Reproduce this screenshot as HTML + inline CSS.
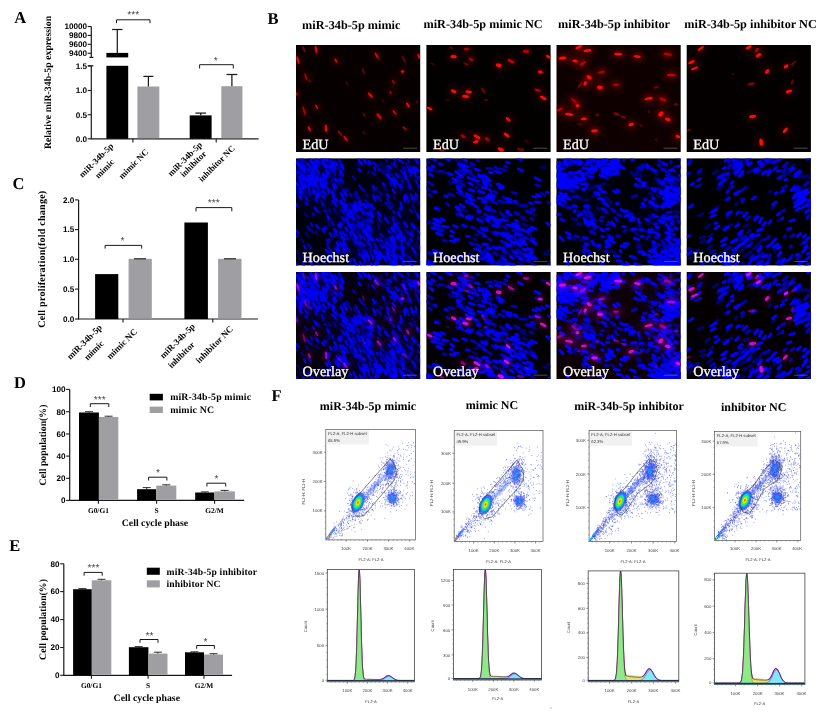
<!DOCTYPE html><html><head><meta charset="utf-8"><title>Figure</title><style>html,body{margin:0;padding:0;background:#fff}svg{display:block}</style></head><body>
<svg width="834" height="725" viewBox="0 0 834 725" text-rendering="geometricPrecision">
<rect width="834" height="725" fill="#fff"/>
<defs><filter id="b1" x="-20%" y="-20%" width="140%" height="140%"><feGaussianBlur stdDeviation="0.45"/></filter><filter id="b2" x="-20%" y="-20%" width="140%" height="140%"><feGaussianBlur stdDeviation="0.7"/></filter><filter id="b4" x="-5%" y="-5%" width="110%" height="110%"><feGaussianBlur stdDeviation="0.7"/></filter><filter id="b5" x="-20%" y="-20%" width="140%" height="140%"><feGaussianBlur stdDeviation="7"/></filter><filter id="mg" x="0" y="0" width="100%" height="100%" color-interpolation-filters="sRGB"><feColorMatrix type="matrix" values="1 0 0 0 0  0 1 0 0 0  0.88 0 1 0 0  0 0 0 1 0"/></filter><filter id="b3" x="-20%" y="-20%" width="140%" height="140%"><feGaussianBlur stdDeviation="3.2"/></filter></defs>
<text x="14.3" y="22.8" font-family="'Liberation Serif','Times New Roman',serif" font-size="16.5" font-weight="bold" text-anchor="start" fill="#000">A</text>
<text x="267.6" y="23.9" font-family="'Liberation Serif','Times New Roman',serif" font-size="16.5" font-weight="bold" text-anchor="start" fill="#000">B</text>
<text x="12.5" y="189" font-family="'Liberation Serif','Times New Roman',serif" font-size="16.5" font-weight="bold" text-anchor="start" fill="#000">C</text>
<text x="14.1" y="387.5" font-family="'Liberation Serif','Times New Roman',serif" font-size="16.5" font-weight="bold" text-anchor="start" fill="#000">D</text>
<text x="9.2" y="551" font-family="'Liberation Serif','Times New Roman',serif" font-size="16.5" font-weight="bold" text-anchor="start" fill="#000">E</text>
<text x="271.5" y="401" font-family="'Liberation Serif','Times New Roman',serif" font-size="16.5" font-weight="bold" text-anchor="start" fill="#000">F</text>
<path d="M91.3 26.4L91.3 57.4" stroke="#1a1a1a" stroke-width="1.2" fill="none"/>
<path d="M91.3 65.8L91.3 138.8" stroke="#1a1a1a" stroke-width="1.2" fill="none"/>
<path d="M89.4 57.4L93.4 57.4" stroke="#1a1a1a" stroke-width="1.2" fill="none"/>
<path d="M87.9 65.8L93.4 65.8" stroke="#1a1a1a" stroke-width="1.2" fill="none"/>
<path d="M87.7 26.5L91.3 26.5" stroke="#1a1a1a" stroke-width="1.1" fill="none"/>
<text x="87.1" y="29.3" font-family="'Liberation Sans',Arial,sans-serif" font-size="8.15" font-weight="bold" text-anchor="end" fill="#000">10000</text>
<path d="M87.7 35.4L91.3 35.4" stroke="#1a1a1a" stroke-width="1.1" fill="none"/>
<text x="87.1" y="38.2" font-family="'Liberation Sans',Arial,sans-serif" font-size="8.15" font-weight="bold" text-anchor="end" fill="#000">9800</text>
<path d="M87.7 44.3L91.3 44.3" stroke="#1a1a1a" stroke-width="1.1" fill="none"/>
<text x="87.1" y="47.1" font-family="'Liberation Sans',Arial,sans-serif" font-size="8.15" font-weight="bold" text-anchor="end" fill="#000">9600</text>
<path d="M87.7 53.3L91.3 53.3" stroke="#1a1a1a" stroke-width="1.1" fill="none"/>
<text x="87.1" y="56.1" font-family="'Liberation Sans',Arial,sans-serif" font-size="8.15" font-weight="bold" text-anchor="end" fill="#000">9400</text>
<path d="M87.7 66L91.3 66" stroke="#1a1a1a" stroke-width="1.1" fill="none"/>
<text x="87.1" y="68.8" font-family="'Liberation Sans',Arial,sans-serif" font-size="8.15" font-weight="bold" text-anchor="end" fill="#000">1.5</text>
<path d="M87.7 90.5L91.3 90.5" stroke="#1a1a1a" stroke-width="1.1" fill="none"/>
<text x="87.1" y="93.3" font-family="'Liberation Sans',Arial,sans-serif" font-size="8.15" font-weight="bold" text-anchor="end" fill="#000">1.0</text>
<path d="M87.7 114.7L91.3 114.7" stroke="#1a1a1a" stroke-width="1.1" fill="none"/>
<text x="87.1" y="117.5" font-family="'Liberation Sans',Arial,sans-serif" font-size="8.15" font-weight="bold" text-anchor="end" fill="#000">0.5</text>
<path d="M87.7 138.8L91.3 138.8" stroke="#1a1a1a" stroke-width="1.1" fill="none"/>
<text x="87.1" y="141.6" font-family="'Liberation Sans',Arial,sans-serif" font-size="8.15" font-weight="bold" text-anchor="end" fill="#000">0.0</text>
<path d="M90.7 138.8L258.6 138.8" stroke="#1a1a1a" stroke-width="1.2" fill="none"/>
<path d="M132.9 138.8L132.9 142.4" stroke="#1a1a1a" stroke-width="1.1" fill="none"/>
<path d="M216.2 138.8L216.2 142.4" stroke="#1a1a1a" stroke-width="1.1" fill="none"/>
<rect x="106.4" y="65.8" width="21.8" height="73" fill="#000"/>
<rect x="106.4" y="52.9" width="21.8" height="4.5" fill="#000"/>
<path d="M117.3 29.5L117.3 53" stroke="#1a1a1a" stroke-width="1.25" fill="none"/>
<path d="M112.1 29.5L122.5 29.5" stroke="#1a1a1a" stroke-width="1.25" fill="none"/>
<rect x="137.4" y="86.5" width="21.9" height="51.7" fill="#9f9ea2"/>
<path d="M148.4 76.4L148.4 86.5" stroke="#1a1a1a" stroke-width="1.25" fill="none"/>
<path d="M143.4 76.4L153.4 76.4" stroke="#1a1a1a" stroke-width="1.25" fill="none"/>
<rect x="189.7" y="115.4" width="21.9" height="23.4" fill="#000"/>
<path d="M200.7 113.1L200.7 115.5" stroke="#1a1a1a" stroke-width="1.25" fill="none"/>
<path d="M195.4 113.1L206 113.1" stroke="#1a1a1a" stroke-width="1.25" fill="none"/>
<rect x="221.3" y="86.2" width="21.1" height="52" fill="#9f9ea2"/>
<path d="M231.9 74.5L231.9 86.2" stroke="#1a1a1a" stroke-width="1.25" fill="none"/>
<path d="M226.5 74.5L237.3 74.5" stroke="#1a1a1a" stroke-width="1.25" fill="none"/>
<path d="M116.5 23.2V19.8H150V23.2" stroke="#1a1a1a" stroke-width="1" fill="none"/>
<text x="133.2" y="18.4" font-family="'Liberation Sans',Arial,sans-serif" font-size="10.3" font-weight="normal" text-anchor="middle" fill="#3a3a3a">***</text>
<path d="M199.6 68.5V64.7H233.3V68.5" stroke="#1a1a1a" stroke-width="1" fill="none"/>
<text x="215.8" y="63.7" font-family="'Liberation Sans',Arial,sans-serif" font-size="10.3" font-weight="normal" text-anchor="middle" fill="#3a3a3a">*</text>
<text x="50.8" y="82.5" font-family="'Liberation Serif','Times New Roman',serif" font-size="9.8" font-weight="bold" text-anchor="middle" fill="#000" transform="rotate(-90 50.8 82.5)">Relative miR-34b-5p expression</text>
<text x="98.3" y="162.3" font-family="'Liberation Serif','Times New Roman',serif" font-size="8.7" font-weight="bold" text-anchor="middle" fill="#000" transform="rotate(-45 98.3 162.3)">miR-34b-5p</text>
<text x="106.6" y="170.8" font-family="'Liberation Serif','Times New Roman',serif" font-size="8.7" font-weight="bold" text-anchor="middle" fill="#000" transform="rotate(-45 106.6 170.8)">mimic</text>
<text x="135.6" y="166" font-family="'Liberation Serif','Times New Roman',serif" font-size="8.7" font-weight="bold" text-anchor="middle" fill="#000" transform="rotate(-45 135.6 166)">mimic NC</text>
<text x="187" y="161" font-family="'Liberation Serif','Times New Roman',serif" font-size="8.7" font-weight="bold" text-anchor="middle" fill="#000" transform="rotate(-45 187 161)">miR-34b-5p</text>
<text x="195.3" y="166" font-family="'Liberation Serif','Times New Roman',serif" font-size="8.7" font-weight="bold" text-anchor="middle" fill="#000" transform="rotate(-45 195.3 166)">inhibitor</text>
<text x="218.7" y="165.6" font-family="'Liberation Serif','Times New Roman',serif" font-size="8.7" font-weight="bold" text-anchor="middle" fill="#000" transform="rotate(-45 218.7 165.6)">inhibitor NC</text>
<path d="M78.6 199.9L78.6 319.2" stroke="#1a1a1a" stroke-width="1.2" fill="none"/>
<path d="M75 199.9L78.6 199.9" stroke="#1a1a1a" stroke-width="1.1" fill="none"/>
<text x="74.4" y="202.7" font-family="'Liberation Sans',Arial,sans-serif" font-size="8.15" font-weight="bold" text-anchor="end" fill="#000">2.0</text>
<path d="M75 229.6L78.6 229.6" stroke="#1a1a1a" stroke-width="1.1" fill="none"/>
<text x="74.4" y="232.4" font-family="'Liberation Sans',Arial,sans-serif" font-size="8.15" font-weight="bold" text-anchor="end" fill="#000">1.5</text>
<path d="M75 259.3L78.6 259.3" stroke="#1a1a1a" stroke-width="1.1" fill="none"/>
<text x="74.4" y="262.1" font-family="'Liberation Sans',Arial,sans-serif" font-size="8.15" font-weight="bold" text-anchor="end" fill="#000">1.0</text>
<path d="M75 289.1L78.6 289.1" stroke="#1a1a1a" stroke-width="1.1" fill="none"/>
<text x="74.4" y="291.9" font-family="'Liberation Sans',Arial,sans-serif" font-size="8.15" font-weight="bold" text-anchor="end" fill="#000">0.5</text>
<path d="M75 319L78.6 319" stroke="#1a1a1a" stroke-width="1.1" fill="none"/>
<text x="74.4" y="321.8" font-family="'Liberation Sans',Arial,sans-serif" font-size="8.15" font-weight="bold" text-anchor="end" fill="#000">0.0</text>
<path d="M78 319L258 319" stroke="#1a1a1a" stroke-width="1.2" fill="none"/>
<path d="M123 319L123 322.6" stroke="#1a1a1a" stroke-width="1.1" fill="none"/>
<path d="M212.8 319L212.8 322.6" stroke="#1a1a1a" stroke-width="1.1" fill="none"/>
<rect x="95.1" y="274.1" width="23.2" height="44.9" fill="#000"/>
<rect x="128.6" y="258.8" width="23.2" height="59.6" fill="#9f9ea2"/>
<rect x="184.4" y="222.5" width="23.5" height="96.5" fill="#000"/>
<rect x="218.1" y="258.8" width="23.4" height="59.6" fill="#9f9ea2"/>
<path d="M134 258.8L146 258.8" stroke="#1a1a1a" stroke-width="1.1" fill="none"/>
<path d="M224 258.8L236 258.8" stroke="#1a1a1a" stroke-width="1.1" fill="none"/>
<path d="M105.1 248.6V245.4H141.7V248.6" stroke="#1a1a1a" stroke-width="1" fill="none"/>
<text x="122.6" y="243.5" font-family="'Liberation Sans',Arial,sans-serif" font-size="10.3" font-weight="normal" text-anchor="middle" fill="#3a3a3a">*</text>
<path d="M196 211.4V207.6H231.8V211.4" stroke="#1a1a1a" stroke-width="1" fill="none"/>
<text x="213.7" y="206" font-family="'Liberation Sans',Arial,sans-serif" font-size="10.3" font-weight="normal" text-anchor="middle" fill="#3a3a3a">***</text>
<text x="45.4" y="259.2" font-family="'Liberation Serif','Times New Roman',serif" font-size="10.1" font-weight="bold" text-anchor="middle" fill="#000" transform="rotate(-90 45.4 259.2)" letter-spacing="0.2">Cell proliferation(fold change)</text>
<text x="86.5" y="344" font-family="'Liberation Serif','Times New Roman',serif" font-size="8.9" font-weight="bold" text-anchor="middle" fill="#000" transform="rotate(-45 86.5 344)">miR-34b-5p</text>
<text x="96" y="352.5" font-family="'Liberation Serif','Times New Roman',serif" font-size="8.9" font-weight="bold" text-anchor="middle" fill="#000" transform="rotate(-45 96 352.5)">mimic</text>
<text x="124" y="346" font-family="'Liberation Serif','Times New Roman',serif" font-size="8.9" font-weight="bold" text-anchor="middle" fill="#000" transform="rotate(-45 124 346)">mimic NC</text>
<text x="179.5" y="343" font-family="'Liberation Serif','Times New Roman',serif" font-size="8.9" font-weight="bold" text-anchor="middle" fill="#000" transform="rotate(-45 179.5 343)">miR-34b-5p</text>
<text x="183.5" y="357" font-family="'Liberation Serif','Times New Roman',serif" font-size="8.9" font-weight="bold" text-anchor="middle" fill="#000" transform="rotate(-45 183.5 357)">inhibitor</text>
<text x="216.5" y="346.5" font-family="'Liberation Serif','Times New Roman',serif" font-size="8.9" font-weight="bold" text-anchor="middle" fill="#000" transform="rotate(-45 216.5 346.5)">inhibitor NC</text>
<path d="M69.7 389.4L69.7 500.4" stroke="#1a1a1a" stroke-width="1.2" fill="none"/>
<path d="M66.1 389.4L69.7 389.4" stroke="#1a1a1a" stroke-width="1.1" fill="none"/>
<text x="65.5" y="392.2" font-family="'Liberation Sans',Arial,sans-serif" font-size="8.15" font-weight="bold" text-anchor="end" fill="#000">100</text>
<path d="M66.1 411.7L69.7 411.7" stroke="#1a1a1a" stroke-width="1.1" fill="none"/>
<text x="65.5" y="414.5" font-family="'Liberation Sans',Arial,sans-serif" font-size="8.15" font-weight="bold" text-anchor="end" fill="#000">80</text>
<path d="M66.1 434L69.7 434" stroke="#1a1a1a" stroke-width="1.1" fill="none"/>
<text x="65.5" y="436.8" font-family="'Liberation Sans',Arial,sans-serif" font-size="8.15" font-weight="bold" text-anchor="end" fill="#000">60</text>
<path d="M66.1 456.1L69.7 456.1" stroke="#1a1a1a" stroke-width="1.1" fill="none"/>
<text x="65.5" y="458.9" font-family="'Liberation Sans',Arial,sans-serif" font-size="8.15" font-weight="bold" text-anchor="end" fill="#000">40</text>
<path d="M66.1 478.3L69.7 478.3" stroke="#1a1a1a" stroke-width="1.1" fill="none"/>
<text x="65.5" y="481.1" font-family="'Liberation Sans',Arial,sans-serif" font-size="8.15" font-weight="bold" text-anchor="end" fill="#000">20</text>
<path d="M66.1 500.4L69.7 500.4" stroke="#1a1a1a" stroke-width="1.1" fill="none"/>
<text x="65.5" y="503.2" font-family="'Liberation Sans',Arial,sans-serif" font-size="8.15" font-weight="bold" text-anchor="end" fill="#000">0</text>
<path d="M69.1 500.4L244.2 500.4" stroke="#1a1a1a" stroke-width="1.2" fill="none"/>
<rect x="79" y="412.5" width="19.9" height="87.9" fill="#000"/>
<path d="M85 411.7L93 411.7" stroke="#1a1a1a" stroke-width="0.9" fill="none"/>
<path d="M89 411.7L89 412.5" stroke="#1a1a1a" stroke-width="0.9" fill="none"/>
<rect x="98.9" y="417" width="19.4" height="82.8" fill="#9f9ea2"/>
<path d="M104.6 416.2L112.6 416.2" stroke="#1a1a1a" stroke-width="0.9" fill="none"/>
<path d="M108.6 416.2L108.6 417" stroke="#1a1a1a" stroke-width="0.9" fill="none"/>
<rect x="137.1" y="489.2" width="19.2" height="11.2" fill="#000"/>
<path d="M142.7 487.6L150.7 487.6" stroke="#1a1a1a" stroke-width="0.9" fill="none"/>
<path d="M146.7 487.6L146.7 489.2" stroke="#1a1a1a" stroke-width="0.9" fill="none"/>
<rect x="156.3" y="485.6" width="20" height="14.2" fill="#9f9ea2"/>
<path d="M162.3 484.8L170.3 484.8" stroke="#1a1a1a" stroke-width="0.9" fill="none"/>
<path d="M166.3 484.8L166.3 485.6" stroke="#1a1a1a" stroke-width="0.9" fill="none"/>
<rect x="195.2" y="492.5" width="19.2" height="7.9" fill="#000"/>
<path d="M200.8 491.9L208.8 491.9" stroke="#1a1a1a" stroke-width="0.9" fill="none"/>
<path d="M204.8 491.9L204.8 492.5" stroke="#1a1a1a" stroke-width="0.9" fill="none"/>
<rect x="214.4" y="491.4" width="20.5" height="8.4" fill="#9f9ea2"/>
<path d="M220.7 490.4L228.7 490.4" stroke="#1a1a1a" stroke-width="0.9" fill="none"/>
<path d="M224.7 490.4L224.7 491.4" stroke="#1a1a1a" stroke-width="0.9" fill="none"/>
<path d="M90.3 407V403.7H108.8V407" stroke="#1a1a1a" stroke-width="1" fill="none"/>
<text x="99.8" y="402.8" font-family="'Liberation Sans',Arial,sans-serif" font-size="10.3" font-weight="normal" text-anchor="middle" fill="#3a3a3a">***</text>
<path d="M148.6 480.5V477.2H166.9V480.5" stroke="#1a1a1a" stroke-width="1" fill="none"/>
<text x="158" y="476.4" font-family="'Liberation Sans',Arial,sans-serif" font-size="10.3" font-weight="normal" text-anchor="middle" fill="#3a3a3a">*</text>
<path d="M206.9 486.5V483.2H225.7V486.5" stroke="#1a1a1a" stroke-width="1" fill="none"/>
<text x="216.6" y="482.4" font-family="'Liberation Sans',Arial,sans-serif" font-size="10.3" font-weight="normal" text-anchor="middle" fill="#3a3a3a">*</text>
<path d="M98.4 500.4L98.4 503.8" stroke="#1a1a1a" stroke-width="1.1" fill="none"/>
<text x="98.4" y="513" font-family="'Liberation Serif','Times New Roman',serif" font-size="7.4" font-weight="bold" text-anchor="middle" fill="#000">G0/G1</text>
<path d="M156.6 500.4L156.6 503.8" stroke="#1a1a1a" stroke-width="1.1" fill="none"/>
<text x="156.6" y="513" font-family="'Liberation Serif','Times New Roman',serif" font-size="7.4" font-weight="bold" text-anchor="middle" fill="#000">S</text>
<path d="M214.6 500.4L214.6 503.8" stroke="#1a1a1a" stroke-width="1.1" fill="none"/>
<text x="214.6" y="513" font-family="'Liberation Serif','Times New Roman',serif" font-size="7.4" font-weight="bold" text-anchor="middle" fill="#000">G2/M</text>
<text x="155" y="525.6" font-family="'Liberation Serif','Times New Roman',serif" font-size="9.8" font-weight="bold" text-anchor="middle" fill="#000">Cell cycle phase</text>
<text x="46.2" y="445" font-family="'Liberation Serif','Times New Roman',serif" font-size="9.8" font-weight="bold" text-anchor="middle" fill="#000" transform="rotate(-90 46.2 445)">Cell population(%)</text>
<rect x="149.7" y="393.8" width="13.2" height="6.6" fill="#000"/>
<rect x="149.7" y="406.6" width="13.2" height="6.4" fill="#9f9ea2"/>
<text x="170.2" y="400.4" font-family="'Liberation Serif','Times New Roman',serif" font-size="9.8" font-weight="bold" text-anchor="start" fill="#000" letter-spacing="0.15">miR-34b-5p mimic</text>
<text x="170.2" y="413.1" font-family="'Liberation Serif','Times New Roman',serif" font-size="9.8" font-weight="bold" text-anchor="start" fill="#000" letter-spacing="0.15">mimic NC</text>
<path d="M63.8 563.8L63.8 675.3" stroke="#1a1a1a" stroke-width="1.2" fill="none"/>
<path d="M60.2 563.8L63.8 563.8" stroke="#1a1a1a" stroke-width="1.1" fill="none"/>
<text x="59.6" y="566.6" font-family="'Liberation Sans',Arial,sans-serif" font-size="8.15" font-weight="bold" text-anchor="end" fill="#000">80</text>
<path d="M60.2 591.6L63.8 591.6" stroke="#1a1a1a" stroke-width="1.1" fill="none"/>
<text x="59.6" y="594.4" font-family="'Liberation Sans',Arial,sans-serif" font-size="8.15" font-weight="bold" text-anchor="end" fill="#000">60</text>
<path d="M60.2 619.6L63.8 619.6" stroke="#1a1a1a" stroke-width="1.1" fill="none"/>
<text x="59.6" y="622.4" font-family="'Liberation Sans',Arial,sans-serif" font-size="8.15" font-weight="bold" text-anchor="end" fill="#000">40</text>
<path d="M60.2 647.5L63.8 647.5" stroke="#1a1a1a" stroke-width="1.1" fill="none"/>
<text x="59.6" y="650.3" font-family="'Liberation Sans',Arial,sans-serif" font-size="8.15" font-weight="bold" text-anchor="end" fill="#000">20</text>
<path d="M60.2 675.3L63.8 675.3" stroke="#1a1a1a" stroke-width="1.1" fill="none"/>
<text x="59.6" y="678.1" font-family="'Liberation Sans',Arial,sans-serif" font-size="8.15" font-weight="bold" text-anchor="end" fill="#000">0</text>
<path d="M63.2 675.3L232.1 675.3" stroke="#1a1a1a" stroke-width="1.2" fill="none"/>
<rect x="73.1" y="589.2" width="18.7" height="86.1" fill="#000"/>
<path d="M78.4 588.6L86.4 588.6" stroke="#1a1a1a" stroke-width="0.9" fill="none"/>
<path d="M82.4 588.6L82.4 589.2" stroke="#1a1a1a" stroke-width="0.9" fill="none"/>
<rect x="91.8" y="580.3" width="19.5" height="94.4" fill="#9f9ea2"/>
<path d="M97.5 579.3L105.5 579.3" stroke="#1a1a1a" stroke-width="0.9" fill="none"/>
<path d="M101.5 579.3L101.5 580.3" stroke="#1a1a1a" stroke-width="0.9" fill="none"/>
<rect x="128.9" y="647.2" width="19.5" height="28.1" fill="#000"/>
<path d="M134.7 646.6L142.7 646.6" stroke="#1a1a1a" stroke-width="0.9" fill="none"/>
<path d="M138.7 646.6L138.7 647.2" stroke="#1a1a1a" stroke-width="0.9" fill="none"/>
<rect x="148.4" y="653.6" width="19.1" height="21.1" fill="#9f9ea2"/>
<path d="M153.9 652.2L161.9 652.2" stroke="#1a1a1a" stroke-width="0.9" fill="none"/>
<path d="M157.9 652.2L157.9 653.6" stroke="#1a1a1a" stroke-width="0.9" fill="none"/>
<rect x="185" y="652.3" width="19" height="23" fill="#000"/>
<path d="M190.5 651.8L198.5 651.8" stroke="#1a1a1a" stroke-width="0.9" fill="none"/>
<path d="M194.5 651.8L194.5 652.3" stroke="#1a1a1a" stroke-width="0.9" fill="none"/>
<rect x="204" y="654.5" width="19" height="20.2" fill="#9f9ea2"/>
<path d="M209.5 653.7L217.5 653.7" stroke="#1a1a1a" stroke-width="0.9" fill="none"/>
<path d="M213.5 653.7L213.5 654.5" stroke="#1a1a1a" stroke-width="0.9" fill="none"/>
<path d="M84.1 575.7V572.4H102.2V575.7" stroke="#1a1a1a" stroke-width="1" fill="none"/>
<text x="93.4" y="571.3" font-family="'Liberation Sans',Arial,sans-serif" font-size="10.3" font-weight="normal" text-anchor="middle" fill="#3a3a3a">***</text>
<path d="M140 642.8V639.5H158V642.8" stroke="#1a1a1a" stroke-width="1" fill="none"/>
<text x="149.5" y="638.9" font-family="'Liberation Sans',Arial,sans-serif" font-size="10.3" font-weight="normal" text-anchor="middle" fill="#3a3a3a">**</text>
<path d="M196.7 648.8V645.5H214.4V648.8" stroke="#1a1a1a" stroke-width="1" fill="none"/>
<text x="205.6" y="645.3" font-family="'Liberation Sans',Arial,sans-serif" font-size="10.3" font-weight="normal" text-anchor="middle" fill="#3a3a3a">*</text>
<path d="M91.4 675.3L91.4 678.7" stroke="#1a1a1a" stroke-width="1.1" fill="none"/>
<text x="91.4" y="687.9" font-family="'Liberation Serif','Times New Roman',serif" font-size="7.4" font-weight="bold" text-anchor="middle" fill="#000">G0/G1</text>
<path d="M148.1 675.3L148.1 678.7" stroke="#1a1a1a" stroke-width="1.1" fill="none"/>
<text x="148.1" y="687.9" font-family="'Liberation Serif','Times New Roman',serif" font-size="7.4" font-weight="bold" text-anchor="middle" fill="#000">S</text>
<path d="M204 675.3L204 678.7" stroke="#1a1a1a" stroke-width="1.1" fill="none"/>
<text x="204" y="687.9" font-family="'Liberation Serif','Times New Roman',serif" font-size="7.4" font-weight="bold" text-anchor="middle" fill="#000">G2/M</text>
<text x="146.8" y="700.5" font-family="'Liberation Serif','Times New Roman',serif" font-size="9.8" font-weight="bold" text-anchor="middle" fill="#000">Cell cycle phase</text>
<text x="46.2" y="619.5" font-family="'Liberation Serif','Times New Roman',serif" font-size="9.8" font-weight="bold" text-anchor="middle" fill="#000" transform="rotate(-90 46.2 619.5)">Cell population(%)</text>
<rect x="146.8" y="567.7" width="13" height="7.1" fill="#000"/>
<rect x="146.8" y="580.3" width="13" height="7.1" fill="#9f9ea2"/>
<text x="166.5" y="574.5" font-family="'Liberation Serif','Times New Roman',serif" font-size="9.6" font-weight="bold" text-anchor="start" fill="#000" letter-spacing="0.15">miR-34b-5p inhibitor</text>
<text x="166.5" y="587.1" font-family="'Liberation Serif','Times New Roman',serif" font-size="9.6" font-weight="bold" text-anchor="start" fill="#000" letter-spacing="0.15">inhibitor NC</text>
<text x="302.1" y="28.6" font-family="'Liberation Serif','Times New Roman',serif" font-size="12.25" font-weight="bold" text-anchor="start" fill="#000">miR-34b-5p mimic</text>
<text x="423.5" y="27.6" font-family="'Liberation Serif','Times New Roman',serif" font-size="12.25" font-weight="bold" text-anchor="start" fill="#000">miR-34b-5p mimic NC</text>
<text x="558.1" y="27.6" font-family="'Liberation Serif','Times New Roman',serif" font-size="12.25" font-weight="bold" text-anchor="start" fill="#000">miR-34b-5p inhibitor</text>
<text x="684.3" y="28.2" font-family="'Liberation Serif','Times New Roman',serif" font-size="12.25" font-weight="bold" text-anchor="start" fill="#000">miR-34b-5p inhibitor NC</text>
<defs>
<g id="r0"><g filter="url(#b3)"><ellipse cx="316.1" cy="49.5" rx="6.3" ry="3.7" transform="rotate(80 316.1 49.5)" fill="#c00000" opacity="0.25"/><ellipse cx="297.9" cy="60.1" rx="6.6" ry="3.7" transform="rotate(75 297.9 60.1)" fill="#c00000" opacity="0.25"/><ellipse cx="335.8" cy="60.5" rx="5" ry="3.5" transform="rotate(65 335.8 60.5)" fill="#c00000" opacity="0.25"/><ellipse cx="376.6" cy="55.5" rx="6.3" ry="3.5" transform="rotate(60 376.6 55.5)" fill="#c00000" opacity="0.25"/><ellipse cx="418.7" cy="56.2" rx="5.2" ry="3.7" transform="rotate(70 418.7 56.2)" fill="#c00000" opacity="0.25"/><ellipse cx="402.6" cy="71.5" rx="4.3" ry="4" transform="rotate(0 402.6 71.5)" fill="#c00000" opacity="0.25"/><ellipse cx="305.7" cy="76.5" rx="5.9" ry="3.5" transform="rotate(75 305.7 76.5)" fill="#c00000" opacity="0.25"/><ellipse cx="393.4" cy="82" rx="4.9" ry="3.4" transform="rotate(60 393.4 82)" fill="#c00000" opacity="0.25"/><ellipse cx="390.6" cy="92.4" rx="4.2" ry="3.4" transform="rotate(50 390.6 92.4)" fill="#c00000" opacity="0.25"/><ellipse cx="370.4" cy="95.2" rx="5.9" ry="3.8" transform="rotate(50 370.4 95.2)" fill="#c00000" opacity="0.25"/><ellipse cx="296.8" cy="94.1" rx="4.5" ry="3.3" transform="rotate(75 296.8 94.1)" fill="#c00000" opacity="0.25"/><ellipse cx="304.1" cy="110.8" rx="7.2" ry="3.5" transform="rotate(75 304.1 110.8)" fill="#c00000" opacity="0.25"/><ellipse cx="316.6" cy="106.9" rx="5.2" ry="3.5" transform="rotate(62 316.6 106.9)" fill="#c00000" opacity="0.25"/><ellipse cx="407.8" cy="105" rx="5.5" ry="3.7" transform="rotate(58 407.8 105)" fill="#c00000" opacity="0.25"/><ellipse cx="394.5" cy="112.4" rx="5.6" ry="3.5" transform="rotate(50 394.5 112.4)" fill="#c00000" opacity="0.25"/><ellipse cx="379" cy="116.3" rx="6" ry="3.8" transform="rotate(52 379 116.3)" fill="#c00000" opacity="0.25"/><ellipse cx="309.3" cy="128.7" rx="5.2" ry="3.7" transform="rotate(65 309.3 128.7)" fill="#c00000" opacity="0.25"/><ellipse cx="326" cy="128.4" rx="6.3" ry="3.8" transform="rotate(85 326 128.4)" fill="#c00000" opacity="0.25"/><ellipse cx="345.4" cy="138.4" rx="5.8" ry="3.5" transform="rotate(55 345.4 138.4)" fill="#c00000" opacity="0.25"/></g><g filter="url(#b2)"><ellipse cx="303.8" cy="49.2" rx="3.3" ry="1" transform="rotate(70 303.8 49.2)" fill="#820402"/><ellipse cx="316.1" cy="49.5" rx="3.8" ry="1.2" transform="rotate(80 316.1 49.5)" fill="#d80806"/><ellipse cx="297.9" cy="60.1" rx="4.1" ry="1.2" transform="rotate(75 297.9 60.1)" fill="#d80806"/><ellipse cx="335.8" cy="60.5" rx="2.5" ry="1" transform="rotate(65 335.8 60.5)" fill="#d80806"/><ellipse cx="376.6" cy="55.5" rx="3.8" ry="1" transform="rotate(60 376.6 55.5)" fill="#d80806"/><ellipse cx="403.9" cy="59.4" rx="4.1" ry="0.9" transform="rotate(65 403.9 59.4)" fill="#780301"/><ellipse cx="418.7" cy="56.2" rx="2.7" ry="1.2" transform="rotate(70 418.7 56.2)" fill="#d80806"/><ellipse cx="402.6" cy="71.5" rx="1.8" ry="1.5" transform="rotate(0 402.6 71.5)" fill="#d80806"/><ellipse cx="363.4" cy="71.1" rx="3.3" ry="1" transform="rotate(70 363.4 71.1)" fill="#6e0301"/><ellipse cx="305.7" cy="76.5" rx="3.4" ry="1" transform="rotate(75 305.7 76.5)" fill="#aa0502"/><ellipse cx="309.6" cy="80.7" rx="2.4" ry="0.9" transform="rotate(30 309.6 80.7)" fill="#6e0301"/><ellipse cx="393.4" cy="82" rx="2.4" ry="0.9" transform="rotate(60 393.4 82)" fill="#aa0502"/><ellipse cx="390.6" cy="92.4" rx="1.7" ry="0.9" transform="rotate(50 390.6 92.4)" fill="#aa0502"/><ellipse cx="370.4" cy="95.2" rx="3.4" ry="1.3" transform="rotate(50 370.4 95.2)" fill="#d80806"/><ellipse cx="347" cy="83.5" rx="2.6" ry="0.9" transform="rotate(60 347 83.5)" fill="#460100"/><ellipse cx="296.8" cy="94.1" rx="2" ry="0.9" transform="rotate(75 296.8 94.1)" fill="#aa0502"/><ellipse cx="304.1" cy="110.8" rx="4.7" ry="1" transform="rotate(75 304.1 110.8)" fill="#aa0502"/><ellipse cx="316.6" cy="106.9" rx="2.7" ry="1" transform="rotate(62 316.6 106.9)" fill="#d80806"/><ellipse cx="407.8" cy="105" rx="3" ry="1.2" transform="rotate(58 407.8 105)" fill="#d80806"/><ellipse cx="394.5" cy="112.4" rx="3.1" ry="1" transform="rotate(50 394.5 112.4)" fill="#d80806"/><ellipse cx="379" cy="116.3" rx="3.5" ry="1.3" transform="rotate(52 379 116.3)" fill="#d80806"/><ellipse cx="364.1" cy="114.7" rx="2.7" ry="0.9" transform="rotate(60 364.1 114.7)" fill="#6e0301"/><ellipse cx="309.3" cy="128.7" rx="2.7" ry="1.2" transform="rotate(65 309.3 128.7)" fill="#d80806"/><ellipse cx="326" cy="128.4" rx="3.8" ry="1.3" transform="rotate(85 326 128.4)" fill="#d80806"/><ellipse cx="404.7" cy="128.4" rx="3" ry="1.2" transform="rotate(38 404.7 128.4)" fill="#960402"/><ellipse cx="340" cy="133.1" rx="3.3" ry="1" transform="rotate(55 340 133.1)" fill="#960402"/><ellipse cx="345.4" cy="138.4" rx="3.3" ry="1" transform="rotate(55 345.4 138.4)" fill="#d80806"/><ellipse cx="364.1" cy="132.6" rx="2.7" ry="0.9" transform="rotate(50 364.1 132.6)" fill="#500201"/><ellipse cx="417.1" cy="102.2" rx="2" ry="0.9" transform="rotate(70 417.1 102.2)" fill="#5a0201"/><ellipse cx="382.8" cy="100.7" rx="2" ry="0.9" transform="rotate(50 382.8 100.7)" fill="#460100"/></g></g>
<g id="h0"><g filter="url(#b5)"><rect x="294" y="156.4" width="19.5" height="19.3" fill="#0303ff" opacity="0.18"/><rect x="309.5" y="156.4" width="19.5" height="19.3" fill="#0303ff" opacity="0.15"/><rect x="325.1" y="156.4" width="19.5" height="19.3" fill="#0303ff" opacity="0.15"/><rect x="340.6" y="156.4" width="19.5" height="19.3" fill="#0303ff" opacity="0.03"/><rect x="356.1" y="156.4" width="19.5" height="19.3" fill="#0303ff" opacity="0.07"/><rect x="371.6" y="156.4" width="19.5" height="19.3" fill="#0303ff" opacity="0.07"/><rect x="387.1" y="156.4" width="19.5" height="19.3" fill="#0303ff" opacity="0.09"/><rect x="402.7" y="156.4" width="19.5" height="19.3" fill="#0303ff" opacity="0.12"/><rect x="294" y="171.7" width="19.5" height="19.3" fill="#0303ff" opacity="0.18"/><rect x="309.5" y="171.7" width="19.5" height="19.3" fill="#0303ff" opacity="0.18"/><rect x="325.1" y="171.7" width="19.5" height="19.3" fill="#0303ff" opacity="0.09"/><rect x="356.1" y="171.7" width="19.5" height="19.3" fill="#0303ff" opacity="0.03"/><rect x="371.6" y="171.7" width="19.5" height="19.3" fill="#0303ff" opacity="0.05"/><rect x="387.1" y="171.7" width="19.5" height="19.3" fill="#0303ff" opacity="0.12"/><rect x="402.7" y="171.7" width="19.5" height="19.3" fill="#0303ff" opacity="0.09"/><rect x="294" y="187" width="19.5" height="19.3" fill="#0303ff" opacity="0.12"/><rect x="309.5" y="187" width="19.5" height="19.3" fill="#0303ff" opacity="0.12"/><rect x="325.1" y="187" width="19.5" height="19.3" fill="#0303ff" opacity="0.09"/><rect x="340.6" y="187" width="19.5" height="19.3" fill="#0303ff" opacity="0.07"/><rect x="356.1" y="187" width="19.5" height="19.3" fill="#0303ff" opacity="0.07"/><rect x="371.6" y="187" width="19.5" height="19.3" fill="#0303ff" opacity="0.07"/><rect x="387.1" y="187" width="19.5" height="19.3" fill="#0303ff" opacity="0.05"/><rect x="402.7" y="187" width="19.5" height="19.3" fill="#0303ff" opacity="0.09"/><rect x="294" y="202.3" width="19.5" height="19.3" fill="#0303ff" opacity="0.03"/><rect x="309.5" y="202.3" width="19.5" height="19.3" fill="#0303ff" opacity="0.07"/><rect x="325.1" y="202.3" width="19.5" height="19.3" fill="#0303ff" opacity="0.09"/><rect x="340.6" y="202.3" width="19.5" height="19.3" fill="#0303ff" opacity="0.15"/><rect x="356.1" y="202.3" width="19.5" height="19.3" fill="#0303ff" opacity="0.15"/><rect x="371.6" y="202.3" width="19.5" height="19.3" fill="#0303ff" opacity="0.05"/><rect x="387.1" y="202.3" width="19.5" height="19.3" fill="#0303ff" opacity="0.09"/><rect x="402.7" y="202.3" width="19.5" height="19.3" fill="#0303ff" opacity="0.07"/><rect x="294" y="217.5" width="19.5" height="19.3" fill="#0303ff" opacity="0.03"/><rect x="309.5" y="217.5" width="19.5" height="19.3" fill="#0303ff" opacity="0.03"/><rect x="325.1" y="217.5" width="19.5" height="19.3" fill="#0303ff" opacity="0.07"/><rect x="340.6" y="217.5" width="19.5" height="19.3" fill="#0303ff" opacity="0.15"/><rect x="356.1" y="217.5" width="19.5" height="19.3" fill="#0303ff" opacity="0.15"/><rect x="371.6" y="217.5" width="19.5" height="19.3" fill="#0303ff" opacity="0.05"/><rect x="387.1" y="217.5" width="19.5" height="19.3" fill="#0303ff" opacity="0.15"/><rect x="402.7" y="217.5" width="19.5" height="19.3" fill="#0303ff" opacity="0.09"/><rect x="294" y="232.8" width="19.5" height="19.3" fill="#0303ff" opacity="0.05"/><rect x="325.1" y="232.8" width="19.5" height="19.3" fill="#0303ff" opacity="0.07"/><rect x="340.6" y="232.8" width="19.5" height="19.3" fill="#0303ff" opacity="0.12"/><rect x="356.1" y="232.8" width="19.5" height="19.3" fill="#0303ff" opacity="0.15"/><rect x="371.6" y="232.8" width="19.5" height="19.3" fill="#0303ff" opacity="0.12"/><rect x="387.1" y="232.8" width="19.5" height="19.3" fill="#0303ff" opacity="0.15"/><rect x="402.7" y="232.8" width="19.5" height="19.3" fill="#0303ff" opacity="0.12"/><rect x="294" y="248.1" width="19.5" height="19.3" fill="#0303ff" opacity="0.03"/><rect x="309.5" y="248.1" width="19.5" height="19.3" fill="#0303ff" opacity="0.05"/><rect x="325.1" y="248.1" width="19.5" height="19.3" fill="#0303ff" opacity="0.05"/><rect x="340.6" y="248.1" width="19.5" height="19.3" fill="#0303ff" opacity="0.07"/><rect x="356.1" y="248.1" width="19.5" height="19.3" fill="#0303ff" opacity="0.15"/><rect x="371.6" y="248.1" width="19.5" height="19.3" fill="#0303ff" opacity="0.15"/><rect x="387.1" y="248.1" width="19.5" height="19.3" fill="#0303ff" opacity="0.15"/><rect x="402.7" y="248.1" width="19.5" height="19.3" fill="#0303ff" opacity="0.09"/></g><g filter="url(#b4)" stroke="#0303ff" stroke-width="2.3" stroke-linecap="round" fill="none"><path d="M301.9 168.1l1.7 2.8M300.6 169.8l2.2 2.8M310.3 168.1l1.1 1.5M304 160.1l2.4 3.7M307.9 168.7l1.7 2.7M297.5 168.4l2.2 3.9M303.6 168.5l1.4 4.2M305.3 169.3l2 2.8M305.1 171l0.7 1.5M298 164.9l1.7 3M320.2 161l1.5 3.5M311.2 171.7l2 3.7M315.6 160.5l1.4 3.3M320.1 160.3l2.3 3.6M323.4 165.7l1.9 3.2M324.3 157.9l2.2 2.7M311.3 168.3l1.5 3.3M312.7 171.7l1.9 2.8M325.5 163l1 1.7M313.6 160l0.6 1.7M313.3 163.7l2.6 4M327.3 169.4l3 3.6M334.8 160.8l1.4 3.8M328.4 167.5l2.2 4.3M328.8 166.6l2.1 3.1M332.8 167.8l1.7 3M341 172.6l1.7 1.9M328.1 160.2l0.9 2.8M341.7 168.3l1.2 4.2M334.4 163.2l1 1.6M338.2 167.3l2.5 3.1M337.3 164.7l2 3.2M368.2 171.4l0.5 2.3M364.1 159.3l1.5 2M357.5 164l2.1 2M381 170.3l1.2 1.8M380.7 162l1.6 3.6M380.7 168.8l2.9 3.7M384.3 170.5l1.4 2.6M377.2 163.6l0.9 1.6M385.2 166l2.6 3.7M394.4 163.8l2.6 3.3M402.7 166.9l1.5 4.4M391.2 163.4l0.3 1.8M419.6 165.7l0.9 1.9M418 160.4l2.4 3.3M405.4 162.8l3.2 3.8M413.6 157.9l1.8 3.1M415.3 170.5l1.1 2.5M414.2 159.6l2.5 1.8M404.7 167.2l1.3 1.3M301.8 185.7l1.6 3.3M302.6 181.6l2.2 3.5M296.1 173.3l1.3 1.7M309.9 176.8l2.4 2.2M296.1 186.8l3.2 2.8M297.2 176l2.2 3.2M301 182.2l1.7 3M301.5 186.7l2 3.3M308.8 184l1.1 1.5M306.2 179.5l2.5 3.3M296.6 183.3l0.5 1.6M303.4 177.5l1.6 4.1M297.7 185.8l1.8 2.8M299.3 181.9l0.9 2M298.1 184.6l1.2 1.7M304.4 183.5l2.7 3.8M302.3 177.7l1.2 3.3M297 186.7l2.5 4M301 181.7l1.4 1.3M302.6 175.3l2.6 3.6M311 175.6l1.2 1.9M317.2 174.2l1.1 2.6M320.1 177.8l1.3 2.2M315.6 184.2l0.9 2.2M312.7 174l3.2 2.9M311.9 182.4l3.2 3M321 176.7l1.4 2.1M315.8 172.3l1.2 3.9M312.6 176.3l0.9 1.4M311.1 182.5l2.7 3.7M314 181.4l1 3.2M324.3 181.9l2.6 2.6M311.7 177.6l1.4 1.9M321.9 179.8l2.1 4M311.4 185l1.8 3.2M314.9 177.9l1.2 3.9M321.3 180.9l1.6 3.2M323.5 180.4l2.5 2.8M322.9 173.2l1 1.8M315 182l1.2 2.1M332.1 177.1l1 2.2M339.9 180.4l1 2.8M337 178.5l2 2.3M331 180.1l1.2 1.3M336.8 182l2.7 2.4M328.2 173l1.8 3.2M339 179.1l2.1 2.7M338.6 182l2.1 3.7M376.6 187.5l1 2.5M385.5 173.8l2.4 4.1M384 186.6l2.4 3.7M400.8 176.3l1.2 1.3M395.4 174.3l1.8 2.8M390.5 173.5l1.9 2.5M407.6 186.6l1.3 1.7M410.4 186.2l1.2 2.3M417.9 187.2l2 2.9M304.3 202.2l1.7 2M299.8 188.3l2.3 2.6M295.7 188.7l1.3 3.5M300.5 191.6l3.6 3.4M306 192.2l2 2.8M306.8 198.9l1.6 1.7M297.4 193.3l2.6 4M321.6 190.9l1.6 3.2M315.1 198.9l1.8 2.9M339.1 201.2l1.6 3M340.5 192.6l1.1 2.1M342.4 192.6l2.2 2.6M353.8 194.4l2.4 4M346.9 187.8l2.1 2.9M356.2 194.2l1.9 2M372.6 190.5l1.2 1.7M365.4 193.6l1.5 2.3M381.1 192.8l1 1.5M379.2 192.2l2 2.9M386.5 197.8l1.2 1.6M393.8 196.9l1.3 2.3M411.6 199.4l2.3 2.8M406.7 196.3l2.1 2.5M418.3 201.6l1.7 4.3M304.9 213.4l2.1 3.2M322 204.4l1.6 3M333.9 208.9l1.9 3.7M336.3 204.3l1 2.1M329.2 210.7l1.4 1.3M328.2 208.7l1.9 3M350.3 215.2l2.3 2.9M348.6 203.2l2.4 4.3M350.4 207.9l2.1 3.6M344.9 214.9l2.7 3.6M352.3 211.7l1.6 2.9M353.1 207.2l1.9 2.7M346.3 205.4l1.7 3.1M349.1 210.3l2.4 3.7M346.7 214.6l1.9 1.8M354.8 212.7l1.8 4.6M346.7 209.8l1.9 3.6M366.8 204.8l2.9 3.6M359.2 206.2l2.3 2.4M369.8 206.2l2.7 3.6M361.7 207.6l3.1 3.7M364.6 212.3l1.7 2.1M367.9 217l2 2.9M360.9 210.6l1.7 2.1M364.1 206.4l2.7 3.1M371.6 205.3l0.8 2.1M371.6 209l2.9 3.7M384.6 215.9l1.3 2.1M390.8 203.6l2.1 3.2M401.2 208.3l0.7 1.6M398.3 209.9l1.2 3M415.1 210.9l1.5 3.1M412.6 205.3l2.3 3.3M305.8 232.5l2.1 3.6M326.3 226.2l0.9 1.7M311.9 230.2l2 2.6M316 231.6l1.7 3M339.3 223.2l2 1.6M328 220.8l1.7 4.6M331.6 221l1.3 2.3M356.8 230.8l1.7 2.7M344.2 218.9l1.8 2.8M357 226.1l1 1.7M350.8 228.4l2 2.5M349.9 224.7l1.7 3.7M357.1 231.1l1.5 4.2M342 220.2l1.3 2.5M351.6 221.4l2.9 4M350.5 233.6l1.4 2.3M344.6 228.1l3.3 3.4M362.6 230.1l1.4 1.6M366.3 223.8l0.7 2M369.9 224.9l0.7 2M363.2 223l2.8 3.6M369.7 227.2l2.9 3.9M365 222.4l0.7 1.7M368.5 227.7l1.8 2.5M362.6 217.6l2.5 3.9M360.1 224.9l2.2 4.1M365.6 220.6l2 4.4M362.2 220.9l2.7 3.6M370.2 229.2l2.1 3.2M358.2 231.2l2.2 3.1M377.8 224.1l1.4 4.2M397.3 228.5l2.6 3.7M396.3 220.3l3.2 3.3M410.3 233.5l1.8 2.4M412.2 223.2l2.8 3.7M405.9 230.2l1.5 1.7M411.3 229.6l1.6 2.2M403.8 221.8l2.9 3.1M416.7 227.4l1.4 3.3M300.7 238.8l2.8 3.1M339.5 243.9l1.7 2.4M328.1 247.9l2.3 2.7M338 241.2l2.2 3.2M337.5 234.9l2.5 2.9M334.1 246.3l1.4 2.6M340 244.9l1.6 1.9M351.7 238l1.9 1.5M349.3 234.1l1.4 3.1M357.4 243.3l1.5 1.3M362.2 246.7l2.1 4.2M367.7 236.3l2.2 4.1M367.8 239.9l1 2.7M367.1 240.7l2.6 3.7M358.5 244.5l1.7 3.4M368.5 235.5l2.3 3M366.5 239.7l1.3 3.9M384.4 239.2l1.9 3.9M384.4 238l3.9 2.9M375 245.9l1 1.3M385.9 241.6l3 3.8M386.2 245.4l0.7 1.8M387.1 238.9l2.9 3.1M380 243.4l2.1 4.3M375.7 249.1l0.9 1.4M401.4 246.2l2.1 2.3M394.5 245.3l1.8 3.3M392.9 239.3l1 1.6M398.4 235.2l1.6 2M397.8 247l2.2 3.4M396.3 246.3l2.6 2.6M399.7 235.4l3.4 3.5M393.2 240.8l2.8 3M399.4 241.5l2 3.9M409.2 240l1.1 2.3M405.1 241l2.1 3.5M416.7 242.3l0.9 1.4M419 247.8l2.3 4.1M415 244.9l1.7 1.6M302.6 255.2l2.4 3.6M297.2 251.6l1.5 2.2M299.1 257.8l1.4 1.7M325.7 249.5l1.2 1.8M317.3 262l2.3 3.8M321.1 255.9l2.4 3M335.9 255.7l3.2 3M349.2 261.6l2.2 2.7M343.2 251.5l1.1 2.6M360.2 252.5l1.4 1.8M358.1 249.6l1.3 3.2M366.9 262.5l0.9 1.5M374.7 254.9l2.7 3.6M385.7 256.8l1.3 1.9M377.8 256.3l2 3.3M377.2 254.1l1.9 3.2M385.9 251.7l2 3.7M396.5 261.3l1 2.1M403.2 263.1l1.3 2M396.7 256.7l0.5 1.8M394 250.9l1.9 3.4M393.4 253.6l1.1 2.4M392.3 252.4l1.5 3M389.2 263.2l2.2 3.3M394.1 262.3l1.4 2.7M395.9 258.2l0.9 1.6M390.7 253.2l0.8 1.5M402.4 260.5l1 2.1M392.5 261.7l1.1 3.2M401.1 250.1l1.3 1.7M414.2 253.8l1.4 2.2M405.2 253.7l2.1 3.8M416.5 252.6l1.1 2.3" opacity="0.45"/><path d="M301.4 158.4l1.1 2.1M299 165l1.2 3.7M298.4 164.7l1.5 2.5M302.3 162l1.5 3.5M301.5 163.4l2.1 3.1M301.6 157l1.7 2.9M300 163.6l1.6 3.8M297.4 162.8l1.4 1.6M301.6 168.6l2.8 3.3M296.1 170.6l1.1 2.3M307.9 168.6l0.9 1.6M297.2 161l1.5 1.8M295.5 161l2.1 3.4M299.5 159.1l1.7 2.3M312.5 163.1l1.4 1.9M314.8 164.5l2.1 3.2M326 171.6l1.2 2.8M312.4 166.7l1.4 3.2M316 162l2.6 3.8M311.4 162.4l1.8 4M310.9 169.1l2.8 3.9M338.8 160.2l2.3 3.7M330 159.1l1.4 3.1M333.5 171.2l1.6 4.1M332.6 170.3l2.4 3.6M339.1 159.6l1.4 1.9M330.9 159.8l2.9 3.4M333.2 167.7l0.5 2.8M328.1 156.8l2.9 3.9M332 164.5l1.6 2M326.4 170.3l1.8 2.7M372.2 171.9l2.2 2.6M365.7 161.2l1.1 1.3M367.8 163.5l1.1 1.8M378.1 168.4l0.8 2.2M385.1 156.9l2 4.4M372.9 161.9l2.4 2.9M387.4 169.7l1.4 2.1M373.2 163l3.2 3.3M389.6 166.1l1.1 2M401 170.6l1.7 2.5M393.4 157.4l2 3.9M411.9 167.1l2.1 2.8M410.2 166.5l1.1 1.4M416.7 169.3l1.4 2.5M408 167.6l2.4 3.9M406.5 157.6l2.4 4.1M415.9 167.7l1.2 2.6M299.6 172.6l0.9 2.2M307.5 179.8l1.9 1.8M306.8 175.1l1.5 2.7M310.5 176.8l0.8 1.9M303.1 187.6l1.8 1.9M303.9 175.4l1.2 2.3M302 175l2.1 4.3M301.3 174.9l2 2.5M307 176.4l1 2M308.8 176.1l2.9 2.9M301 186.7l0.8 1.4M299.8 173l2.6 2.5M306.3 175l2.9 2M304.2 183.5l1 1.6M325.9 180.5l1.4 2.7M311 173l1.5 2.9M324.3 174.5l0.7 2.3M311.2 183.4l2.9 3.7M326 187l1.2 1.2M314.4 180.6l0.6 1.9M325.1 184.1l1.9 4M325.1 177.3l0.9 1.5M321.7 182.5l1.4 3.7M322.7 173.9l1.6 4.2M315.5 181.7l1.3 3.4M310.7 174.2l3.1 3.9M316.3 184.9l2 4.2M317.3 186.3l0.9 1.5M315.3 174.8l1.8 2.7M341.1 178.7l1.6 3M339.4 179.4l1 1.6M339.5 173.5l1.8 2.7M340.2 172.8l2.7 2.8M353.1 176.8l1.6 2.3M359.3 185.5l2.2 3.6M390.2 182.6l1.4 2.9M391.6 178.2l1.8 1.9M395 180.4l1.3 4.7M396.8 181.6l1.6 3M397 174.3l2 2.7M399.3 186.2l2.3 3.8M401.7 180.5l0.9 2.1M395.7 173.6l2.6 3.4M393.8 185.4l1.1 1.9M409.6 172.1l1.3 3.7M409.3 185.8l1.4 2.3M403.9 174.1l2.1 4.3M415.2 174.9l0.8 2.5M416.7 177.1l1.9 1.8M408.2 181.9l1.5 3.6M417.5 184l1.5 2.6M418.8 176.7l1.8 2.1M406.6 178.7l2.1 3M415.7 180l1.3 3.2M306.6 202.8l0.7 1.5M308.5 191.4l2.6 3.7M305.2 196.6l1.5 3.9M306.2 197.7l0.8 1.5M313 189l1.8 3.4M317.5 189.7l1 1.5M312.4 191.3l1.8 2M319 189.9l1.6 3.3M319.4 193.2l2.2 2.7M315.5 197.5l1.1 3.1M321.4 201.1l2.2 3.6M332.3 191.8l1 3.1M341.3 201.6l0.9 1.5M336.3 198.2l1.4 3.4M354.4 201.8l2.3 2.2M345.2 189.4l0.8 1.6M349.5 193.6l1.8 2.2M342.8 189.8l1.5 2.3M355.5 192l1 2.3M365.7 200.4l2.5 3.5M362.2 188.5l1.9 2.5M358.2 197.4l2.5 4.3M358.4 202l1.7 3.1M385.6 202.5l1.8 2.6M377.7 196.2l2.7 4.1M373.8 198.3l1.6 2.9M387.9 199.5l1.9 3.7M376.7 196.4l1.5 1.4M406.5 198.6l2.3 2.9M415.3 196.9l1.3 1.9M414.9 198l0.8 2M404.4 196l2.3 3.1M324.3 210.5l1.8 1.3M312.6 213.5l1.3 1.9M316.9 209.9l1.8 2.5M326.9 214.9l2.6 3.6M340.7 209.9l3.3 2.9M334.5 203.4l1.5 2.4M342.5 202.9l2.5 4.1M353.2 206.5l3.2 3.7M345.1 206.3l1.1 1.8M352.9 210.3l1.3 2.1M345.2 208l3.1 3.8M343 207.3l2.5 3.7M341.7 217.2l2.9 3.1M351.9 204.6l1.8 2.5M352 209.8l0.7 1.4M352.4 218.2l1 1.5M354.2 203.9l0.7 2.4M346.4 205.1l0.8 2.4M357.4 206.2l1.6 3.3M357.5 215.3l1.3 2.3M363.9 203.4l2 2.6M357.9 203.4l2 2.6M368.8 213.5l2.1 3.8M357.9 217.3l1 1.4M370.4 203.9l2.8 3.7M360.6 207.2l1.5 2.5M369 213.6l1.4 3M371.9 205.1l2.3 4M362.6 212.6l1 2M365.6 204.7l1.9 2.8M367.5 202.7l2.1 4M377.7 211.8l2 2.3M378.2 217.1l2.1 4.5M389 206.2l1.9 2.8M393.2 211l0.9 2.3M393.3 216.9l1.1 1.9M409.6 209.6l2.5 2.2M307.3 226.6l3.2 3.7M311.1 223.4l1 2.6M334.9 232l2 2.8M339.5 223.5l1.4 2.3M332 222.9l1.4 2.1M351.2 228.2l1.5 3.5M351.4 226.9l2 3.6M352 231.6l2.6 3M347.6 222.5l1.5 2M353 224.7l2.1 3.9M367 219.9l2.7 3.5M363.6 230.7l2.1 3.4M357.3 223.9l3 3.5M364.9 229.3l3.1 3.6M367.1 228.3l3.5 3M368.8 226.2l2.3 3.2M367.4 230.2l3.1 3.7M357.5 221.2l2.1 3M364.5 230.7l1 1.8M363.1 231.6l1.9 2.1M394.4 222l3.4 3.4M393.2 226.6l2 4.2M395.6 224.1l2.3 2.7M399 230l2.4 2.6M395.1 232.2l3.2 3.7M393.7 225.2l1 2.1M397.5 227.9l2.2 2.9M392.4 218.5l1.2 2.3M408 232.2l0.8 1.6M295.1 234.5l1.8 2.1M308.2 244.5l2.6 3.4M326.6 239.7l1.7 3.1M333.6 234l1.4 2.2M327.9 246.7l2.3 3.5M327 243.9l1.9 3.6M328.9 239.1l1 1.5M356.3 241.7l1 2M341.9 238.2l2.3 3M346.3 234.7l1.7 4.4M346.4 247.5l2.7 3.1M345 245.3l2.2 3.5M353.9 240.4l1.4 3M356.1 240.4l1.2 1.9M344.4 243.3l1.7 2M368.6 235.9l1.7 3.2M362.9 243.8l2.1 2.1M363.1 236.3l1.7 2.8M359.5 241.3l3.4 3.4M368.1 241.6l1.5 2.4M369.6 245l1.8 2.2M367.2 235l1.9 4.2M370 236.9l1.8 2.4M358.1 242.2l1 1.4M367.7 237.3l1.3 2.4M381.7 245.8l0.9 1.6M374.3 243.9l1 1.3M380.2 238.7l2.4 3.5M384.3 244l1.5 4.5M386.3 248.5l1.9 2.5M376.2 247.2l1.9 3.9M380.4 233.9l1.8 2.4M400.5 247l2.4 3.7M391 244.5l1.4 2.8M389.5 246.2l3.4 3.5M402.2 244.1l0.6 1.9M403.5 237.4l1.7 2.6M400.7 235.6l1.3 3.2M403.2 246.8l0.8 3.9M392.5 235.8l2 2.9M400 234.9l2.4 3.2M391.9 241.4l2 4.4M394.3 242.9l1 1.7M390.7 238l1.6 3.2M399.2 233.3l2.3 4.3M403.5 235.7l1.9 2.8M397.6 237.5l1.3 1.6M394 243l1.8 3.5M410.4 238.5l1.8 2M419.6 245.7l0.7 2.3M408.1 242.3l1.1 3.5M417.8 237.2l1.8 2.8M307.3 259.1l1.9 1.8M323.9 258.3l1.8 4.5M330.7 255.1l1.4 3M330.7 251.5l0.8 2.1M328.5 258.8l1.2 2.3M328.6 255l2.5 3.8M364.1 260.2l1 1.8M363.1 263.5l3.2 3.6M364.1 253.8l1.3 2.2M369.5 249l1.4 3.2M359.4 254l2 2.5M362.7 250.8l2.6 4.2M364.2 252.7l1.8 3.1M386.8 250.8l0.8 1.7M375.2 249.9l2.3 3.5M384 256.5l2.5 3.3M385.2 256.2l1.1 1.8M388.2 254.4l1.2 2.8M387.6 249.7l1.4 2.5M401.3 260.9l1.1 1.3M391.7 250.2l1.3 2M390.1 260.6l2.3 4M402 262.7l0.8 2.3M402.9 259.3l1.3 2.9M400.9 260.6l3 2.7M394.6 253.6l1.7 4M392.3 249.8l1.4 1.9M394.2 262.8l3.1 3.7M392.9 251.6l1.8 3.2M389.9 261.2l1.9 2.4M399 255.3l1.5 4.4M403.5 259.2l1.1 1.4M393.1 255.9l1 2.2M407.7 260.4l1.7 2.9M419.3 260.5l1.2 3.3M413.2 260.1l2.1 2.8M409.3 256.8l1.9 4.2" opacity="0.72"/><path d="M299.2 164.3l1.9 3.4M309.4 157.3l2 3M302.7 168.4l1 2M302.1 168.4l2.1 3.8M307.5 163.5l2.3 2.8M303.2 165.8l2.4 3.7M297 162l2.1 2.9M310.3 160.3l2.3 3.5M312.9 162.1l3.1 3.5M322.3 157.5l1.8 3.7M324.2 164l2.5 3M323 163.3l3.4 3.2M326.4 159.4l0.9 1.5M316.1 158.2l1.1 2.2M317.3 159.9l1 1.9M325.5 158.9l1.5 1.8M325.7 164.9l0.9 1.4M316.5 169.2l2.4 3.9M321.8 158.5l1.8 2.8M314.2 167.6l2.1 2M324.9 165.7l1 1.5M331.5 164.4l2.3 2.2M341.4 166.7l2.1 2.5M331.4 162.7l2.1 2.8M333.5 165.4l2.3 3M340.1 170.8l2.3 4.1M326.8 171.2l2 2.4M335.5 162.7l1.9 2.2M328.9 165.4l3.2 3.5M341 164.6l2.1 2.4M368.8 161l1.8 3.3M358.2 159l2 4.2M358.5 169l1.7 2.4M360.7 161.8l1.3 2.2M363.2 159.1l2.3 3.3M374.3 167.5l0.8 2.3M388.2 166.3l1.6 1.6M393.8 163.1l1.4 2.6M401.1 161l1.6 1.9M396.4 157l2.9 3.1M416.2 159.8l1.3 3.4M415.3 167.9l3.5 2.5M409 170.3l1.6 1.5M413.4 167l1.8 3.3M411.2 170.1l1.2 2.7M414 171.7l0.9 1.3M404.4 171.5l1.6 4.1M308.2 175.6l1.9 2.2M310.1 177.6l2.4 4.1M308.5 179.2l1.6 2.8M301.6 175.7l2.8 3.2M300 177.5l1.9 3.1M296.2 182.6l1.4 2.7M303.6 184.8l1.9 2.3M299.5 180l2.5 2.9M302.2 176.7l1.1 1.4M302 186.3l0.8 2.1M308.4 183.1l1.6 2.1M301.9 185l1.3 1.9M299.5 176.8l1.7 4.6M301.6 174.4l1.1 2.2M306.9 185.2l2.5 4.1M304.7 177.7l2.2 3.3M320.8 185.8l1.3 1.9M319.7 178.1l1.5 2.4M313 178.5l1.2 1.7M320.6 183.2l2.1 4.1M316.7 177.4l1.5 2.8M314.2 181.4l1.6 3.5M322.8 178.4l1.3 2.1M315 178.7l1.8 3.5M323.5 183.4l1.5 4.3M320.9 180.6l2.2 3.2M322.9 174.5l1.3 2.4M315.1 184.3l1 1.4M311.7 174.7l1.7 3M326.7 175.5l0.6 1.7M334.8 178.9l1.3 1.7M333.1 185l1.5 4.4M334.3 183.7l2.1 3.7M373 185.8l1.5 3.6M387.5 174l1 2.4M383 183.4l1.2 1.8M393.8 178.2l2.2 2.8M388.9 177.4l3.3 3.2M392 179.8l2 4.1M391.3 178.6l1.9 3.4M400.3 184.7l1.5 2.2M405.2 175.8l1 3.3M299.8 196.8l1.7 2.5M299.6 188.9l2.8 3.6M299.5 191.8l1.7 4.1M314 190.2l1.2 1.8M316.1 194.2l1.7 3.6M323.7 192l1.4 1.4M323 191.3l2.7 3M323.3 196.7l1.2 1.4M317.9 193.1l0.7 2.6M331.9 192.5l2 3M340.8 200.5l1.5 3.1M328.1 190.4l0.7 2.5M332.9 196.5l2.8 3.8M328.4 189.2l1.4 1.7M332.4 201.1l2.4 2.3M341 193.6l1.6 2.8M332.5 191.6l1.3 2M342.9 198.2l1.7 1.8M345.3 193l1.5 2.5M359.6 201.8l1.9 3.1M373.1 195.4l1.7 3M386.9 193.9l1.7 2.7M403.9 197.3l1.5 4.5M392.6 189.5l2.1 3.3M415.6 193.8l1.6 2M405.3 194.7l1.8 2.6M411 194.4l1.7 4.4M296 203.8l1.3 2.4M314.5 207.7l2.2 3M327.9 216.9l0.7 1.9M352.4 215.9l2.3 3.4M343.6 207.2l1.2 1.9M347.4 213.6l3.2 3.7M344.8 203.6l2 3.1M354.9 204.1l1 2M355.3 209.6l1.8 1.9M353.3 206.3l1.6 2.5M349.3 210.5l2.8 3.6M355.1 206.6l2.8 2.5M370.9 213.5l2.3 3.5M359.8 207.2l1 2.3M362.7 204.2l2.8 3.1M370.2 211.5l2 2.6M367.4 212.7l0.9 1.4M378.1 213.3l2.4 2.5M400 208l1.6 1.7M400.7 202.6l1.1 4.7M397.9 212.9l2.3 3.6M417.3 214.1l1.4 3.9M296.6 230.4l1.3 2.9M316.2 225.2l2.1 2.7M322.3 228.9l1.7 2.9M324.6 227.2l1.1 1.6M338.1 224.9l2.1 2.8M339.8 231.7l1.4 3.1M340.8 223.2l0.7 1.8M329.7 233.3l1.9 2.9M334.2 228.7l2.2 2.8M348.1 224.7l3.1 3.1M349.6 224.7l0.9 1.6M350.4 232l0.6 1.8M342.9 232l1.8 2.8M345.7 227.4l1.6 3.1M346.6 218.3l1.6 3.3M361.1 222.9l2 2.9M370.4 219.6l1.9 2.5M367.4 225.4l1 2.4M364.6 229.9l1.1 2.4M367.2 226.1l1.5 2.4M366.2 233.2l2.7 2.8M385.2 218.6l3 3.7M400.1 232.9l1.6 3M388.9 230.7l1.1 2.1M394.2 224.1l0.9 1.6M391.3 227.6l2.2 4.2M411.9 224.4l2.8 4.1M418.7 231.4l1.3 2.3M404.6 222.7l2.4 4M304.2 245.8l1.2 2.6M336.7 242.6l1.7 3.7M337.3 248.8l2.4 2.5M337.4 247.3l1.2 4.1M340.3 242.6l1.6 2.7M342 236.4l1.7 2.2M343.2 237.1l2 2.5M354.1 235l0.8 3M343.3 241.6l1.9 3.6M342.1 244.3l1.3 3.1M344.2 247.7l1.8 2.3M355.9 236.4l0.8 1.7M369 236.5l3.4 3.6M370.8 236.7l2.7 4M359.8 235.6l1.1 2.3M359.7 241.8l1.7 2.3M387.2 242.7l1 2M377 239l1.1 1.9M387.3 248l1.9 2.8M392.3 236.1l1.8 2.8M390 237.6l1.4 2.9M391.3 238.3l2.9 3M392.2 240.9l2 2.5M393 248.1l1.1 1.8M401.3 239.8l0.8 1.5M396.8 236.9l1.5 2.1M412.1 247.8l1 1.4M410.7 233.7l1.7 2.3M295.7 263.3l1.5 2.4M302.8 263.9l1.4 2M326.1 249.9l1.5 2.3M311.1 262.6l1.6 2M310.7 262.2l2.2 3.8M335.7 249.1l2.7 3.8M343.2 249.4l1.3 3.5M349.9 260l1 1.3M355.3 264l1.4 2.2M353.4 258.9l1.4 2.7M355.4 262.9l2.6 3.2M365.9 251.3l1.5 2.8M359.9 261.8l1.6 3.9M361.9 255l0.9 1.7M363.9 255.2l1.4 2M367.8 255.7l1.3 1.8M363 257.5l2.1 2.9M365 255.3l1.2 1.5M371.8 255.2l1.5 3.7M370.7 263.5l1.7 2.3M368.4 258.9l0.5 1.5M375 263.1l2.4 3.6M379.8 251.7l2.8 3.9M381 253.4l1.4 2.3M376.3 251.9l2.1 4.3M373.9 250.5l1.3 2.9M387.2 253l1.3 3.7M384.1 258.3l1.9 2.9M377 256.4l1.5 2.8M378.9 255.5l1.4 2.8M377.6 261.6l0.7 1.8M388.4 249.6l1 1.8M378.5 253.7l2.1 2.6M382.1 256.1l2.2 2.5M376.1 259.8l0.7 2M401.9 251.8l1.9 2.7M391.6 255.4l2.4 1.7M393 260.7l1.6 3.4M388.3 257l2.8 3.2M394.2 256.8l2.1 3.5M393.5 260.6l2.6 2.8M392 263.1l2.2 3.2M402.6 253.9l1.1 1.9M400.5 257.2l2 3.2M413.1 248.8l1.9 3.4M411.1 264l1.3 1.4" opacity="1"/></g></g>
<clipPath id="cp00"><rect x="296" y="45" width="124.2" height="107.0"/></clipPath>
<clipPath id="cp01"><rect x="296" y="158.4" width="124.2" height="107.0"/></clipPath>
<clipPath id="cp02"><rect x="296" y="272" width="124.2" height="107.0"/></clipPath>
<g id="r1"><g filter="url(#b3)"><ellipse cx="453.6" cy="56.7" rx="5.8" ry="4.1" transform="rotate(5 453.6 56.7)" fill="#c00000" opacity="0.25"/><ellipse cx="466.4" cy="48.9" rx="5.1" ry="4" transform="rotate(0 466.4 48.9)" fill="#c00000" opacity="0.25"/><ellipse cx="470.8" cy="59.4" rx="5.1" ry="3.9" transform="rotate(30 470.8 59.4)" fill="#c00000" opacity="0.25"/><ellipse cx="498.8" cy="65.3" rx="5.5" ry="4.4" transform="rotate(10 498.8 65.3)" fill="#c00000" opacity="0.25"/><ellipse cx="511" cy="61.2" rx="6.3" ry="3.9" transform="rotate(30 511 61.2)" fill="#c00000" opacity="0.25"/><ellipse cx="526.1" cy="51.3" rx="5.8" ry="4.1" transform="rotate(5 526.1 51.3)" fill="#c00000" opacity="0.25"/><ellipse cx="548.2" cy="56.7" rx="5.1" ry="3.9" transform="rotate(35 548.2 56.7)" fill="#c00000" opacity="0.25"/><ellipse cx="540.4" cy="72.1" rx="5.1" ry="4" transform="rotate(10 540.4 72.1)" fill="#c00000" opacity="0.25"/><ellipse cx="537.5" cy="90.1" rx="5.8" ry="3.7" transform="rotate(15 537.5 90.1)" fill="#c00000" opacity="0.25"/><ellipse cx="543.2" cy="97.9" rx="6.3" ry="4" transform="rotate(30 543.2 97.9)" fill="#c00000" opacity="0.25"/><ellipse cx="453.6" cy="91.3" rx="5.5" ry="4.1" transform="rotate(25 453.6 91.3)" fill="#c00000" opacity="0.25"/><ellipse cx="468.7" cy="91.9" rx="5.8" ry="4" transform="rotate(5 468.7 91.9)" fill="#c00000" opacity="0.25"/><ellipse cx="465.6" cy="96.5" rx="6" ry="4.1" transform="rotate(10 465.6 96.5)" fill="#c00000" opacity="0.25"/><ellipse cx="429.5" cy="108.5" rx="5.8" ry="3.7" transform="rotate(20 429.5 108.5)" fill="#c00000" opacity="0.25"/><ellipse cx="508.2" cy="119.4" rx="5.5" ry="3.9" transform="rotate(45 508.2 119.4)" fill="#c00000" opacity="0.25"/><ellipse cx="506.6" cy="135" rx="5.8" ry="4" transform="rotate(35 506.6 135)" fill="#c00000" opacity="0.25"/><ellipse cx="463" cy="136.2" rx="5.4" ry="3.9" transform="rotate(30 463 136.2)" fill="#c00000" opacity="0.25"/><ellipse cx="477" cy="136.8" rx="6.3" ry="4" transform="rotate(30 477 136.8)" fill="#c00000" opacity="0.25"/><ellipse cx="475.8" cy="141.7" rx="5.4" ry="4.1" transform="rotate(-15 475.8 141.7)" fill="#c00000" opacity="0.25"/><ellipse cx="487.1" cy="139.2" rx="5.1" ry="4" transform="rotate(40 487.1 139.2)" fill="#c00000" opacity="0.25"/><ellipse cx="500.8" cy="149.5" rx="5.8" ry="4.3" transform="rotate(25 500.8 149.5)" fill="#c00000" opacity="0.25"/><ellipse cx="441.9" cy="150.2" rx="4.8" ry="3.6" transform="rotate(20 441.9 150.2)" fill="#c00000" opacity="0.25"/></g><g filter="url(#b2)"><ellipse cx="453.6" cy="56.7" rx="3.3" ry="1.6" transform="rotate(5 453.6 56.7)" fill="#fa0806"/><ellipse cx="466.4" cy="48.9" rx="2.6" ry="1.5" transform="rotate(0 466.4 48.9)" fill="#aa0502"/><ellipse cx="470.8" cy="59.4" rx="2.6" ry="1.4" transform="rotate(30 470.8 59.4)" fill="#aa0502"/><ellipse cx="466.1" cy="64" rx="3" ry="1" transform="rotate(20 466.1 64)" fill="#780301"/><ellipse cx="451.3" cy="47.7" rx="2.2" ry="1.1" transform="rotate(20 451.3 47.7)" fill="#640201"/><ellipse cx="432.6" cy="64" rx="2.6" ry="0.9" transform="rotate(20 432.6 64)" fill="#460100"/><ellipse cx="498.8" cy="65.3" rx="3" ry="1.9" transform="rotate(10 498.8 65.3)" fill="#fa0806"/><ellipse cx="511" cy="61.2" rx="3.8" ry="1.4" transform="rotate(30 511 61.2)" fill="#c80603"/><ellipse cx="526.1" cy="51.3" rx="3.3" ry="1.6" transform="rotate(5 526.1 51.3)" fill="#b40603"/><ellipse cx="548.2" cy="56.7" rx="2.6" ry="1.4" transform="rotate(35 548.2 56.7)" fill="#fa0806"/><ellipse cx="540.4" cy="72.1" rx="2.6" ry="1.5" transform="rotate(10 540.4 72.1)" fill="#fa0806"/><ellipse cx="537.5" cy="90.1" rx="3.3" ry="1.2" transform="rotate(15 537.5 90.1)" fill="#b40603"/><ellipse cx="543.2" cy="97.9" rx="3.8" ry="1.5" transform="rotate(30 543.2 97.9)" fill="#fa0806"/><ellipse cx="453.6" cy="91.3" rx="3" ry="1.6" transform="rotate(25 453.6 91.3)" fill="#fa0806"/><ellipse cx="468.7" cy="91.9" rx="3.3" ry="1.5" transform="rotate(5 468.7 91.9)" fill="#fa0806"/><ellipse cx="465.6" cy="96.5" rx="3.5" ry="1.6" transform="rotate(10 465.6 96.5)" fill="#fa0806"/><ellipse cx="483.2" cy="90.5" rx="3.3" ry="1.4" transform="rotate(55 483.2 90.5)" fill="#6e0301"/><ellipse cx="486" cy="99.9" rx="1.9" ry="1.2" transform="rotate(0 486 99.9)" fill="#5a0201"/><ellipse cx="429.5" cy="108.5" rx="3.3" ry="1.2" transform="rotate(20 429.5 108.5)" fill="#fa0806"/><ellipse cx="508.2" cy="119.4" rx="3" ry="1.4" transform="rotate(45 508.2 119.4)" fill="#fa0806"/><ellipse cx="506.6" cy="135" rx="3.3" ry="1.5" transform="rotate(35 506.6 135)" fill="#fa0806"/><ellipse cx="463" cy="136.2" rx="2.9" ry="1.4" transform="rotate(30 463 136.2)" fill="#aa0502"/><ellipse cx="477" cy="136.8" rx="3.8" ry="1.5" transform="rotate(30 477 136.8)" fill="#fa0806"/><ellipse cx="475.8" cy="141.7" rx="2.9" ry="1.6" transform="rotate(-15 475.8 141.7)" fill="#fa0806"/><ellipse cx="487.1" cy="139.2" rx="2.6" ry="1.5" transform="rotate(40 487.1 139.2)" fill="#aa0502"/><ellipse cx="500.8" cy="149.5" rx="3.3" ry="1.8" transform="rotate(25 500.8 149.5)" fill="#fa0806"/><ellipse cx="520.6" cy="149.5" rx="3.8" ry="1.5" transform="rotate(10 520.6 149.5)" fill="#6e0301"/><ellipse cx="441.9" cy="150.2" rx="2.3" ry="1.1" transform="rotate(20 441.9 150.2)" fill="#aa0502"/><ellipse cx="526.9" cy="141.5" rx="2.9" ry="0.9" transform="rotate(30 526.9 141.5)" fill="#460100"/><ellipse cx="447.4" cy="99.9" rx="2.2" ry="0.9" transform="rotate(10 447.4 99.9)" fill="#3c0100"/></g></g>
<g id="h1"><g filter="url(#b5)"><rect x="424.4" y="156.4" width="19.5" height="19.3" fill="#0303ff" opacity="0.04"/><rect x="439.9" y="156.4" width="19.5" height="19.3" fill="#0303ff" opacity="0.03"/><rect x="455.4" y="156.4" width="19.5" height="19.3" fill="#0303ff" opacity="0.05"/><rect x="486.5" y="156.4" width="19.5" height="19.3" fill="#0303ff" opacity="0.03"/><rect x="502" y="156.4" width="19.5" height="19.3" fill="#0303ff" opacity="0.02"/><rect x="439.9" y="171.7" width="19.5" height="19.3" fill="#0303ff" opacity="0.02"/><rect x="455.4" y="171.7" width="19.5" height="19.3" fill="#0303ff" opacity="0.04"/><rect x="471" y="171.7" width="19.5" height="19.3" fill="#0303ff" opacity="0.05"/><rect x="486.5" y="171.7" width="19.5" height="19.3" fill="#0303ff" opacity="0.02"/><rect x="424.4" y="187" width="19.5" height="19.3" fill="#0303ff" opacity="0.02"/><rect x="439.9" y="187" width="19.5" height="19.3" fill="#0303ff" opacity="0.02"/><rect x="455.4" y="187" width="19.5" height="19.3" fill="#0303ff" opacity="0.04"/><rect x="471" y="187" width="19.5" height="19.3" fill="#0303ff" opacity="0.03"/><rect x="486.5" y="187" width="19.5" height="19.3" fill="#0303ff" opacity="0.04"/><rect x="502" y="187" width="19.5" height="19.3" fill="#0303ff" opacity="0.03"/><rect x="439.9" y="202.3" width="19.5" height="19.3" fill="#0303ff" opacity="0.02"/><rect x="455.4" y="202.3" width="19.5" height="19.3" fill="#0303ff" opacity="0.03"/><rect x="471" y="202.3" width="19.5" height="19.3" fill="#0303ff" opacity="0.03"/><rect x="486.5" y="202.3" width="19.5" height="19.3" fill="#0303ff" opacity="0.04"/><rect x="502" y="202.3" width="19.5" height="19.3" fill="#0303ff" opacity="0.03"/><rect x="517.5" y="202.3" width="19.5" height="19.3" fill="#0303ff" opacity="0.03"/><rect x="424.4" y="217.5" width="19.5" height="19.3" fill="#0303ff" opacity="0.04"/><rect x="439.9" y="217.5" width="19.5" height="19.3" fill="#0303ff" opacity="0.03"/><rect x="471" y="217.5" width="19.5" height="19.3" fill="#0303ff" opacity="0.04"/><rect x="486.5" y="217.5" width="19.5" height="19.3" fill="#0303ff" opacity="0.03"/><rect x="502" y="217.5" width="19.5" height="19.3" fill="#0303ff" opacity="0.05"/><rect x="517.5" y="217.5" width="19.5" height="19.3" fill="#0303ff" opacity="0.04"/><rect x="471" y="232.8" width="19.5" height="19.3" fill="#0303ff" opacity="0.02"/><rect x="486.5" y="232.8" width="19.5" height="19.3" fill="#0303ff" opacity="0.04"/><rect x="502" y="232.8" width="19.5" height="19.3" fill="#0303ff" opacity="0.05"/><rect x="517.5" y="232.8" width="19.5" height="19.3" fill="#0303ff" opacity="0.04"/><rect x="424.4" y="248.1" width="19.5" height="19.3" fill="#0303ff" opacity="0.03"/><rect x="455.4" y="248.1" width="19.5" height="19.3" fill="#0303ff" opacity="0.02"/><rect x="486.5" y="248.1" width="19.5" height="19.3" fill="#0303ff" opacity="0.04"/><rect x="502" y="248.1" width="19.5" height="19.3" fill="#0303ff" opacity="0.05"/><rect x="517.5" y="248.1" width="19.5" height="19.3" fill="#0303ff" opacity="0.03"/><rect x="533.1" y="248.1" width="19.5" height="19.3" fill="#0303ff" opacity="0.03"/></g><g filter="url(#b4)" stroke="#0303ff" stroke-width="2.7" stroke-linecap="round" fill="none"><path d="M436.1 171.1l2.3 1.2M442.5 156.9l5.1 3.3M442.9 171.4l4.8 2M468.6 166.3l3.1 1M457.4 161.3l3 1.5M455.8 160l5.6 1.8M492.1 169l2 1.4M541.4 166.7l3.2 0.9M449.3 181.1l1.6 2.2M458.4 182.6l3 2.2M457.8 183.8l4.3 2.4M481.9 187.8l3.1 1.2M475.7 182.3l4.8 2.7M482.2 181.1l5.5 1.7M483.4 176l3.9 2M475.7 187.1l2.5 0.6M427.9 188.7l4.3 2.9M484.4 198l4.9 1M489.4 199.4l5.1 0.7M533.8 202.1l2.8 0.2M435.4 207.1l4.1 1.2M469.6 215.3l3.5 0.2M462.2 208.6l2.3 0.3M463.7 210l2.6 1.4M479.7 216.6l3.3 0.2M489.2 215.2l2.2 0.3M488 209.8l5.1 1.3M492 216l4 1.9M503.6 216.3l3.8 1.2M520.1 216.6l4.5 0.5M530.3 212.9l5.4 2.2M526.9 210.7l2.6 1.8M439.7 227.1l4.1 2.2M438 230l5.9 1.3M437.4 232l2.7 1.3M424.8 221.6l5.5 1.9M428.7 221.2l5 1.7M439.4 219.3l2.2 0.4M475.3 234.1l2.1 0.7M476.3 229.5l3.7 2M496.9 224l4.8 2M498.9 222l3.1 1M515.6 224.1l3.9 2M513.7 228.2l4.6 1.5M516.8 230.7l3.3 0.8M523.5 224.2l3 1.6M521.9 219.1l3.7 1.3M527.4 231.8l3.2 3.6M469 242.6l4.4 1.6M485.8 249l2.3 0.6M473.5 238.9l3.3 1M475.9 246.3l4.7 1.2M517.5 244.9l3.7 1.6M512.6 243.9l1.8 1.8M506.1 237l5.5 1.4M505.9 236.3l1.9 1.4M523.7 237.1l2.3 0.5M434.5 252.5l4.5 1.6M481 256.3l3.8 0.8M500 255.7l5.3 0.7M497.8 263.8l5 1.2M516.9 255.9l3.8 3.1M504.9 262.6l3.3 1.7M507.3 252.7l4.1 3M511.2 249.5l2.7 2.1M518.1 262.5l4.3 1.8M522.4 260.7l2.1 1.2M544.3 253.4l2.9 1M547.5 250.7l5.3 3" opacity="0.45"/><path d="M424.9 160l3.9 2.3M439.6 170.8l2.1 0.6M428.4 169.8l4.1 0.6M446.3 158.7l5.3 -0M468.5 172.5l2.3 1.1M468.4 170.5l2.4 1M470.7 163.4l3 1M462.6 172.3l1.8 1.5M458.4 169.9l2.3 1.1M461.4 170.3l5.8 1.9M476.8 160.7l2.1 0.3M494.8 167.1l3.4 1.9M486.3 168.7l4.6 -0.4M499.9 168.8l5.6 1.6M504.4 166.1l2.7 0.7M428.3 182.2l4.7 2.9M425.4 187.7l2 0.9M453 182.2l4 0.8M461.3 183.4l2.9 2M458.5 179.9l2.7 1M457 177.4l1.9 0.9M486.4 179.7l2.1 1.5M473 175.7l2.5 0.8M483.2 174.8l2.2 0.6M487.4 183.8l3.9 2.1M535.8 184.8l3.8 0.8M428.9 194.6l2.3 1.5M448.7 193.8l4.8 1.7M467.2 196.5l5.2 0.2M463.2 195.5l4.6 2.3M457.5 192.7l4.4 1.3M481.8 198.2l4.4 1.9M491.6 201.4l5.4 2.1M493.8 191.1l3.2 2.1M498.4 200.7l5.6 1.9M488.7 194.9l5.8 0.8M514.9 202.4l2.8 1.3M502.8 197.3l5.3 1.6M512.2 192.5l3.9 0.8M548 202l2.5 1.9M541.1 193.2l3.5 2M456.1 206.8l2.5 0M446.5 203.5l2.4 1.5M456.5 214l2 1M484.2 214.2l3.1 1.5M485.9 206l4.8 1.5M478.1 209l2.1 1.7M500.5 212.9l3.1 2.6M489.9 209l5.3 2.6M487.4 216.5l4.8 2.4M515 212.4l2.2 1.4M514.8 212.2l4.3 2.2M526 211.2l5.1 1.1M530.4 218.3l2.4 1.1M531.8 208.5l2.3 0.5M520.3 205.3l5.9 0.3M530.9 209.3l3.6 1.2M438.3 229.2l3.2 1.2M434.1 225.6l5 0.2M437.7 232.9l3.3 1.6M471.3 226.6l3.3 1.8M486 219.4l3.7 3.3M478.2 231.7l5.7 2.3M484.6 228.2l1.5 1.8M481.2 227.9l5.8 0.2M480 220.5l2.5 1M492 232.1l4.5 2.9M501.6 233l5.3 0.8M504.1 226.6l2.4 2.1M512.6 230.4l2.9 0.7M505.6 232.9l3.7 0.6M516 232.5l2.8 1.2M443.5 240l2.5 1M470.5 243.3l2.3 0.5M476.5 244.3l4.6 2.4M502 241.9l2.2 0.3M492.8 247l4.6 1.9M488.9 238.9l2.1 1.4M501.1 240.8l4.1 1.9M502.1 235.4l3.8 1.5M508.9 235.3l5.8 1.8M514.7 238.9l2.6 1.1M504.6 244.6l4 2.6M530.8 240.8l3.5 1.8M520 237.4l4 2.3M520.6 243.1l4 1.1M524.7 237.3l3.5 2.1M531.3 238.1l2.5 0.9M428 252.8l2.8 1M429.1 252.6l4.5 1.1M431.4 262.9l2.1 1.1M439.4 252.3l2.6 1.7M427.9 260.6l3.9 1.4M454.2 259.1l5.5 2.5M469.4 253.9l5.3 2.6M469.4 260l2.5 0.5M463.7 258.5l1.8 1.5M479.1 250.8l4.7 2.3M480.7 253.4l5.1 0.9M484.1 250.8l2.9 1.5M502 249.7l4 1.7M500.9 264.1l4.1 1.1M493.7 261.8l3.3 1.7M498.2 262.2l2.9 0.4M487.2 261.1l5.4 2.6M493.5 252.2l3.7 2.4M499.6 260.6l4.3 2.2M487 257.4l3.9 2.2M514.3 254.8l3.8 2.1M516.5 249.9l4.3 1.8M512.8 251.9l6 0.7M503.8 252.6l2.1 0.4M510.3 264.2l4.7 1.7M531.9 263.6l4 2.5M527.5 254.7l3.2 0.9M520 253.5l3.7 0.6M548.9 263.9l2.7 1.1" opacity="0.72"/><path d="M427.4 167.5l3.5 2.2M431.9 165.8l2.6 1M431.1 158.4l4.3 2M431.7 167l2.5 0.5M439.2 163.6l2.5 0.8M446.3 157.8l3 3M462.6 167.8l4.8 2.9M455.6 171.6l4.4 3.3M463.4 159.1l3 1.9M459.6 165.6l4.4 1.3M458.5 164.3l3.9 0.9M462.9 164.8l4.6 2.2M475.2 169.1l4.2 1M489.4 172.1l2.6 0.9M495.7 171.5l4.9 1.4M517 158.3l4.3 1.6M506.7 162l2.4 1.1M518.4 168.9l4.4 2.1M429.4 174l3.2 1.9M448.3 173.2l3.4 1.5M452.6 178.6l4.2 1.9M469 182.9l3.5 2M459.2 174.5l3.1 1.2M456.9 186.8l3.8 0.4M467.9 177.4l4.9 2.2M459.7 176.9l2.8 0.1M479.4 175.5l3.3 1.2M485.8 176.5l2.6 1.8M482.6 187.3l4.1 1.3M478.4 174.5l3.6 2.4M483.2 180.8l3.5 1.8M472.6 179.1l5.4 2M479.1 176.8l3.5 1M485.6 178.3l4.9 2.5M483.6 183.5l2.4 2.1M499.1 187.6l2.7 1.2M497.2 184.1l2.9 1.4M498.8 183.9l4.6 3.3M535 177.7l4.8 2.4M434 191.5l2.3 0.6M444.9 195.7l2.5 0.9M470.3 189.7l3.8 1.3M465.9 201.1l2.3 1.7M466.3 193.6l4.1 1.8M470.6 203.4l2.8 0.9M469.2 199.5l5 0.6M457.5 189l4.8 3.4M469.3 189.6l2.1 0.5M469.4 198.4l2.1 1.1M482.1 201.5l4.1 0.6M486.1 196.6l2.8 1.6M478.4 191.3l5.6 1.6M478.1 197.8l3.7 0.9M488.7 194.9l5.5 1.7M488.2 195.6l4.7 3.1M489.4 189.3l1.8 2.5M487.6 197.7l3.4 1.3M513.6 201.3l2.6 0.2M507 198.7l3.9 1.1M507.2 201.6l3.7 0.7M532.7 196.2l3.3 1M529.7 202.8l2 0.8M536.3 194.3l4 2.1M546.2 192l2.9 0.7M535.7 201.9l4.2 0.8M435.1 208.5l3.1 0.9M455.7 207.2l3.3 0.5M460.3 204.5l3.5 2.5M467.3 216l5 1.4M465.7 217.4l4.4 1.8M457.1 209.1l3.2 1.1M459.7 213.2l2.8 2.8M485.2 208l3.5 1.8M475.1 206l2.1 0.9M477.5 211.4l1.9 0.7M487.9 217l3.2 0.6M490.8 217l3.1 0.7M506.5 210.8l2.4 1.4M506.7 213l4.5 1.9M433.9 223.2l4.8 2.1M431.7 227.8l5.3 1M436.6 233.2l5.6 2M433.7 218.9l4.8 3.1M436.6 219.7l4.1 2.3M442.4 226.2l5.3 1M450.6 230.6l2.9 1.8M441.4 218.7l3.1 1.8M453.5 225.4l3.9 1.8M462.4 225.1l4.1 1.2M485.6 218.9l2.7 1.3M481.9 229.3l5.3 1.1M477.4 219l3.6 2.3M495.2 232l4.7 1.7M492.6 225.1l5.3 1.8M493.9 220.4l4.7 3.4M495.9 219.8l5.2 0.5M506.8 224.6l4.8 1.5M512.6 224.5l5.8 1.8M512.1 223.6l5.3 0.7M515.9 220.3l1.9 1.3M502.4 233.5l3.7 1.8M515.4 234l3.9 1.3M514 226.5l5.4 2.8M501.7 219.3l5.4 1.4M521.4 229.4l3.3 1.1M528.5 229.2l3.1 1M518.6 234.1l3.3 0.9M531 227l5.1 2.1M525.3 231.1l3.8 1.2M546.4 222.9l3.4 2M450.2 240.8l4.5 1M454.2 239.1l4.5 0.6M450.4 235.8l2.2 0.5M466.3 236l3.1 0.7M483 244.1l4.6 0.2M483.3 235.6l2.5 1M474.4 248.8l5.8 1.6M487 247.4l4 1.4M496.4 247.9l2.9 0.4M494.1 247.2l2.4 1.5M499.7 247.2l4 1.3M509 236l3.1 0.8M507.2 237.7l3.9 3M506.5 243.8l4.7 2M511.3 241.9l3.4 1.2M514.8 242.1l5 1.8M515.6 241.8l4.7 3.5M519.6 239.9l5.1 1.8M533.3 241.3l2.8 2.5M527.4 248.2l5 3.4M521.9 240.8l4.2 3.7M523 248.9l2.6 1M532 241.2l3.7 2.6M528.7 248.7l2.9 0.9M426.5 263.6l3.6 0.9M426.1 261.1l3 1.1M433.2 250.3l4.7 1.7M447.5 257.3l2.8 1.9M457.9 255.8l4.4 0.9M479 258.6l5.2 0.5M485.7 256.7l2.6 1.1M488.2 260.4l5.1 0.7M486.8 253.3l3.8 1.9M489.9 259.7l2.4 0.6M501.8 257.9l3.9 2.3M487.2 255.5l5.4 2.6M515.8 252.7l2 0.5M510.4 256.8l2.9 1.9M506.4 263.3l4.4 1.3M509.9 263.5l4.8 1M526.3 260.3l3.2 1.2M520 257.5l1.9 1.2M518.8 258.7l3.3 1.1M532.4 258.4l3.4 0.7M525.4 254l3.8 1.8M524.3 255.9l4.9 2.7M531.8 257.3l2.8 1.5M531.1 258.1l2.7 0.6M529.6 253.2l2.1 0.8M531.2 256.2l5 1.9" opacity="1"/></g></g>
<clipPath id="cp10"><rect x="426.4" y="45" width="124.2" height="107.0"/></clipPath>
<clipPath id="cp11"><rect x="426.4" y="158.4" width="124.2" height="107.0"/></clipPath>
<clipPath id="cp12"><rect x="426.4" y="272" width="124.2" height="107.0"/></clipPath>
<g id="r2"><g filter="url(#b3)"><ellipse cx="578.9" cy="46.9" rx="6.3" ry="3.9" transform="rotate(-25 578.9 46.9)" fill="#c00000" opacity="0.5"/><ellipse cx="587.5" cy="50.5" rx="6.6" ry="3.9" transform="rotate(-10 587.5 50.5)" fill="#c00000" opacity="0.5"/><ellipse cx="562.6" cy="58.1" rx="6.3" ry="4.1" transform="rotate(-5 562.6 58.1)" fill="#c00000" opacity="0.5"/><ellipse cx="575" cy="60.9" rx="5.3" ry="3.9" transform="rotate(10 575 60.9)" fill="#c00000" opacity="0.5"/><ellipse cx="582.8" cy="63.3" rx="6.1" ry="3.9" transform="rotate(-30 582.8 63.3)" fill="#c00000" opacity="0.5"/><ellipse cx="618.2" cy="54.2" rx="6.6" ry="3.9" transform="rotate(5 618.2 54.2)" fill="#c00000" opacity="0.5"/><ellipse cx="637.4" cy="56.6" rx="6.1" ry="3.9" transform="rotate(8 637.4 56.6)" fill="#c00000" opacity="0.5"/><ellipse cx="667.5" cy="54.2" rx="6.6" ry="3.9" transform="rotate(10 667.5 54.2)" fill="#c00000" opacity="0.5"/><ellipse cx="601.5" cy="72.1" rx="5.8" ry="3.7" transform="rotate(-10 601.5 72.1)" fill="#c00000" opacity="0.5"/><ellipse cx="589.1" cy="77.3" rx="5.4" ry="4.4" transform="rotate(30 589.1 77.3)" fill="#c00000" opacity="0.5"/><ellipse cx="585.2" cy="83.5" rx="4.7" ry="4.1" transform="rotate(-60 585.2 83.5)" fill="#c00000" opacity="0.5"/><ellipse cx="600" cy="87.4" rx="5.5" ry="4.3" transform="rotate(10 600 87.4)" fill="#c00000" opacity="0.5"/><ellipse cx="616" cy="84.8" rx="5.5" ry="3.7" transform="rotate(0 616 84.8)" fill="#c00000" opacity="0.5"/><ellipse cx="671.2" cy="75" rx="6.8" ry="3.7" transform="rotate(0 671.2 75)" fill="#c00000" opacity="0.5"/><ellipse cx="648.6" cy="98.5" rx="6.7" ry="3.9" transform="rotate(-12 648.6 98.5)" fill="#c00000" opacity="0.5"/><ellipse cx="662.8" cy="99.4" rx="6.1" ry="4.1" transform="rotate(25 662.8 99.4)" fill="#c00000" opacity="0.5"/><ellipse cx="660.8" cy="113.9" rx="5.4" ry="4.6" transform="rotate(-45 660.8 113.9)" fill="#c00000" opacity="0.5"/><ellipse cx="667.8" cy="119.4" rx="5.4" ry="4.1" transform="rotate(15 667.8 119.4)" fill="#c00000" opacity="0.5"/><ellipse cx="574" cy="100.7" rx="6.1" ry="3.6" transform="rotate(40 574 100.7)" fill="#c00000" opacity="0.5"/><ellipse cx="577.4" cy="105.7" rx="4.4" ry="4.1" transform="rotate(0 577.4 105.7)" fill="#c00000" opacity="0.5"/><ellipse cx="559.5" cy="109.7" rx="5.8" ry="3.7" transform="rotate(-25 559.5 109.7)" fill="#c00000" opacity="0.5"/><ellipse cx="569.1" cy="114.4" rx="6.6" ry="3.9" transform="rotate(8 569.1 114.4)" fill="#c00000" opacity="0.5"/><ellipse cx="583.9" cy="118.9" rx="5.5" ry="3.9" transform="rotate(-5 583.9 118.9)" fill="#c00000" opacity="0.5"/><ellipse cx="631.2" cy="124.5" rx="5.5" ry="4" transform="rotate(-20 631.2 124.5)" fill="#c00000" opacity="0.5"/><ellipse cx="594.5" cy="130.8" rx="6" ry="4.1" transform="rotate(-5 594.5 130.8)" fill="#c00000" opacity="0.5"/><ellipse cx="677.9" cy="136.5" rx="5.1" ry="4.1" transform="rotate(15 677.9 136.5)" fill="#c00000" opacity="0.5"/></g><g filter="url(#b2)"><ellipse cx="578.9" cy="46.9" rx="3.8" ry="1.4" transform="rotate(-25 578.9 46.9)" fill="#fa0806"/><ellipse cx="587.5" cy="50.5" rx="4.1" ry="1.4" transform="rotate(-10 587.5 50.5)" fill="#fa0806"/><ellipse cx="562.6" cy="58.1" rx="3.8" ry="1.6" transform="rotate(-5 562.6 58.1)" fill="#fa0806"/><ellipse cx="575" cy="60.9" rx="2.8" ry="1.4" transform="rotate(10 575 60.9)" fill="#fa0806"/><ellipse cx="582.8" cy="63.3" rx="3.6" ry="1.4" transform="rotate(-30 582.8 63.3)" fill="#b40603"/><ellipse cx="618.2" cy="54.2" rx="4.1" ry="1.4" transform="rotate(5 618.2 54.2)" fill="#fa0806"/><ellipse cx="637.4" cy="56.6" rx="3.6" ry="1.4" transform="rotate(8 637.4 56.6)" fill="#fa0806"/><ellipse cx="667.5" cy="54.2" rx="4.1" ry="1.4" transform="rotate(10 667.5 54.2)" fill="#b40603"/><ellipse cx="601.5" cy="72.1" rx="3.3" ry="1.2" transform="rotate(-10 601.5 72.1)" fill="#b40603"/><ellipse cx="589.1" cy="77.3" rx="2.9" ry="1.9" transform="rotate(30 589.1 77.3)" fill="#fa0806"/><ellipse cx="585.2" cy="83.5" rx="2.2" ry="1.6" transform="rotate(-60 585.2 83.5)" fill="#fa0806"/><ellipse cx="580.2" cy="84.8" rx="3.6" ry="1.2" transform="rotate(-60 580.2 84.8)" fill="#780301"/><ellipse cx="600" cy="87.4" rx="3" ry="1.8" transform="rotate(10 600 87.4)" fill="#fa0806"/><ellipse cx="616" cy="84.8" rx="3" ry="1.2" transform="rotate(0 616 84.8)" fill="#b40603"/><ellipse cx="671.2" cy="75" rx="4.3" ry="1.2" transform="rotate(0 671.2 75)" fill="#c80603"/><ellipse cx="656.1" cy="87.4" rx="2.9" ry="1.1" transform="rotate(-10 656.1 87.4)" fill="#780301"/><ellipse cx="648.6" cy="98.5" rx="4.2" ry="1.4" transform="rotate(-12 648.6 98.5)" fill="#fa0806"/><ellipse cx="662.8" cy="99.4" rx="3.6" ry="1.6" transform="rotate(25 662.8 99.4)" fill="#b40603"/><ellipse cx="676.1" cy="104.6" rx="2.2" ry="1.5" transform="rotate(0 676.1 104.6)" fill="#6e0301"/><ellipse cx="660.8" cy="113.9" rx="2.9" ry="2.1" transform="rotate(-45 660.8 113.9)" fill="#fa0806"/><ellipse cx="667.8" cy="119.4" rx="2.9" ry="1.6" transform="rotate(15 667.8 119.4)" fill="#fa0806"/><ellipse cx="574" cy="100.7" rx="3.6" ry="1.1" transform="rotate(40 574 100.7)" fill="#b40603"/><ellipse cx="577.4" cy="105.7" rx="1.9" ry="1.6" transform="rotate(0 577.4 105.7)" fill="#fa0806"/><ellipse cx="559.5" cy="109.7" rx="3.3" ry="1.2" transform="rotate(-25 559.5 109.7)" fill="#b40603"/><ellipse cx="569.1" cy="114.4" rx="4.1" ry="1.4" transform="rotate(8 569.1 114.4)" fill="#fa0806"/><ellipse cx="583.9" cy="118.9" rx="3" ry="1.4" transform="rotate(-5 583.9 118.9)" fill="#fa0806"/><ellipse cx="597.3" cy="115" rx="1.9" ry="1.4" transform="rotate(0 597.3 115)" fill="#6e0301"/><ellipse cx="616.4" cy="113.9" rx="3.2" ry="1.2" transform="rotate(22 616.4 113.9)" fill="#8c0402"/><ellipse cx="623.4" cy="117" rx="3.2" ry="1.1" transform="rotate(18 623.4 117)" fill="#820402"/><ellipse cx="631.2" cy="124.5" rx="3" ry="1.5" transform="rotate(-20 631.2 124.5)" fill="#fa0806"/><ellipse cx="594.5" cy="130.8" rx="3.5" ry="1.6" transform="rotate(-5 594.5 130.8)" fill="#fa0806"/><ellipse cx="677.9" cy="136.5" rx="2.6" ry="1.6" transform="rotate(15 677.9 136.5)" fill="#fa0806"/><ellipse cx="579.7" cy="124.1" rx="2.6" ry="1" transform="rotate(-10 579.7 124.1)" fill="#500201"/><ellipse cx="649.1" cy="111.6" rx="1.7" ry="1.2" transform="rotate(70 649.1 111.6)" fill="#500201"/><ellipse cx="656.1" cy="139.6" rx="1.7" ry="1.1" transform="rotate(0 656.1 139.6)" fill="#500201"/><ellipse cx="641.3" cy="125.6" rx="1.2" ry="1.5" transform="rotate(0 641.3 125.6)" fill="#5a0201"/></g></g>
<g id="h2"><g filter="url(#b5)"><rect x="554.5" y="156.4" width="19.5" height="19.3" fill="#0303ff" opacity="0.08"/><rect x="570" y="156.4" width="19.5" height="19.3" fill="#0303ff" opacity="0.06"/><rect x="585.5" y="156.4" width="19.5" height="19.3" fill="#0303ff" opacity="0.10"/><rect x="601.1" y="156.4" width="19.5" height="19.3" fill="#0303ff" opacity="0.12"/><rect x="632.1" y="156.4" width="19.5" height="19.3" fill="#0303ff" opacity="0.03"/><rect x="647.6" y="156.4" width="19.5" height="19.3" fill="#0303ff" opacity="0.03"/><rect x="663.2" y="156.4" width="19.5" height="19.3" fill="#0303ff" opacity="0.05"/><rect x="554.5" y="171.7" width="19.5" height="19.3" fill="#0303ff" opacity="0.12"/><rect x="570" y="171.7" width="19.5" height="19.3" fill="#0303ff" opacity="0.10"/><rect x="585.5" y="171.7" width="19.5" height="19.3" fill="#0303ff" opacity="0.03"/><rect x="601.1" y="171.7" width="19.5" height="19.3" fill="#0303ff" opacity="0.03"/><rect x="632.1" y="171.7" width="19.5" height="19.3" fill="#0303ff" opacity="0.05"/><rect x="647.6" y="171.7" width="19.5" height="19.3" fill="#0303ff" opacity="0.05"/><rect x="663.2" y="171.7" width="19.5" height="19.3" fill="#0303ff" opacity="0.08"/><rect x="554.5" y="187" width="19.5" height="19.3" fill="#0303ff" opacity="0.08"/><rect x="570" y="187" width="19.5" height="19.3" fill="#0303ff" opacity="0.05"/><rect x="585.5" y="187" width="19.5" height="19.3" fill="#0303ff" opacity="0.03"/><rect x="601.1" y="187" width="19.5" height="19.3" fill="#0303ff" opacity="0.05"/><rect x="632.1" y="187" width="19.5" height="19.3" fill="#0303ff" opacity="0.03"/><rect x="647.6" y="187" width="19.5" height="19.3" fill="#0303ff" opacity="0.06"/><rect x="663.2" y="187" width="19.5" height="19.3" fill="#0303ff" opacity="0.12"/><rect x="570" y="202.3" width="19.5" height="19.3" fill="#0303ff" opacity="0.06"/><rect x="585.5" y="202.3" width="19.5" height="19.3" fill="#0303ff" opacity="0.05"/><rect x="601.1" y="202.3" width="19.5" height="19.3" fill="#0303ff" opacity="0.03"/><rect x="616.6" y="202.3" width="19.5" height="19.3" fill="#0303ff" opacity="0.03"/><rect x="632.1" y="202.3" width="19.5" height="19.3" fill="#0303ff" opacity="0.03"/><rect x="647.6" y="202.3" width="19.5" height="19.3" fill="#0303ff" opacity="0.05"/><rect x="663.2" y="202.3" width="19.5" height="19.3" fill="#0303ff" opacity="0.06"/><rect x="554.5" y="217.5" width="19.5" height="19.3" fill="#0303ff" opacity="0.03"/><rect x="570" y="217.5" width="19.5" height="19.3" fill="#0303ff" opacity="0.05"/><rect x="585.5" y="217.5" width="19.5" height="19.3" fill="#0303ff" opacity="0.06"/><rect x="601.1" y="217.5" width="19.5" height="19.3" fill="#0303ff" opacity="0.05"/><rect x="616.6" y="217.5" width="19.5" height="19.3" fill="#0303ff" opacity="0.03"/><rect x="632.1" y="217.5" width="19.5" height="19.3" fill="#0303ff" opacity="0.05"/><rect x="647.6" y="217.5" width="19.5" height="19.3" fill="#0303ff" opacity="0.06"/><rect x="663.2" y="217.5" width="19.5" height="19.3" fill="#0303ff" opacity="0.06"/><rect x="554.5" y="232.8" width="19.5" height="19.3" fill="#0303ff" opacity="0.03"/><rect x="570" y="232.8" width="19.5" height="19.3" fill="#0303ff" opacity="0.03"/><rect x="601.1" y="232.8" width="19.5" height="19.3" fill="#0303ff" opacity="0.05"/><rect x="632.1" y="232.8" width="19.5" height="19.3" fill="#0303ff" opacity="0.05"/><rect x="647.6" y="232.8" width="19.5" height="19.3" fill="#0303ff" opacity="0.06"/><rect x="663.2" y="232.8" width="19.5" height="19.3" fill="#0303ff" opacity="0.10"/><rect x="616.6" y="248.1" width="19.5" height="19.3" fill="#0303ff" opacity="0.03"/><rect x="632.1" y="248.1" width="19.5" height="19.3" fill="#0303ff" opacity="0.03"/><rect x="647.6" y="248.1" width="19.5" height="19.3" fill="#0303ff" opacity="0.10"/><rect x="663.2" y="248.1" width="19.5" height="19.3" fill="#0303ff" opacity="0.12"/></g><g filter="url(#b4)" stroke="#0303ff" stroke-width="2.9" stroke-linecap="round" fill="none"><path d="M562.1 164.7l3.8 0M556 173.1l1.9 0.1M560 162.6l4 -0.4M561.6 165.1l2.2 2.8M555.4 163.2l4.2 0.3M580.5 161.5l1.6 1M571.3 162.9l2.2 1.6M576.2 159.4l4.1 2.3M572.4 161.5l3 0.4M600.7 169.9l2.2 -1.3M587.7 163l2.7 2.1M589.7 169.7l3.9 0.7M609.7 165l2.6 1.3M603.3 158l2.8 3.9M606.4 171.1l4.1 0.9M606 169l4.2 0.2M603.5 164.9l2.3 0.7M630.4 158.7l2.4 1.6M646.6 167.9l4.4 0.8M636.4 167.8l3.5 1.4M638.7 166.8l2.4 0.6M636.9 170.1l1.3 3.6M643.1 164.4l4.1 0.4M654.4 172.3l2.4 1.9M569.2 177.6l3.9 -0.1M563.2 180l4.2 0.8M561.1 188.1l3 -0M565.1 180.8l3.6 2M563.5 183.1l1.7 1.5M555.8 186.2l2.4 -0.9M585.4 181.4l2.6 2.7M571.6 185.6l3.5 -0.4M572.8 187.7l1.7 -0.5M573.4 176.9l2.1 2M584.8 173.4l3.3 0.7M577.6 178.3l2 -0.5M591.2 188.5l1.8 -0.5M600.4 184.8l4.7 -1M631.5 172.5l2.7 3M637.1 173.4l4.1 2.3M635 173.5l3 1.2M647.1 187.3l1.6 1.2M642.2 182.4l2.8 3.8M655.9 178.2l4.3 2.4M660.6 182.5l4.5 -0.7M674.2 182.7l1.8 1.2M675.2 182.8l2.9 3.1M673.4 177.2l3.5 1.6M569.8 190.1l2 0.2M577.2 197.4l4.1 0.6M585 200.1l2.4 -0.3M592.5 195.9l4.3 -0.9M594.7 192.3l4.9 -0.6M608.9 199.9l2.1 2M604.2 197.5l2.1 0.5M604.1 200.3l1.3 -0M651.3 203.4l4.6 0.5M649.5 193.1l2.6 0.9M657.2 195.7l2 1.1M673.8 202.5l1.7 0.6M673.5 197l1.2 0.6M679.1 199.5l2.8 -0.4M666.4 198.2l1.4 0.2M671.5 198l2.5 1.2M667.2 199.1l3.8 2.6M668.1 203.2l4.5 -0.9M664.7 194.8l2.6 1.6M678.6 202.5l3.7 -0.8M673.4 196.4l4.4 -1.5M665.9 189.6l1.9 -0.1M676.9 193.2l2.7 0.3M677.6 203.2l4.7 0.2M674.6 190.3l1.4 4.2M586.2 211.6l0.2 4.3M577.6 211.7l4.7 0.9M584.9 216.9l2.9 3M572.4 219l4.2 0.5M583.7 218l2 -0.1M597.2 207.6l1.3 1.2M613.4 212l1.4 -0M648.8 205.9l1.6 0.6M649.3 215.7l1.9 1.2M653.5 206.3l2.6 3.6M651.4 217.9l3.7 -1.1M674.7 210.9l3.8 1.2M670 217.1l2.1 0.7M577.1 224.2l3.9 -0.3M591.1 230.4l3.8 -0.6M630.1 230.3l2.5 0.4M642 229.2l3.5 1.8M635.2 231.3l2.5 3.3M638.9 226l1.3 -1M649.7 222.3l1.8 -0.3M657 222.3l2.1 0.9M663 220.1l2.8 2.6M675.5 227.6l2.4 0.5M669.1 230.4l2 0.9M572.7 238.2l1.9 1.1M580.9 240.3l2.6 -0.6M597.1 247.3l3.3 0.7M587.9 242.4l2.1 0M607.7 234.7l1.4 0.5M637.1 244.5l3 1.4M637.6 247.5l2.3 0.3M653 248.9l2.1 1.7M662.6 248.9l1.3 0.8M656 247.4l2.3 -0.7M666.7 237.2l4.6 -0.3M670.9 237.9l2.8 -0.2M671 238.6l1.8 0.5M586.4 265l3.5 0.1M611.1 251.1l2.9 1.6M663.9 251l1.9 1.5M651.3 251l1.3 -0.2M663.1 263.7l2.9 0.5M652.8 263.8l1.8 0.8M648.4 256l3.2 0.9M674.8 263.6l1 1.3M678.8 260.1l2.7 2.6M676.6 252.1l4.3 -1.6M666.8 257.9l3.5 -0.9M675.1 252.1l0.6 3.1M672.1 261.6l1.5 1M667.7 250.6l2.7 0.2M671.6 251.3l1.4 -0.9M670.3 262l3.9 2.3M671.2 257.1l4.6 -1.3M676.6 255.2l1.5 0.9M665.7 249.2l3.3 3.4M668.5 254.4l3 1.2M668.4 264l1.6 -0.1" opacity="0.45"/><path d="M556 167.1l3.6 0.9M566.4 164.6l3.3 0.5M565.1 164l4 -1.9M559 171.4l1.8 -0.2M565.6 162.7l3.8 1.8M586.8 162.7l1.3 -1.2M577.3 160.6l1.7 0.1M570.4 173.1l4.7 -0.3M586.9 168.4l2.6 3M599.5 162.9l4.7 1.3M598.8 166.7l1.5 0.9M587.9 160.7l3.8 2.9M590.1 173.2l2.2 -0.2M594.5 170.6l1.4 -0.5M595.4 165.4l3.7 1.4M602.9 173.6l3 -0.1M613.6 173.8l2 -0.6M613.5 162.6l3.2 1.5M607.6 164.6l1.3 4.3M614.2 158.7l1.4 0.5M602.1 162.8l3.9 0.3M610.7 169.6l3.6 -1.1M601.8 171.8l3.2 -1.1M603.5 157.7l0.5 4M601.3 164.9l4.4 -0.4M615.8 159.6l2.7 1.7M605.5 169.4l2 1.5M622.8 159.7l1.5 0.5M631.2 159.4l2.8 0.9M642 165.6l3.9 1.9M639.8 167.7l2.8 1.7M661.6 169.5l3.1 -0.1M658.8 160.6l4.2 2.2M658.1 165.2l2.8 0.9M676.6 158.1l4.1 1.4M670.8 161.3l0.3 1.8M665.9 171.4l1.6 0.9M675.1 166.4l1.8 0.3M561.2 173.7l3.9 1.9M560.8 179.9l3.1 2.1M563.4 181.6l1.4 1.3M569.5 172.7l3.4 2.2M563.2 176.1l3.9 1.1M556.4 185.6l0.7 1.8M562 182.1l4.3 1.5M567.5 174.4l1.3 -0.5M564.2 175.2l3.2 1.2M560.4 185.7l4 -1.3M561 186.6l0.8 1.2M567.4 179.1l3.6 1.5M561.5 188.5l3.1 -0.4M557.9 184.5l1.5 -0.4M560.1 184.4l4 1.8M564.1 182.5l1.8 0.7M563 184.7l3.6 1.2M573.3 179l3.4 -2.8M581.3 174.9l3.9 0.4M574.6 181.6l1.3 0.8M583.1 188.6l4.5 -1.1M579.3 182.6l2 1.1M574.2 186l3.6 1.6M571.6 174.5l2.8 0.4M570.4 184.2l4.9 0.2M584.6 175.1l3.3 -2.3M572.5 180.7l1.4 -1.2M576.8 179.3l4.2 1.4M595.7 186.1l4.8 0.3M606.2 177.6l1.4 0.6M603.6 176.5l3.3 2M638.6 185.4l2 1.5M657.8 180.9l1.9 -0.2M659.1 182.6l4.7 -1.1M654.9 188.4l4.6 0.6M668 181.7l3.7 2.5M665.1 178.6l4 1.1M672.9 187.3l2.4 -0.2M669 181.8l4.4 -0.6M666.5 174.9l2.7 -1.1M675.1 188.4l1.4 0.9M677.6 179.6l3.5 1.6M672.3 179.6l2.3 -1.1M667.6 187.2l1.7 0.5M668.1 176.2l4.2 0.3M565.2 194.9l1.3 -0.4M563.1 200.6l2.7 2.1M561.1 194.6l2.2 1.9M555.3 196.3l2.9 0M571.3 189.7l2 1.8M573.1 197.1l4.6 -0.8M602.2 202.6l2.7 1.1M632.1 197.1l4 -1.5M643.8 199.8l2.4 -0.4M677.4 197.5l2.5 0.9M672.2 189.6l1.6 -0M667.5 190.5l2.1 3.9M672.3 201.7l1.8 -2M678 198.8l4.1 0.6M666 188.9l1 3M674.6 202l1.4 0.1M666.3 192.8l4.2 1.8M670.5 196.3l3.8 1.6M665.5 201.2l2.1 -0.8M678.4 200.3l3.1 -2M669.7 195.6l2.7 1.4M667.6 196.6l2.5 2.8M560.8 204.9l3.7 1.1M567.5 207.2l4 0.6M584 210.2l1.9 4.1M584.9 206.6l3.6 1.7M584.4 205.6l4.9 0.3M589.1 215.7l3.7 2.4M588 211l3.7 3M591.9 216.5l2.7 3.2M601.6 217l1.7 0M611.2 208.8l3.5 2.2M605.7 212.7l1.4 -0.2M628.1 213l4.1 0.8M617.6 214.2l3.5 1.7M641.4 206.9l3.9 -0.1M662 207l1.8 -0.2M663.2 215.5l4.5 1M667.2 212.9l4 -1.1M676.9 215.8l0.6 1.2M671 216.4l3.9 0.8M668.3 219.3l2.2 0.3M590.4 231.8l4.4 2M596.7 226.4l1.6 0.7M594.1 220.6l1.4 0.2M591.7 224.7l3.2 3.3M600.1 220.3l1.8 1M589.4 223.4l2.1 -0.3M608.4 222.4l3.7 1.8M607.3 224.8l2.1 -1M615.3 217.9l2.2 3.4M623.7 231.4l2.3 -1.3M629.5 220.7l3.8 -0.4M654.1 223.7l2.3 1M661.5 221.5l3.5 -0.3M673 220.8l0.1 1.7M669.9 233.6l4.7 0.9M677.8 220.6l3.5 3.3M670.3 233.3l2.4 1.3M668.2 230.1l2 -1.5M583.6 246.4l1.9 1.1M575 235.8l3.8 1.4M606.1 243.3l3.3 0.4M617.4 235.5l1.9 0.8M616.7 236.4l1.4 0.1M646.4 238.6l2.9 -2.8M663.6 246.1l2.6 -0.2M653.4 245.5l2 1.6M652.6 244.5l2.9 1.1M655.4 237.1l2.6 0.7M657.5 244.2l2.2 0.1M662 241.2l1.9 1.9M652.9 248.8l2.3 1.1M669.4 243.5l2.4 1.7M671.5 246l1 1.4M673.5 244.8l3.3 0.9M678.8 242.4l3.4 -1.6M678.8 238.8l2 1.6M678.7 241.5l1.2 0.6M665.5 238.9l3.5 -0.4M668.5 247.2l2.6 0.1M582.6 250.6l2.2 3.1M599.9 263.4l3.7 0.3M605.5 251.3l1.9 1.1M632.5 257.2l3 1.2M638.6 251.9l2.9 -0.1M638.1 264.3l2.5 0.6M651.5 252l3.5 1.6M658.5 260.1l1.8 2.2M666.8 254.8l4 2.1M676.1 251.7l1.6 -0.4M675 256.2l3.4 1.4M667.3 260.5l1.5 1.1M668.2 255.6l3.3 0.7M664.4 265l1.6 0.1M673.5 253.3l1.8 0.3M674.4 251.3l3.6 2.8M666.2 249.8l2.6 0.9M673.8 255.3l1.3 0.3M673.3 251.2l1.7 0.6M673 249.7l1.8 2.3M673.9 255.7l3.3 2.2M664.3 251.7l2.9 2.3M675.5 260.8l1.9 1M677.2 250.8l2.7 0.8M676.6 251.4l2 0.8M678.3 262.9l1.9 -0.8" opacity="0.72"/><path d="M570.1 172.5l1.5 0.3M564.4 161.1l2.8 1.2M564.1 163.9l3 1.5M558.3 169l1.5 2.3M564.1 160l1.3 0M555.5 167.2l4.6 -1.7M565.6 159.9l1.8 -1M570.1 159l0.8 1.2M564.6 161.7l3.6 0.8M560.3 168.3l3.2 0.8M557.6 162.3l2.3 0.7M579.8 171.2l1 1.3M578 172.7l4.8 0.6M585.6 164.5l1.4 0.5M574.4 161.8l3.2 1.8M573.4 161.5l4.1 2M577.2 162.4l2 0.7M577.7 163.7l3.1 0.5M580.3 161.5l1.8 0.6M576 172.6l1.5 -0.6M582.8 168l4.1 0.9M587 161.4l2 0.7M593.9 160.9l4.2 1.4M597.9 161l1.7 0.3M596 161.8l1.4 0.9M590.1 158.7l2.9 0.7M590.6 160.8l2.6 -1.4M586.3 168.7l3.3 0.5M591.8 166.2l3 3.1M588.6 169.5l2.2 -1.2M591 172l1.9 0.3M590.7 169.3l2.1 3.3M594 167.9l1.8 1.2M596.4 166.1l3.2 -0.9M614.1 160.2l4.3 0M602.4 171.6l1.9 0.8M604.8 158.7l1.6 0.8M605 159.8l2.2 0.9M602.8 161.8l3.2 -1.5M604.2 158.8l2.2 1.7M616.8 170.6l2.1 1.6M606.3 171.9l4.2 1.9M613.4 173.3l4.1 0.4M611.5 161.8l1.6 0.8M615.9 166l4.3 -0.7M612.6 164.8l1.4 1M610.9 169.1l4 0.2M612.1 163.4l2.6 0.7M614.5 173.1l2.2 -0.3M614.2 161.7l4.4 0.6M613 173.5l4 -0.2M602.2 167.8l4.6 0.5M603 169.6l0.9 3.4M604.9 170.1l4.2 1.7M610.4 161.4l1.8 -0.1M613.7 159.1l1.5 1M602.6 160.1l1.5 0.6M608.4 168.4l2.7 -0.3M613.1 167.3l3.1 1.5M617 166.9l2.2 0.8M602.6 170l2.9 0.3M610.8 167l2 -0.2M608.5 164.5l4.6 0.2M619.9 166.2l4.4 2M646.9 165.2l2.1 1.7M653.2 170l2.3 0.9M651.5 169.1l2 1M669.5 170.1l1.2 0.7M672.3 169.2l2 1.8M663.9 164l2.7 0.9M678.4 166.1l3.2 1.5M561.1 177.2l4.8 0.2M569.6 181.5l4.3 1.3M557.8 174.1l1.7 0.5M566 178.2l3.3 2.1M569.2 181.2l2.7 -0.6M570.6 184.1l1.8 1.4M560.1 181.3l2.2 1.2M562.6 174.8l2.6 1.7M559 185.4l2.2 3.5M563.1 175.1l2.9 1.8M558.5 179.4l4 1.1M560.4 180.8l1.4 0.4M560.8 184l4.1 -0.6M556.8 176.9l3.9 1.4M560.6 183l2.5 2.3M556 176.1l3.3 2.5M562.1 174l3.8 -0M560.7 173.1l2.4 3.2M564.2 180.7l3.1 0.1M566.9 187.9l2.4 -0.3M561.2 183.2l1.1 1.3M562.7 186.8l3 0.2M569 183.5l0.8 3.1M557.5 183.3l2.5 2.1M576.5 179.7l1.8 -0.7M581.7 184.4l3.9 -0.3M578.9 178.6l1.8 1.4M584.3 184.4l2.8 0.3M574 187l3.8 -0.4M580 179.4l4.4 -0.1M582 176.1l3 2.2M574.3 181.1l2.5 1.3M575.5 176.8l1.4 1.6M600 175.2l3.9 1.6M588.8 176.7l3.5 0.6M606.3 174.2l4.2 0.9M642.3 185.4l2 0.3M636.2 178.4l3.7 2.6M641.9 182.8l3.6 0.4M635.3 184.3l0.7 1.3M637.8 179.6l1.6 -0.2M661.2 183.4l2.7 0.4M666.1 178.8l4.4 0.8M665.7 187.6l1.6 -1M679.3 188.1l2.1 -0.1M679.4 175.5l2 0.3M669.1 187.6l1.7 -0.3M566.4 198.3l3.5 0.8M556 202.5l4.4 1.4M562.6 200.1l2.2 1.2M562.8 197.2l4.6 -0.3M558.6 202.8l2.9 1.2M558.2 197l3.4 -3.1M558.8 199.6l2.9 0.3M560 192.5l2.8 2.6M564.4 194.3l1.5 -0.3M555.5 198l2.1 1.8M559.4 198.7l3.2 0.3M582.7 189.3l2 0.2M594.9 192.8l4.2 2.2M600.5 198.4l2.7 1.2M599 188.4l2.1 1.4M598.3 198.5l2 0.5M596 193.7l2.6 -0.2M613.8 191.1l2.1 1.8M602.1 191.6l3.4 0.8M616.6 203.7l1.6 -0.3M617.3 189.7l2 2M642.1 203.5l1.6 0.8M652.5 197.7l1.6 1M649.7 202.7l2.9 0.7M660.8 191l2.1 1.7M651.8 188.4l3.1 1.5M653.1 189.6l2 1.4M649.8 201.5l3.1 1M659.5 192.6l3.5 1.2M676.7 197.7l4.6 1.1M673.2 195.6l3.4 1.3M663.3 198.2l4.2 0.8M669.5 192.7l3.5 3.1M670 202.8l4.6 -0.1M664.8 191.9l2.6 -1.2M666.8 199.8l2.5 1.2M678 189.3l3.1 1.7M668.1 197.4l3.7 -0.7M673.5 196.7l2.5 -0M664.6 191.8l3 -1.9M677.5 189l1.4 0.2M663.4 203.6l4.7 -0.1M672.6 195.2l3.6 1.4M671.6 202.2l4.3 -0M674.1 194.5l4.2 -1.2M668.1 192.2l2.2 0.8M678.2 191.8l1.4 1M665.9 189.5l2.6 0.1M675.4 197.5l3.8 1.2M673.6 189.5l2.5 0.8M679.1 193.2l1.2 0.6M670.4 203.3l2.4 1.3M667.6 203l3.6 0.3M665.3 190.7l0.6 1.3M665 195.2l3 0.5M671.9 193.6l3.3 3.1M557.5 214.7l2.4 -0.6M585.9 206.3l1.8 0M578.7 214.8l2.7 -0.9M573.3 205.6l3.2 0.8M578.1 215.5l1.8 -0.5M574.2 211.7l1 -1.3M602 208.7l3.2 1.6M605.2 203.4l2.9 2.6M632.5 216.9l2.3 1.5M620.9 209.6l3.3 2M625.1 211l2.2 -0M629.8 217.4l1.9 2.8M624.8 216.1l3.5 -0.8M653 214.8l4.3 2.2M653.9 205.2l4.1 1.3M661.2 206l1.8 1.1M661.7 217.6l4 1.1M666 218.6l4.7 -1M666 205.8l3.9 1M566.2 232.5l3.6 1.8M560.6 219l2.9 1.9M584.8 222.2l3.1 3.3M584 219.1l3.4 2.2M585.9 221.6l4.8 -0.1M585.7 223.5l4.2 1.2M591.3 220.4l2.1 2.9M600.9 228.8l2.5 2.1M591.2 222.3l3.6 2.7M606.4 228.9l2.5 -0M612.2 222.3l2.2 3.5M622.9 226.5l2.3 0.1M632.1 229.2l3.7 -0.3M639.7 229.8l2.5 0M638.1 219l1.2 3.4M645.8 219.1l2.6 1.1M656.2 227l1.8 0.5M656.7 233.3l2.1 1.1M648.7 231.5l4.2 0.5M655.6 232.8l3.4 2.4M649.1 229.9l2.9 -0.3M659.4 220.2l3.6 2.6M666 224.6l3.2 2.3M674.8 227.7l1.9 1.5M671 223.5l1.5 0.6M668.4 228.5l4 1.9M665.8 232.6l3 1M568.2 237.3l2.1 0.8M560 236.8l2.9 3.1M583.5 237.7l3.8 0.6M585.2 243.7l2.5 1.3M592.2 240.9l1.9 4.1M597 245.6l2.9 -0.3M601.9 236.3l1.2 0.6M608.9 236.7l3.9 1.6M606 247.3l1.9 -1.3M605.9 241.2l4.3 -1.7M610.8 240.9l3.6 1.6M609.5 239.1l1.4 -0.5M607.2 243.6l3.1 1.4M621.1 245.8l4.4 1.3M624.1 243.6l4.3 0.4M641 236.6l2.3 -0.3M634.3 238.3l4.3 1.2M652.9 241.5l1.7 1.2M673.3 248.1l4.1 1.2M667.6 237.8l2.6 -0.7M671.8 244.7l2.8 -0.1M676.5 248.1l1.7 -0.2M674.1 239.5l2.5 0.4M671.2 248.5l2.6 0.8M676.8 249l1.7 -0.4M678.8 240.8l1.7 0.9M676.8 241.8l4.2 1.6M677.1 248.2l1.8 0.6M667.1 239.7l3 2.6M675.2 249.1l0.7 1.1M677.3 243.1l2.7 0.8M565.7 260.6l2.9 3.8M584.6 249.7l3.3 1M589 253.5l1.8 -0.1M614.4 255.6l4.8 0.9M626.5 262.5l2.3 1.9M617 260.7l4.1 0.6M630.3 256.3l4.1 0.9M622.8 263.8l4 2.7M620.3 250.6l0.9 1M639.5 251.9l4.3 0.3M634.4 263.3l2.3 1.1M642.6 254.5l3.2 0M651.8 260.4l3.5 0.4M652.2 261.9l1.8 -0.3M659.1 255.5l1.9 0M654.8 265.1l3 -0.3M658.2 261.9l1.1 1.2M648.5 261.5l4.5 0.9M656.5 259.9l2.1 0.7M656.1 262.4l3.5 -1M653.9 256.3l1.8 0.5M648.8 255.2l2.3 2.3M659.5 259.4l2 2.1M661.5 252l1.8 -0.2M653.8 251l1.9 1.2M662.3 258.3l2.4 -2.2M661.3 264.8l1.6 -1.5M657.2 254.7l4.2 2M649.6 250.9l1.8 0.2M659.5 261l1.2 1.7M676.5 259.4l3.4 2.4M665.4 260.2l2.8 3.9M665.2 259.4l1.8 -0.4M677.2 257.1l1.2 1.8M670.7 255.5l2.7 0.3M677.6 261.6l3.6 -1.8M671.7 264.4l3.9 1M669.8 255.4l4.3 1.4M674.5 260.8l2.5 -1M664.9 250.6l1.8 1.1M665.7 252.9l3.8 1.9M667 263.3l2 0.5M665.4 260.4l4.4 2M670.5 262.7l1.7 0.7M665 261.8l2.5 3M666.4 263l3 2.1M678.1 250l3 0.6M678.6 262.6l4 2.6M665.5 252.9l2.5 2.7M678.1 259.1l3.7 1.7M674.5 252.4l4 1.8M678.6 264.8l3.8 0.4M674.3 260.8l4.5 -0.7M678.6 250.2l3.2 1.4M670.6 260.6l3.3 0.9M665.5 260l4.7 1.4M669.1 250.2l2 0.1M666.5 258.9l1.6 0.8" opacity="1"/></g></g>
<clipPath id="cp20"><rect x="556.5" y="45" width="124.2" height="107.0"/></clipPath>
<clipPath id="cp21"><rect x="556.5" y="158.4" width="124.2" height="107.0"/></clipPath>
<clipPath id="cp22"><rect x="556.5" y="272" width="124.2" height="107.0"/></clipPath>
<g id="r3"><g filter="url(#b3)"><ellipse cx="700.8" cy="48.5" rx="6.1" ry="3.7" transform="rotate(-35 700.8 48.5)" fill="#c00000" opacity="0.25"/><ellipse cx="691.5" cy="62.2" rx="6" ry="4" transform="rotate(-25 691.5 62.2)" fill="#c00000" opacity="0.25"/><ellipse cx="694.6" cy="68.4" rx="6.3" ry="3.7" transform="rotate(-20 694.6 68.4)" fill="#c00000" opacity="0.25"/><ellipse cx="748.7" cy="47.2" rx="5.8" ry="4" transform="rotate(-30 748.7 47.2)" fill="#c00000" opacity="0.25"/><ellipse cx="756.9" cy="50" rx="5.1" ry="4" transform="rotate(-50 756.9 50)" fill="#c00000" opacity="0.25"/><ellipse cx="758.5" cy="55.2" rx="5.5" ry="4.1" transform="rotate(-30 758.5 55.2)" fill="#c00000" opacity="0.25"/><ellipse cx="767.1" cy="71.5" rx="5.3" ry="4.1" transform="rotate(-45 767.1 71.5)" fill="#c00000" opacity="0.25"/><ellipse cx="786.1" cy="66.4" rx="5.1" ry="4.1" transform="rotate(-35 786.1 66.4)" fill="#c00000" opacity="0.25"/><ellipse cx="788.9" cy="91.3" rx="5.8" ry="3.9" transform="rotate(-15 788.9 91.3)" fill="#c00000" opacity="0.25"/><ellipse cx="752.6" cy="116.6" rx="6.1" ry="4.1" transform="rotate(-10 752.6 116.6)" fill="#c00000" opacity="0.25"/><ellipse cx="785.3" cy="130.3" rx="5.8" ry="4" transform="rotate(-50 785.3 130.3)" fill="#c00000" opacity="0.25"/><ellipse cx="761.2" cy="142.3" rx="6.1" ry="4.4" transform="rotate(80 761.2 142.3)" fill="#c00000" opacity="0.25"/></g><g filter="url(#b2)"><ellipse cx="700.8" cy="48.5" rx="3.6" ry="1.2" transform="rotate(-35 700.8 48.5)" fill="#fa0806"/><ellipse cx="691.5" cy="62.2" rx="3.5" ry="1.5" transform="rotate(-25 691.5 62.2)" fill="#fa0806"/><ellipse cx="694.6" cy="68.4" rx="3.8" ry="1.2" transform="rotate(-20 694.6 68.4)" fill="#fa0806"/><ellipse cx="748.7" cy="47.2" rx="3.3" ry="1.5" transform="rotate(-30 748.7 47.2)" fill="#fa0806"/><ellipse cx="756.9" cy="50" rx="2.6" ry="1.5" transform="rotate(-50 756.9 50)" fill="#aa0502"/><ellipse cx="758.5" cy="55.2" rx="3" ry="1.6" transform="rotate(-30 758.5 55.2)" fill="#fa0806"/><ellipse cx="767.1" cy="71.5" rx="2.8" ry="1.6" transform="rotate(-45 767.1 71.5)" fill="#fa0806"/><ellipse cx="786.1" cy="66.4" rx="2.6" ry="1.6" transform="rotate(-35 786.1 66.4)" fill="#fa0806"/><ellipse cx="793.4" cy="63.3" rx="3.6" ry="0.9" transform="rotate(-35 793.4 63.3)" fill="#780301"/><ellipse cx="751.3" cy="83.8" rx="3.6" ry="1.4" transform="rotate(-10 751.3 83.8)" fill="#820402"/><ellipse cx="792.3" cy="82" rx="2.9" ry="1.4" transform="rotate(-70 792.3 82)" fill="#640201"/><ellipse cx="788.9" cy="91.3" rx="3.3" ry="1.4" transform="rotate(-15 788.9 91.3)" fill="#fa0806"/><ellipse cx="752.6" cy="116.6" rx="3.6" ry="1.6" transform="rotate(-10 752.6 116.6)" fill="#fa0806"/><ellipse cx="785.3" cy="130.3" rx="3.3" ry="1.5" transform="rotate(-50 785.3 130.3)" fill="#fa0806"/><ellipse cx="761.2" cy="142.3" rx="3.6" ry="1.9" transform="rotate(80 761.2 142.3)" fill="#fa0806"/><ellipse cx="688.7" cy="130.3" rx="2.2" ry="1.2" transform="rotate(-20 688.7 130.3)" fill="#6e0301"/><ellipse cx="733.1" cy="74.2" rx="0.9" ry="0.9" transform="rotate(0 733.1 74.2)" fill="#6e0301"/></g></g>
<g id="h3"><g filter="url(#b5)"><rect x="715.8" y="156.4" width="19.5" height="19.3" fill="#0303ff" opacity="0.04"/><rect x="731.3" y="156.4" width="19.5" height="19.3" fill="#0303ff" opacity="0.05"/><rect x="746.8" y="156.4" width="19.5" height="19.3" fill="#0303ff" opacity="0.04"/><rect x="715.8" y="171.7" width="19.5" height="19.3" fill="#0303ff" opacity="0.03"/><rect x="793.4" y="171.7" width="19.5" height="19.3" fill="#0303ff" opacity="0.04"/><rect x="793.4" y="187" width="19.5" height="19.3" fill="#0303ff" opacity="0.06"/><rect x="793.4" y="202.3" width="19.5" height="19.3" fill="#0303ff" opacity="0.04"/><rect x="731.3" y="232.8" width="19.5" height="19.3" fill="#0303ff" opacity="0.05"/><rect x="746.8" y="232.8" width="19.5" height="19.3" fill="#0303ff" opacity="0.03"/><rect x="762.3" y="232.8" width="19.5" height="19.3" fill="#0303ff" opacity="0.04"/><rect x="715.8" y="248.1" width="19.5" height="19.3" fill="#0303ff" opacity="0.04"/><rect x="746.8" y="248.1" width="19.5" height="19.3" fill="#0303ff" opacity="0.03"/><rect x="762.3" y="248.1" width="19.5" height="19.3" fill="#0303ff" opacity="0.03"/><rect x="777.9" y="248.1" width="19.5" height="19.3" fill="#0303ff" opacity="0.03"/></g><g filter="url(#b4)" stroke="#0303ff" stroke-width="2.8" stroke-linecap="round" fill="none"><path d="M698.4 173.8l2.7 -1.5M713.2 173.5l4.2 -2.8M723.3 173.7l1.9 -0.8M737.5 172.3l2.9 -2.5M733.6 168l1.9 -1.2M740.5 165.2l1.9 -1M734.8 163.2l3.8 -3.3M747.8 172.6l3.8 -2.3M774.1 169.1l1.3 -2M792 165.3l2.4 -0.6M783.7 173.4l2.2 -1.3M688.2 174.5l1.8 -1M717.2 179.1l3.6 -1.8M717.4 188.9l4.4 -2.4M728.8 189.5l2.7 -3.5M719 187.7l3.6 -3M718 189.5l3.4 -3M724 179.3l4.1 -1.7M793.4 186.8l2.2 -2.1M786.3 174.8l2 -1.8M792.8 176.4l1.6 -1.5M798.5 177.6l4 -1.8M808.9 177.6l2.9 -3.4M803.2 177.4l3.5 -1.8M724.9 200l2.9 -2.2M735.3 204.6l1.8 -1.2M769.2 192.5l1.3 -1.4M806.1 201.2l2.9 -1.5M809.5 203.4l1.7 -0.7M803.9 194.8l4.5 -2.7M798.9 190.3l1.7 -1.2M799.7 193.9l3 -3.1M801.8 197.8l2.4 -2.6M795.8 203.8l2.8 -1.1M805.4 190.3l3.4 -1.9M801.8 191.9l3.6 -0.4M802.2 192.8l2.6 -2M796.3 204.5l3 -1.5M698.1 216l4.7 -2.2M709.5 212.9l4.3 -2.7M715 209.1l3.3 -2.9M726.7 217.8l2.8 -1.8M754 218l3.3 -2.4M772.5 208l2.3 -2M808.4 206.5l2.2 -1.3M797.2 210.6l2.7 -2.1M705.6 228.2l3.9 -3.1M729.2 225.8l2.7 -1.7M722.6 228.4l3.3 -1.9M736.8 224.6l2 -2M743.8 226.8l4 -1.9M747.6 232.2l2.5 -2.7M777.8 221.1l1.3 -1.5M709.1 236.6l3.2 -2.7M701.1 242.3l3.9 -2M707.6 248.9l4.2 -3.5M700.1 238l5 -1.6M724.8 250.1l2.4 -1.5M740.5 250.8l4.1 -2.8M741.1 240l1.7 -1.5M736.8 240.7l4.1 -2.3M733.8 242l1.9 -1.2M756.6 245.2l3.8 -2.5M754.9 248.1l4.3 -2.8M760.8 241.2l1.4 -1.3M753.4 248.8l4 -3.1M774.1 250.4l4.6 -3.4M806.8 249.1l4.1 -3.1M804.5 249.1l3.4 -2M800.9 244.5l3.5 -4M689.7 258.9l1.7 -1.1M714.9 261.3l3.3 -4M728.7 262.7l3.8 -3M725.3 257.2l4.3 -2.1M727.4 262.6l1.6 -1.1M723 262.5l1.5 -1.3M717.7 257l3.7 -3.5M727.2 261.3l3.2 -2.9M728.3 263l4.1 -3M739.7 265.8l4.4 -2.8M743.9 256.2l2.8 -1.4M748.9 253.2l1.8 -1.7M757.4 262.9l1.4 -1.9M755.1 260.4l4.2 -3.1M778 259.6l3.7 -0.8M777.8 262.2l4 -3.7M766.6 264l2.2 -1.1M784.9 261.7l2.5 -1.6M798 261.5l2.9 -1.4" opacity="0.45"/><path d="M689.4 161l1.8 -0.7M686.8 173.7l2.2 -0.8M698.1 172.3l3.1 -2.8M728.6 166.3l3.6 -2.3M728.4 168.2l2.9 -2.5M728.8 161.8l1.5 -1.4M733.2 164.8l4.3 -1.5M733.2 163.4l4 -3.8M737.7 163.7l3.9 -2.9M735.6 169.9l2 -1.5M732.9 168.3l3.6 -2.3M733.9 172.1l3.3 -0.8M734.4 162.8l2.7 -1.9M757 172.7l3 -2M762.2 174.3l2 -1.6M755.5 172.4l1.9 -1.1M767.8 162.7l5 -2.2M773.3 170.5l3.7 -3.6M767.3 161.1l3.8 -2.4M766.8 171.7l3.1 -1.9M782.9 171.6l3.7 -3.5M789 170.8l3.6 -3.5M790.4 171l4.6 -2.7M783.4 166.4l3.9 -3.8M695.6 187l5.3 -2.3M731.2 187.6l2.1 -1.6M722.2 179.2l2.4 -1.2M741.7 190.5l4.2 -3.1M780.1 177.1l3.8 -1.6M782.5 188.1l3.9 -2.3M795.8 189.4l2.7 -3.2M794.6 189.9l4.8 -2.9M804.4 185.6l3.7 -3.8M741.1 199.7l2.6 -0.9M742.1 202.9l1 -1.9M802 195.9l4.4 -3.2M796.3 189.9l2.4 -0.7M801.1 194.3l2.2 -0.7M794.5 195.4l2.2 -1.9M794.2 203l3.6 -2.4M800.5 203.8l2.2 -0.8M805.1 192.3l2.2 -1.7M806.3 204.3l4.4 -1.9M801.2 192.9l2.3 -1.1M801.8 194.6l2.9 -0.6M801.7 199.5l2.6 -1.5M798.1 201.9l3.9 -1.9M711.5 212.4l2.8 -1.6M727.1 215.2l2.3 -2.6M740.7 213.1l1.9 -1M745.9 219.5l4.1 -2.8M781.2 211.9l3.3 -2.1M795.7 206.9l1.7 -1.1M807.2 216.8l2.6 -1.3M808.9 217.1l2.7 -4.4M806.9 218.6l2.3 -2.1M809.9 206.5l1.5 -2.1M757.2 231.6l1.7 -1.8M687.4 249.4l2 -1.3M728 248.2l2.3 -1.2M737.5 246.2l3 -2M743.7 243.8l3.4 -3.8M744.5 240.3l1.8 -2.7M739.6 235.7l2.9 -1M742.4 238.6l3.9 -2.4M742.1 245l1.5 -1.2M748.8 244.9l2.6 -2.8M757.7 250l2 -1.2M751.9 238.8l3.1 -2.1M764.1 239.5l3.7 -1.5M765.9 238.8l3.4 -2.3M774.4 246.6l3.8 -2.3M791 236.7l3 -2.2M790.2 247.2l1.4 -1.4M784.2 237.2l1.5 -1.6M806.4 240l1.6 -1.8M695.3 252.2l2.8 -2.2M690.2 253l2.1 -1M710.7 252.1l3.5 -2M710.2 262.7l1.6 -1.4M701.4 264.2l2.9 -1.6M728.3 266.1l2.8 -2.4M731 256.7l2.9 -1M724.7 262.1l2.7 -4.3M732.6 255.4l3.3 -4.6M750 258l3.4 -2.9M757.9 256.1l5 -2.5M760.1 263.3l2.7 -1.9M776.5 263l2.7 -1.7M767.9 260.7l1.7 -2.4M767.2 257.1l3.3 -2.2M790.4 257.6l2 -2.7M778.6 266.4l4.5 -3M796.7 258.6l4.4 -2.9" opacity="0.72"/><path d="M688.2 164.3l1.4 -1.3M724.9 161.1l3.1 -1.8M723.1 168.7l2.4 -1.1M747.2 163.5l1.4 -1.1M736.1 165.6l3.9 -2.4M741.4 173.1l1.5 -1.7M738.1 166.8l3.3 -3.4M746 160.1l4.2 -1.9M733.2 160.8l2.4 -3.9M735.1 174l2.7 -2.5M739.2 169.4l2.6 -3.5M754.5 171.1l3.8 -2.6M759.6 164.1l1.9 -1.3M760.8 166.7l3.1 -2.8M748.3 165.2l3 -2.1M753.7 170.5l2.1 -1.5M758.3 162.3l2.3 -1.4M773.3 163.2l3.3 -2.5M778.2 160.8l2.4 -1.7M777.3 171.3l2.2 -0.8M764.3 159.6l3.2 -1.2M762.7 173.5l3.5 -2M767.8 175.4l2.7 -4.5M766.5 161.5l2.5 -2.2M789.8 169.4l2.2 -1.2M795.1 174l4.8 -3M807.5 159.2l3.7 -1.6M691.1 184.9l2.2 -1.8M697.6 180.7l2.7 -2.3M722.7 181.4l2.9 -1.5M720 177.2l3.5 -2M726.3 174.6l2.1 -1.3M731.4 183.4l1.6 -1.6M718.5 177.1l3.6 -1.7M719 184.4l3.1 -2.6M738.8 175.9l3.5 -1.6M778.1 178.6l2.5 -1.9M784.8 180.1l1.7 -0.8M796.8 174.3l2.9 -1M795.2 188.8l1.9 -0.8M795.3 176.6l2.1 -1.5M726.9 192.2l1.4 -1.2M727.4 199.7l1.9 -1.9M736.6 194.2l3 -3M734.4 194l3.8 -2.1M752.3 198.9l3 -2M772.4 204.7l3.6 -2.6M775.2 193.6l2 -1M793 197.7l3.6 -3.1M781.1 191.9l2.5 -1.5M791.1 190.4l3.2 -2.9M802.7 201.8l2.1 -1.4M803.3 200.7l2.2 -1.8M806.7 193.4l2.3 -1.2M795.7 197.3l2.5 -2.2M797.2 205l4.3 -2.9M803.1 191.9l2.7 -2.1M800.7 198.7l3 -2.1M801.7 192.9l5.1 -2.7M803.5 196.3l4.4 -3.3M795.1 196.4l3.1 -4M797.3 200.3l3.4 -4.2M809 200.6l2.4 -1.3M797.3 193.3l2 -1.6M798.2 200.4l1.7 -1.4M796.9 202.6l3.5 -2.2M796 204.2l2.8 -2.7M800.3 201.7l5.1 -2.5M799.9 193l2.2 -1.3M809.4 200.8l2.5 -2.3M689.5 207.4l3.2 -2.7M712.6 211.5l3.8 -2M710.9 217l4.4 -2.3M727.3 213.5l4.1 -1.7M736.7 213.6l2 -1.8M743.5 216.2l3.3 -3.6M754.6 220.3l3.4 -3.6M777.4 215.1l1.4 -1.5M781.7 219.2l1.2 -1.4M803 207l4.4 -1.9M801.8 207.9l1.8 -1M794.1 207l3.8 -3.1M805.7 212.2l4.1 -2.7M796.2 210.4l3.6 -2.5M715 228.9l3.9 -2.9M714.8 223.5l2.3 -0.6M724.2 230.2l4.1 -3M726.4 228.1l1.6 -1.4M735.8 226.7l2.6 -2M738.6 233.6l3.7 -2.8M758.2 230.4l3.7 -1.3M759.5 222.4l2.3 -4.5M762.9 225.5l2.6 -3.2M768.9 223.4l1.8 -3M787.5 229.5l3.4 -1.4M789.8 221.1l4.5 -1.4M687.7 236.8l1.9 -1.4M707.7 242l3.8 -3.8M723 240.5l3.4 -2.6M721.5 241.5l3.6 -1.4M721.8 245.9l3.4 -1.7M732.8 250l4.2 -2.3M739.6 244.8l4.1 -1.7M732 242.5l4.9 -2.9M747.4 246.2l2 -0.6M746.9 240.4l1.9 -2.2M731.4 242l4.9 -2.6M737.2 247.8l3.1 -3M744.5 241.9l3.6 -2.8M756.8 235.5l2.3 -0.9M751 236.4l2.5 -1.9M758.3 251.3l3 -4.8M750.6 235.6l1.6 -1.1M778 248.4l1.2 -1.5M767 246.8l4.5 -3M772.3 242.5l3.4 -3.6M773.2 247.2l4.7 -2.9M777.3 248.3l3.2 -1.4M807 239.8l2.4 -2.4M803.3 237.3l2.2 -2.1M797.3 236.2l2.9 -2.8M803.4 243.1l1.8 -0.6M804.7 247.6l2.3 -1.9M687.2 254.5l4 -3M711.3 258.3l3.3 -2.2M713.1 256.2l2 -2.2M723.4 266.1l4.4 -3.2M719.3 259.8l3.9 -1.7M722.9 261.2l4.1 -1.6M722 255.3l4.1 -2.4M727 261.2l2.5 -1.8M735.1 264l3.7 -2.2M762.1 257l4.3 -2.4M757.4 264.2l4.3 -2.7M752.5 259l4.9 -2.3M749.1 263.7l2.1 -3.4M778 255.6l2.9 -3.6M764 264.8l3.6 -2.3M787.2 260.9l3.8 -2.9M781.4 262l3.2 -3.3M796.2 255.1l2.1 -0.9M805.8 265.9l2.9 -2.2M806.5 259.1l2.6 -1.8M799.1 264l4.8 -3.1M807.5 253.7l4.2 -1.6M802.4 252.1l3.6 -3.5" opacity="1"/></g></g>
<clipPath id="cp30"><rect x="686.7" y="45" width="124.2" height="107.0"/></clipPath>
<clipPath id="cp31"><rect x="686.7" y="158.4" width="124.2" height="107.0"/></clipPath>
<clipPath id="cp32"><rect x="686.7" y="272" width="124.2" height="107.0"/></clipPath>
</defs>
<rect x="296" y="45" width="124.2" height="107.0" fill="#060000"/>
<g clip-path="url(#cp00)"><use href="#r0"/></g>
<rect x="296" y="158.4" width="124.2" height="107.0" fill="#000001"/>
<g clip-path="url(#cp01)"><use href="#h0"/></g>
<rect x="296" y="272" width="124.2" height="107.0" fill="#060000"/>
<g clip-path="url(#cp02)" style="isolation:isolate"><use href="#h0" y="113.6"/><g filter="url(#mg)" style="mix-blend-mode:screen" opacity="0.7"><use href="#r0" y="227"/></g></g>
<text x="302.6" y="149" font-family="'Liberation Serif','Times New Roman',serif" font-size="14.2" font-weight="normal" text-anchor="start" fill="#fff" stroke="#fff" stroke-width=".3">EdU</text>
<path d="M403 148.2h14" stroke="#ddd" stroke-width="0.6" opacity=".55"/>
<text x="302.6" y="262.4" font-family="'Liberation Serif','Times New Roman',serif" font-size="14.2" font-weight="normal" text-anchor="start" fill="#fff" stroke="#fff" stroke-width=".3">Hoechst</text>
<path d="M403 261.6h14" stroke="#ddd" stroke-width="0.6" opacity=".55"/>
<text x="302.6" y="376" font-family="'Liberation Serif','Times New Roman',serif" font-size="14.2" font-weight="normal" text-anchor="start" fill="#fff" stroke="#fff" stroke-width=".3">Overlay</text>
<path d="M403 375.2h14" stroke="#ddd" stroke-width="0.6" opacity=".55"/>
<rect x="426.4" y="45" width="124.2" height="107.0" fill="#030000"/>
<g clip-path="url(#cp10)"><use href="#r1"/></g>
<rect x="426.4" y="158.4" width="124.2" height="107.0" fill="#000001"/>
<g clip-path="url(#cp11)"><use href="#h1"/></g>
<rect x="426.4" y="272" width="124.2" height="107.0" fill="#030000"/>
<g clip-path="url(#cp12)" style="isolation:isolate"><use href="#h1" y="113.6"/><g filter="url(#mg)" style="mix-blend-mode:screen" opacity="0.85"><use href="#r1" y="227"/></g></g>
<text x="433" y="149" font-family="'Liberation Serif','Times New Roman',serif" font-size="14.2" font-weight="normal" text-anchor="start" fill="#fff" stroke="#fff" stroke-width=".3">EdU</text>
<path d="M533.4 148.2h14" stroke="#ddd" stroke-width="0.6" opacity=".55"/>
<text x="433" y="262.4" font-family="'Liberation Serif','Times New Roman',serif" font-size="14.2" font-weight="normal" text-anchor="start" fill="#fff" stroke="#fff" stroke-width=".3">Hoechst</text>
<path d="M533.4 261.6h14" stroke="#ddd" stroke-width="0.6" opacity=".55"/>
<text x="433" y="376" font-family="'Liberation Serif','Times New Roman',serif" font-size="14.2" font-weight="normal" text-anchor="start" fill="#fff" stroke="#fff" stroke-width=".3">Overlay</text>
<path d="M533.4 375.2h14" stroke="#ddd" stroke-width="0.6" opacity=".55"/>
<rect x="556.5" y="45" width="124.2" height="107.0" fill="#0e0000"/>
<g clip-path="url(#cp20)"><use href="#r2"/></g>
<rect x="556.5" y="158.4" width="124.2" height="107.0" fill="#000001"/>
<g clip-path="url(#cp21)"><use href="#h2"/></g>
<rect x="556.5" y="272" width="124.2" height="107.0" fill="#0e0000"/>
<g clip-path="url(#cp22)" style="isolation:isolate"><use href="#h2" y="113.6"/><g filter="url(#mg)" style="mix-blend-mode:screen" opacity="0.85"><use href="#r2" y="227"/></g></g>
<text x="563.1" y="149" font-family="'Liberation Serif','Times New Roman',serif" font-size="14.2" font-weight="normal" text-anchor="start" fill="#fff" stroke="#fff" stroke-width=".3">EdU</text>
<path d="M663.5 148.2h14" stroke="#ddd" stroke-width="0.6" opacity=".55"/>
<text x="563.1" y="262.4" font-family="'Liberation Serif','Times New Roman',serif" font-size="14.2" font-weight="normal" text-anchor="start" fill="#fff" stroke="#fff" stroke-width=".3">Hoechst</text>
<path d="M663.5 261.6h14" stroke="#ddd" stroke-width="0.6" opacity=".55"/>
<text x="563.1" y="376" font-family="'Liberation Serif','Times New Roman',serif" font-size="14.2" font-weight="normal" text-anchor="start" fill="#fff" stroke="#fff" stroke-width=".3">Overlay</text>
<path d="M663.5 375.2h14" stroke="#ddd" stroke-width="0.6" opacity=".55"/>
<rect x="686.7" y="45" width="124.2" height="107.0" fill="#050000"/>
<g clip-path="url(#cp30)"><use href="#r3"/></g>
<rect x="686.7" y="158.4" width="124.2" height="107.0" fill="#000001"/>
<g clip-path="url(#cp31)"><use href="#h3"/></g>
<rect x="686.7" y="272" width="124.2" height="107.0" fill="#050000"/>
<g clip-path="url(#cp32)" style="isolation:isolate"><use href="#h3" y="113.6"/><g filter="url(#mg)" style="mix-blend-mode:screen" opacity="0.85"><use href="#r3" y="227"/></g></g>
<text x="693.3" y="149" font-family="'Liberation Serif','Times New Roman',serif" font-size="14.2" font-weight="normal" text-anchor="start" fill="#fff" stroke="#fff" stroke-width=".3">EdU</text>
<path d="M793.7 148.2h14" stroke="#ddd" stroke-width="0.6" opacity=".55"/>
<text x="693.3" y="262.4" font-family="'Liberation Serif','Times New Roman',serif" font-size="14.2" font-weight="normal" text-anchor="start" fill="#fff" stroke="#fff" stroke-width=".3">Hoechst</text>
<path d="M793.7 261.6h14" stroke="#ddd" stroke-width="0.6" opacity=".55"/>
<text x="693.3" y="376" font-family="'Liberation Serif','Times New Roman',serif" font-size="14.2" font-weight="normal" text-anchor="start" fill="#fff" stroke="#fff" stroke-width=".3">Overlay</text>
<path d="M793.7 375.2h14" stroke="#ddd" stroke-width="0.6" opacity=".55"/>
<text x="368" y="409.6" font-family="'Liberation Serif','Times New Roman',serif" font-size="12" font-weight="bold" text-anchor="middle" fill="#000">miR-34b-5p mimic</text>
<text x="492" y="409.2" font-family="'Liberation Serif','Times New Roman',serif" font-size="12" font-weight="bold" text-anchor="middle" fill="#000">mimic NC</text>
<text x="629" y="409.6" font-family="'Liberation Serif','Times New Roman',serif" font-size="12" font-weight="bold" text-anchor="middle" fill="#000">miR-34b-5p inhibitor</text>
<text x="753.7" y="411" font-family="'Liberation Serif','Times New Roman',serif" font-size="12" font-weight="bold" text-anchor="middle" fill="#000">inhibitor NC</text>
<defs><radialGradient id="jet" cy=".44"><stop offset="0" stop-color="#ff3a00"/><stop offset=".09" stop-color="#ff8a00"/><stop offset=".2" stop-color="#f0f000"/><stop offset=".36" stop-color="#50ee30"/><stop offset=".52" stop-color="#10d8c8"/><stop offset=".68" stop-color="#1a7cff"/><stop offset=".86" stop-color="#2a4cf0" stop-opacity=".7"/><stop offset="1" stop-color="#3a50f0" stop-opacity="0"/></radialGradient><radialGradient id="jet2"><stop offset="0" stop-color="#30e0a0"/><stop offset=".3" stop-color="#10c0e8"/><stop offset=".65" stop-color="#1a6cff" stop-opacity=".9"/><stop offset="1" stop-color="#3a50f0" stop-opacity="0"/></radialGradient><radialGradient id="blu"><stop offset="0" stop-color="#20a0f0" stop-opacity=".9"/><stop offset=".45" stop-color="#2a5cf0" stop-opacity=".75"/><stop offset="1" stop-color="#3a50f0" stop-opacity="0"/></radialGradient><radialGradient id="blu2"><stop offset="0" stop-color="#2a5cf0" stop-opacity=".55"/><stop offset="1" stop-color="#3a50f0" stop-opacity="0"/></radialGradient></defs>
<rect x="325.8" y="429.5" width="89.8" height="110.4" fill="#fff" stroke="#555" stroke-width="0.7"/>
<clipPath id="sc325"><rect x="325.8" y="429.5" width="89.8" height="110.4"/></clipPath>
<g clip-path="url(#sc325)">
<rect x="326.8" y="430.5" width="42" height="14" fill="#f1f1f1"/>
<path d="M348.7 509.9h.7M358.4 500.3h.7M336.2 530.6h.7M370.3 490.2h.7M372.5 493h.7M386.3 462.1h.7M362.2 503.7h.7M381.4 485.2h.7M383.8 472.4h.7M390.6 473.1h.7M338.9 531.1h.7M377.6 490.8h.7M368.5 495.1h.7M381.5 479.4h.7M364.5 502.3h.7M358.6 509.6h.7M339.7 524.6h.7M352.1 516.6h.7M380.8 474.9h.7M380.4 473.8h.7M335.7 530h.7M332.7 531.2h.7M377.7 485.1h.7M348.2 516.9h.7M396.6 462.3h.7M347.9 512.4h.7M396 477.5h.7M372.5 494.1h.7M340 521.7h.7M354.9 504.7h.7M368.8 489.6h.7M340.8 524.2h.7M387 473h.7M334.5 530.6h.7M380.3 486.7h.7M346.1 518h.7M379.1 467.4h.7M386.6 471.1h.7M328.2 538.7h.7M334.3 531.9h.7M342 521.2h.7M351.1 510.8h.7M360.5 501.4h.7M390.1 471.6h.7M341.7 520.5h.7M388 478.1h.7M387.6 467.3h.7M355.7 508.2h.7M349.9 513.7h.7M351 507.5h.7M392 468.2h.7M395.6 468.7h.7M366.7 497h.7M357.9 500.4h.7M356.3 513.9h.7M348.2 520.8h.7M353 512.7h.7M356.8 502.7h.7M379.8 485.1h.7M379.3 477.4h.7M357 508.4h.7M348.7 516.7h.7M372.8 482.9h.7M349.8 520.7h.7M350.9 509h.7M368.8 496.8h.7M367.6 497.1h.7M367.9 490.9h.7M388.3 483.5h.7M352.4 505.7h.7M378.5 480.8h.7M368.5 494.2h.7M391.4 477.3h.7M390.6 486.2h.7M329 538.1h.7M347.8 515.8h.7M369.9 494.7h.7M383.2 469.6h.7M380.2 474h.7M389.2 465.9h.7M329.6 535.3h.7M368.8 497.4h.7M349.5 514.9h.7M341.4 528.2h.7M354.6 508.8h.7M341.2 527.9h.7M360.2 504.8h.7M366.9 494.5h.7M389 466h.7M346.5 512.5h.7M362.6 494.7h.7M379.3 476.1h.7M388.7 479.1h.7M358.6 503.3h.7M346.2 517.4h.7M365.3 494.6h.7M347.5 515.9h.7M330.1 537.2h.7M354.6 503.8h.7M347.9 508.5h.7M401.7 471.2h.7M368.5 491.4h.7M349.9 510.4h.7M372.6 495.4h.7M369.3 490.9h.7M375.5 491.2h.7M391.5 464.1h.7M352.7 511.4h.7M355.2 509.5h.7M364.4 499.9h.7M363.4 498.3h.7M365.3 501.1h.7M332.8 530.1h.7M393 462.2h.7M373.9 487.8h.7M374.5 481.6h.7M366.7 498.6h.7M373.5 488.6h.7M341.1 521.3h.7M341.6 522.8h.7M379.6 476.1h.7M334.6 532.6h.7M354.1 510.8h.7M365 486.3h.7M367.7 489.9h.7M359.3 507.6h.7M365.8 500h.7M392.9 464.1h.7M375.2 492.3h.7M397.2 465.7h.7M347.6 514.3h.7M341.5 528.3h.7M360.5 503.5h.7M375.6 479h.7M364.4 501.7h.7M363 498.9h.7M380.7 478.3h.7M366.1 497h.7M387.7 455.9h.7M382.6 477.6h.7M386.8 467.9h.7M328.1 536.8h.7M378 485h.7M355.5 510.9h.7M358.7 499.7h.7M338.8 523.5h.7M385.8 475h.7M370.2 489.2h.7M401.9 474.8h.7M377.2 483h.7M384.6 480.3h.7M342.8 521.3h.7M340.2 526h.7M333.6 526.3h.7M329.1 536.4h.7M391.3 472.5h.7M370.9 485.2h.7M354.3 510.5h.7M338.1 525.4h.7M333.1 533.8h.7M387.8 469.2h.7M341.7 519.2h.7M358.4 506.6h.7M347.3 521.8h.7M332.3 531.5h.7M356.3 509.2h.7M390 469.9h.7M360.5 505.5h.7M357.2 501.2h.7M384.1 472.9h.7M390.7 464.5h.7M394.8 471.4h.7M338.4 525.9h.7M370.3 488.8h.7M370.4 493.7h.7M378.9 474.4h.7M339.6 526h.7M378.6 477.9h.7M371.2 486.2h.7M380.2 482.6h.7M373.8 492.2h.7M386.2 472.6h.7M357.2 509.1h.7M367.4 499.4h.7M330.9 534.4h.7M360.3 507.6h.7M352.7 506.6h.7M354.2 509.4h.7M350.1 511.4h.7M378.8 475h.7M353.8 504.1h.7M358.1 506.8h.7M343 517.1h.7M385.7 472.9h.7M330.5 535.9h.7M379.6 482.8h.7M354.6 507.3h.7M349.5 513.3h.7M354.5 511.3h.7M359.5 507.7h.7M343.2 522.5h.7M363.5 493.9h.7M362.3 498h.7M381.9 480.5h.7M374.1 488.9h.7M342 519.4h.7M354.7 508.8h.7M345.6 518.6h.7M349.2 515.6h.7M373.9 487.3h.7M377.3 480h.7M373.3 494.2h.7M377.3 488.2h.7M385 478.9h.7M378 483.3h.7M374.2 484.6h.7M374.1 487.2h.7M372.9 483.5h.7M375.1 485.3h.7M384 480.5h.7M354.5 504h.7M374.5 484.3h.7M361.3 507.7h.7M378.5 477.6h.7M340 523.1h.7M387.8 467.2h.7M368.7 486.9h.7M333.7 529.1h.7M394.5 465.9h.7M389.4 468.3h.7M365.9 496.9h.7M359.7 504.3h.7M390.6 471.8h.7M391.9 466.6h.7M357.1 509.9h.7M387.3 474.5h.7M340.8 522.7h.7M339 527.9h.7M370.3 492.4h.7M381.2 465h.7M351.4 511.9h.7M393.5 465.2h.7M380.3 486.7h.7M352.7 515.5h.7M371.4 492.6h.7M385.8 484.2h.7M375.4 481.9h.7M371.2 493.8h.7M385 473.1h.7M389.8 469h.7M377 484.3h.7M341.3 523.6h.7M386.6 469h.7M358.5 502.2h.7M385.7 462.1h.7M327.6 537.9h.7M384.1 476.8h.7M392.7 476h.7M343 525.5h.7M355.6 504.9h.7M381.4 470.6h.7M361 500.5h.7M380.6 481.4h.7M353.7 512.9h.7M377.4 485.5h.7M391.5 472.2h.7M373.2 490.5h.7M375.9 482.4h.7M339.6 528.2h.7M334.3 528.8h.7M353.7 509.1h.7M387.6 479.1h.7M359.7 504.3h.7M371 489h.7M334.6 527.8h.7M358.8 505.2h.7M335.9 528.4h.7M384.4 468h.7M371.3 484.8h.7M365.6 496.5h.7M354.1 505.6h.7M375 485.6h.7M389.3 472.5h.7M339.6 524.1h.7M389 478.7h.7M361.8 498.6h.7M352.1 512.5h.7M374.3 482h.7M362.9 501.3h.7M337.8 529.8h.7M378.2 479.7h.7M393.7 466.9h.7M349.2 518.2h.7M367 499.8h.7M331.3 535h.7M352.5 509.8h.7M373.8 486.3h.7M362.1 502.3h.7M386.9 471.1h.7M358.6 501.7h.7M335.3 527.3h.7M361.5 496.9h.7M374.8 486.1h.7M354.9 501.8h.7M374 489.9h.7M373.9 483h.7M359.6 505.7h.7M365.7 496.7h.7M394.9 468h.7M360.8 493.4h.7M373.8 475.9h.7M357.8 510.3h.7M387.4 471.3h.7M384.1 479.4h.7M372.9 491.6h.7M359.7 505.3h.7M384.8 479.4h.7M368.2 496.7h.7M378.2 485.3h.7M328.4 538h.7M372.4 485.7h.7M375.8 484.3h.7M381.7 472.2h.7M342.7 518.8h.7M395.1 469h.7M346.6 519.1h.7M387.9 484.6h.7M389.7 470.6h.7M393.7 464.4h.7M362.1 506.2h.7M379.2 494.2h.7M373.2 491.3h.7M372.9 510.9h.7M390.2 489.7h.7M336.4 536.1h.7M394 479.9h.7M340.9 524.3h.7M372 509.6h.7M364.2 492.7h.7M351.4 511.4h.7M342.2 535.2h.7M395.9 490.5h.7M378.2 484.9h.7M343.5 523.4h.7M369 502.2h.7M385.1 484.8h.7M353.4 514.3h.7M341 527.6h.7M366.9 496.8h.7M370.7 515.2h.7M384.5 518.4h.7M399.6 466.9h.7M385.1 477.4h.7M370.3 499.2h.7M343.6 519.4h.7M378.3 466.1h.7M344 510.9h.7M393.9 476.3h.7M388 495.6h.7M340.7 531.6h.7M368.5 511.2h.7M361.5 498.8h.7M370 503.4h.7M337.8 531.7h.7M370.3 488h.7M363.9 495.9h.7M336.5 530.4h.7M329.1 535.6h.7M340.7 539.2h.7M404.4 469.8h.7M341.4 535.7h.7M367.9 519.2h.7M345.9 529h.7M353.7 516.5h.7M377.2 492.8h.7M385.3 486h.7M385.8 480.9h.7M373.7 495.4h.7M407.8 475.2h.7M397.3 469.5h.7M341.5 533.1h.7M328.7 539.2h.7M397.1 471.8h.7M355 518.6h.7M398 454.5h.7M372.2 503.6h.7M405.6 486.1h.7M397.1 485.3h.7M396.8 458.1h.7M340.8 525.6h.7M340.7 535.9h.7M333.5 538.2h.7M385 484.9h.7M381.9 484.3h.7M393.7 462.7h.7M354.6 520.6h.7M387.6 490.5h.7M385 473.6h.7M392.8 478.7h.7M351.3 515.8h.7M381.9 492.7h.7M361.8 506.8h.7M344.1 529.6h.7M331.9 532.8h.7M335.9 534.3h.7M353.7 516.6h.7M376.1 496.4h.7M343.8 527.2h.7M353.4 508.7h.7M375 475.4h.7M360.8 518.9h.7M394.6 499.2h.7M355 509h.7M368.5 503.7h.7M349.6 515.1h.7M383.5 463.1h.7M377.2 497.1h.7M377.5 482.1h.7M338.9 533.1h.7M348.3 523.8h.7M329.3 538h.7M394.6 460.9h.7M398.9 458.3h.7M339.5 530h.7M368.2 499.7h.7M355.9 500.6h.7M347.2 522.7h.7M401.4 498h.7M334.8 536.4h.7M367.7 506.6h.7M367.2 498.5h.7M347.7 511.7h.7M388.2 480.5h.7M351.6 525.4h.7M392.5 465.6h.7M388.1 478.8h.7M378.4 477.1h.7M362 515.6h.7M369.3 477.1h.7M335.2 533.7h.7M386.5 483.4h.7M412 481.9h.7M342.8 530.4h.7M402.9 457.3h.7M329.5 534.4h.7M351.5 529.9h.7M414 472.2h.7M406.7 450.3h.7M373.2 502.7h.7M367.6 498.4h.7M414.5 461.8h.7M347.8 509.6h.7M406.5 456.3h.7M342.1 529.6h.7M336.4 528.8h.7M354.4 527.2h.7M387.9 485.4h.7M398.2 480.4h.7M365.1 498.9h.7M341.3 530.2h.7M382 505.9h.7M339.9 533.6h.7M341 530.4h.7M352.5 517.3h.7M371.8 509.3h.7M348.2 523.5h.7M366.4 500.2h.7M392.3 493.6h.7M374.6 504.8h.7M368 494.8h.7M371.5 499.1h.7M351.7 500.7h.7M351.8 521.2h.7M340.8 525h.7M355.4 520h.7M359.2 522.8h.7M345.8 524.8h.7M378.6 474.8h.7M357.2 500.1h.7M377.3 476.1h.7M339.3 511.5h.7M413.4 465.2h.7M402.9 467.5h.7M373.1 494.8h.7M365.2 498h.7M348.9 516.3h.7M390.7 494.4h.7M331.8 539.1h.7M339.3 535.4h.7M366.4 489.4h.7M346.8 526.8h.7M390.9 478.2h.7M367.2 501.6h.7M352 507.3h.7M407.4 481.5h.7M344.2 520.3h.7M349.9 520.8h.7M400.2 455.2h.7M358.9 502.6h.7M337.7 524.6h.7M363.3 492.5h.7M388.7 491.7h.7M393.4 476.5h.7M341.9 534.1h.7M355 510.4h.7M385.2 478.5h.7M393.3 461.3h.7M388.4 494.2h.7M395.3 475.5h.7M352.2 518.7h.7M372.3 495.6h.7M379.3 501.7h.7M347.8 528.3h.7M365.9 502.2h.7M380.1 488.4h.7M354.6 531.8h.7M389.1 467.5h.7M379 489.5h.7M386.7 487.8h.7M386.6 476.5h.7M328.6 537.1h.7M388.6 458.7h.7M375.2 508.2h.7M402.9 459.4h.7M362.7 506.1h.7M377.8 485.1h.7M380.3 506.3h.7M341 525.3h.7M382.3 489.4h.7M391.2 487.1h.7M398.3 499.9h.7M354.6 506.7h.7M402 479.9h.7M329.2 534.4h.7M415.1 475.6h.7M399.5 461.2h.7M365.8 503.1h.7M333.7 523h.7M343.4 522.9h.7M372.4 490.1h.7M386 463.2h.7M388.5 477h.7M393.3 504.6h.7M344.3 519.4h.7M375 503.2h.7M400.6 456.3h.7M396.3 480.7h.7M382.6 488.3h.7M346.6 515.7h.7M353.5 519.6h.7M394.4 468.4h.7M399.2 477.3h.7M363.7 509h.7M343.2 528.3h.7M353.1 527.7h.7M352.1 505.5h.7M363.9 499.9h.7M408.4 468.3h.7M366 507h.7M366.9 520.1h.7M406.8 484.9h.7M336.4 530.5h.7M409.4 460.2h.7M399.6 475.8h.7M355.5 516.6h.7M337.6 532.8h.7M387.6 483.9h.7M358.9 512.7h.7M355.6 510.8h.7M405.6 474.3h.7M371.8 510.2h.7M398.2 478.3h.7M347.8 518.4h.7M349.2 516.7h.7M397.6 474.4h.7M395 490.5h.7M332.9 537.5h.7M347.1 528.7h.7M390.5 455.2h.7M357.9 507.4h.7M405.8 494h.7M349.3 526.5h.7M387.5 481.1h.7M401.4 476.6h.7M360.7 510.2h.7M386.7 474.2h.7M395.1 473.6h.7M348.8 526.5h.7M383.2 487.5h.7M384.2 492.9h.7M386.4 475h.7M354.1 523.9h.7M337.9 532h.7M381.5 503.5h.7M351.5 516.9h.7M381.1 492.6h.7M336 521.8h.7M358.1 519.6h.7M376.1 490.8h.7M364.1 498.3h.7M371.7 504.7h.7M398 468.4h.7M365.9 498h.7M364.1 496.6h.7M393.5 493.8h.7M371.2 507.3h.7M334.6 534.1h.7M381.4 491.9h.7M334.1 530.5h.7M377.1 484.6h.7M399.9 478.5h.7M391.2 470.3h.7M331.2 537h.7M388.1 497.6h.7M349.3 511h.7M362 510h.7M402.4 502.1h.7M335.8 533.4h.7M359.6 499.8h.7M395.5 483.9h.7M408.4 442.5h.7M415.2 453.9h.7M411.4 453.5h.7M412.3 495.6h.7M390.5 472.9h.7M396.2 510.4h.7M396.7 459.7h.7M395.1 482.7h.7M406.7 485.6h.7M413.5 484h.7M410.1 477.8h.7M389.4 464.8h.7M403.5 483.3h.7M385.7 444.4h.7M401.3 505.5h.7M407.6 472.1h.7M405.2 449.7h.7M400 485.3h.7M410.1 495.9h.7M410.3 474.4h.7M406.6 505.1h.7M406.5 464.4h.7M396.2 481.9h.7M412.7 476.9h.7M413.2 451.5h.7M389.4 450.1h.7M409.2 498.5h.7M397.2 477.3h.7M411.6 445.4h.7M386.7 472.3h.7M407.2 492.4h.7M405.9 493.7h.7M399.1 477.2h.7M388.1 495.1h.7M397.3 450.7h.7M406.7 445.5h.7M398.2 464.6h.7M408.4 447.7h.7M411.8 492.2h.7M388.7 495h.7M387.7 445.7h.7M405.2 470.8h.7M398.1 446.4h.7M407 488h.7M413.4 442.8h.7M397.6 474.2h.7M400.3 481.3h.7M392.8 447.1h.7M397.8 500.8h.7M393.1 487.6h.7M414.1 483.5h.7M394.7 495.3h.7M390.1 511.9h.7M408.1 460.7h.7M402.1 443.2h.7M385.8 467.4h.7M396.2 490.2h.7M390.6 482.1h.7M410.9 447.3h.7M396.3 476.5h.7M409 455.4h.7M413.5 477.3h.7M386.8 457.5h.7M410.9 458.7h.7M397.5 452.8h.7M407.2 482.6h.7M414 446.5h.7M403.7 454.1h.7M403.7 497h.7M400.8 498.3h.7M384.3 503.9h.7M386.5 473.3h.7M403.2 449.2h.7M415.4 479.6h.7M414.7 503.7h.7M394.5 485.6h.7M391.2 492.5h.7M395.4 484.6h.7M400.4 480.8h.7M410.5 471.9h.7M398.8 448.7h.7M408.5 461.4h.7M407.7 445.6h.7M401.7 499.2h.7M410.7 477h.7M390.6 485.5h.7M410.6 445h.7M389.9 465.8h.7M407.6 470.7h.7M394 487.4h.7M354.5 509.4h.7M357.4 515.3h.7M371.1 501.3h.7M367 514.8h.7M357.6 508.9h.7M365.9 505.7h.7M352 505.2h.7M362.6 512.2h.7M351.6 499.5h.7M352.6 494.9h.7M354.2 501.2h.7M369 498.4h.7M356.2 510.7h.7M357.8 510.2h.7M363.6 515h.7M359.5 505.9h.7M358 485.1h.7M355.6 507.4h.7M345.5 498.6h.7M348.1 489.8h.7M360.6 513.1h.7M363.7 498.9h.7M349.2 500.5h.7M361.3 501.6h.7M360.7 509.6h.7M353.1 492.6h.7M360.4 501.1h.7M362.2 505.1h.7M355.6 515.6h.7M358.3 496.7h.7M360.5 510.9h.7M354.8 504h.7M360.4 495.8h.7M367.3 487.6h.7M352.8 507.9h.7M361.4 497.6h.7M351.9 497.9h.7M357.3 509.5h.7M368.5 504.8h.7M359.6 506.5h.7M358.3 508.2h.7M361.8 493.2h.7M362 515.2h.7M363.9 508.6h.7M367 519.9h.7M357.4 495.8h.7M350.3 504.3h.7M360.3 510.2h.7M362 509.5h.7M360.2 500.8h.7M355.2 505.8h.7M360.2 506.8h.7M352.7 496.3h.7M356.4 491.1h.7M356.7 512.9h.7M349.6 499.1h.7M355.6 507.7h.7M359.4 504.4h.7M366.5 508.4h.7M371.6 509.7h.7M357.4 510.1h.7M368.1 505.5h.7M361.9 501.2h.7M367 495h.7M369.2 502.4h.7M353.1 500.7h.7M358.7 497.3h.7M361 506.6h.7M358.3 515.7h.7M355.1 499.4h.7M347.3 493.2h.7M363.3 509.9h.7M364.5 496.7h.7M354.3 511.7h.7M363.2 491.3h.7M362.2 511.7h.7M357.1 506.9h.7M359.2 517.4h.7M358.9 502.4h.7M352.7 481h.7M353.1 507.5h.7M357.2 506.2h.7M358.4 493.4h.7M359 490.4h.7M356 489.7h.7M357 507h.7M356.9 492.3h.7M374.3 519h.7M353.2 516.5h.7M356.9 500.5h.7M352.2 496.5h.7M364.6 510.3h.7M363 498.5h.7M359.2 515.5h.7M361.9 514.9h.7M350.6 494.1h.7M352.4 503.6h.7M355.6 499.3h.7M355.9 493.1h.7M366 492.3h.7M359.5 501.3h.7M360.8 509.3h.7M357 509.4h.7M350.5 487.2h.7M348.9 488.1h.7M354.6 509.2h.7M358.3 496.4h.7M364 505h.7M357.8 507.7h.7M360.4 507.8h.7M350.3 504.6h.7M356.2 495.5h.7M364.4 508.9h.7M348 495.3h.7M361.9 509.2h.7M372.2 503.9h.7M351.6 496h.7M357.5 488.1h.7M347.1 503.6h.7M360.4 521h.7M352.1 505.5h.7M366.2 492.8h.7M375 505.7h.7M356.4 497.7h.7M360.1 493.3h.7M351.9 496.6h.7M359.4 499.4h.7M353.1 516.4h.7M362.6 495.5h.7M359.3 521.5h.7M351.9 506.5h.7M361.6 498.6h.7M355.4 505.7h.7M361.9 504h.7M365 497.8h.7M353.4 510h.7M363.6 498.1h.7M349.8 505.2h.7M349.7 505.5h.7M354.8 511.6h.7M359.3 496.9h.7M350.7 502.3h.7M351.9 499.9h.7M360.6 494.2h.7M359.9 505.9h.7M360.5 499.3h.7M359.2 514.2h.7M359.1 501.4h.7M365.4 509.6h.7M361.9 520.4h.7M361.4 529.4h.7M346.6 512.5h.7M362.2 495.9h.7M361.7 509.9h.7M351.9 510.4h.7M362.3 495.7h.7M352 514.1h.7M351.8 500.5h.7M360.5 523h.7M354.5 503.2h.7M353.7 501.8h.7M355.1 492.9h.7M358.2 501.5h.7M368.3 511.9h.7M350 495.1h.7M352 501.5h.7M355.8 509.7h.7M359.6 492.6h.7M359.4 513h.7M363.1 515.3h.7M360.2 501.3h.7M361.1 502h.7M351.1 504.1h.7M360.1 497.9h.7M358.4 500.6h.7M349.2 508.8h.7M358.4 516.5h.7M356.7 507.3h.7M358.2 493.7h.7M358.9 507.1h.7M359.2 504.2h.7M361.2 514h.7M365.9 512.7h.7M365.8 507.7h.7M367.6 507.6h.7M362.8 498.9h.7M354.1 506.8h.7M360.7 523.7h.7M357.2 515.7h.7M358.2 514.2h.7M363 507.5h.7M360 500.5h.7M363 509h.7M357.3 499.2h.7M363.8 494.5h.7M357.5 492.8h.7M356 495.8h.7M354 508.1h.7M363.9 513.7h.7M356 488.5h.7M355.2 520.2h.7M364.9 512.5h.7M360.4 496.8h.7M357.3 497.3h.7M366.9 508.8h.7M360.3 497h.7M358.4 499.3h.7M348.6 489h.7M359.8 507.5h.7M355.3 500.4h.7M355.8 513.1h.7M357.5 499.8h.7M358.7 507.7h.7M358.7 490.7h.7M358.2 503.8h.7M356.3 515.4h.7M353.8 489.9h.7M357.5 499h.7M357.3 517.1h.7M362.8 502.6h.7M364 499.8h.7M361.7 496.2h.7M357.7 509.6h.7M350.7 494.8h.7M355.1 502h.7M352 519.3h.7M361.1 504.2h.7M361.2 498.9h.7M361.1 513.9h.7M352.1 519.2h.7M365.6 508.5h.7M368.7 512.4h.7M349.5 495.9h.7M356.5 504.4h.7M355.6 496.5h.7M350.1 501h.7M366.6 511.3h.7M358.5 512.8h.7M355.6 493h.7M367 498h.7M356.8 492.6h.7M363.2 512.3h.7M367.1 493.1h.7M365 500.9h.7M363.5 493.1h.7M348.4 503.6h.7M363.8 510h.7M366 512.1h.7M351 515.6h.7M364.5 492.1h.7M350.8 498.4h.7M357.4 498.7h.7M352.5 507.5h.7M357.5 497.7h.7M352.4 498.1h.7M352.1 488.4h.7M359.4 504.3h.7M354 499.1h.7M357.8 511h.7M362.8 504h.7M391.4 499.5h.7M387.6 496.9h.7M391.6 505.5h.7M393.6 505.8h.7M398.4 498.8h.7M392.5 494.3h.7M391.7 499.5h.7M389.9 496.1h.7M393.6 495.4h.7M389.7 502.5h.7M392.3 493.7h.7M389.5 504.4h.7M390 496.7h.7M402.5 495.8h.7M390.1 502h.7M390.6 503h.7M385.1 507.7h.7M398.9 499.7h.7M389.8 498.4h.7M393.8 502.5h.7M389.5 490.9h.7M393.9 506.5h.7M390.7 501.6h.7M395.1 492.4h.7M388.3 492.8h.7M396.6 493.8h.7M385.3 502.9h.7M393.5 499.4h.7M389.1 500.2h.7M389.1 501.6h.7M394.2 502.2h.7M398.4 499.5h.7M393.7 500.1h.7M390.6 497.2h.7M393.3 500.9h.7M393.1 489.6h.7M395.1 502.1h.7M394.4 495h.7M394.5 490.6h.7M395.6 505.5h.7M391.1 491h.7M391.7 500h.7M391.1 493.7h.7M397.1 498.1h.7M394.7 501.9h.7M393.8 503.8h.7M395.7 494h.7M391.8 493.7h.7M394 491.4h.7M392.7 502.2h.7M391.2 497.2h.7M386.6 504.7h.7M396.8 500.3h.7M384.6 497.6h.7M387.9 497.6h.7M391.3 491.1h.7M398.7 502.3h.7M396.3 503.6h.7M389.4 498.3h.7M389.6 500.2h.7M397.2 494.5h.7M393.2 504.2h.7M393.6 496.2h.7M388.4 495h.7M393.1 492.4h.7M385.4 501.2h.7M400.6 498.7h.7M393.8 492.5h.7M394.1 489.1h.7M388.3 498.5h.7M392.7 490.8h.7M399.5 493.5h.7M400.1 491.5h.7M395.8 504.2h.7M393.3 492.9h.7M400 498.3h.7M395.1 502.4h.7M384.3 491.7h.7M386.8 496.1h.7M392.3 498.2h.7M395.7 498.8h.7M385.9 499.3h.7M389.7 498.4h.7M385.7 495.2h.7M396.8 504.1h.7M389.4 502.5h.7M390 497.2h.7M390.9 501.6h.7M382.3 488.1h.7M396.2 494.2h.7M395.7 502.3h.7M395.3 497.8h.7M386.5 500h.7M388.5 501.3h.7M386.1 496.5h.7M394.1 491.9h.7M394.1 498.4h.7M385.1 504.9h.7M390.2 500.3h.7M393.5 489.2h.7M387.8 497.5h.7M388.1 492.5h.7M389.3 506h.7M394.6 498.8h.7M390.6 508.3h.7M392.1 498.3h.7M391 499.2h.7M395.3 499.7h.7M399.2 506.5h.7M392.3 495.8h.7M388.8 499.7h.7M393.4 504.4h.7M383.6 497.5h.7M395 500.2h.7M397.6 495.3h.7M398.5 502.8h.7M389 502.1h.7M391.5 503.7h.7M384.6 499.5h.7M397.9 493.6h.7M382.8 497.5h.7M393.6 496.1h.7M398.2 495h.7M389.6 494.5h.7M392.9 501.1h.7M401.1 495.4h.7M387.2 498.5h.7M402.5 495.7h.7M393.2 495.7h.7M395.4 498.4h.7M393.5 498.4h.7M388.3 494.5h.7M386 484.6h.7M392.8 506.1h.7M387.9 504.2h.7M389.7 491.9h.7M384.7 499.8h.7M387.1 495.1h.7M397.1 492.6h.7M394.4 506h.7M393.5 504h.7M393.9 495.6h.7M391.9 503.1h.7M392.9 502.6h.7M389.6 495.4h.7M390.1 497.9h.7M403.3 490.9h.7M390 495.6h.7M395.2 495.5h.7M393.9 500.3h.7M388.6 494.2h.7M393.6 502.6h.7M398.6 504.4h.7M389.8 498.8h.7M386.8 501.5h.7M393.8 494.4h.7M395.4 495.4h.7M387.9 494.8h.7M395.4 492.7h.7M391.5 493.9h.7M393.2 503.7h.7M391.9 501h.7M392.1 500.7h.7M396.4 495.4h.7M396.1 502.9h.7M393.4 501.8h.7M394.4 499.5h.7M397.1 501.1h.7M388.7 498.9h.7M388.9 496.1h.7M393.6 487.9h.7M391 502.7h.7M393.3 497.9h.7M391.3 497.8h.7M392.6 494.4h.7M391.8 492.5h.7M390.9 499h.7M392.3 499.9h.7M386.1 492.8h.7M395.4 497.4h.7M399 493h.7M400 493.1h.7M392.6 497.4h.7M395.7 491.4h.7M391.8 494.3h.7M396.6 505h.7M398.3 492.2h.7M393.8 493.4h.7M389.7 495h.7M389.1 496h.7M397.9 498.2h.7M394.6 495.3h.7M391.4 494.4h.7M396.8 504.9h.7M393.5 494.4h.7M391.4 494.8h.7M396.2 495.1h.7M388.4 490.7h.7M392 497.7h.7M388.5 494.6h.7M392.2 500.7h.7M385.4 496h.7M404.6 509h.7M387.9 499.5h.7M389.3 501.8h.7M390.9 492.4h.7M391.5 503.8h.7M392.1 489.5h.7M393.5 499.9h.7M396.7 492.8h.7M399.5 490.6h.7M394.8 495.7h.7M387.5 504.8h.7M391.7 493.7h.7M390.5 498.9h.7M390.2 493.6h.7M392 497.3h.7M396 496.8h.7M391.2 505.6h.7M390.7 489.9h.7M391 490.4h.7M396.9 500.5h.7M399.9 492.2h.7M388.2 497h.7M393.1 491.4h.7M392.6 496h.7M394.5 500.1h.7M405.1 498.4h.7M394.7 499.1h.7M392.7 493.7h.7M389.4 492.5h.7M390.4 502.5h.7M395.6 496.9h.7M402.5 494.2h.7M390 497.9h.7M390.7 494.5h.7M395.7 486.8h.7M391.3 500.1h.7M391 506.2h.7M392.7 499.8h.7M387.3 466h.7M387.6 462.7h.7M379.7 458.1h.7M389.2 468.5h.7M393.6 474h.7M393.7 472.2h.7M389.9 476.9h.7M382.7 469.1h.7M389.4 472.7h.7M391 467.1h.7M391.3 467.5h.7M389.5 481.7h.7M384.4 466.5h.7M385.7 464.9h.7M385 493.5h.7M388 469.7h.7M386.5 475.4h.7M394 472.3h.7M389.5 458.1h.7M392.6 459.8h.7M386.8 470.6h.7M398.3 465.9h.7M387.6 464.3h.7M393.4 478.8h.7M391.6 470h.7M390.9 469.1h.7M391.9 449.1h.7M389.3 473.7h.7M390.3 467.9h.7M393.4 467.2h.7M391.4 473.8h.7M392 473.8h.7M388.6 478h.7M391.5 474.3h.7M388.4 471.1h.7M387.5 469.8h.7M387.5 469.7h.7M386.2 465.7h.7M389 459.9h.7M385.3 468.5h.7M386.7 483.3h.7M386.8 462.2h.7M394.2 460.4h.7M391.1 465.9h.7M391.7 462.2h.7M392.5 473.4h.7M394.6 471.4h.7M392.7 467.2h.7M389.7 477.6h.7M386 474.5h.7M386.6 469.8h.7M383.2 469.7h.7M386.8 467h.7M395.6 471.8h.7M395.2 468.2h.7M387.4 471.9h.7M384.5 468.9h.7M392.3 468.6h.7M389.7 476h.7M400.4 467.4h.7M387.3 482.2h.7M386.9 473.2h.7M392 475.9h.7M392.4 459h.7M388.4 465.7h.7M393.4 481.2h.7M381.7 462.5h.7M388.6 474.6h.7M397.3 469.7h.7M391.2 475.1h.7M388.4 465.5h.7M392.7 477.7h.7M389 472.2h.7M390.5 469.9h.7M386.9 479.5h.7M390.4 477.3h.7M388.1 461h.7M393.4 469.3h.7M391.3 460.5h.7M385.1 456.8h.7M391.6 481.9h.7M388.4 469.8h.7M391.3 472.5h.7M395.8 465.6h.7M393.8 466.8h.7M392.5 460.6h.7M389.3 469.2h.7M396.3 475.5h.7M392.2 469h.7M396.4 474.3h.7M389.9 478.5h.7M392.2 483.4h.7M389.7 464h.7M395.2 462.1h.7M397.6 472h.7M393.6 473.4h.7M389.3 471.1h.7M388.5 461.8h.7M393.8 471.1h.7M394.3 463h.7M392 459.6h.7M387.8 483.4h.7M390.1 466.7h.7M391.1 483.8h.7M388.4 483.8h.7M384.4 475.6h.7M396.1 463.4h.7M391.9 476.4h.7M387.7 470.7h.7M389.8 470.3h.7M398.4 460.9h.7M385.2 467.6h.7M390.1 468.7h.7M391.1 470.7h.7M387.2 474.1h.7M391.3 467.4h.7M388 472.1h.7M393.9 456.5h.7M382.5 457.9h.7M393.1 464.2h.7M383.1 475.8h.7M390.1 468.3h.7M392.2 467.5h.7M390.3 459.5h.7M393.7 488.5h.7M386.3 459.5h.7M389.2 470.8h.7M387.8 476.2h.7M399.4 468.5h.7M394.8 467.7h.7M393.1 476.6h.7M391 467.4h.7M388.1 471.4h.7M390.4 458.6h.7M400.4 474.5h.7M392.6 474.7h.7M386.3 471.2h.7M396.6 471.6h.7M389.3 477.3h.7M386.7 471.2h.7M381.7 474.8h.7M395.6 474.5h.7M386.2 465.4h.7M393.4 464.2h.7M390.6 450.9h.7M393.7 455.5h.7M390.7 471.3h.7M384.9 476h.7M387.8 468.4h.7M390.8 474.8h.7M389.3 473.5h.7M395.6 477.6h.7M393 455.7h.7M385.5 465.6h.7M390.7 478.5h.7M394 489.4h.7M387.5 463.6h.7M390.7 470.4h.7M386.4 472.7h.7M392.2 467.9h.7M385.3 480h.7M385.9 478.7h.7M390.5 474.3h.7M389.1 471.3h.7M387.5 474.9h.7M390.4 458.7h.7M386.9 471.3h.7M392.5 474.8h.7M383.6 469.6h.7M392.5 461.6h.7M389.2 468.5h.7M390.1 473h.7M387.1 480.9h.7M391.9 479.1h.7M386.8 463.8h.7M390.5 459.7h.7M388.9 481.5h.7M396.1 468.7h.7M383.4 484.9h.7M387.3 459.6h.7M391 473.8h.7M391.7 468.3h.7M389.7 473.6h.7M384 472.5h.7M391.8 473.6h.7M396.7 474.4h.7M392.1 472.8h.7M391.4 477.6h.7M382.9 476.2h.7M388.6 473.5h.7M393.1 472.5h.7M393.7 467.4h.7M398.4 449.6h.7M393 460.5h.7M384.5 464.9h.7M392.6 465.2h.7M392.6 465.6h.7M389.9 481.1h.7M393.7 457.6h.7M389 462.9h.7M388.5 469h.7M396.4 483h.7M392.3 471.3h.7M388.6 464.2h.7M394.5 454h.7M393.7 473.1h.7M397.1 476.2h.7M389.6 476.7h.7M394.9 473.7h.7M387.6 473.1h.7M400.1 482h.7M393.6 468.8h.7M392.2 460.5h.7M390.6 472.2h.7M385.8 461.1h.7M393 466.5h.7M388.1 477.5h.7M388.7 461.9h.7M394.6 476.8h.7M390 460.7h.7M390.6 484.6h.7M386.3 477.7h.7M390.2 477.6h.7M395.6 472h.7M387.9 467.4h.7M385.6 464.1h.7M381.2 461.1h.7M394.7 466h.7M393.3 477.9h.7M394.7 474.3h.7M389.4 466.5h.7M394.6 486.2h.7M397.9 470.5h.7M387 464.6h.7M392.3 486.4h.7M391.6 472.4h.7M397.4 469.9h.7M383 484.9h.7M385.8 471.4h.7M393.8 466.3h.7M384.5 465.5h.7M387.3 471.1h.7M383.1 468.3h.7M396.3 473.6h.7M392.4 462.8h.7M391 479h.7M387.5 462.6h.7M386.1 473.9h.7M386.2 479.1h.7M387.5 464h.7M393.9 469.9h.7M383.6 463.4h.7M393.5 467.9h.7M393 463.8h.7M385.5 473.6h.7M394.2 466.3h.7M394.3 476.8h.7M387.4 452.9h.7M392.9 456.4h.7M391.6 482.3h.7" stroke="#2a3ce4" stroke-width=".7" fill="none" opacity=".9"/>
<ellipse cx="374.5" cy="486.4" rx="25.8" ry="3.4" transform="rotate(-46.1 374.5 486.4)" fill="url(#blu2)"/>
<ellipse cx="331.8" cy="531.9" rx="9" ry="1.6" transform="rotate(-54.1 331.8 531.9)" fill="url(#blu)"/>
<ellipse cx="328.3" cy="536.9" rx="3.5" ry="1.4" transform="rotate(-54.1 328.3 536.9)" fill="url(#jet)"/>
<ellipse cx="392.6" cy="498.2" rx="6.6" ry="6.6" fill="url(#blu)"/>
<ellipse cx="390.3" cy="470" rx="5.6" ry="10.5" transform="rotate(12 390.3 470)" fill="url(#blu)"/>
<ellipse cx="358.6" cy="502.9" rx="11.5" ry="6.4" transform="rotate(-68 358.6 502.9)" fill="url(#jet)"/>
<polygon points="390.3,458.8 395,465.4 396.6,473.6 393.8,480.6 363.8,515.8 356.3,516.5 352.8,511.1 351.1,503.3" fill="none" stroke="#333" stroke-width="0.6" stroke-linejoin="round"/>
</g>
<text x="328" y="435.1" font-family="'Liberation Sans',Arial,sans-serif" font-size="4.2" font-weight="normal" text-anchor="start" fill="#333">FL2-A, FL2-H subset</text>
<text x="328" y="442.1" font-family="'Liberation Sans',Arial,sans-serif" font-size="4.2" font-weight="normal" text-anchor="start" fill="#333">65.9%</text>
<path d="M346.2 539.9L346.2 541.9" stroke="#555" stroke-width="0.5" fill="none"/>
<text x="346.2" y="549.9" font-family="'Liberation Sans',Arial,sans-serif" font-size="4.3" font-weight="normal" text-anchor="middle" fill="#444">100K</text>
<path d="M367.5 539.9L367.5 541.9" stroke="#555" stroke-width="0.5" fill="none"/>
<text x="367.5" y="549.9" font-family="'Liberation Sans',Arial,sans-serif" font-size="4.3" font-weight="normal" text-anchor="middle" fill="#444">200K</text>
<path d="M388.4 539.9L388.4 541.9" stroke="#555" stroke-width="0.5" fill="none"/>
<text x="388.4" y="549.9" font-family="'Liberation Sans',Arial,sans-serif" font-size="4.3" font-weight="normal" text-anchor="middle" fill="#444">300K</text>
<path d="M409.3 539.9L409.3 541.9" stroke="#555" stroke-width="0.5" fill="none"/>
<text x="409.3" y="549.9" font-family="'Liberation Sans',Arial,sans-serif" font-size="4.3" font-weight="normal" text-anchor="middle" fill="#444">400K</text>
<path d="M329.2 539.9L329.2 541" stroke="#555" stroke-width="0.4" fill="none"/>
<path d="M333.4 539.9L333.4 541" stroke="#555" stroke-width="0.4" fill="none"/>
<path d="M337.7 539.9L337.7 541" stroke="#555" stroke-width="0.4" fill="none"/>
<path d="M341.9 539.9L341.9 541" stroke="#555" stroke-width="0.4" fill="none"/>
<path d="M346.2 539.9L346.2 541" stroke="#555" stroke-width="0.4" fill="none"/>
<path d="M350.5 539.9L350.5 541" stroke="#555" stroke-width="0.4" fill="none"/>
<path d="M354.7 539.9L354.7 541" stroke="#555" stroke-width="0.4" fill="none"/>
<path d="M359 539.9L359 541" stroke="#555" stroke-width="0.4" fill="none"/>
<path d="M363.2 539.9L363.2 541" stroke="#555" stroke-width="0.4" fill="none"/>
<path d="M367.5 539.9L367.5 541" stroke="#555" stroke-width="0.4" fill="none"/>
<path d="M371.8 539.9L371.8 541" stroke="#555" stroke-width="0.4" fill="none"/>
<path d="M376 539.9L376 541" stroke="#555" stroke-width="0.4" fill="none"/>
<path d="M380.3 539.9L380.3 541" stroke="#555" stroke-width="0.4" fill="none"/>
<path d="M384.5 539.9L384.5 541" stroke="#555" stroke-width="0.4" fill="none"/>
<path d="M388.8 539.9L388.8 541" stroke="#555" stroke-width="0.4" fill="none"/>
<path d="M393.1 539.9L393.1 541" stroke="#555" stroke-width="0.4" fill="none"/>
<path d="M397.3 539.9L397.3 541" stroke="#555" stroke-width="0.4" fill="none"/>
<path d="M401.6 539.9L401.6 541" stroke="#555" stroke-width="0.4" fill="none"/>
<path d="M405.8 539.9L405.8 541" stroke="#555" stroke-width="0.4" fill="none"/>
<path d="M410.1 539.9L410.1 541" stroke="#555" stroke-width="0.4" fill="none"/>
<path d="M414.4 539.9L414.4 541" stroke="#555" stroke-width="0.4" fill="none"/>
<path d="M323.8 452.2L325.8 452.2" stroke="#555" stroke-width="0.5" fill="none"/>
<text x="322.6" y="453.7" font-family="'Liberation Sans',Arial,sans-serif" font-size="4.3" font-weight="normal" text-anchor="end" fill="#444">300K</text>
<path d="M323.8 481.5L325.8 481.5" stroke="#555" stroke-width="0.5" fill="none"/>
<text x="322.6" y="483" font-family="'Liberation Sans',Arial,sans-serif" font-size="4.3" font-weight="normal" text-anchor="end" fill="#444">200K</text>
<path d="M323.8 510.9L325.8 510.9" stroke="#555" stroke-width="0.5" fill="none"/>
<text x="322.6" y="512.4" font-family="'Liberation Sans',Arial,sans-serif" font-size="4.3" font-weight="normal" text-anchor="end" fill="#444">100K</text>
<path d="M324.7 446.3L325.8 446.3" stroke="#555" stroke-width="0.4" fill="none"/>
<path d="M324.7 452.2L325.8 452.2" stroke="#555" stroke-width="0.4" fill="none"/>
<path d="M324.7 458.1L325.8 458.1" stroke="#555" stroke-width="0.4" fill="none"/>
<path d="M324.7 463.9L325.8 463.9" stroke="#555" stroke-width="0.4" fill="none"/>
<path d="M324.7 469.8L325.8 469.8" stroke="#555" stroke-width="0.4" fill="none"/>
<path d="M324.7 475.6L325.8 475.6" stroke="#555" stroke-width="0.4" fill="none"/>
<path d="M324.7 481.5L325.8 481.5" stroke="#555" stroke-width="0.4" fill="none"/>
<path d="M324.7 487.4L325.8 487.4" stroke="#555" stroke-width="0.4" fill="none"/>
<path d="M324.7 493.2L325.8 493.2" stroke="#555" stroke-width="0.4" fill="none"/>
<path d="M324.7 499.1L325.8 499.1" stroke="#555" stroke-width="0.4" fill="none"/>
<path d="M324.7 504.9L325.8 504.9" stroke="#555" stroke-width="0.4" fill="none"/>
<path d="M324.7 510.8L325.8 510.8" stroke="#555" stroke-width="0.4" fill="none"/>
<path d="M324.7 516.7L325.8 516.7" stroke="#555" stroke-width="0.4" fill="none"/>
<path d="M324.7 522.5L325.8 522.5" stroke="#555" stroke-width="0.4" fill="none"/>
<path d="M324.7 528.4L325.8 528.4" stroke="#555" stroke-width="0.4" fill="none"/>
<path d="M324.7 534.2L325.8 534.2" stroke="#555" stroke-width="0.4" fill="none"/>
<text x="305.5" y="491.7" font-family="'Liberation Sans',Arial,sans-serif" font-size="4.2" font-weight="normal" text-anchor="middle" fill="#444" transform="rotate(-90 305.5 491.7)">FL2-H: FL2-H</text>
<text x="371" y="561.4" font-family="'Liberation Sans',Arial,sans-serif" font-size="4.2" font-weight="normal" text-anchor="middle" fill="#444">FL2-A: FL2-A</text>
<rect x="454.2" y="430.6" width="88.8" height="111" fill="#fff" stroke="#555" stroke-width="0.7"/>
<clipPath id="sc454"><rect x="454.2" y="430.6" width="88.8" height="111"/></clipPath>
<g clip-path="url(#sc454)">
<rect x="455.2" y="431.6" width="42" height="14" fill="#f1f1f1"/>
<path d="M480 510.7h.7M468.7 519h.7M476.4 517h.7M504.1 485.4h.7M482.3 506.8h.7M492.6 492.3h.7M475.9 510.9h.7M493.8 496h.7M458.2 534.5h.7M505.8 477.4h.7M499.4 486.8h.7M478.4 507.7h.7M507.2 478.3h.7M494.3 481.8h.7M479.3 514.4h.7M502.5 476.6h.7M510.4 475.9h.7M458.8 532.9h.7M455.1 537.9h.7M475 511.8h.7M495.4 484.9h.7M454.5 541.3h.7M463 531h.7M495.2 486h.7M462.5 527h.7M481.5 505.4h.7M457 537.8h.7M479.9 517.7h.7M479.8 509.7h.7M503.3 479.2h.7M518.1 466.3h.7M476.8 513.1h.7M518.7 458.8h.7M469.8 523.6h.7M472.1 518.9h.7M456.1 536.2h.7M516.3 464.2h.7M491 491.4h.7M505.5 471.9h.7M479.2 511h.7M475.9 517.4h.7M471 515.7h.7M500.9 479.5h.7M484 508.9h.7M464.9 523.4h.7M506 478.5h.7M513 477.9h.7M498.7 481.6h.7M461.6 535h.7M524.1 472.3h.7M506.5 482.1h.7M481.1 510.6h.7M508.9 468.4h.7M475.9 517.7h.7M496.3 484h.7M509.3 469.7h.7M484 504.3h.7M474.1 516.1h.7M504.8 483.7h.7M478.3 502.8h.7M504.6 481.1h.7M516.2 463.2h.7M475.7 511.9h.7M466.8 517.9h.7M504.3 482.1h.7M496.4 478.5h.7M498.5 490.6h.7M468.6 527.6h.7M505.1 475.4h.7M506.3 459.5h.7M487.2 495.3h.7M483.1 501.2h.7M484 499.3h.7M467.5 526.1h.7M485.2 502.7h.7M499.4 494.1h.7M491.1 498.5h.7M493.2 491.7h.7M508 470.4h.7M511 467.6h.7M456.7 536.1h.7M460.5 526.7h.7M458.3 533.5h.7M490.7 497.8h.7M462.2 532.4h.7M478.9 512.9h.7M469.9 520.2h.7M484.8 508h.7M463.8 529.3h.7M480.4 504.7h.7M473.7 508.1h.7M500 482.2h.7M504 480.9h.7M516.9 467.8h.7M513.5 460.9h.7M482.8 499.8h.7M495.4 482.4h.7M496.5 489.9h.7M517.6 469.4h.7M478 513.9h.7M468.1 524.5h.7M459.5 531.4h.7M493.2 481.7h.7M503.8 470.6h.7M476.5 516.7h.7M490.1 502.6h.7M498.8 482.3h.7M505.1 467.5h.7M483.3 506.8h.7M499.9 483.2h.7M513.2 471.8h.7M497 487.9h.7M522.8 453.1h.7M518.1 461.2h.7M493 491.7h.7M463.5 531h.7M471.1 522.6h.7M488.9 496.3h.7M481.9 510.8h.7M514.2 466.9h.7M479.8 510.1h.7M487 500.3h.7M506.5 474.2h.7M502.1 480.6h.7M469.4 519.1h.7M506.5 483.4h.7M484.6 506.6h.7M458.1 531.9h.7M502.5 478.8h.7M488.9 493.6h.7M479.6 507.5h.7M506.8 470.4h.7M496 485.2h.7M482.7 505h.7M490.2 502.4h.7M492.4 495.4h.7M485.5 497.1h.7M468.4 522.5h.7M463.2 528.8h.7M513.3 471h.7M505.6 477h.7M514.4 462.3h.7M494.1 493.8h.7M504.8 482.7h.7M483.5 494.3h.7M479.4 511.5h.7M504.9 479.7h.7M490 501.2h.7M455.9 535.4h.7M513.8 469.3h.7M505.1 476.8h.7M483.3 505.2h.7M456.5 535.3h.7M502.4 485.6h.7M490.8 493.9h.7M468.4 521h.7M467.3 525.7h.7M504.4 480.2h.7M466.7 526.8h.7M502.8 477.4h.7M505.8 484.8h.7M466.5 528.4h.7M492.8 492.6h.7M489.8 498.4h.7M489.6 499.9h.7M458.3 534.5h.7M466.1 527h.7M492 500h.7M513 463.7h.7M489.1 491.8h.7M511.9 464h.7M481.8 506.5h.7M492 500.9h.7M499 478.4h.7M508.9 474.8h.7M517.4 460.6h.7M490.7 496.9h.7M495.4 482.7h.7M508 471.3h.7M470 521.2h.7M473.2 516.8h.7M481.1 513.2h.7M519.5 474.4h.7M492.6 491.6h.7M512.9 472h.7M465.9 524.6h.7M512.6 473.8h.7M482.7 504.3h.7M488.5 499.8h.7M491.5 493.1h.7M508.5 471.8h.7M468.5 519.1h.7M479.2 507.1h.7M509 477.2h.7M492.4 492.6h.7M498.3 483.8h.7M478.1 513.4h.7M474.3 513.6h.7M495.8 486.7h.7M499.3 485.3h.7M471.4 520.8h.7M490 496.1h.7M484.2 505.1h.7M479.3 509.1h.7M480.5 506.5h.7M512.1 465.1h.7M478.1 514.3h.7M464.3 529.5h.7M463 536.2h.7M478.7 510h.7M473.9 518.6h.7M504.7 469.6h.7M460.9 531.1h.7M486 502.1h.7M494 485.9h.7M500 485.7h.7M510.3 473.1h.7M507.9 470.8h.7M488.9 499.3h.7M474.9 519h.7M468.8 523.4h.7M466.1 527.7h.7M508.5 471.1h.7M460.6 535.9h.7M479.7 507.8h.7M479.8 509h.7M521.3 463h.7M483.1 509.2h.7M483.2 502.1h.7M476.7 512.2h.7M501.3 486.3h.7M459.2 535.8h.7M516.2 470h.7M459 533.6h.7M499.9 482.8h.7M489.8 498.4h.7M496.8 486.2h.7M482.3 510.1h.7M465.5 526.3h.7M473 515.7h.7M473.7 520.9h.7M514.3 458.6h.7M511.4 469.6h.7M475.3 522.5h.7M505.3 481.4h.7M506.4 472.3h.7M497.4 484.5h.7M485.1 502.6h.7M492.6 494.3h.7M513.6 475.1h.7M514 469.2h.7M502.9 486.8h.7M474.8 515.9h.7M468.8 523.8h.7M467.1 523.3h.7M515.8 469.9h.7M460 535.8h.7M503.3 481.7h.7M520.9 469.5h.7M489.8 495.5h.7M495.3 489.6h.7M500.4 486.1h.7M507.1 485.4h.7M503 472.6h.7M469.6 522h.7M513.5 469.4h.7M507.2 483.3h.7M483.1 504.7h.7M511.9 472.8h.7M473.3 517.6h.7M494.2 491h.7M513.4 475.3h.7M504.7 481.9h.7M509.4 476.5h.7M495.2 486.7h.7M480.6 506.9h.7M480.1 508.6h.7M490.7 497.3h.7M467.2 530h.7M510.2 478h.7M487.9 496.7h.7M458.9 534h.7M498.9 490.7h.7M481.6 507.1h.7M485.4 507.4h.7M466.5 528h.7M468.5 524.8h.7M497.1 485.2h.7M485.7 498.5h.7M479.9 504.1h.7M486.6 503.8h.7M478.5 509.6h.7M478.5 508.2h.7M511.7 465.9h.7M501.1 481.1h.7M460.4 531.9h.7M505.5 478.7h.7M512.1 474.6h.7M512 478.4h.7M507.1 480.6h.7M461.6 529.7h.7M491.7 491.5h.7M522 464.4h.7M479.4 511.6h.7M476.5 515.1h.7M485.3 508.9h.7M500.9 489.4h.7M517.6 469.7h.7M508.8 474.7h.7M501.6 483.3h.7M461.2 527.2h.7M483.6 502.7h.7M482.3 511.4h.7M508.9 477.2h.7M511 478.3h.7M456.1 537h.7M507.1 475.6h.7M464.7 531.9h.7M497.4 477.2h.7M500.6 478.3h.7M461.9 533.2h.7M483.5 507.2h.7M482.5 506.4h.7M457.8 536.2h.7M513 464.3h.7M479.2 513.6h.7M490.4 492.8h.7M460.4 532h.7M470.7 524.4h.7M496.8 489.6h.7M505.1 484.6h.7M489.3 504.2h.7M498.1 490.9h.7M472 521h.7M505 499.1h.7M493.2 510.3h.7M476.8 511h.7M511.1 475.5h.7M468 523.9h.7M533.5 470.4h.7M506.8 480.8h.7M517.1 500.3h.7M528.3 486.5h.7M475.9 520.6h.7M487.9 518.8h.7M470.7 528.1h.7M468.1 530.6h.7M478.1 530.3h.7M477.3 520.7h.7M481.3 517.7h.7M475.4 523.4h.7M510.1 485.2h.7M458.7 534.9h.7M466.4 523.1h.7M479.4 523h.7M523 480.9h.7M523.2 462.7h.7M520.7 475.3h.7M464.8 529.5h.7M467.2 537h.7M472.2 527h.7M498.1 484.1h.7M461.5 525.5h.7M474.3 520.6h.7M536.9 465.9h.7M501.7 493.9h.7M461.5 535.5h.7M495.2 498.1h.7M516.7 489.7h.7M510 483h.7M516.3 477.2h.7M486.1 515.7h.7M517.4 462.6h.7M481.4 519.2h.7M484.9 509.4h.7M466.9 537.4h.7M471.1 527.1h.7M511 485.9h.7M487.5 509.8h.7M465.4 536.2h.7M465 526.4h.7M533.3 470.2h.7M483.1 510h.7M474.1 525.7h.7M459.3 539.8h.7M473.4 523.4h.7M497.6 503.2h.7M528.3 485.4h.7M489.3 506.3h.7M523.9 482.2h.7M488.1 503h.7M495.6 503.4h.7M466 524h.7M533.1 477.4h.7M508.4 503.7h.7M503 483h.7M522.7 480.7h.7M522.5 499.7h.7M483.5 522.9h.7M505.6 473.4h.7M497.9 505.4h.7M494.7 516.4h.7M493.1 499.1h.7M476.9 503.1h.7M485.6 507h.7M499.6 490.7h.7M492.2 499.5h.7M499.2 477.3h.7M538.1 475.5h.7M540.6 456h.7M500.9 490.7h.7M498.8 486.2h.7M514 463.1h.7M533.6 494.4h.7M497.7 513.2h.7M506.3 459.9h.7M471.2 527.6h.7M472.7 525.5h.7M466.8 531.8h.7M498.8 487.9h.7M475.4 517h.7M484.9 505h.7M526.6 487h.7M497.1 493.9h.7M480.3 524.5h.7M467.5 532.2h.7M459.2 538h.7M510.9 491.2h.7M514.1 484h.7M522.4 457.8h.7M456.5 541.6h.7M525.7 471.5h.7M470 530.6h.7M470.5 526.2h.7M468 521.5h.7M501.1 491.2h.7M467.6 530.8h.7M473.6 508.8h.7M514.8 472.2h.7M491.1 501.4h.7M527.4 469.4h.7M494.1 493.4h.7M456.6 537.8h.7M487.3 511.6h.7M511.8 462.5h.7M507.7 483.6h.7M468.7 531.2h.7M509.1 477.5h.7M515.7 486.7h.7M464.9 535.5h.7M478.7 516h.7M534.6 497.8h.7M533.2 483.1h.7M502.7 498.7h.7M475.1 531.6h.7M512.2 473.3h.7M464.6 526.7h.7M458.3 536.9h.7M538.2 464.8h.7M515.8 482.9h.7M499.6 495h.7M491 484.3h.7M533.7 477.2h.7M465.4 535h.7M496.3 496.1h.7M502.7 483.4h.7M477 520.4h.7M465.3 527.6h.7M480.6 517.1h.7M524.2 485.9h.7M501.7 501.7h.7M511.7 496.2h.7M530.5 464.4h.7M489.1 517.2h.7M493.2 503.2h.7M503.6 482.4h.7M508.8 491.8h.7M468.9 533h.7M494.4 497h.7M530.5 474.9h.7M499 488.7h.7M466.2 524.5h.7M460 532.4h.7M479.2 518h.7M525.7 477.3h.7M476.9 523.9h.7M465.4 524.1h.7M491.5 504.8h.7M491.4 523.9h.7M468.7 532.1h.7M466.5 531.4h.7M504 489.7h.7M508 490.8h.7M477.3 506.9h.7M475.3 520h.7M494.4 515.6h.7M519.1 493.4h.7M480 523.5h.7M524.2 460h.7M475.2 526h.7M496.9 498.5h.7M516.4 469.4h.7M494.5 495.7h.7M486.3 505.4h.7M488.1 507.3h.7M490.3 484.6h.7M504.6 476.3h.7M470.7 527.5h.7M536.8 483.9h.7M478.5 515.3h.7M490.5 519.6h.7M493.6 493.4h.7M473.6 521.3h.7M487 500.6h.7M500.8 484.7h.7M489.6 507.8h.7M519.1 475.4h.7M508.3 473.2h.7M522 463.6h.7M482.3 514.1h.7M512 464.5h.7M524.2 484.4h.7M511.5 476.4h.7M487.1 495h.7M485.5 506h.7M466 529.6h.7M491.7 521.3h.7M477.9 516.3h.7M462.2 528.9h.7M474.2 516.1h.7M535.9 490.6h.7M523.5 483.9h.7M492.1 507.5h.7M527.7 486.2h.7M476.1 517.4h.7M477.9 525.4h.7M460.6 536h.7M490.6 509.3h.7M520.9 471.8h.7M460.5 536.9h.7M525.5 477.4h.7M479.1 513.2h.7M510.7 460.7h.7M474.2 528.5h.7M526 485h.7M517.1 484.5h.7M490.1 503.2h.7M467.1 531h.7M503.9 499.6h.7M520.5 467.5h.7M504.5 466.2h.7M534.8 468.3h.7M461.1 535.4h.7M488.3 504h.7M516.5 487.1h.7M465.3 529.7h.7M520.8 463.4h.7M481.9 509.8h.7M503.2 467.8h.7M481.7 524.9h.7M458.9 532.9h.7M517.5 448h.7M494.5 489.5h.7M489.8 492.1h.7M517 491.1h.7M471 526.9h.7M520 488.2h.7M508.4 482.6h.7M532.9 484.7h.7M513.9 480.3h.7M466.3 519.3h.7M484.2 538.7h.7M473.7 516.7h.7M461.6 527.6h.7M518.7 464.4h.7M489.1 503.7h.7M503.6 478.7h.7M495.8 501.8h.7M522.1 462.1h.7M536.2 460.4h.7M528.6 487.2h.7M501.4 474.7h.7M479 520.8h.7M501.7 504.4h.7M531.5 455.6h.7M472.9 513.5h.7M511.3 500.4h.7M478.7 516.6h.7M500.2 480.2h.7M462.7 534.5h.7M491.6 504.5h.7M499.4 513.9h.7M470.9 524.3h.7M505.2 487.9h.7M503.8 500.8h.7M507.7 477.5h.7M477.6 511.4h.7M467.6 529.6h.7M502.5 490.1h.7M517.6 485.6h.7M540.1 465h.7M506 500.6h.7M481.1 503.7h.7M519 475h.7M521.8 478.3h.7M516.3 500.4h.7M510.4 478h.7M470.7 531.6h.7M469.5 536.5h.7M512.5 472.1h.7M491.2 520.6h.7M482.5 513h.7M480.2 524.7h.7M480.9 521.8h.7M508.9 489.6h.7M531.7 469.4h.7M474.7 530.6h.7M498.8 503.3h.7M469.6 525.6h.7M516.6 443.1h.7M510.7 499.1h.7M541.2 452.5h.7M529 489.4h.7M534.2 500.5h.7M541.8 468.1h.7M538.9 483.2h.7M527.9 488.5h.7M524 504.5h.7M533.1 487.7h.7M519.7 446.5h.7M519.5 456.7h.7M514.4 447.6h.7M540.7 484.5h.7M510.8 467.6h.7M537.3 476.4h.7M530.5 513.9h.7M529.4 449.6h.7M519.3 480h.7M525.5 464.3h.7M520 478.2h.7M519.7 470.6h.7M515.1 491.3h.7M531.6 485.3h.7M539.6 468.7h.7M540.9 466.7h.7M541.5 459.7h.7M512 488.1h.7M523.3 459.4h.7M521.1 500.6h.7M525.6 448.2h.7M528.4 495.5h.7M525.3 468.2h.7M520.6 481.4h.7M519.2 500.1h.7M514.9 458.6h.7M538.5 476.7h.7M540.5 508.8h.7M524.8 464.1h.7M527.9 480.9h.7M524.7 457.1h.7M517.8 501.7h.7M530.4 507h.7M521.6 469.7h.7M523.4 480.7h.7M522.5 473.1h.7M511.7 467.7h.7M530.3 479h.7M530.3 482.8h.7M523.3 478.1h.7M532.7 498.4h.7M520.9 471.4h.7M528 515.1h.7M539.7 507.2h.7M516.8 474.8h.7M518.2 475.5h.7M514.2 493.1h.7M531 464.8h.7M511.8 468.9h.7M514.2 477.7h.7M535.1 468.3h.7M510.5 470h.7M518.4 509.6h.7M520 445.9h.7M538.8 493.7h.7M519.5 507.8h.7M513 455h.7M536.9 447h.7M534.7 498.4h.7M528.8 472h.7M514.6 483.8h.7M541.6 469.3h.7M515.9 482.1h.7M537.8 455.2h.7M517.2 459.4h.7M520 474.3h.7M536.5 474.6h.7M539.2 491h.7M540.7 492.2h.7M529.7 508.9h.7M536.7 456.7h.7M527.5 492.6h.7M528.7 451.6h.7M513.5 471.9h.7M541.1 462.2h.7M527.4 494.2h.7M516 486.2h.7M529.4 446.8h.7M522.4 461.7h.7M519.3 459.6h.7M493.3 498.1h.7M484.8 519.8h.7M492.5 513.8h.7M492.2 506.1h.7M485 510.5h.7M485.7 509.4h.7M490.5 511.4h.7M491.6 511.3h.7M483.2 502h.7M476.5 510.5h.7M493.6 502.8h.7M481 488.1h.7M482.1 498.3h.7M489.2 500.5h.7M484.5 493h.7M488.5 494.3h.7M477.7 520.6h.7M499.6 506.6h.7M491.1 514.2h.7M498.3 504.7h.7M482.5 503.9h.7M484.5 497.8h.7M485.6 504.8h.7M492 499.1h.7M481.5 510.4h.7M482 506.9h.7M483 497.6h.7M483.3 505.7h.7M481.7 502.2h.7M480.8 511.3h.7M482.3 498.5h.7M488.9 503.2h.7M482.8 507.6h.7M472.4 500.6h.7M487.1 497.7h.7M485.4 512.4h.7M477.4 502.5h.7M486.1 493.6h.7M485 511.7h.7M480.5 501.7h.7M484.3 501.9h.7M485.9 497.7h.7M493.3 517.6h.7M479.6 508.4h.7M492 514.2h.7M488 503.6h.7M481.9 506.4h.7M481 505.5h.7M480.2 504.5h.7M486 494.8h.7M480.3 518.8h.7M500.5 500.1h.7M492.9 498.7h.7M480.7 507.1h.7M481.5 501.6h.7M490.5 508.4h.7M485.3 527.1h.7M489 508.3h.7M485 506.4h.7M495.4 499.3h.7M488 505.2h.7M481.2 502.5h.7M492.9 509.8h.7M503 506.1h.7M491.1 512.4h.7M481.4 515.1h.7M488 506.7h.7M478.1 498.1h.7M491.7 514.6h.7M480.5 507.1h.7M482.2 509.5h.7M479.3 500.1h.7M482.5 501.4h.7M494.6 504.6h.7M494.9 496.4h.7M484.3 510.2h.7M490.6 511.7h.7M487.6 505.7h.7M495.7 503.2h.7M491.7 505.4h.7M484.1 503.9h.7M489.8 504h.7M472 494.6h.7M480.6 496.9h.7M480 496h.7M494 511.6h.7M491.8 498.2h.7M484 504.9h.7M491.6 511.1h.7M485.7 513h.7M484.6 506.1h.7M487.9 495.6h.7M481.3 503.7h.7M498.7 514.1h.7M489.3 514h.7M486.5 516.7h.7M482.5 500.9h.7M476.1 494.7h.7M491 508.5h.7M492.1 496.8h.7M498.4 510.2h.7M486.9 494.8h.7M479 509.1h.7M497.7 511.8h.7M497.9 500.7h.7M487.1 514.8h.7M488.1 505.5h.7M492.8 506.8h.7M485.2 498.7h.7M480.3 509.8h.7M490.4 502.2h.7M482.1 514.4h.7M485.1 497.9h.7M478.6 497.3h.7M490.1 505.3h.7M480 502.7h.7M492.3 507h.7M484.5 513.2h.7M482 507.3h.7M488.4 497.2h.7M481.1 509.3h.7M486.9 498.4h.7M484.2 506.6h.7M487.4 511.5h.7M497.3 503.8h.7M483.4 487.1h.7M481.2 508.3h.7M481.5 491.6h.7M487.5 496h.7M488.9 499.1h.7M493 502.2h.7M480.4 507.4h.7M489.8 504.1h.7M483.3 505.2h.7M490.2 504.7h.7M483.4 511.7h.7M492.6 512.8h.7M488.6 505.8h.7M480.8 509.7h.7M492.8 502.1h.7M491.7 510.6h.7M480.9 490.2h.7M483.9 512.1h.7M482.6 502h.7M487.9 531.7h.7M476.2 516.1h.7M485.7 513.4h.7M482.7 515.1h.7M477 488.7h.7M488.3 518.1h.7M485.6 504.6h.7M486.8 501.4h.7M487.4 518.6h.7M484.8 520h.7M483.1 507.8h.7M494.6 512.9h.7M488.2 510.9h.7M487.7 514.6h.7M488.4 499.8h.7M484.1 496.9h.7M487.8 512.1h.7M475.4 499.3h.7M498.2 508.5h.7M481.7 502.8h.7M491.7 486.9h.7M485.5 512.6h.7M480.1 496.7h.7M491.6 511.3h.7M476.9 494.7h.7M492.4 511.1h.7M484.1 497.1h.7M494.1 485.4h.7M485.2 501.2h.7M487 492.6h.7M487.3 514.9h.7M481.2 505.4h.7M477.5 497.1h.7M490.2 497.3h.7M492.1 502.4h.7M492.6 503.8h.7M491.6 492.6h.7M486.1 516.4h.7M485.9 504.7h.7M492.5 511.1h.7M481.7 501.5h.7M482.3 492.7h.7M484 497.7h.7M498.1 505.3h.7M486.7 510.1h.7M481.5 496.5h.7M486.7 503h.7M493.7 500.7h.7M479.8 510.1h.7M485.7 506.8h.7M488.5 508.8h.7M484.7 504.6h.7M484.5 502.3h.7M490.4 507.5h.7M479.1 498.2h.7M482.1 500.6h.7M489.6 507.1h.7M481.7 502.2h.7M481.8 498.9h.7M480.6 508.7h.7M488.5 501.1h.7M487.1 508.5h.7M483.6 510h.7M488.4 495.7h.7M488 498.8h.7M486.2 508.5h.7M476.7 497.9h.7M481.4 493.4h.7M494 508.9h.7M489.5 515.7h.7M480.9 503.2h.7M481.9 501.9h.7M484.5 505.9h.7M497 513h.7M484.8 496.4h.7M492.4 499h.7M494.5 489.7h.7M482.8 493.7h.7M484.8 505.6h.7M485.5 508.6h.7M483.5 500.4h.7M478.1 499.5h.7M494 495.3h.7M487.6 519.7h.7M473.5 496.4h.7M501.7 505.2h.7M489.8 512.7h.7M483.4 519.9h.7M490.2 505.3h.7M486.2 510.3h.7M494.5 516.4h.7M486.7 495.2h.7M479.3 499.5h.7M488 500.7h.7M489.8 497.5h.7M488.4 501.5h.7M484.3 488.2h.7M479.9 516.1h.7M489.6 492.4h.7M490.7 520.7h.7M495.6 507.3h.7M488.9 500.1h.7M479.5 517.4h.7M486.3 498h.7M486.9 489.6h.7M486.3 509.9h.7M491 496.3h.7M489.5 521.4h.7M487.2 508.1h.7M489.3 495.4h.7M479.3 500.8h.7M486.3 501.6h.7M484.1 510.3h.7M492.3 492h.7M478.8 504.2h.7M485.4 513h.7M524.1 497.7h.7M525.9 506.6h.7M517.4 505.4h.7M518 497.1h.7M522 500h.7M523.4 499.6h.7M523.9 496.5h.7M515.1 500.2h.7M518.1 498.2h.7M517.1 501.9h.7M517.2 506.4h.7M525.2 507.7h.7M523.9 497.3h.7M517.8 496.8h.7M515.7 500.6h.7M523.1 492.9h.7M518 499.9h.7M516 508.1h.7M518.4 493.4h.7M517.7 499.7h.7M514.8 500.6h.7M520.2 495.3h.7M520.7 491.8h.7M514.1 492.4h.7M520.4 500.4h.7M524.1 500.6h.7M517.2 498.1h.7M509.2 496.4h.7M512.4 495.6h.7M518.6 504h.7M525 505.7h.7M521.3 498.2h.7M515.9 501.6h.7M517.3 502.9h.7M529.1 509.6h.7M521 500.4h.7M521.1 501.3h.7M521.2 503.4h.7M520.9 494.1h.7M518.5 508.1h.7M516.1 496.2h.7M523.3 498.3h.7M521.9 503.3h.7M519 505.6h.7M517.6 501.2h.7M518.7 501.1h.7M517.7 502.5h.7M520.6 492.7h.7M526.6 495.9h.7M520.4 496.1h.7M517.8 500.1h.7M520.4 496.9h.7M519.6 498.4h.7M529.1 499.3h.7M516.7 505.3h.7M516 496.6h.7M516.6 498.1h.7M511.3 501.3h.7M513.6 496.7h.7M523.5 496.6h.7M516.7 497.5h.7M505.4 509h.7M522.1 499.2h.7M515.8 497.7h.7M516.2 504.1h.7M519.4 504.7h.7M516.6 495.5h.7M517.2 501.4h.7M521.1 508.6h.7M515.3 496.2h.7M515.9 490.2h.7M523.5 499.3h.7M514.3 498.3h.7M512.7 499.2h.7M520.2 506.4h.7M524.3 493.7h.7M524.7 509.1h.7M520.6 507.1h.7M516.6 499h.7M522.2 498.3h.7M522.6 510.2h.7M521.7 502.1h.7M519.7 508.1h.7M515.5 500.4h.7M514.5 500.1h.7M516.2 504.1h.7M520 502.3h.7M517.2 502.7h.7M518.5 503.1h.7M516 504.3h.7M522 496.6h.7M522.4 509.1h.7M518.3 505.4h.7M516.3 492h.7M515.4 500.2h.7M523.8 510.2h.7M520.9 494.7h.7M516.5 498.1h.7M517.2 498.9h.7M522 501.9h.7M512.9 504h.7M516.7 505.4h.7M517.9 499.6h.7M517.4 498.5h.7M523.1 493.5h.7M517.8 503.1h.7M523.9 504.8h.7M521.3 502h.7M521.5 500.8h.7M519.6 501.6h.7M521.5 498.9h.7M520.3 500.3h.7M515.7 500.7h.7M517.2 500.4h.7M513.9 510.6h.7M515 503.7h.7M518.9 508.9h.7M514.9 495.9h.7M518.5 501.7h.7M524.3 501h.7M517.8 499.6h.7M517 509.4h.7M522.9 503.7h.7M520 497.4h.7M520 504.9h.7M525.1 500.6h.7M519.8 507.1h.7M517.9 500.1h.7M518.8 500.6h.7M523.7 505.7h.7M511.3 499.6h.7M513.1 500.8h.7M523.1 495.7h.7M520.1 501h.7M519.3 503.5h.7M524.4 504.2h.7M520.9 497.2h.7M515.6 489.9h.7M517.3 503.6h.7M518.3 502h.7M518.7 489.7h.7M504 503h.7M513.2 500h.7M514.3 506.5h.7M520.5 496.7h.7M518.6 500.3h.7M519.7 494.1h.7M519 496.5h.7M518.7 502.6h.7M514.4 501h.7M518.5 502.3h.7M517.2 501.6h.7M516.8 506.1h.7M510.6 499.3h.7M520.4 505.5h.7M517.6 498.2h.7M514 494.5h.7M520.9 505.9h.7M521.4 500h.7M519.3 502.6h.7M522.8 501.1h.7M514.2 501.7h.7M514.1 495.9h.7M522.4 500.3h.7M523.7 498.6h.7M517.7 499.4h.7M529 499.9h.7M520.5 499.1h.7M525.9 497.3h.7M521.3 492.2h.7M516.3 506.7h.7M520.2 502.9h.7M517.3 503.8h.7M523.7 498.8h.7M514.6 511.8h.7M510.1 505.9h.7M521.6 496.2h.7M524.4 506.7h.7M518.1 498.4h.7M523.9 495.4h.7M524.1 495.4h.7M520.9 506h.7M516.3 504.6h.7M521.3 505.1h.7M525.9 501.1h.7M522.8 504h.7M523.4 501.3h.7M515.5 501.5h.7M518.7 488.5h.7M519.6 507.8h.7M521.7 505.2h.7M514.7 497.7h.7M519.4 499.9h.7M526.9 501h.7M523.4 508.1h.7M520 494.8h.7M522 504.1h.7M523.4 496.9h.7M515 499.2h.7M514.4 500.9h.7M517.7 501.6h.7M520.7 507.8h.7M525.9 497.7h.7M516.5 509h.7M518.8 503.4h.7M522.7 500.4h.7M516.5 497.2h.7M524.2 503h.7M516.7 506h.7M519.9 498.7h.7M522.4 502h.7M515.5 499.9h.7M527.9 495.8h.7M517.6 497.5h.7M519.3 503.7h.7M516.4 502.4h.7M531.8 510.7h.7M511.4 509.2h.7M516.6 496.6h.7M522.3 506.3h.7M520.7 496h.7M525.9 506.9h.7M518.4 508.4h.7M524.1 499.2h.7M513.1 499.7h.7M517 496.4h.7M521.2 499.4h.7M524.8 504.6h.7M522.3 497.6h.7M526.3 494.5h.7M516.7 499h.7M515.6 499.7h.7M516.1 503.6h.7M517.9 505.8h.7M517.4 500.7h.7M509.4 495.5h.7M525.7 505.3h.7M520.3 497h.7M517.1 504h.7M526.5 496h.7M516.5 472.1h.7M512.4 470.9h.7M516 467h.7M513.4 466.4h.7M519.4 477.9h.7M518.7 491.7h.7M518.9 481.6h.7M516.8 476.5h.7M516.9 475.8h.7M523.2 479.5h.7M521.8 464.6h.7M522.2 471.8h.7M515.4 466.7h.7M518.6 476.4h.7M513.3 481.3h.7M519.6 481.5h.7M519.6 475.5h.7M515.3 468.4h.7M513.7 483h.7M520.7 479.9h.7M515.9 477.9h.7M520.4 476.5h.7M516 475.4h.7M511.5 481h.7M518 470.3h.7M510.6 486.6h.7M514.8 482.2h.7M523.3 473.6h.7M516.6 466h.7M517.7 477.1h.7M516.5 474.7h.7M512.9 463.4h.7M514.3 482.3h.7M519.1 475.7h.7M513.5 486.5h.7M518.5 475.7h.7M518 461.9h.7M518.1 492.2h.7M517.3 479.5h.7M513.5 473h.7M518.2 484.5h.7M516.2 470.4h.7M519.8 473.5h.7M510.3 482.6h.7M513.9 489.1h.7M511.6 470.9h.7M516.7 481.1h.7M515.7 465.8h.7M523.6 465.2h.7M516.2 472.1h.7M520.9 470.4h.7M515.3 480.8h.7M509.9 470.2h.7M513.7 482.3h.7M515.6 471.3h.7M519.3 478.2h.7M510.2 475.1h.7M519.5 467.9h.7M513.5 477.6h.7M512.8 481.3h.7M515 476h.7M516 483.8h.7M509.7 466.5h.7M514.7 484.9h.7M513.6 483.8h.7M518.7 476.4h.7M518.4 470.8h.7M509.7 479.7h.7M518.8 466.3h.7M521.5 460h.7M519.7 488.4h.7M516.4 470h.7M518.6 464.7h.7M514.7 482.6h.7M513.7 474.3h.7M514.7 474.2h.7M517.7 482h.7M518.4 475.7h.7M518.7 461.9h.7M514.4 470.8h.7M515.8 477.4h.7M514.1 477.9h.7M516.6 463.4h.7M517.9 462.1h.7M517.3 479.3h.7M520.1 458.8h.7M514 467.7h.7M514 469.9h.7M517.9 479.6h.7M514.9 474.4h.7M517.3 463h.7M518.7 470.9h.7M515.8 460.8h.7M518 466.9h.7M518.1 446.5h.7M511.6 478.9h.7M521.8 464.1h.7M517.7 483h.7M516.6 465.2h.7M518.9 480.4h.7M519.5 472.6h.7M517.1 476.7h.7M513 472.4h.7M507.3 467.8h.7M516.7 484.3h.7M516 478h.7M517 470.7h.7M514.2 481.2h.7M518.5 474.5h.7M512.8 478.3h.7M515.5 487.3h.7M508.5 479h.7M521.5 475.3h.7M515.5 471.2h.7M513.9 467.3h.7M514.6 472.1h.7M516.9 480.2h.7M519 464.8h.7M522.8 486.7h.7M512 481.4h.7M519.2 485.7h.7M518.7 477h.7M514 484.3h.7M519.9 456.5h.7M516.7 482.8h.7M520.4 471.5h.7M525.7 483.6h.7M517.8 473h.7M521.2 467.3h.7M516.7 468.1h.7M519.5 480.6h.7M513.2 467.1h.7M519.3 474.7h.7M512.8 481.2h.7M509.1 477.5h.7M522.9 474.5h.7M520.6 475.8h.7M514.7 468h.7M519.6 480.5h.7M512.6 472.7h.7M520.1 479.2h.7M517.3 474.9h.7M510.7 469.7h.7M509.9 479.2h.7M511.4 475h.7M514.4 473.3h.7M508.3 477.7h.7M520.6 479.1h.7M512.8 472h.7M511.3 466.8h.7M518.1 476.5h.7M517.2 465.6h.7M507.8 466.8h.7M514.6 473.6h.7M518.6 470.4h.7M521.6 482.2h.7M520.3 485.4h.7M519.3 470.9h.7M518.3 482.9h.7M519.6 482.2h.7M517.5 478.2h.7M510 482.5h.7M517.3 471.8h.7M511.2 472.3h.7M524.2 470.7h.7M521 481.2h.7M515.9 473.8h.7M509.3 483.7h.7M517.3 475.5h.7M514.9 468.7h.7M511.4 468.5h.7M516.2 490.3h.7M522.3 472.5h.7M515.4 474.5h.7M523.3 473.9h.7M514.1 483.9h.7M507.5 478.6h.7M523 480.1h.7M520.4 474.2h.7M517.1 477.5h.7M515.5 467.1h.7M513.9 478.4h.7M521.9 479.6h.7M518.4 475.3h.7M519.5 470.6h.7M516.5 468.9h.7M513.2 479.7h.7M513.8 475.1h.7M521.6 447.6h.7M515.6 479.6h.7M515.9 476.4h.7M511.8 478.6h.7M517 476.6h.7M512.6 482.2h.7M513.9 469h.7M517.1 474.9h.7M521.6 470.9h.7M519 473.6h.7M515.7 469.3h.7M515.8 478.9h.7M517.7 474.1h.7M518 465.4h.7M516 483h.7M519.2 482.1h.7M512.8 467.3h.7M512.2 471.3h.7M516.2 472.2h.7M517.1 472.2h.7M515.9 480.1h.7M517.4 481.2h.7M517.9 480.8h.7M516.6 474.5h.7M514.5 473.6h.7M520.9 471h.7M522.4 470.2h.7M516.4 450.5h.7M519 485.3h.7M519.1 463.5h.7M518.7 480.4h.7M519.3 477.6h.7M506.7 473.8h.7M517.8 483.2h.7M517.6 481.5h.7M513.9 479.3h.7M513.8 479.9h.7M512.5 469h.7M518.1 475.7h.7M513.3 487.6h.7M516.3 478.6h.7M521.7 478.6h.7M510.1 463.2h.7M509.4 469.3h.7M512.4 478.3h.7M515.6 487.5h.7M511.5 465.4h.7M519.5 484.1h.7M512.9 477.7h.7M515.1 472.1h.7M518.5 480.3h.7M510.2 473.9h.7M516.7 477.3h.7M517.8 465.4h.7M518.7 471.4h.7M510 469.6h.7M511.9 486.2h.7M513.3 470.8h.7M518.8 460.1h.7M516.4 476h.7M511.4 471.5h.7M523.7 476.5h.7M519.3 482.7h.7M515.5 471.8h.7M521 459.9h.7M521.5 492h.7M522.2 469.1h.7M511.8 476.2h.7M515.7 472.5h.7M509.7 477.5h.7M517.7 470.1h.7M522 468.2h.7" stroke="#2a3ce4" stroke-width=".7" fill="none" opacity=".9"/>
<ellipse cx="501.3" cy="489.8" rx="24.2" ry="3.4" transform="rotate(-45.1 501.3 489.8)" fill="url(#blu2)"/>
<ellipse cx="460.2" cy="533.6" rx="9" ry="1.6" transform="rotate(-53.1 460.2 533.6)" fill="url(#blu)"/>
<ellipse cx="456.7" cy="538.6" rx="3.5" ry="1.4" transform="rotate(-53.1 456.7 538.6)" fill="url(#jet)"/>
<ellipse cx="519.1" cy="501.2" rx="6.6" ry="6.6" fill="url(#blu)"/>
<ellipse cx="516.3" cy="474.7" rx="5.6" ry="10.5" transform="rotate(12 516.3 474.7)" fill="url(#blu)"/>
<ellipse cx="486.3" cy="504.8" rx="11.5" ry="6.4" transform="rotate(-68 486.3 504.8)" fill="url(#jet)"/>
<polygon points="516.8,460.2 523.3,470 523.3,479.4 520.3,485.3 492.1,516.9 484.4,518.8 479.7,512.3 479.7,503.3 485.1,497" fill="none" stroke="#333" stroke-width="0.6" stroke-linejoin="round"/>
</g>
<text x="456.4" y="436.2" font-family="'Liberation Sans',Arial,sans-serif" font-size="4.2" font-weight="normal" text-anchor="start" fill="#333">FL2-A, FL2-H subset</text>
<text x="456.4" y="443.2" font-family="'Liberation Sans',Arial,sans-serif" font-size="4.2" font-weight="normal" text-anchor="start" fill="#333">49.9%</text>
<path d="M473.6 541.6L473.6 543.6" stroke="#555" stroke-width="0.5" fill="none"/>
<text x="473.6" y="551.6" font-family="'Liberation Sans',Arial,sans-serif" font-size="4.3" font-weight="normal" text-anchor="middle" fill="#444">100K</text>
<path d="M494.3 541.6L494.3 543.6" stroke="#555" stroke-width="0.5" fill="none"/>
<text x="494.3" y="551.6" font-family="'Liberation Sans',Arial,sans-serif" font-size="4.3" font-weight="normal" text-anchor="middle" fill="#444">200K</text>
<path d="M514.9 541.6L514.9 543.6" stroke="#555" stroke-width="0.5" fill="none"/>
<text x="514.9" y="551.6" font-family="'Liberation Sans',Arial,sans-serif" font-size="4.3" font-weight="normal" text-anchor="middle" fill="#444">300K</text>
<path d="M535.5 541.6L535.5 543.6" stroke="#555" stroke-width="0.5" fill="none"/>
<text x="535.5" y="551.6" font-family="'Liberation Sans',Arial,sans-serif" font-size="4.3" font-weight="normal" text-anchor="middle" fill="#444">400K</text>
<path d="M457 541.6L457 542.7" stroke="#555" stroke-width="0.4" fill="none"/>
<path d="M461.2 541.6L461.2 542.7" stroke="#555" stroke-width="0.4" fill="none"/>
<path d="M465.3 541.6L465.3 542.7" stroke="#555" stroke-width="0.4" fill="none"/>
<path d="M469.5 541.6L469.5 542.7" stroke="#555" stroke-width="0.4" fill="none"/>
<path d="M473.6 541.6L473.6 542.7" stroke="#555" stroke-width="0.4" fill="none"/>
<path d="M477.7 541.6L477.7 542.7" stroke="#555" stroke-width="0.4" fill="none"/>
<path d="M481.9 541.6L481.9 542.7" stroke="#555" stroke-width="0.4" fill="none"/>
<path d="M486 541.6L486 542.7" stroke="#555" stroke-width="0.4" fill="none"/>
<path d="M490.2 541.6L490.2 542.7" stroke="#555" stroke-width="0.4" fill="none"/>
<path d="M494.3 541.6L494.3 542.7" stroke="#555" stroke-width="0.4" fill="none"/>
<path d="M498.4 541.6L498.4 542.7" stroke="#555" stroke-width="0.4" fill="none"/>
<path d="M502.6 541.6L502.6 542.7" stroke="#555" stroke-width="0.4" fill="none"/>
<path d="M506.7 541.6L506.7 542.7" stroke="#555" stroke-width="0.4" fill="none"/>
<path d="M510.9 541.6L510.9 542.7" stroke="#555" stroke-width="0.4" fill="none"/>
<path d="M515 541.6L515 542.7" stroke="#555" stroke-width="0.4" fill="none"/>
<path d="M519.1 541.6L519.1 542.7" stroke="#555" stroke-width="0.4" fill="none"/>
<path d="M523.3 541.6L523.3 542.7" stroke="#555" stroke-width="0.4" fill="none"/>
<path d="M527.4 541.6L527.4 542.7" stroke="#555" stroke-width="0.4" fill="none"/>
<path d="M531.6 541.6L531.6 542.7" stroke="#555" stroke-width="0.4" fill="none"/>
<path d="M535.7 541.6L535.7 542.7" stroke="#555" stroke-width="0.4" fill="none"/>
<path d="M539.8 541.6L539.8 542.7" stroke="#555" stroke-width="0.4" fill="none"/>
<path d="M452.2 453.2L454.2 453.2" stroke="#555" stroke-width="0.5" fill="none"/>
<text x="451" y="454.7" font-family="'Liberation Sans',Arial,sans-serif" font-size="4.3" font-weight="normal" text-anchor="end" fill="#444">300K</text>
<path d="M452.2 483.2L454.2 483.2" stroke="#555" stroke-width="0.5" fill="none"/>
<text x="451" y="484.7" font-family="'Liberation Sans',Arial,sans-serif" font-size="4.3" font-weight="normal" text-anchor="end" fill="#444">200K</text>
<path d="M452.2 511.8L454.2 511.8" stroke="#555" stroke-width="0.5" fill="none"/>
<text x="451" y="513.3" font-family="'Liberation Sans',Arial,sans-serif" font-size="4.3" font-weight="normal" text-anchor="end" fill="#444">100K</text>
<path d="M453.1 447.2L454.2 447.2" stroke="#555" stroke-width="0.4" fill="none"/>
<path d="M453.1 453.2L454.2 453.2" stroke="#555" stroke-width="0.4" fill="none"/>
<path d="M453.1 459.2L454.2 459.2" stroke="#555" stroke-width="0.4" fill="none"/>
<path d="M453.1 465.2L454.2 465.2" stroke="#555" stroke-width="0.4" fill="none"/>
<path d="M453.1 471.2L454.2 471.2" stroke="#555" stroke-width="0.4" fill="none"/>
<path d="M453.1 477.2L454.2 477.2" stroke="#555" stroke-width="0.4" fill="none"/>
<path d="M453.1 483.2L454.2 483.2" stroke="#555" stroke-width="0.4" fill="none"/>
<path d="M453.1 489.2L454.2 489.2" stroke="#555" stroke-width="0.4" fill="none"/>
<path d="M453.1 495.2L454.2 495.2" stroke="#555" stroke-width="0.4" fill="none"/>
<path d="M453.1 501.2L454.2 501.2" stroke="#555" stroke-width="0.4" fill="none"/>
<path d="M453.1 507.2L454.2 507.2" stroke="#555" stroke-width="0.4" fill="none"/>
<path d="M453.1 513.2L454.2 513.2" stroke="#555" stroke-width="0.4" fill="none"/>
<path d="M453.1 519.2L454.2 519.2" stroke="#555" stroke-width="0.4" fill="none"/>
<path d="M453.1 525.2L454.2 525.2" stroke="#555" stroke-width="0.4" fill="none"/>
<path d="M453.1 531.2L454.2 531.2" stroke="#555" stroke-width="0.4" fill="none"/>
<path d="M453.1 537.2L454.2 537.2" stroke="#555" stroke-width="0.4" fill="none"/>
<text x="433.3" y="493.1" font-family="'Liberation Sans',Arial,sans-serif" font-size="4.2" font-weight="normal" text-anchor="middle" fill="#444" transform="rotate(-90 433.3 493.1)">FL2-H: FL2-H</text>
<text x="498.5" y="562.5" font-family="'Liberation Sans',Arial,sans-serif" font-size="4.2" font-weight="normal" text-anchor="middle" fill="#444">FL2-A: FL2-A</text>
<rect x="589.1" y="430.6" width="87.5" height="111" fill="#fff" stroke="#555" stroke-width="0.7"/>
<clipPath id="sc589"><rect x="589.1" y="430.6" width="87.5" height="111"/></clipPath>
<g clip-path="url(#sc589)">
<rect x="590.1" y="431.6" width="42" height="14" fill="#f1f1f1"/>
<path d="M637.5 476.4h.7M603 525.1h.7M622.7 493.5h.7M627.8 496.7h.7M644.8 472.3h.7M598.2 531.5h.7M649.3 468h.7M616.4 495.8h.7M625.7 502.4h.7M607.6 513h.7M641.3 479.3h.7M613.6 515.4h.7M595 533.7h.7M603.4 525.5h.7M599.6 533.2h.7M602.1 521h.7M619.9 497.7h.7M642.7 478.7h.7M627.3 493.2h.7M608 515.9h.7M603.1 524.5h.7M604.4 523.1h.7M638.2 489.9h.7M592.7 537.4h.7M636.8 479.8h.7M629.8 490.6h.7M637.3 482.1h.7M634.1 479.6h.7M614 515.9h.7M603.3 518.4h.7M611.7 516h.7M647.3 471.1h.7M634.2 480.5h.7M604.7 523.7h.7M643.4 463.6h.7M644.2 476.1h.7M634 488h.7M636.7 483.7h.7M620.2 500.9h.7M638.5 481h.7M596.8 530.8h.7M616 508.9h.7M620 508.1h.7M621.5 492.4h.7M645.1 468.7h.7M630 493.2h.7M615.2 507h.7M635.6 483.2h.7M618.8 504.1h.7M650.7 473.1h.7M655 471.9h.7M602 527.7h.7M623.6 498.7h.7M610.2 510.9h.7M661.3 464.4h.7M605.4 525.8h.7M598 531.9h.7M635.2 479h.7M612.7 503.9h.7M617.8 508.3h.7M629 494.9h.7M604 524.6h.7M640.2 476.1h.7M634 485.6h.7M641.1 471.9h.7M614.7 511.1h.7M636.1 480.5h.7M621.4 502.4h.7M615.8 509.6h.7M651.8 471.6h.7M637.8 483.8h.7M635.3 487.6h.7M640.2 478.5h.7M633.6 484.5h.7M649.3 467.8h.7M601.2 524.3h.7M618.4 508h.7M641.1 477.6h.7M620 502.9h.7M605.1 520.2h.7M631.3 486.6h.7M651.1 471.6h.7M623.9 494.8h.7M646.2 465.5h.7M608.4 523.3h.7M636.8 480h.7M597.8 534.6h.7M596 533.6h.7M637.9 481.6h.7M651.1 465.1h.7M645.2 473h.7M636.5 481.5h.7M640.1 478h.7M652.1 461.1h.7M613 517.1h.7M628.1 493h.7M613.9 513.8h.7M601 525.1h.7M637.5 485.2h.7M609.1 520.7h.7M651.1 456.3h.7M623.4 496.2h.7M634.9 481h.7M597.2 534.4h.7M655.8 455.9h.7M650 470.9h.7M623.8 499h.7M607.3 521.4h.7M590.7 539.3h.7M635.3 482.9h.7M641.7 473.5h.7M634.2 483.8h.7M608.3 517.2h.7M637.1 484.7h.7M640.2 481.3h.7M620.5 498.8h.7M642.6 476.7h.7M609.8 515.1h.7M642.6 474.3h.7M609.4 519.5h.7M609.5 514.4h.7M652.4 468.4h.7M642.3 479.7h.7M612.7 513.9h.7M612.4 507.7h.7M600.2 527.9h.7M642.6 479.5h.7M641.2 481.3h.7M609.7 517.5h.7M642.5 474h.7M637.3 482.5h.7M607.7 517.7h.7M644.5 474.1h.7M622.6 507.4h.7M595.9 531.4h.7M611.8 514.4h.7M620.1 504.3h.7M616.6 507h.7M646.1 471.5h.7M658 467.2h.7M605.5 520.8h.7M635 488.4h.7M654 459.5h.7M606.6 518.9h.7M643.6 474.8h.7M606.4 515.2h.7M641.7 481.4h.7M624.2 497.2h.7M595.7 531.3h.7M602.6 525.5h.7M598.2 532.2h.7M597.7 530.1h.7M638 483h.7M594.2 536.2h.7M646.7 466.9h.7M624.4 502.5h.7M645.6 478.2h.7M616.6 508.1h.7M620.1 499.9h.7M626.6 490.1h.7M614.6 506h.7M627.3 494h.7M622.7 500.7h.7M606.5 519.8h.7M596.8 530.8h.7M618.1 503.2h.7M595 536.4h.7M598 529.6h.7M604.2 517.6h.7M643.7 478.8h.7M602.7 521.4h.7M633.8 488.4h.7M650.5 466.8h.7M644.4 473.2h.7M616.8 503.9h.7M639.3 486.2h.7M625.5 499.7h.7M631.3 493.2h.7M625.2 496.9h.7M596.9 531.4h.7M596.2 528.8h.7M611.7 514.3h.7M597.6 527h.7M649.4 460.2h.7M628.6 488.9h.7M616.2 505.4h.7M612.7 509.6h.7M602.9 519.9h.7M639.3 489h.7M626.5 492.4h.7M594.6 535.3h.7M627.8 490.6h.7M618.8 505.7h.7M632.6 494.6h.7M631.1 490.9h.7M638.1 481.3h.7M631.2 488.5h.7M649.1 461.2h.7M646.7 461h.7M651 464.8h.7M603.6 525.8h.7M640.1 464.6h.7M641.7 469.3h.7M596.5 532h.7M637.9 483.1h.7M608.1 519.5h.7M611.5 509.2h.7M625.4 494.8h.7M618.9 501.4h.7M589.5 539h.7M651.6 467.9h.7M592.6 534.7h.7M638.3 481.5h.7M629.3 491.3h.7M638.7 484h.7M599.8 526h.7M617.7 504.7h.7M642.6 473.1h.7M632.3 483.5h.7M653.4 465.9h.7M655.6 468.6h.7M618.5 502.3h.7M619.3 509.5h.7M604.8 522.2h.7M641.9 472.9h.7M617.2 510.4h.7M592.1 538.7h.7M612.2 520.4h.7M593.1 536.5h.7M629.8 491.5h.7M606.5 525h.7M614 507.2h.7M644.5 470.2h.7M618.8 506.7h.7M604.9 522.4h.7M599.8 531.7h.7M636.5 484.6h.7M619.6 504h.7M627.5 496.6h.7M647.6 463.9h.7M622.2 501.1h.7M644.5 468.6h.7M625.6 497.8h.7M608.9 521.2h.7M653.4 461.5h.7M632.1 490.4h.7M644.2 465.5h.7M640.1 472.2h.7M635.1 482.5h.7M643 471.6h.7M622 501.6h.7M654.9 467h.7M592.4 537.7h.7M606.1 525.5h.7M635.1 490.5h.7M618.7 504.6h.7M595.8 535.1h.7M622.4 496.1h.7M645.3 465.3h.7M633.6 485.1h.7M605.8 522.5h.7M639.3 471.4h.7M612.4 513.7h.7M632 488h.7M598.2 532.7h.7M591.9 537.4h.7M609.4 518.8h.7M629.3 497.7h.7M648.2 468.1h.7M643.8 478.4h.7M613.4 510.2h.7M604.2 521.5h.7M604.7 519.3h.7M598.7 525.6h.7M606.1 519.9h.7M632.8 484h.7M609.9 516.6h.7M613.2 508.4h.7M612.4 517.9h.7M633.4 483.8h.7M616.1 509.6h.7M654.8 466.3h.7M601 531.1h.7M637.1 478.6h.7M646.7 473.7h.7M654 461.4h.7M636.9 484.5h.7M637 480.4h.7M636 482.3h.7M640.9 481.2h.7M628.1 496.1h.7M629.9 488.7h.7M592.7 536h.7M639.7 475.2h.7M601.7 528.7h.7M622.5 501.3h.7M626.9 493.2h.7M622 493.7h.7M634.2 495.9h.7M621.7 497h.7M622.5 496.1h.7M605.9 519.1h.7M622.4 498.6h.7M610.2 516.9h.7M611.1 515.9h.7M630.7 487.4h.7M621 501.9h.7M609.4 519.7h.7M631.6 485.8h.7M638 483.6h.7M631.5 492.8h.7M651.6 468.9h.7M601.6 527.8h.7M630.8 489h.7M625.4 498.8h.7M614.9 511h.7M631 495.9h.7M632 488.8h.7M600.9 528.6h.7M613.9 509.2h.7M621.3 505.6h.7M635.8 483.7h.7M614.6 508.2h.7M603.1 526.8h.7M643.1 475.6h.7M638.5 479.9h.7M635.5 486.9h.7M651.8 466.6h.7M626 495.7h.7M614 508.2h.7M604.4 522h.7M639.6 473.7h.7M607.5 517.4h.7M630.2 487.1h.7M591.3 539h.7M598.6 529h.7M629 499.5h.7M624 500.3h.7M627.8 488.9h.7M625.6 500.9h.7M623.1 496.2h.7M613.3 509h.7M639.2 474.8h.7M630 491.2h.7M598.7 530.5h.7M632.4 484.1h.7M590 539.6h.7M611.8 514.8h.7M615.8 512.1h.7M604.2 525.7h.7M651.5 473h.7M646.4 469.1h.7M614.1 514.9h.7M628.8 488.6h.7M595.3 532.2h.7M644.2 477.4h.7M601.5 523.5h.7M652.6 452.5h.7M608.1 512.3h.7M624 496.2h.7M643.3 482.4h.7M632.1 492.7h.7M643.4 479.7h.7M597.8 530h.7M629.9 491.2h.7M611.3 512.8h.7M642.1 474.7h.7M629.2 490.2h.7M637.4 477.7h.7M594.2 536.4h.7M647.8 465.9h.7M628.3 491.8h.7M634.5 482.9h.7M612.7 508h.7M605.2 521.5h.7M650.4 474.5h.7M620.3 499.4h.7M651 473.7h.7M602.6 523h.7M622.1 504.8h.7M609.2 512.7h.7M609.7 514.1h.7M653.4 459.8h.7M626.1 494.7h.7M664.4 467.4h.7M642.7 469.5h.7M627.6 494.2h.7M647.2 466.5h.7M604.9 524.8h.7M600.3 526.9h.7M595.3 535.5h.7M622.8 492.7h.7M645.2 470.2h.7M642.2 471.5h.7M610.8 508h.7M631 481.4h.7M637.1 473h.7M623.8 488.4h.7M605 518.8h.7M644.3 477.6h.7M645.5 466.7h.7M641.2 472h.7M612.7 513.4h.7M597.8 528.6h.7M620.4 500.1h.7M600.9 527.7h.7M624.5 495.8h.7M630 486.4h.7M595.8 534.6h.7M600.1 531.5h.7M627.7 489.6h.7M603.6 521.6h.7M608.4 518.1h.7M631 490.5h.7M611.3 508.4h.7M642.7 471h.7M651.5 468h.7M644.9 465.7h.7M641 483.7h.7M625.3 491.4h.7M599.4 529.7h.7M612.8 510.5h.7M626.9 496.8h.7M596.2 532.1h.7M655.5 461.9h.7M627.9 488.4h.7M596.8 532.8h.7M597.4 529.6h.7M593.3 533.9h.7M622.1 492.8h.7M611.1 515.2h.7M609.2 518.9h.7M636.9 472.8h.7M630.6 488.5h.7M643.4 478.4h.7M624.3 501.6h.7M627.4 495h.7M603.2 521.2h.7M649.5 464.4h.7M631.5 495.7h.7M612.8 511.1h.7M650 455.8h.7M645.9 473h.7M642.4 472.2h.7M650.9 463.3h.7M609.7 514.8h.7M638.6 464.1h.7M632.6 482.8h.7M645.9 464.4h.7M603.8 521.4h.7M617.7 505.4h.7M636.5 495.7h.7M619 498.6h.7M646 472.2h.7M625.6 497.7h.7M604.5 524.3h.7M653 459.4h.7M618.3 504.6h.7M650.5 457.7h.7M601.1 527.5h.7M634.1 482.8h.7M635.6 479.1h.7M647.2 467.3h.7M631.1 493.9h.7M642.5 470.5h.7M591.6 540.3h.7M627.1 486.1h.7M644.5 476.9h.7M597 527.7h.7M597.6 525.3h.7M605.9 520.7h.7M643.8 474h.7M643.2 477.9h.7M609.7 514.3h.7M636.8 477.8h.7M603 523.5h.7M625.4 506.4h.7M621.5 503.4h.7M644.7 477.9h.7M658.9 465.9h.7M622.4 498.5h.7M653.4 465.8h.7M645.4 473.8h.7M620.3 500.5h.7M650.4 466.8h.7M626.8 491.2h.7M618.7 502.5h.7M609.7 510.3h.7M603 524.5h.7M625.1 504.1h.7M632.1 492.4h.7M633.2 482.1h.7M640.3 471.4h.7M638.4 480h.7M647.4 471.8h.7M655.5 471.7h.7M620.1 516.7h.7M676 444.8h.7M602.2 533.8h.7M593.7 535.3h.7M633.2 501.8h.7M670.5 458h.7M649.2 492.3h.7M615.7 514.9h.7M599.9 531.4h.7M652.4 478.4h.7M639.2 479.3h.7M594.8 536.9h.7M649 491.3h.7M643.6 482.6h.7M638 513.7h.7M643.6 489.6h.7M633.1 506.1h.7M602.4 531.5h.7M602 522.9h.7M639.5 465.1h.7M617.1 506.4h.7M627.2 496.3h.7M656.4 480.7h.7M673.1 494.9h.7M612.1 526.5h.7M606 528.9h.7M630.6 486.1h.7M638.9 486h.7M621 506.6h.7M650.3 463.9h.7M645.4 490.8h.7M607.8 522.3h.7M599.7 530.3h.7M638.8 509h.7M606.4 512h.7M643 484.4h.7M665.5 482h.7M654.8 497h.7M655 475.2h.7M608.9 528.5h.7M594.3 537.9h.7M620.3 505.6h.7M598.5 527.7h.7M596.8 538.9h.7M631.1 512.5h.7M646.3 483.2h.7M601.8 529.3h.7M632.8 490.8h.7M597.8 527.8h.7M649.1 498.5h.7M647 495.3h.7M638.3 490.5h.7M619.7 508.9h.7M603.2 528h.7M641.8 503.4h.7M641.9 481.4h.7M611.1 526.6h.7M644.5 491.7h.7M666.3 471.6h.7M639.7 481.5h.7M626.9 505.9h.7M619.4 503.4h.7M659.6 461.1h.7M651.3 465.7h.7M666.5 469.7h.7M647.2 493.7h.7M659.9 482.3h.7M647.4 491.4h.7M593.5 537h.7M597.6 535.1h.7M641.3 504.8h.7M620.1 508.7h.7M657.3 470.2h.7M652 485.4h.7M605.1 520.3h.7M611.1 530h.7M673.7 480.8h.7M655.7 478.3h.7M627.9 494.6h.7M624.4 516h.7M629.7 474.3h.7M597.7 533.5h.7M604.8 526.5h.7M657.5 490.9h.7M670.5 477.3h.7M610.2 528.8h.7M592.2 536.5h.7M620.5 517.1h.7M645.4 489.8h.7M652.6 470.9h.7M608.5 512.6h.7M632.8 505.8h.7M631.8 487.4h.7M602.8 527.2h.7M675.9 451.4h.7M592 536.1h.7M654 485.5h.7M655.1 433.4h.7M636.1 508.3h.7M659.6 459.5h.7M672.2 473.2h.7M654.5 478.6h.7M625.7 505.2h.7M615.7 510.1h.7M649.7 476.8h.7M625.7 510.3h.7M599.8 530.2h.7M646.7 484.8h.7M622.6 500.4h.7M641.8 518.4h.7M656 484.1h.7M632.1 484.1h.7M600.2 528.2h.7M615.1 530.8h.7M636.1 492.2h.7M596.4 530.6h.7M645.7 496.9h.7M604.8 538.3h.7M608.4 527.2h.7M659.3 456.3h.7M602.9 534.5h.7M599.2 532.3h.7M621 519.2h.7M633.6 495.3h.7M653 464.2h.7M669.2 475.5h.7M644 481.7h.7M637.6 492.7h.7M639.3 490.6h.7M600.9 531.6h.7M597.4 532.3h.7M675.5 465.3h.7M601.8 528.7h.7M630.2 504.8h.7M635.8 504h.7M616.6 511.1h.7M606.4 517h.7M596.1 537.2h.7M632.5 491.2h.7M644.7 467.5h.7M644.2 507.4h.7M638.6 480.2h.7M631.8 497.1h.7M641.5 513.8h.7M634.4 508.3h.7M653.3 456.8h.7M620.4 507.3h.7M615.9 506.3h.7M601.2 531.2h.7M608.2 517.4h.7M614.7 519.5h.7M649.4 504.4h.7M636.5 483.2h.7M663.3 462.7h.7M625.2 510h.7M659 473.4h.7M655.6 465.1h.7M652.7 499.5h.7M638.8 473.6h.7M628.4 508.6h.7M642.2 485.7h.7M603.4 531.9h.7M613.5 515.1h.7M626.6 511.2h.7M640 496h.7M624.9 503.5h.7M600.5 532.6h.7M646.9 462.1h.7M599.6 538.7h.7M621.8 505.9h.7M630.1 516.8h.7M626.5 486.7h.7M627.3 511.5h.7M605.8 530.8h.7M610.9 518.9h.7M637.3 493.3h.7M642.9 478.7h.7M629 489.1h.7M616.8 512.7h.7M612.3 515h.7M591.6 537.3h.7M593.8 536.2h.7M611.1 529.4h.7M599.4 526.3h.7M661 465h.7M637.1 510.1h.7M633.7 491.7h.7M639.7 503h.7M624.7 516.4h.7M643.7 480.7h.7M628.8 492.2h.7M612.3 521.3h.7M600.3 536.1h.7M614.3 522.5h.7M636.4 515.8h.7M640.8 479.3h.7M648.2 479.1h.7M642.4 482.5h.7M635.4 497.8h.7M600.9 538.5h.7M620.5 512.6h.7M644 492.3h.7M645.2 493.9h.7M594.1 538.1h.7M619.5 514.9h.7M659.8 456.2h.7M617.7 530.4h.7M625.2 507.1h.7M626.2 505.4h.7M603.8 527.1h.7M625.1 502h.7M629.8 510.8h.7M603.4 529h.7M605.4 517.4h.7M620.7 512.7h.7M612.5 518.1h.7M661 456.2h.7M625.6 503.8h.7M604.9 519.8h.7M616 514.4h.7M639.1 493.4h.7M626.5 504.6h.7M648.7 458.5h.7M651.9 466.8h.7M617.5 512.2h.7M608.2 510.4h.7M596 534.1h.7M640.4 484.9h.7M610.4 525.9h.7M643.7 477.3h.7M651.6 471.3h.7M643 480.4h.7M626.1 510.5h.7M612.4 526.2h.7M646.8 472.5h.7M666.5 472.6h.7M641.9 496.3h.7M611.5 533.4h.7M624.4 507.1h.7M629.3 505.3h.7M639.4 474.8h.7M612.2 516.8h.7M606.3 532.7h.7M603.7 533.9h.7M629.8 493.5h.7M635.6 504.2h.7M618.6 502.4h.7M621.1 503.1h.7M655.2 489.1h.7M639.9 497.3h.7M644.8 482.6h.7M665.5 470.9h.7M630.5 504.2h.7M615.2 522.4h.7M633.9 503.4h.7M622.5 505.2h.7M631.3 490.1h.7M641.4 478.4h.7M612.1 531.5h.7M650.6 492.4h.7M634.4 483h.7M644.6 490.6h.7M629.5 504.1h.7M597.3 534.9h.7M647.6 473.3h.7M669 482.2h.7M640.6 487.8h.7M651 482.5h.7M611.1 517.5h.7M657.1 466h.7M661.6 491.3h.7M625.5 512.4h.7M628.2 510.2h.7M637.2 479.2h.7M651 478h.7M620.1 510.3h.7M595.5 536.8h.7M638.4 506.2h.7M620.4 502.7h.7M605.5 531.5h.7M612.8 522.8h.7M617 514.1h.7M658.7 472.4h.7M675.4 481.5h.7M654 457.9h.7M644.1 499.3h.7M673.9 478.2h.7M626.7 504h.7M674.2 463.5h.7M637 498.8h.7M632.8 498.3h.7M654.2 457.2h.7M594 536.6h.7M610.9 519h.7M610.8 534.4h.7M596.9 541h.7M649.6 485.8h.7M630.6 499.2h.7M640.8 496.1h.7M607.9 522.9h.7M607.2 522.6h.7M661.7 500.7h.7M612.8 516.7h.7M595.2 539.3h.7M598.7 533.9h.7M603.5 532.3h.7M614.5 519h.7M620.6 516.2h.7M639.6 479.1h.7M622 513.1h.7M617 515.3h.7M634.5 496.2h.7M634.2 505h.7M659.4 463.5h.7M652.9 475.4h.7M613.2 519.5h.7M636 492.9h.7M638 480.3h.7M598.9 530.6h.7M594.8 536h.7M657 444.3h.7M621.5 517.9h.7M637 506.9h.7M642.9 477.8h.7M607.5 513.2h.7M602.6 528.9h.7M594 538.2h.7M609.5 511.4h.7M634 503.3h.7M649.3 453.8h.7M650.4 489.3h.7M624.7 498.6h.7M660.8 487h.7M644.8 467.4h.7M608.7 533.8h.7M632.4 512.4h.7M630.6 490.4h.7M609.3 518.4h.7M634.2 500.3h.7M617.9 528.3h.7M614.7 522.2h.7M639.8 489.8h.7M649.2 460.2h.7M656.9 475.4h.7M664.3 486.8h.7M642.5 504.7h.7M662.1 489.9h.7M599.4 534.9h.7M599 536.5h.7M632.3 484.7h.7M650.6 461.5h.7M629.2 492.6h.7M631.9 476.5h.7M637.2 472.5h.7M597.5 528.4h.7M617.7 528.2h.7M599 527.5h.7M609.8 518.1h.7M669.6 459h.7M628.2 516.9h.7M654.4 445h.7M658.8 460.2h.7M664.3 466.9h.7M648.6 487h.7M602.6 529.8h.7M610.5 529.4h.7M597.7 537.5h.7M642 483.9h.7M643.5 504.4h.7M643.2 471.3h.7M639.8 504.3h.7M632.5 491.8h.7M618.8 511.9h.7M617.3 520.7h.7M664.8 452.4h.7M622.8 506.6h.7M651.6 442.7h.7M672.8 472.5h.7M611.2 516.7h.7M658.2 467.5h.7M643.4 474.9h.7M628.7 486.2h.7M598.6 534.9h.7M658.1 454.4h.7M607.2 523h.7M600.2 526.4h.7M598.3 529.5h.7M607.1 535.7h.7M628.1 491.3h.7M609.3 527.3h.7M596.2 540.1h.7M614.5 518.6h.7M592 535.6h.7M645.3 483.3h.7M630.7 487.5h.7M651.1 464.3h.7M648.9 476h.7M626.5 509.3h.7M633.3 491.9h.7M654.1 475.9h.7M641.5 513.4h.7M615.5 514.9h.7M675.3 494.4h.7M656 484.5h.7M661.6 477h.7M653.6 453.1h.7M595.5 531.6h.7M612.4 525.3h.7M599.1 539.4h.7M643.5 487.9h.7M627.1 513.2h.7M652.6 491h.7M640.7 475.1h.7M646.2 490.1h.7M666.2 470.4h.7M593.5 532.7h.7M602 525.5h.7M604.9 532.5h.7M595.4 540.2h.7M612.4 521.2h.7M659.9 459.8h.7M664.4 452.9h.7M656.1 459.6h.7M630.2 500h.7M595.2 538.3h.7M605.8 521h.7M640.3 480h.7M610.6 511.1h.7M647.2 461.7h.7M603.2 526.3h.7M605.3 531h.7M662 474.8h.7M652.5 468.6h.7M629.6 489.7h.7M649.8 444.3h.7M668.2 453.4h.7M652.9 460.1h.7M657.5 450.3h.7M665.2 469.9h.7M651.8 466.5h.7M670.6 486h.7M660.4 459h.7M671.4 446.7h.7M647.1 455.4h.7M652.5 474.4h.7M664.4 462.3h.7M654.7 447.2h.7M659.1 448h.7M668.1 463.5h.7M673.3 490.6h.7M675 459.8h.7M651.7 478.9h.7M659.4 483.8h.7M644.8 454.6h.7M648.8 475h.7M647.8 449.5h.7M648.1 473.1h.7M648.5 450.7h.7M675 455.9h.7M673.4 450.6h.7M646.1 505.5h.7M669.5 482.4h.7M655.5 448.7h.7M650.1 449.9h.7M647.2 496.1h.7M668.8 485.9h.7M663 468.7h.7M654.7 450.1h.7M665.5 469.1h.7M674.9 469.1h.7M676.3 480.6h.7M655.6 512.3h.7M669.4 486.2h.7M659.1 491.8h.7M645.3 492.9h.7M644.8 456.1h.7M666.9 463.4h.7M663.2 508.9h.7M657.4 487.1h.7M661.2 465.6h.7M647.4 481.7h.7M655.9 460.9h.7M647.8 497.9h.7M645.8 490.3h.7M656.7 504.4h.7M650.9 471.6h.7M653.1 491.2h.7M663.7 464.9h.7M667.8 456.3h.7M646.8 482.8h.7M653 502h.7M658.5 484.5h.7M674.7 500.5h.7M653 472.1h.7M657.3 494h.7M674.8 480.7h.7M660.1 467.4h.7M671.1 501.5h.7M654.7 447.7h.7M676.1 459h.7M675.5 464.8h.7M658.6 469.3h.7M676.4 443h.7M664.8 450.5h.7M657.2 460h.7M659.4 463.1h.7M662.6 503.2h.7M656.5 512.3h.7M651.7 479.8h.7M664.1 456.9h.7M663.1 477.9h.7M666.9 500.2h.7M671.8 495.6h.7M645.4 491.2h.7M671.5 505h.7M649.7 482.7h.7M675.9 500.3h.7M670.8 496.9h.7M669.6 509.3h.7M656.4 450.5h.7M644.6 451.1h.7M669.2 512.5h.7M654.9 447.6h.7M649.7 482.5h.7M652.2 475.9h.7M662.2 504.2h.7M647.7 493.3h.7M671.8 508.4h.7M655.1 479.2h.7M651.3 450h.7M644.6 486.2h.7M650.6 468.1h.7M662.8 496.1h.7M646.1 488.8h.7M660.8 488.1h.7M672.6 509.3h.7M666.3 464.3h.7M670.6 446.5h.7M655.5 486.9h.7M660.8 497.9h.7M656.5 494.8h.7M655.1 489.2h.7M656.8 454.8h.7M652.3 468.6h.7M651.6 463.7h.7M653.9 454.5h.7M670.6 466.2h.7M647.3 499.1h.7M667.3 457.9h.7M669.6 494h.7M646.2 476.4h.7M665.8 463.5h.7M645.5 481.1h.7M663.5 460.4h.7M664.8 507.9h.7M664.5 459.2h.7M652.8 485h.7M670 492.6h.7M648 477.4h.7M656.9 488.1h.7M671.2 489.9h.7M657.6 478.8h.7M653.5 449.8h.7M668.6 466h.7M669.4 475h.7M658.1 478.3h.7M664.5 469.6h.7M662.8 467.9h.7M668.5 484.5h.7M657 505.1h.7M666.4 508h.7M651.4 486.4h.7M648.3 509h.7M665.4 479.5h.7M650.9 505.9h.7M670.3 486.2h.7M675.2 444.1h.7M653.6 464.5h.7M663.5 508.3h.7M644.5 484h.7M674.6 461h.7M674.2 512.7h.7M657.6 463.4h.7M671.7 484.9h.7M674.7 482.2h.7M675.2 460.6h.7M650 512.4h.7M649.2 494h.7M676.1 445.5h.7M665.7 462.2h.7M652.5 465.3h.7M655.1 475.3h.7M654.1 465.4h.7M657.6 501.2h.7M674.3 489.7h.7M645.5 505h.7M668.5 484h.7M670 449.2h.7M671.5 508.3h.7M647.2 512.9h.7M674.3 481h.7M653 457.3h.7M646.4 487.1h.7M645.6 483h.7M647.2 499.5h.7M658.9 510.5h.7M658.7 445.8h.7M674.5 468h.7M652.1 489.7h.7M658.9 501.9h.7M669.9 452.7h.7M653.5 501h.7M649.6 474.3h.7M665.9 506h.7M650 503.2h.7M674.9 452.4h.7M653.3 479.1h.7M666.8 477.9h.7M665.8 453.9h.7M660.5 473.8h.7M666.2 452.4h.7M657.3 465.7h.7M660.1 448.6h.7M649.8 498.3h.7M650.9 451.5h.7M657.5 501.2h.7M649 442.6h.7M669.1 442.8h.7M656.5 506h.7M646.3 466.7h.7M648.4 478.9h.7M655.8 447.8h.7M673.3 474.3h.7M674.5 468.9h.7M675.8 508.2h.7M676.6 468.3h.7M661.1 494.7h.7M649.7 460.3h.7M647 455.6h.7M667.5 443.9h.7M672.9 448.2h.7M659 482h.7M650.3 503.4h.7M662.8 497.9h.7M647.2 475.8h.7M657 452h.7M666.9 467.2h.7M666.3 468.6h.7M670.2 472.1h.7M647.4 490.8h.7M671.1 501.1h.7M655.9 485.8h.7M670 480h.7M644.6 460.4h.7M656.6 488.7h.7M668 490.7h.7M648.7 506.1h.7M664.9 491h.7M647 477.2h.7M652.5 474.4h.7M662.5 502.5h.7M666.6 481.8h.7M650.4 495.1h.7M654.4 462.2h.7M649.7 502.4h.7M647.6 489.5h.7M676 458.2h.7M656.6 481.7h.7M663.8 474.9h.7M668.3 492.7h.7M672.4 493.6h.7M648.8 462.7h.7M656.8 489.5h.7M657.6 481.3h.7M650.6 451.3h.7M652.7 465.7h.7M673.5 484.7h.7M672.6 509.4h.7M675 456.5h.7M667.2 453.5h.7M645.8 450h.7M656.3 452.9h.7M667 477.6h.7M651.6 495.5h.7M651.7 484.4h.7M669 470h.7M672.6 488.2h.7M670.8 450h.7M654.3 478.8h.7M671.3 475.8h.7M673.9 469.1h.7M650.3 502h.7M664 472.1h.7M673.7 454.8h.7M670.9 466h.7M666.2 458h.7M663.1 460.9h.7M674.7 455.2h.7M651.1 463.8h.7M675.9 477.4h.7M661.2 493.7h.7M652.2 491.2h.7M674.1 470.5h.7M673.6 445.6h.7M666.3 491.3h.7M645.9 446.7h.7M652.2 495.4h.7M666.9 498.1h.7M654.3 467.2h.7M644.7 451.3h.7M675.8 511.2h.7M660.1 445.2h.7M649 476.6h.7M644.3 464.6h.7M654.6 467.5h.7M676.4 456.4h.7M669.6 483.8h.7M674 511.4h.7M645.2 444.8h.7M646.5 496.1h.7M660.7 480.6h.7M671.9 455.7h.7M644.6 491.7h.7M645 511.3h.7M648.6 495.4h.7M675 455.1h.7M675 496.5h.7M647.7 476.3h.7M654.4 497.9h.7M671.7 491.1h.7M673.7 504.3h.7M655.9 461.9h.7M673.7 445.4h.7M670.5 503.3h.7M669.2 457h.7M663.2 501.8h.7M647.9 454.7h.7M647.1 505.3h.7M669 470.8h.7M651.7 509.8h.7M651.2 453.8h.7M665 500.8h.7M661.6 458h.7M658.9 485h.7M657.7 478.5h.7M662.9 448.5h.7M662.9 479h.7M659.6 508.1h.7M660.1 492.1h.7M672.8 447.2h.7M674.6 459.2h.7M671.7 484.8h.7M648.3 491.5h.7M658.4 503.2h.7M619.6 501.9h.7M622.8 495.8h.7M621.1 505.6h.7M630.9 498.8h.7M619.5 510.7h.7M620.6 498h.7M622.5 495.2h.7M618.4 500.9h.7M617.2 498h.7M628 486.6h.7M620 499.5h.7M626.9 504.3h.7M623.5 510.1h.7M624.7 493.4h.7M616.3 503.4h.7M625.8 500.2h.7M618.9 505.8h.7M628.2 502.9h.7M625.8 513.1h.7M625.3 505.1h.7M624.2 502.1h.7M635.3 499.9h.7M617.5 501.3h.7M619.6 499.3h.7M630.7 512.7h.7M615.5 501.8h.7M620.5 483.3h.7M618.7 503.3h.7M621.6 497.4h.7M623.6 483.2h.7M617 515.3h.7M614.8 499.1h.7M631.8 498.2h.7M615.7 513h.7M625.9 513.8h.7M621.3 502.6h.7M609.9 498.9h.7M628.9 508.3h.7M618.4 499.3h.7M631.5 504.5h.7M620.4 508.4h.7M623.9 499.9h.7M611.9 510.6h.7M621.1 489.7h.7M632.9 509.7h.7M614.2 507.3h.7M617.5 499.6h.7M618 500.5h.7M618.8 521.9h.7M629 488.4h.7M626.6 499.9h.7M617.7 498.5h.7M625 493.1h.7M626.3 502.4h.7M629.4 503.2h.7M626.6 477.5h.7M621.2 503.1h.7M616 507.8h.7M631 492.2h.7M613.9 507.3h.7M618.8 516.8h.7M622 510.5h.7M612.6 503.7h.7M619.4 507.3h.7M626.3 498.1h.7M615.1 491.4h.7M627.6 495.2h.7M625.9 499.1h.7M622.4 499h.7M621.5 494.4h.7M614.4 512.4h.7M623.4 490.3h.7M617.3 501h.7M617.5 506h.7M625.9 507.3h.7M612.6 484.7h.7M620.6 504h.7M622.4 499.5h.7M615.5 497.9h.7M617.3 508.9h.7M620.5 503.7h.7M618.5 508.4h.7M626.9 497.3h.7M616.7 500.4h.7M621.1 507.9h.7M619.4 500.9h.7M631.9 513.3h.7M636.8 496.5h.7M621.8 499.2h.7M620.2 491.2h.7M612.5 501.3h.7M618.9 497.9h.7M620.5 491.7h.7M616.1 504.1h.7M621.4 497.2h.7M639.2 516.3h.7M622.3 494.6h.7M610.5 495.5h.7M623.8 494.4h.7M625.9 502.8h.7M619.7 498.9h.7M620.4 487.8h.7M615.3 506.4h.7M617.4 495.5h.7M615.3 509.1h.7M623.6 496.2h.7M629.5 502.4h.7M625 502.5h.7M621.6 498.9h.7M616.6 497h.7M618.4 496.3h.7M622.6 491.8h.7M620.4 491.2h.7M633.7 499.6h.7M619.8 510.8h.7M619.1 496.3h.7M621.8 509.1h.7M624.8 509.4h.7M620 509.3h.7M617 507.6h.7M624.4 518.6h.7M616.4 515.8h.7M624.8 500.7h.7M620.7 513.9h.7M616.5 505.3h.7M631.8 491.9h.7M616 492.9h.7M622.9 487.1h.7M631.3 505.9h.7M628.5 501.2h.7M620 492.3h.7M622.3 501.6h.7M622.4 487.4h.7M616.5 503.1h.7M620.2 499.7h.7M621.1 490.1h.7M622.7 496.4h.7M628.2 502.3h.7M626.2 500.6h.7M622.2 498.5h.7M617.9 493.2h.7M620.1 509.8h.7M622.5 496.3h.7M619.1 500.5h.7M613 499.3h.7M616.7 521.9h.7M618 507.6h.7M617.4 497.7h.7M620 500.3h.7M612.3 491.2h.7M624.6 493.7h.7M626.1 495.6h.7M620.2 490.8h.7M618.7 484.7h.7M627 515.6h.7M622.8 493h.7M622.9 495h.7M613.8 505h.7M622.2 490.4h.7M625.2 505.5h.7M615.6 501.5h.7M614.9 504.2h.7M626.1 512.5h.7M621.8 495.2h.7M618.5 513.7h.7M618.3 505h.7M622.4 505h.7M616.8 496.2h.7M616.5 501h.7M618.4 506h.7M619.2 488.1h.7M616.7 501.1h.7M622.9 495.8h.7M615.1 503.6h.7M619.5 514.7h.7M618.7 506.6h.7M617.6 492.6h.7M621.8 500.3h.7M624.7 505.5h.7M609.6 502.5h.7M617.8 500h.7M618.9 491.8h.7M626.3 480.6h.7M619.7 493.7h.7M612.4 489.1h.7M616.2 490.2h.7M618.2 499.3h.7M617.5 483.1h.7M620.7 502.6h.7M617.1 503.8h.7M621.2 492.9h.7M625.9 502.5h.7M623.7 499.9h.7M625.7 503h.7M618 488.6h.7M617.4 492.8h.7M614.2 506h.7M626.9 506.4h.7M625.5 494.2h.7M625.2 493h.7M613.5 497.2h.7M616.9 503.2h.7M622.3 501.3h.7M623.5 495.4h.7M614.7 504h.7M627.2 505.9h.7M617.5 507h.7M619.4 500.1h.7M619.5 499.3h.7M627.5 508.3h.7M624.8 492.3h.7M629.8 493.9h.7M624.6 474.5h.7M621.2 507.8h.7M620.2 495h.7M612.8 503.8h.7M625.3 508.6h.7M618.7 512.5h.7M625.1 511h.7M623 510.7h.7M620.9 503.8h.7M615.8 485.9h.7M620 499.8h.7M615.2 497.6h.7M617.6 505.3h.7M617.7 501.3h.7M633.8 490.5h.7M618.7 516h.7M615.5 505.4h.7M615.9 498.7h.7M620.9 505h.7M623.5 495.7h.7M618.3 500.8h.7M623 493.6h.7M618.6 494.9h.7M623.6 511.2h.7M605.9 496.5h.7M621.9 498h.7M609.1 508.1h.7M625.4 502.1h.7M615.6 499.9h.7M617.3 498.4h.7M622.9 509.1h.7M623.2 498.1h.7M616.7 506.1h.7M612.7 493.4h.7M621.8 494.9h.7M620.3 498.7h.7M622.1 507.7h.7M619.5 499.7h.7M624.2 509.7h.7M623 497.9h.7M627.1 494.8h.7M617.8 499.4h.7M625 493.9h.7M616.5 507.6h.7M632.6 498.9h.7M616 492.3h.7M625.9 499h.7M628.4 495.1h.7M617.7 501.8h.7M617.3 499h.7M624.3 497.1h.7M613.4 496.3h.7M624.3 502.1h.7M624.8 500.8h.7M620.9 501.6h.7M620.7 499.4h.7M608.8 510.4h.7M629 503.1h.7M624.2 497.5h.7M620.3 512.7h.7M615.1 512.4h.7M626.2 487.8h.7M621.4 510.6h.7M619.4 505.9h.7M612.7 507.5h.7M622.9 511.3h.7M614.9 502.7h.7M623.2 499.3h.7M621.2 512.1h.7M620.6 492.8h.7M620.8 498.2h.7M617.3 509.3h.7M620 494.6h.7M613.8 500.8h.7M626 504.5h.7M623.2 491.6h.7M624.4 497.1h.7M625.9 510.6h.7M619.9 490.1h.7M625.1 502.7h.7M619.5 495.4h.7M616.3 502.8h.7M619.8 508.8h.7M609.2 500.9h.7M628.2 506.3h.7M613.6 506.1h.7M616.9 495.8h.7M616.4 492.2h.7M619 503.5h.7M617.9 494.9h.7M620.5 493.1h.7M618.6 497.7h.7M624.8 500.8h.7M634.8 501.2h.7M626.4 500.9h.7M619.8 486.1h.7M623.5 495.2h.7M618.9 502.3h.7M624.7 486.4h.7M620.8 502.2h.7M615.6 498.4h.7M619.5 504.8h.7M615.3 496.3h.7M624.8 500.1h.7M613.7 512.1h.7M622.3 501.9h.7M617.2 511.2h.7M614.8 498.9h.7M625.1 500.4h.7M618.2 507h.7M622.7 500.9h.7M615.6 502.1h.7M617.5 507.2h.7M618.4 512h.7M632.3 517.4h.7M621.1 499h.7M615.7 497.4h.7M619.7 483h.7M616.5 493.1h.7M614.6 498.4h.7M631.8 496.4h.7M633.5 496.4h.7M616.3 505.1h.7M621.9 514h.7M620.7 505.4h.7M618.8 492.6h.7M621.6 515.6h.7M624.4 501.7h.7M619 496.8h.7M631.5 502.7h.7M619.6 492.7h.7M616.6 499h.7M624 505.3h.7M605.9 496.5h.7M626.3 510.3h.7M629.7 510.8h.7M623.6 499.8h.7M622.5 505.9h.7M621.2 503.2h.7M621.2 504h.7M622.5 504.4h.7M618.6 499h.7M624.1 494h.7M619 504.7h.7M629.8 497.8h.7M611.4 495.9h.7M627.4 497.2h.7M627 485.8h.7M612.7 498h.7M621.8 512.5h.7M612.6 501.1h.7M624.8 508.7h.7M620.9 504.7h.7M618.2 507.3h.7M625.8 501h.7M627.4 501.8h.7M616.6 506.6h.7M626.6 500.9h.7M622.5 498.3h.7M623.5 495.4h.7M615.5 514.4h.7M623.5 492.9h.7M618.9 495.4h.7M624.2 497.3h.7M614.4 498.8h.7M609.1 498.8h.7M611.8 494.9h.7M624.3 512.2h.7M624.7 507.9h.7M608 495.1h.7M624.4 508h.7M618.8 495.8h.7M624.7 493.3h.7M617.6 492.9h.7M609.6 502.8h.7M626.2 506.2h.7M616.4 506.6h.7M614.9 478.9h.7M651.3 501.2h.7M646.5 497.4h.7M653.6 500.2h.7M659.6 494.7h.7M650 499.9h.7M657.7 499.7h.7M651.5 497.8h.7M659.6 502.4h.7M655.9 499.9h.7M657.8 502h.7M654.8 497.4h.7M652.5 500.3h.7M646.4 495.6h.7M648.8 500.9h.7M659.9 502.9h.7M654.1 492.9h.7M661.1 501.5h.7M658.1 500.5h.7M656.3 504.5h.7M651.6 502.3h.7M644.5 503.4h.7M656.3 499.3h.7M657.4 512.7h.7M655.6 499.8h.7M650.5 499.6h.7M651.1 503.9h.7M652.6 500.4h.7M655.6 500.6h.7M654.1 500.2h.7M651.9 501.3h.7M654.8 498.3h.7M651.4 507.7h.7M653 506.6h.7M658 496h.7M654.9 497.7h.7M653.4 500.3h.7M660.8 497.5h.7M659 495.7h.7M654.3 501.5h.7M654.4 490.8h.7M652.4 493.4h.7M654.6 499.5h.7M650.7 504.2h.7M657.1 497.2h.7M664.7 499.6h.7M658.2 498.1h.7M647.5 504.6h.7M656 490.7h.7M654 498.8h.7M656.5 500.5h.7M654.6 505.4h.7M650.8 497.5h.7M652.2 500.1h.7M652.4 497.8h.7M650 495.5h.7M654.4 496.3h.7M653.4 503.6h.7M655.5 504.2h.7M646.2 496.3h.7M652.2 499.9h.7M653.8 496.5h.7M655.9 500.6h.7M649 501.1h.7M648.9 507.2h.7M652.6 499h.7M657.2 495.1h.7M646.8 497h.7M659.3 502.4h.7M649 496.2h.7M658.5 507.6h.7M648.9 498h.7M653.3 490.9h.7M655.6 502.7h.7M654.5 495.8h.7M653 501.5h.7M651.5 497.5h.7M652.6 503.6h.7M659 502.2h.7M653.4 500.7h.7M654.9 495.4h.7M658.6 496.1h.7M654.1 494.7h.7M651.3 503h.7M651.3 492.7h.7M644.5 494.6h.7M650.8 498.7h.7M648.4 498.2h.7M650 500.3h.7M653.3 495.7h.7M650.1 498h.7M653.9 495.9h.7M655.8 496.3h.7M648.6 501.3h.7M647.8 505.3h.7M652 498.2h.7M660.4 494.1h.7M658 499.6h.7M654.4 504.4h.7M660.1 501.2h.7M655.3 498.1h.7M649.1 493.5h.7M657.3 499.1h.7M649.8 497.8h.7M655.2 497.8h.7M654.7 502.1h.7M658.4 494h.7M652 499.7h.7M653.6 501.6h.7M646.4 494.2h.7M657.6 506.9h.7M653.3 493.8h.7M646.8 501.9h.7M660.6 503.2h.7M651.5 501.1h.7M646.6 495.2h.7M652.1 495.5h.7M647 504h.7M655.8 492.5h.7M663.1 506.7h.7M653.9 499.6h.7M646.4 504.5h.7M652.1 503.6h.7M654.9 498.4h.7M651.8 492h.7M654 498.8h.7M650.7 488h.7M648.1 499.9h.7M655.7 507.7h.7M648.6 495.6h.7M654.1 497.3h.7M648.1 502.1h.7M656.4 496.4h.7M650.6 505.9h.7M652 492.2h.7M654.1 489.2h.7M653.1 497.5h.7M652.1 497.2h.7M659 495.1h.7M650.6 498.8h.7M653.2 498.7h.7M654.1 497.4h.7M648.7 496.8h.7M657.6 500.2h.7M656.4 494.4h.7M659.4 503.5h.7M650.7 494.9h.7M651.8 506.8h.7M659.5 488.4h.7M658.6 505.5h.7M650.6 501.9h.7M652.3 500.9h.7M656.6 496.6h.7M645.3 503.6h.7M654.7 490.7h.7M658.1 504h.7M647.7 500.8h.7M650.7 498.9h.7M658.4 500.6h.7M654.7 497.4h.7M656.3 502.2h.7M658.4 505.7h.7M651.1 500.3h.7M646.1 504.6h.7M647.7 501h.7M646.5 500.1h.7M645.3 500.3h.7M655.2 495.5h.7M658.4 502.2h.7M648.4 494.7h.7M659.2 492.2h.7M658.8 501h.7M647.8 493.7h.7M655 499.6h.7M652.4 503.8h.7M657 494.1h.7M648.9 494.8h.7M650 495.4h.7M655.6 488.5h.7M658.6 501.8h.7M650.6 502.5h.7M655.2 496.6h.7M659.4 498h.7M652.6 501.3h.7M650 504.8h.7M659 494.4h.7M656.9 505.3h.7M653.5 505.1h.7M659.7 500.4h.7M658.5 505h.7M652.9 497.4h.7M661.6 495.8h.7M659.5 498.2h.7M656.2 499.4h.7M651 501.7h.7M656 496.1h.7M655.2 496.9h.7M654.4 494.4h.7M649.7 506.4h.7M658 498.3h.7M654.9 499.7h.7M653.7 506h.7M654.8 496.6h.7M647.2 492.2h.7M660.2 501.2h.7M657.4 501.7h.7M650.9 496.7h.7M652.6 489.3h.7M646.1 496.5h.7M649.2 497.2h.7M655.2 507.7h.7M658.8 495h.7M649.2 500.8h.7M652.4 499.8h.7M653.8 501.4h.7M645.1 499.6h.7M646.3 503.1h.7M651.5 495.6h.7M656 502.4h.7M653.4 503.1h.7M648.4 500.8h.7M655.6 497.8h.7M656.8 502.6h.7M660.4 497.3h.7M649.3 496.1h.7M655.1 500.5h.7M654.1 494.2h.7M652.8 504.1h.7M656.6 495.1h.7M655.1 496.5h.7M653.9 495.9h.7M651.2 496.2h.7M652 494.7h.7M657 498h.7M656.1 499.1h.7M652.8 492.5h.7M648.1 497.5h.7M648.1 501.7h.7M651.2 494.3h.7M652.1 500.2h.7M652.1 507.6h.7M657.8 498.6h.7M650.4 492.4h.7M655.2 503.5h.7M652.7 495.4h.7M652.8 495.6h.7M652.8 501.2h.7M652.2 501h.7M657 494.1h.7M649.1 499.1h.7M641.6 503.2h.7M651.7 499.3h.7M656.1 490.4h.7M657.9 501.4h.7M643.2 493.8h.7M662.2 501.9h.7M657.9 498.6h.7M657.7 491.1h.7M649.7 506.8h.7M657.4 497.8h.7M655.8 495.7h.7M647.6 502.9h.7M652 499.7h.7M655.6 500.8h.7M658.2 496.6h.7M651.4 502.4h.7M658.1 493.7h.7M646.9 495.7h.7M653.9 500.1h.7M648.8 500.1h.7M660 488.6h.7M654.5 499.6h.7M651.6 501.4h.7M656.7 493.2h.7M653.8 501.9h.7M652.7 500.9h.7M655.8 504.6h.7M656 502.2h.7M659 499.7h.7M660.5 493.3h.7M654.6 500.3h.7M654.6 496.1h.7M655 494.7h.7M651.6 494.8h.7M656.7 499.4h.7M649.1 491.6h.7M652.4 499.3h.7M661.4 503.5h.7M646.9 504.3h.7M656 509h.7M658.6 505.2h.7M651.3 494.8h.7M655.4 501.8h.7M657.8 489.8h.7M651.3 492.4h.7M657.5 501.5h.7M657.4 499.1h.7M644.8 499.6h.7M655.1 496.7h.7M655 498.3h.7M655.8 495.1h.7M647.3 503.1h.7M665 492.7h.7M649.4 500.5h.7M651.7 503.8h.7M653 502.5h.7M649.6 496.2h.7M654.2 496.6h.7M645.1 502.9h.7M661.4 495.6h.7M647 507h.7M653.5 504h.7M653.9 505h.7M650.3 508.3h.7M649.5 502.9h.7M657.1 493.4h.7M656.3 496.9h.7M655.5 502.1h.7M645.1 503h.7M648.2 502.8h.7M658.7 495.3h.7M646 501.2h.7M657.6 495.9h.7M652 500.2h.7M658.7 494.8h.7M651.6 497h.7M648.2 496.2h.7M653.9 500.3h.7M660 502.5h.7M650.6 498h.7M651.9 484.4h.7M656.6 502h.7M652.1 506.7h.7M651.1 494.8h.7M649.3 501.1h.7M658.7 504.2h.7M647.2 501.5h.7M644.5 498.9h.7M645 500.1h.7M655.6 506.5h.7M651.7 502.6h.7M652.6 499.1h.7M647.2 490.7h.7M661.4 494.5h.7M652.2 499h.7M651.5 500.8h.7M657.3 501.8h.7M658.7 514.8h.7M654.5 503.3h.7M656.2 497.7h.7M657.5 496.7h.7M648.2 501.7h.7M659.7 493.5h.7M656.9 502.3h.7M650.6 495.2h.7M641.7 497.2h.7M656.8 504.5h.7M663.2 501.1h.7M651.6 504.3h.7M658.1 488.2h.7M654.7 496.7h.7M658.3 474.6h.7M653.9 467.3h.7M650 456.6h.7M649.3 486.7h.7M652.4 466.6h.7M646.9 477.9h.7M651.5 470h.7M648.3 478.2h.7M643.6 466.6h.7M648.6 467h.7M654.2 478.5h.7M647.8 476.3h.7M648.8 465.2h.7M647.8 466.9h.7M651.6 470h.7M646.1 457.3h.7M651.4 478.3h.7M647.2 475.3h.7M655 467.4h.7M654.4 468h.7M649.3 463.2h.7M647.6 468h.7M658.3 465.2h.7M650.9 470.4h.7M648.8 466.9h.7M648.9 463.9h.7M645.1 466.2h.7M654.9 470.9h.7M647.7 480.7h.7M650.4 470.9h.7M647.8 477.9h.7M648.5 462.6h.7M641.5 461.9h.7M650.4 467h.7M646.6 471.4h.7M649.3 462h.7M649 470.3h.7M646.2 472.8h.7M658.6 468.5h.7M654.4 471.8h.7M647.9 474.1h.7M652.4 479.9h.7M655.1 481.2h.7M648.7 466.3h.7M654 458.1h.7M652.8 475.7h.7M651.6 457.8h.7M646.5 456.6h.7M653.6 464.7h.7M648.8 474.6h.7M653.8 464.2h.7M648.3 470.1h.7M652.9 475.1h.7M656.3 466.6h.7M646.1 462.4h.7M651.5 472h.7M653.3 464h.7M643.5 463.9h.7M647.7 478.1h.7M648.7 474.8h.7M651 469.7h.7M649.8 460.9h.7M652.5 481.8h.7M651.2 462.6h.7M648.2 462.5h.7M651.1 465h.7M651 479.2h.7M647.9 448.9h.7M654.3 470.6h.7M650.5 491.9h.7M646.3 471.5h.7M646.3 473.8h.7M656 466.9h.7M651.5 467.1h.7M647.1 479.7h.7M648 464.5h.7M652.3 476.5h.7M652.6 461.6h.7M644.7 475.3h.7M656.7 462.8h.7M651 470.1h.7M651.3 483.2h.7M648.7 473.6h.7M651.3 467.9h.7M653.1 477h.7M650.5 478.6h.7M647.4 469.7h.7M647.4 474.5h.7M650.5 477.9h.7M654.4 476.8h.7M652.5 475.4h.7M656.6 458.8h.7M653.1 471.7h.7M645.5 467.8h.7M646.7 472.9h.7M652.1 472.6h.7M646.2 465.9h.7M650 465.8h.7M646.5 458.6h.7M649.4 477.4h.7M648.8 472.4h.7M645.1 466h.7M656.2 460.9h.7M659.1 467.2h.7M643.9 470.3h.7M650.4 475.5h.7M653.9 468.4h.7M652.3 475.5h.7M653.8 484h.7M653.5 472h.7M651.4 476.9h.7M645.4 477.5h.7M649.9 466.8h.7M654.4 479.1h.7M645.9 468.5h.7M647.9 456.9h.7M653.3 471.7h.7M643.9 476.6h.7M655.9 467.1h.7M649 472.1h.7M656 464.5h.7M652.7 479.6h.7M650.5 470.8h.7M647.7 466.6h.7M649.5 462.6h.7M651.6 489.1h.7M653.4 465.6h.7M649.8 468.2h.7M644.4 487.5h.7M641.1 467.6h.7M649.3 464.3h.7M654.4 465.1h.7M646.1 473.4h.7M650.2 455.5h.7M648 468.8h.7M659.3 471.6h.7M660.7 465.1h.7M647.2 475.8h.7M656.2 456.8h.7M651.1 461.7h.7M652.1 464.1h.7M651.8 471.2h.7M646.7 483h.7M653.5 465.9h.7M645.8 466.9h.7M646.5 467.4h.7M655.5 460.3h.7M652.3 479.3h.7M648.2 477.2h.7M654.4 490.6h.7M648.4 474h.7M648.5 462.4h.7M653.6 482.4h.7M646.5 466.4h.7M643 472h.7M653.8 466.8h.7M651.4 467.9h.7M646.8 467.4h.7M655.5 482.5h.7M650 466.7h.7M643.5 478.1h.7M654.3 464.9h.7M651.5 473.5h.7M651.8 485.9h.7M649.3 480h.7M655.8 479.3h.7M651.2 476.4h.7M650.8 483.5h.7M657.4 465.3h.7M652.5 471.2h.7M648.2 464.4h.7M661.2 476.4h.7M648.9 478h.7M649.6 480.3h.7M650.4 459.9h.7M653.4 476.7h.7M643.6 476.9h.7M652.3 473.8h.7M650 486h.7M652.1 456.1h.7M650.7 474.6h.7M651 478.1h.7M649.6 467.6h.7M645.1 474.7h.7M654.8 471.1h.7M647.8 467.6h.7M650.8 460.4h.7M650.3 455.2h.7M647.2 478.6h.7M653.1 470.7h.7M652.2 474.3h.7M644.4 466.9h.7M657.1 469.9h.7M651.5 466.9h.7M648.9 471.7h.7M648.9 468.6h.7M658.6 465.3h.7M663.5 482.5h.7M639.8 469.1h.7M658.1 472.5h.7M646.7 472.7h.7M652.7 468h.7M644.1 476.5h.7M648.7 481.5h.7M653.7 472.5h.7M644.8 473.4h.7M650 489.4h.7M647.5 469.4h.7M647.1 469.9h.7M648.6 480.9h.7M657 469.6h.7M650.5 474.7h.7M639.9 476.1h.7M646.1 463.3h.7M651.5 458.1h.7M649 470.1h.7M651 482.1h.7M647.2 472.9h.7M652.5 471.9h.7M649.9 463.1h.7M638.8 464.8h.7M652.2 462.9h.7M650.9 487.1h.7M653.5 471.3h.7M652.1 467.2h.7M654.7 470.9h.7M650.1 452.8h.7M647.3 463.8h.7M649.1 457.7h.7M654.4 480.8h.7M651.4 480.6h.7M650 466.2h.7M644.2 475.6h.7M650.2 476.3h.7M649.5 463.3h.7M646.4 471.5h.7M652 472.8h.7M648.9 481.4h.7M650.5 466.4h.7M647.7 467.1h.7M650.9 470h.7M651 466.7h.7M652.4 476.5h.7M653.6 475.9h.7M647.1 471.1h.7M647 476.8h.7M651.1 470.8h.7M649.4 462h.7M650.8 492.3h.7M651.4 463.7h.7M652.3 468.3h.7M649.9 469.4h.7M648.6 478.5h.7M645.4 467.6h.7M653.4 480.2h.7M651.4 483.1h.7M658 453.5h.7M644.2 469.3h.7M644.4 477.5h.7M650.7 465.1h.7M650.8 475.8h.7M654.9 459.5h.7M655.5 466.1h.7M647 476h.7M650.7 461.6h.7M649.2 464.2h.7M652.4 487.6h.7M646.4 483.2h.7M649.5 462.7h.7M658 472.3h.7M651.3 465.9h.7M655 467.7h.7M650.3 475h.7M655.7 476.5h.7M651.5 470.7h.7M647.2 479h.7M655.7 476.1h.7M653.4 470.7h.7M650.9 461.8h.7M655.5 487.9h.7M645.7 462h.7M651.9 478.2h.7M646.3 473.1h.7M650.8 466.8h.7M649.4 471.8h.7M649 479.9h.7M653.1 456.9h.7M653.5 462.1h.7M643.4 479.3h.7M649.3 471.6h.7M652 462h.7M657.5 463.3h.7M660 474.3h.7M652 471.1h.7M649.8 463.8h.7M649.4 466.2h.7M651.5 464.1h.7M652.8 464.6h.7M648.6 478.4h.7M649.8 478.8h.7M650.8 460.2h.7M645.6 463h.7M642.3 471h.7M654.1 479.3h.7M644.8 468.1h.7M648.2 456.6h.7M641.9 469.4h.7M651 467.8h.7M644 481.6h.7M650.8 471h.7M646.7 463.6h.7M658.3 487.3h.7M653.2 464.8h.7M642.5 469.3h.7M647 470.6h.7M652.8 463.6h.7M650 469.2h.7M649.4 455.9h.7M645.9 467.8h.7M647.2 475.5h.7M654.1 469h.7M658.8 477.4h.7M653.6 468.2h.7M649 473.8h.7M645.3 471.7h.7M645.3 467.3h.7M655.2 470.4h.7M649.3 476.3h.7M644.4 474.1h.7M649.8 468.6h.7M650.5 472.7h.7M651.3 455.2h.7M646.9 476.5h.7M645.1 480.9h.7M649.1 461.5h.7M662.5 476.3h.7M653.8 464.9h.7M651 460.2h.7M650.3 471.7h.7M654.1 471.9h.7M653.8 476.8h.7M658.6 477.6h.7M648.5 475.9h.7M645.2 469.3h.7M652.6 475.5h.7M650 463.6h.7M650.7 455.7h.7M654.2 476.2h.7M645.2 472h.7M650.4 468.1h.7M653.8 471.1h.7M642.8 453.9h.7M656.4 471.3h.7M645.8 460.6h.7M657.3 476.8h.7M643.1 465.8h.7M648.4 475.2h.7M647.6 474.4h.7M649.4 460.6h.7M650.9 471.8h.7M647.9 460h.7M648.2 456.9h.7M645.6 469.7h.7M646.3 470.7h.7M646 481.5h.7M653 471.8h.7M649.3 461.4h.7M648.8 472.2h.7M642.1 477.4h.7M650 464.3h.7M651.5 478.8h.7M649 474.2h.7M652.2 468.7h.7M648.1 476.5h.7M654.8 470.2h.7M647.4 479.4h.7M648.1 468.2h.7M650.9 477.2h.7M649.6 459.5h.7M648 476.4h.7M653 477.3h.7M648.8 469.1h.7M653.3 466.1h.7M655.4 460.8h.7M656.3 462.2h.7M650.6 468.4h.7M645.5 479h.7M651.9 474.8h.7M656.3 480.6h.7M653 474.8h.7" stroke="#2a3ce4" stroke-width=".7" fill="none" opacity=".9"/>
<ellipse cx="635.4" cy="486.4" rx="24.3" ry="3.4" transform="rotate(-45.7 635.4 486.4)" fill="url(#blu2)"/>
<ellipse cx="595.1" cy="533.6" rx="9" ry="1.6" transform="rotate(-53.7 595.1 533.6)" fill="url(#blu)"/>
<ellipse cx="591.6" cy="538.6" rx="3.5" ry="1.4" transform="rotate(-53.7 591.6 538.6)" fill="url(#jet)"/>
<ellipse cx="653.3" cy="498.9" rx="6.6" ry="6.6" fill="url(#blu)"/>
<ellipse cx="650.3" cy="471.2" rx="5.6" ry="10.5" transform="rotate(12 650.3 471.2)" fill="url(#blu)"/>
<ellipse cx="620.5" cy="501.7" rx="11.5" ry="6.4" transform="rotate(-68 620.5 501.7)" fill="url(#jet)"/>
<polygon points="649.1,458.8 655,461.8 657.3,470 655,478.2 650.3,484.1 637.4,493.5 626.8,509.9 622.1,515.1 617.5,513.4 614.4,505.2 616.3,495.8 624.5,488.8 637.4,472.4" fill="none" stroke="#333" stroke-width="0.6" stroke-linejoin="round"/>
</g>
<text x="591.3" y="436.2" font-family="'Liberation Sans',Arial,sans-serif" font-size="4.2" font-weight="normal" text-anchor="start" fill="#333">FL2-A, FL2-H subset</text>
<text x="591.3" y="443.2" font-family="'Liberation Sans',Arial,sans-serif" font-size="4.2" font-weight="normal" text-anchor="start" fill="#333">62.3%</text>
<path d="M609.7 541.6L609.7 543.6" stroke="#555" stroke-width="0.5" fill="none"/>
<text x="609.7" y="551.6" font-family="'Liberation Sans',Arial,sans-serif" font-size="4.3" font-weight="normal" text-anchor="middle" fill="#444">100K</text>
<path d="M631.5 541.6L631.5 543.6" stroke="#555" stroke-width="0.5" fill="none"/>
<text x="631.5" y="551.6" font-family="'Liberation Sans',Arial,sans-serif" font-size="4.3" font-weight="normal" text-anchor="middle" fill="#444">200K</text>
<path d="M653.1 541.6L653.1 543.6" stroke="#555" stroke-width="0.5" fill="none"/>
<text x="653.1" y="551.6" font-family="'Liberation Sans',Arial,sans-serif" font-size="4.3" font-weight="normal" text-anchor="middle" fill="#444">300K</text>
<path d="M674.4 541.6L674.4 543.6" stroke="#555" stroke-width="0.5" fill="none"/>
<text x="674.4" y="551.6" font-family="'Liberation Sans',Arial,sans-serif" font-size="4.3" font-weight="normal" text-anchor="middle" fill="#444">400K</text>
<path d="M592.3 541.6L592.3 542.7" stroke="#555" stroke-width="0.4" fill="none"/>
<path d="M596.6 541.6L596.6 542.7" stroke="#555" stroke-width="0.4" fill="none"/>
<path d="M601 541.6L601 542.7" stroke="#555" stroke-width="0.4" fill="none"/>
<path d="M605.3 541.6L605.3 542.7" stroke="#555" stroke-width="0.4" fill="none"/>
<path d="M609.7 541.6L609.7 542.7" stroke="#555" stroke-width="0.4" fill="none"/>
<path d="M614.1 541.6L614.1 542.7" stroke="#555" stroke-width="0.4" fill="none"/>
<path d="M618.4 541.6L618.4 542.7" stroke="#555" stroke-width="0.4" fill="none"/>
<path d="M622.8 541.6L622.8 542.7" stroke="#555" stroke-width="0.4" fill="none"/>
<path d="M627.1 541.6L627.1 542.7" stroke="#555" stroke-width="0.4" fill="none"/>
<path d="M631.5 541.6L631.5 542.7" stroke="#555" stroke-width="0.4" fill="none"/>
<path d="M635.9 541.6L635.9 542.7" stroke="#555" stroke-width="0.4" fill="none"/>
<path d="M640.2 541.6L640.2 542.7" stroke="#555" stroke-width="0.4" fill="none"/>
<path d="M644.6 541.6L644.6 542.7" stroke="#555" stroke-width="0.4" fill="none"/>
<path d="M648.9 541.6L648.9 542.7" stroke="#555" stroke-width="0.4" fill="none"/>
<path d="M653.3 541.6L653.3 542.7" stroke="#555" stroke-width="0.4" fill="none"/>
<path d="M657.7 541.6L657.7 542.7" stroke="#555" stroke-width="0.4" fill="none"/>
<path d="M662 541.6L662 542.7" stroke="#555" stroke-width="0.4" fill="none"/>
<path d="M666.4 541.6L666.4 542.7" stroke="#555" stroke-width="0.4" fill="none"/>
<path d="M670.7 541.6L670.7 542.7" stroke="#555" stroke-width="0.4" fill="none"/>
<path d="M675.1 541.6L675.1 542.7" stroke="#555" stroke-width="0.4" fill="none"/>
<path d="M587.1 440.3L589.1 440.3" stroke="#555" stroke-width="0.5" fill="none"/>
<text x="585.9" y="441.8" font-family="'Liberation Sans',Arial,sans-serif" font-size="4.3" font-weight="normal" text-anchor="end" fill="#444">300K</text>
<path d="M587.1 474L589.1 474" stroke="#555" stroke-width="0.5" fill="none"/>
<text x="585.9" y="475.5" font-family="'Liberation Sans',Arial,sans-serif" font-size="4.3" font-weight="normal" text-anchor="end" fill="#444">200K</text>
<path d="M587.1 507.6L589.1 507.6" stroke="#555" stroke-width="0.5" fill="none"/>
<text x="585.9" y="509.1" font-family="'Liberation Sans',Arial,sans-serif" font-size="4.3" font-weight="normal" text-anchor="end" fill="#444">100K</text>
<path d="M588 433.6L589.1 433.6" stroke="#555" stroke-width="0.4" fill="none"/>
<path d="M588 440.3L589.1 440.3" stroke="#555" stroke-width="0.4" fill="none"/>
<path d="M588 447L589.1 447" stroke="#555" stroke-width="0.4" fill="none"/>
<path d="M588 453.8L589.1 453.8" stroke="#555" stroke-width="0.4" fill="none"/>
<path d="M588 460.5L589.1 460.5" stroke="#555" stroke-width="0.4" fill="none"/>
<path d="M588 467.3L589.1 467.3" stroke="#555" stroke-width="0.4" fill="none"/>
<path d="M588 474L589.1 474" stroke="#555" stroke-width="0.4" fill="none"/>
<path d="M588 480.7L589.1 480.7" stroke="#555" stroke-width="0.4" fill="none"/>
<path d="M588 487.5L589.1 487.5" stroke="#555" stroke-width="0.4" fill="none"/>
<path d="M588 494.2L589.1 494.2" stroke="#555" stroke-width="0.4" fill="none"/>
<path d="M588 501L589.1 501" stroke="#555" stroke-width="0.4" fill="none"/>
<path d="M588 507.7L589.1 507.7" stroke="#555" stroke-width="0.4" fill="none"/>
<path d="M588 514.4L589.1 514.4" stroke="#555" stroke-width="0.4" fill="none"/>
<path d="M588 521.2L589.1 521.2" stroke="#555" stroke-width="0.4" fill="none"/>
<path d="M588 527.9L589.1 527.9" stroke="#555" stroke-width="0.4" fill="none"/>
<path d="M588 534.7L589.1 534.7" stroke="#555" stroke-width="0.4" fill="none"/>
<path d="M588 541.4L589.1 541.4" stroke="#555" stroke-width="0.4" fill="none"/>
<text x="569.2" y="493.1" font-family="'Liberation Sans',Arial,sans-serif" font-size="4.2" font-weight="normal" text-anchor="middle" fill="#444" transform="rotate(-90 569.2 493.1)">FL2-H: FL2-H</text>
<text x="633" y="562.5" font-family="'Liberation Sans',Arial,sans-serif" font-size="4.2" font-weight="normal" text-anchor="middle" fill="#444">FL2-A: FL2-A</text>
<rect x="714.6" y="431.4" width="86.1" height="109" fill="#fff" stroke="#555" stroke-width="0.7"/>
<clipPath id="sc714"><rect x="714.6" y="431.4" width="86.1" height="109"/></clipPath>
<g clip-path="url(#sc714)">
<rect x="715.6" y="432.4" width="42" height="14" fill="#f1f1f1"/>
<path d="M727.6 524h.7M760.4 481.7h.7M775.8 466.6h.7M718.3 531.4h.7M772.9 475.6h.7M749.4 493.6h.7M737.2 510.7h.7M739 497.8h.7M732.6 512.6h.7M740 502.7h.7M721 533.3h.7M737.4 504.8h.7M767 482.7h.7M743.9 508.3h.7M722.9 529.9h.7M724.3 527.6h.7M755.7 485.8h.7M759.6 480.6h.7M773.7 467.3h.7M733.5 514h.7M723.1 526.5h.7M758.3 485.5h.7M730.3 520.7h.7M749.2 494h.7M768.4 474.6h.7M765.4 477.4h.7M753.6 497.9h.7M742.3 509.4h.7M754.5 496.2h.7M716.8 536.5h.7M740.4 511h.7M757.4 488.1h.7M759.4 483.8h.7M717.8 537.3h.7M750.7 496.8h.7M740.7 507.7h.7M727 524.8h.7M740.2 508.8h.7M759.3 484.2h.7M752.6 493.1h.7M761.9 475.6h.7M753.7 494.2h.7M774.4 471.1h.7M733.8 516.8h.7M745 501.8h.7M735.4 515.4h.7M743.8 505.4h.7M725.6 524.4h.7M775.8 471.5h.7M724 528.9h.7M762.2 470.6h.7M755.4 484.8h.7M776.5 468.5h.7M760 490.4h.7M735.6 518.2h.7M771.2 470.1h.7M771.5 468.1h.7M765.3 475.9h.7M748.9 494.3h.7M733.6 516.5h.7M744.7 506.2h.7M773.7 471.8h.7M762 490.8h.7M723 531.8h.7M734.4 511.6h.7M753.4 486.2h.7M736.8 510.9h.7M741.7 504.8h.7M720 535.9h.7M756.3 482.2h.7M770.7 460.3h.7M783.8 458.5h.7M729.5 520.7h.7M766.4 476.2h.7M728.3 525.8h.7M726.6 522h.7M759.5 488.8h.7M737.9 510.5h.7M749.9 493.7h.7M762.3 483.7h.7M741.8 507.4h.7M746 495.7h.7M737.4 514.9h.7M783.8 461h.7M725.5 526h.7M724.3 524.9h.7M741.9 504.9h.7M735.2 511.8h.7M754.6 485.2h.7M725.4 527.3h.7M760.8 487.5h.7M742.9 498.4h.7M750.9 494.9h.7M716.2 536.1h.7M758.5 488.4h.7M742.1 500.2h.7M749.5 491.7h.7M769.6 468.8h.7M744 502h.7M761.9 489.8h.7M750.9 497h.7M724.9 527.6h.7M764 472.7h.7M752.6 494.6h.7M742.8 503.8h.7M739.9 508.8h.7M724.4 530.5h.7M723.9 527.4h.7M775.4 468.6h.7M744.1 508.1h.7M772.1 463.3h.7M762 471.4h.7M729.3 526.2h.7M768.8 465.2h.7M760.2 490.1h.7M745.9 505.6h.7M742.1 507.3h.7M721.4 533.2h.7M753.3 487.8h.7M731.3 515.3h.7M757 489h.7M760.7 485.5h.7M777.8 458.1h.7M749.3 499.5h.7M776.9 462.2h.7M777.3 462.1h.7M753.1 477.8h.7M770 465.1h.7M738.3 512.5h.7M734.2 516h.7M721.6 532.8h.7M767.9 471.5h.7M782.1 469.2h.7M742.8 504h.7M772.6 474.8h.7M735.1 516.4h.7M761.7 482.2h.7M762.5 470.3h.7M776.3 456.6h.7M759.2 479.5h.7M738 506.3h.7M718.5 532.5h.7M755.1 488.9h.7M737.7 510.2h.7M759.1 482.7h.7M773.1 469.2h.7M761 475.5h.7M718.5 532.2h.7M733.5 521.1h.7M768.9 475.2h.7M736.7 513h.7M758.6 480.2h.7M750.2 492.8h.7M726.2 520.5h.7M758 490.2h.7M732.8 513.5h.7M768.1 479.7h.7M740.5 505.4h.7M763.8 476.7h.7M765.6 479.8h.7M750 492.9h.7M730 515h.7M771.9 461.6h.7M735.6 515.3h.7M779 466.2h.7M729.6 523.3h.7M718.3 531.8h.7M761 478.5h.7M725.4 526h.7M774.1 454.5h.7M767 467.9h.7M757.3 491.1h.7M733.8 517.2h.7M774.5 460.1h.7M778.2 468.8h.7M778 455.7h.7M762.6 478.7h.7M738.9 510.5h.7M723.6 531.2h.7M717.8 537h.7M758.2 486.1h.7M723 528.3h.7M741.2 509.2h.7M740.9 503.8h.7M727.6 519h.7M777.9 457.6h.7M747.1 503.3h.7M746.9 496h.7M772 456.1h.7M761 469.4h.7M765.7 468.6h.7M746.2 500.1h.7M754 487.7h.7M768.5 474.8h.7M724.3 527.9h.7M754.3 488.1h.7M732.4 521.2h.7M759.9 481.6h.7M774.8 466.3h.7M778.7 465.3h.7M756.4 485.7h.7M728.6 523.4h.7M724.9 527h.7M721.4 530.2h.7M723.1 532h.7M736 514.8h.7M758.6 481.7h.7M744.1 504.7h.7M769.7 468.4h.7M755.8 487.9h.7M767.1 466.7h.7M772.2 474.5h.7M764.6 471h.7M742.9 502.9h.7M778.1 455.9h.7M718.4 532.9h.7M768.8 465.3h.7M764.2 470.7h.7M748 494.6h.7M746.7 500.5h.7M741.4 508.6h.7M754.9 483.5h.7M732 516.8h.7M733.7 516.2h.7M730.3 522.5h.7M755 485.5h.7M753.7 490.6h.7M784.1 458.2h.7M769.5 478.8h.7M724.5 528.9h.7M779.2 464.1h.7M719.7 533.8h.7M763.6 473h.7M753.9 492h.7M753.4 494.2h.7M752.1 485.9h.7M756.2 486.9h.7M728 519.4h.7M726.1 522.6h.7M734 516.7h.7M721.4 535.8h.7M719.6 536.3h.7M765.1 480.3h.7M771.6 456.3h.7M776.1 470.8h.7M748.7 493.9h.7M719.4 534.6h.7M770.3 472.9h.7M755.9 497.5h.7M736.2 508.7h.7M764.9 483h.7M745.3 503.9h.7M755.3 486.8h.7M725.5 530.2h.7M726.5 528.7h.7M723.6 530.8h.7M772.7 457.4h.7M772.5 463.6h.7M725.1 523.7h.7M776.3 465h.7M756.5 493.1h.7M754.8 481.9h.7M730 524h.7M738.2 511.9h.7M722 530.6h.7M767.3 471.4h.7M771.8 464.1h.7M747.7 511.8h.7M766 467.8h.7M757.6 492h.7M743 506.2h.7M726.4 523.2h.7M747.6 495h.7M779.2 456.5h.7M725.1 520.4h.7M734.6 517.1h.7M728.4 522.9h.7M732 523.1h.7M732.5 515.4h.7M721.1 524.4h.7M765.9 467.3h.7M747 497.5h.7M775.1 475.4h.7M726.6 521.1h.7M763.3 473.5h.7M762.8 461.4h.7M765.8 465.5h.7M763.4 480.4h.7M730.1 522.3h.7M717.4 536.2h.7M730.4 518.3h.7M772 462.8h.7M774.7 453.6h.7M742.6 503.1h.7M725.4 525.6h.7M774.4 453.7h.7M774.8 466.9h.7M780 469.7h.7M760.2 483.4h.7M737.7 513.9h.7M764.4 475.2h.7M751.2 490.1h.7M758 487.6h.7M753.2 491.4h.7M774.6 462.5h.7M734.7 509.2h.7M717.9 535.2h.7M770.2 469.5h.7M731.7 517.7h.7M755.1 492.2h.7M769.4 472h.7M734.4 514.2h.7M750.9 496.3h.7M742.8 505.5h.7M746.6 501.6h.7M765.3 475.7h.7M753.4 485.8h.7M755.4 487.8h.7M739.4 502.2h.7M761 485.9h.7M757.3 489h.7M751.8 490.3h.7M738 511.5h.7M759.2 477.3h.7M769.8 472.5h.7M749.9 495.7h.7M733.2 517.6h.7M768.4 475.6h.7M763.5 482.3h.7M725.4 527.4h.7M778.9 451.9h.7M758.9 478.3h.7M734.9 509h.7M725.7 528.5h.7M772.1 461.6h.7M745.4 501.1h.7M732.8 515.1h.7M754.9 499.4h.7M767.9 473.5h.7M758.9 481.8h.7M720.5 531.5h.7M748.2 496.8h.7M718.5 532.2h.7M733.2 518.5h.7M750.8 487.4h.7M722.5 526.1h.7M728.9 521.5h.7M732.7 511.5h.7M731.5 519.6h.7M727.1 525.5h.7M755.5 482.8h.7M719.6 533.7h.7M734.5 510.3h.7M742.6 500h.7M756.6 485.3h.7M717.5 536.9h.7M738.3 503.9h.7M745.2 502.4h.7M741.1 501.3h.7M747 490.3h.7M719.7 532.3h.7M768.5 469.5h.7M745.4 501.1h.7M773.4 465.6h.7M732.6 520.5h.7M752.3 488.3h.7M742.7 505.3h.7M730.7 515.2h.7M718.3 535.4h.7M775.1 456.8h.7M737.4 508.3h.7M766.3 470.2h.7M772.5 465.1h.7M757.4 484.4h.7M732 522.8h.7M750 499.9h.7M730.3 520.7h.7M742.5 499h.7M759 484h.7M751.6 495.9h.7M736.6 511.9h.7M734.6 520.8h.7M765.6 468.4h.7M763.5 478h.7M752.5 490.3h.7M754 493.9h.7M732.3 521h.7M722.6 526h.7M762.8 473.8h.7M742.2 508.2h.7M733.2 514.6h.7M762.6 486h.7M737.9 505.9h.7M757 480.4h.7M750.2 493.1h.7M733.3 512.7h.7M734.3 511.5h.7M754.4 484.5h.7M766.8 475.7h.7M766.4 473.3h.7M751.7 490.7h.7M732.4 520.5h.7M780.1 460.6h.7M756.6 486.9h.7M740.4 504.5h.7M758.5 482.1h.7M735.3 513.3h.7M765.4 479.2h.7M751.1 501.5h.7M773.3 460.4h.7M729.2 516h.7M722.8 529.4h.7M753.9 490.7h.7M775.7 461.9h.7M729.9 520.5h.7M736.4 515h.7M745.3 504.6h.7M758 478.5h.7M739.4 505.2h.7M758.8 486.8h.7M775.5 470.2h.7M768.6 465.5h.7M746.7 504h.7M738.6 512.9h.7M759.2 485.7h.7M718.4 539h.7M728.8 524h.7M739.5 501.2h.7M754.8 479h.7M765.3 470h.7M741.9 507.9h.7M770.7 481.5h.7M726.1 527.3h.7M770.2 474.2h.7M726.2 524h.7M772.9 460.9h.7M773.7 466.1h.7M718.1 534.9h.7M762.2 479.3h.7M768.4 474.2h.7M753.6 489.9h.7M740.9 509.4h.7M762.4 475.3h.7M765 471h.7M746.8 496.1h.7M763.1 486.3h.7M751.8 497.5h.7M752.4 487.9h.7M720.4 533.7h.7M759.5 479h.7M768.9 461.9h.7M769.4 470.4h.7M759.9 482.4h.7M727.3 523.8h.7M722.1 526.7h.7M753.2 485.1h.7M772.9 461.7h.7M765.7 475.4h.7M754 497h.7M763 483.3h.7M735.6 515.7h.7M775 459h.7M765.8 468.7h.7M765.6 477h.7M768.9 458.7h.7M771.9 462.6h.7M734.3 513.3h.7M769.7 476.7h.7M760.3 486.5h.7M762.5 478.1h.7M758.7 478.8h.7M763.2 472.3h.7M724.8 528.6h.7M725.5 526.1h.7M749.2 492h.7M728.6 520.2h.7M734.3 522.3h.7M721.3 527.4h.7M734.4 517.4h.7M760.4 488.1h.7M736.8 514.9h.7M769.5 472.5h.7M768.3 466.2h.7M743.9 505.9h.7M724.2 529.3h.7M746 495.4h.7M745.4 502.4h.7M718.6 534.8h.7M718.6 533.8h.7M765.9 481.3h.7M723.8 529.6h.7M723.4 527.3h.7M727.6 525.8h.7M759.8 489.2h.7M791.1 470.2h.7M752.4 492.1h.7M729.1 530.6h.7M762.8 492.4h.7M748.3 496.7h.7M745.3 500.4h.7M745.7 505.5h.7M752 511.6h.7M722.1 535.1h.7M752.5 489.4h.7M740.7 528.5h.7M755.4 482.9h.7M770 470.8h.7M717.8 536.2h.7M744.3 509.7h.7M722.7 536.2h.7M774.5 486.6h.7M793.1 470.4h.7M726.3 531.6h.7M755.6 508.2h.7M791.6 475.3h.7M793.8 462.4h.7M798.1 456.3h.7M791.3 471.6h.7M741.2 504.6h.7M736 508.8h.7M779.1 466.8h.7M752.5 507.9h.7M754.2 504.6h.7M743.8 511.7h.7M736.5 508.6h.7M752.7 487.9h.7M781.3 474.5h.7M723.1 534.3h.7M751.4 503.7h.7M731.1 529.5h.7M781.2 466.3h.7M777 490.2h.7M785.3 442.7h.7M717.6 537.2h.7M775.5 491h.7M773.3 462.9h.7M759.7 493.3h.7M795.1 433h.7M749.8 516.7h.7M773.4 487.4h.7M753.4 497.1h.7M725.8 530.3h.7M745.8 509.2h.7M753.6 522.4h.7M760.2 485.6h.7M772.1 469.1h.7M786 475.9h.7M721.5 532.7h.7M722.5 534h.7M793.3 465.2h.7M779.1 476.3h.7M788 480.9h.7M755.8 499.4h.7M729 526.3h.7M736.4 526.5h.7M735.8 517.2h.7M771.1 492.2h.7M723.8 521h.7M732 529.4h.7M777.1 480.2h.7M741 507h.7M755.4 487.2h.7M745.8 517.5h.7M746.9 494.3h.7M778.6 498.4h.7M750.3 512.8h.7M761 475.6h.7M771.5 487.3h.7M774.9 489.2h.7M755.2 499.6h.7M795.7 469.7h.7M721.9 535.5h.7M730.4 518.7h.7M763.1 467.6h.7M738.7 508.1h.7M791.5 464.4h.7M747.5 518.7h.7M752.6 502h.7M756.6 494.3h.7M719.2 534.9h.7M754.1 476.6h.7M772.8 490.7h.7M738.4 524.5h.7M751.6 496.3h.7M777.9 476.1h.7M737.7 516.8h.7M777.9 454.8h.7M757.1 487.8h.7M728.1 524.1h.7M756.2 495.8h.7M731.3 520.7h.7M783 440.9h.7M733.9 521.8h.7M723.6 536.6h.7M735.4 517.8h.7M726.2 527.5h.7M725.4 531.1h.7M750.1 499.9h.7M722.6 538.5h.7M776.7 474.9h.7M747.4 500.6h.7M757.5 505.1h.7M745.3 499.7h.7M757.3 497.9h.7M785.2 494.5h.7M780.6 471.6h.7M788.4 464.1h.7M726.6 524.8h.7M760.5 486.7h.7M788.2 475.5h.7M746.8 510.3h.7M774.2 437h.7M763.1 486.1h.7M752.5 516.9h.7M775.5 475.1h.7M731.1 519.7h.7M751.9 497.7h.7M764.8 480.5h.7M756.9 484.4h.7M751 506h.7M774.4 493.7h.7M786 453.8h.7M717 537.4h.7M780.4 462.1h.7M781.7 462.7h.7M753.8 507.8h.7M730.4 529h.7M731.2 530.4h.7M773.1 474h.7M789.4 460.9h.7M794.6 453.5h.7M750.7 509.5h.7M791.3 463.7h.7M748 506.6h.7M786.8 453.1h.7M761.2 497.1h.7M747.1 513.5h.7M751.9 501.2h.7M782.6 475.9h.7M757.7 509.5h.7M771.8 473.9h.7M764.2 486.4h.7M747.1 498.3h.7M753.7 511.3h.7M797.2 468.9h.7M764.7 486h.7M740.3 521.9h.7M735 525.6h.7M756.9 487.9h.7M781.2 477.2h.7M771.6 498.5h.7M752.9 498.4h.7M749.8 505.7h.7M774.8 456.4h.7M728.8 525.5h.7M739.5 514.4h.7M779.1 455.8h.7M734 520.1h.7M740.7 514.9h.7M729.3 530.2h.7M778.7 487.1h.7M751.7 498.1h.7M789.2 460.7h.7M723.7 538.6h.7M763.8 500.6h.7M789.9 486.9h.7M763.3 469.7h.7M798 448.4h.7M762.5 488.9h.7M771.1 477.8h.7M751.4 518.2h.7M720.8 535.6h.7M775.3 500h.7M779.7 451.3h.7M763.8 485.7h.7M754.1 502.6h.7M784.5 478.3h.7M740.9 509.5h.7M776.7 492.8h.7M727.5 530.5h.7M739.1 521.1h.7M772 499.6h.7M734.5 516.8h.7M771.5 461.3h.7M721.7 532.1h.7M741.3 507.2h.7M766.6 510.5h.7M756.8 496.6h.7M779.5 465.2h.7M722.1 534.5h.7M759.6 511.8h.7M731.3 520.4h.7M786.6 471.2h.7M719.5 535.5h.7M729.1 526.5h.7M717.7 537.1h.7M741.1 508h.7M790.6 459.1h.7M783.5 480.1h.7M782.4 477.5h.7M745.5 512.3h.7M776 477.7h.7M762.1 483.3h.7M733.4 519.4h.7M738.9 514.8h.7M755.9 496h.7M736.5 517h.7M769.8 480.6h.7M736.6 525.1h.7M792.6 468.2h.7M753.6 493h.7M727.9 525.7h.7M724.9 536.4h.7M736.6 520.7h.7M738.2 518.4h.7M775.1 476.8h.7M732.3 526.7h.7M773.5 476.7h.7M753.2 485.9h.7M752.1 491.7h.7M760.7 473.2h.7M763 488.5h.7M759.7 496.2h.7M787.6 461.9h.7M737.7 522.5h.7M782.2 466.7h.7M741.2 515h.7M784.1 475.5h.7M724.5 525.2h.7M719.3 537.3h.7M719.3 536.4h.7M779.5 466.6h.7M765.4 500.7h.7M774.9 482.6h.7M776.5 481.8h.7M779.9 443.3h.7M786.1 479.1h.7M748.5 509h.7M783.5 472.7h.7M768.3 484.5h.7M780.7 490.6h.7M765.1 491.6h.7M771.2 472h.7M768.1 479.6h.7M721.1 535.5h.7M763.4 492.9h.7M766.3 501.1h.7M780.4 464.7h.7M727.6 519.4h.7M730.9 519.6h.7M752 513h.7M794 460.1h.7M749 503.3h.7M772 492.2h.7M733.9 517.6h.7M762.5 494.5h.7M748.8 502.8h.7M737 517.2h.7M722.2 537.4h.7M738.3 520.1h.7M743.9 508.9h.7M746.9 501.6h.7M730.8 525.5h.7M773.9 479.4h.7M747.4 511h.7M734.2 531.6h.7M770.9 490.2h.7M728.6 527.6h.7M755.6 505.4h.7M732.5 535.4h.7M726.7 529.9h.7M721.4 536.7h.7M723.9 535.5h.7M766.1 476.5h.7M784 474.6h.7M755.7 504.4h.7M741.1 523.7h.7M779.7 486h.7M731.9 528.7h.7M766.1 512.1h.7M724.1 539.1h.7M748.4 507.1h.7M768.8 499.6h.7M759.8 490.1h.7M744.9 500.1h.7M744.8 501.1h.7M736.6 525.6h.7M789.9 447.4h.7M736.3 528h.7M752.5 515.1h.7M721.1 533.4h.7M729.8 522.3h.7M722.7 535.6h.7M757.2 497.1h.7M768.9 482.5h.7M800.5 457.7h.7M725.6 540.2h.7M752.1 497.8h.7M773.6 468.2h.7M733.1 520h.7M772 475.3h.7M782.7 514.3h.7M744.8 514.7h.7M739 519.2h.7M724.1 533.7h.7M761.1 487.7h.7M793.7 463.7h.7M760.3 494.7h.7M771.2 502h.7M773.1 498.6h.7M723.6 538.1h.7M733.7 526.9h.7M777.4 476.8h.7M724.4 531.6h.7M777.6 480.3h.7M787.2 484.4h.7M740.7 513.2h.7M747.5 521.9h.7M766.7 473.2h.7M763.9 471.6h.7M758.3 493.7h.7M729 531.4h.7M760.1 488.9h.7M755.5 487.5h.7M725 524.2h.7M772.3 482h.7M758.7 504.9h.7M741.6 517.7h.7M735.4 513.9h.7M752 511.4h.7M779.3 476.6h.7M753.1 493.5h.7M738.8 512h.7M740 527.2h.7M736.7 530h.7M763.9 481.3h.7M762.1 493.1h.7M772 456.3h.7M765.9 465.1h.7M763.5 464.6h.7M795.1 463.1h.7M744 519.5h.7M732 509.4h.7M786.7 457.6h.7M746.2 497.6h.7M726.6 535.3h.7M788 474.5h.7M725.1 537.1h.7M772 502.1h.7M761.7 484h.7M774.1 501.1h.7M739.5 513.1h.7M766.7 482.9h.7M772 485.9h.7M722 535.4h.7M752.2 501.1h.7M737.1 511.7h.7M762.3 509.3h.7M745.2 522.2h.7M795.2 462.7h.7M771.8 458.7h.7M736.2 515.8h.7M752.3 517.6h.7M725.5 534.3h.7M794.1 467.5h.7M746.1 508.7h.7M784.6 495.1h.7M741.8 500h.7M767.4 480.6h.7M733.7 524.5h.7M792.1 459.5h.7M717.9 536.6h.7M783.4 482.7h.7M732.7 523.9h.7M740.6 523.8h.7M739.4 518.6h.7M772.7 488.8h.7M773.2 474.2h.7M780.9 469.3h.7M761.3 489.4h.7M758.5 488.5h.7M740.5 510.8h.7M758.1 500.3h.7M782 466.9h.7M733.8 522.7h.7M732.2 522.7h.7M742.9 506.5h.7M745.6 518.5h.7M777.7 473.6h.7M741.6 523.9h.7M779.5 474.6h.7M755.1 486.4h.7M718.8 537.8h.7M750.2 493.6h.7M723.5 534.3h.7M734.2 520.5h.7M776.2 455.7h.7M769.2 479.1h.7M787.8 477.1h.7M784.4 474.3h.7M726.2 537.5h.7M757.9 495.3h.7M727.5 524.6h.7M760.6 482.6h.7M781.3 474.4h.7M734.2 519.3h.7M721.7 532.8h.7M735.4 518.7h.7M756.9 489.7h.7M733.4 518.2h.7M767.8 482.6h.7M794.7 458.3h.7M726.2 539.5h.7M796.1 449h.7M760.6 477.6h.7M729.1 530h.7M778.9 460.5h.7M765.2 474.6h.7M727.4 536.4h.7M762.8 470.1h.7M762.3 493.9h.7M778.2 467.7h.7M769 489.3h.7M781.5 459h.7M750.9 513.3h.7M722.4 539.2h.7M734.6 517.5h.7M760.2 482.6h.7M768.2 494h.7M781.2 466h.7M789.1 487.6h.7M798.8 455.2h.7M797 447.8h.7M796.1 492.2h.7M775.7 468.6h.7M777.7 450.5h.7M775.8 496.7h.7M784.3 500.5h.7M792.9 462.3h.7M771.6 449.6h.7M778.9 489.2h.7M778.6 504.8h.7M796.2 474.6h.7M797 453.2h.7M798.1 492.7h.7M790.9 449.9h.7M800 500.6h.7M777.2 471.3h.7M781.3 507.6h.7M778.5 462.4h.7M796.5 510h.7M779.1 473.7h.7M798 502h.7M797.5 496h.7M771.7 504.5h.7M793.1 479.3h.7M798.7 503.5h.7M798 455.7h.7M795.5 445.4h.7M793.2 507.4h.7M770.5 498.2h.7M795.5 445.3h.7M772.1 464.2h.7M796.8 479.7h.7M770.5 445.5h.7M788.2 503.6h.7M782.7 485.4h.7M773.3 483.7h.7M776.5 446.1h.7M778.9 508.5h.7M797.1 496.1h.7M771.5 494.8h.7M772.3 475.8h.7M770.1 480.9h.7M772.7 503.6h.7M784.7 448.2h.7M786.8 501.2h.7M791.3 445.7h.7M777.1 459.1h.7M800.6 449.9h.7M800.7 487.1h.7M771.9 471.4h.7M783.4 495.4h.7M786.2 509.1h.7M788.2 482h.7M779.3 502.3h.7M798.9 486.8h.7M785.6 492.5h.7M773.4 482.8h.7M777.1 461.9h.7M772.1 450.1h.7M792.1 509.9h.7M778.4 454.2h.7M797.3 509.1h.7M787.2 472.7h.7M786.7 459h.7M779.7 495.3h.7M770.5 448.3h.7M778.5 450h.7M794.7 481.1h.7M781.9 492.2h.7M780.1 509.3h.7M800.4 483.4h.7M787.5 468.5h.7M794.7 500.9h.7M777.9 471.7h.7M795.4 488.2h.7M799.4 465.5h.7M779.6 495.2h.7M773.8 470.6h.7M779.6 444.2h.7M792.9 475h.7M790.2 477.7h.7M790.7 509.2h.7M774.7 501.6h.7M769.4 484.1h.7M795.7 491.2h.7M794.5 458.9h.7M797 488.2h.7M776.8 452.3h.7M775.9 489.2h.7M782.9 486.9h.7M784.6 451h.7M772 506.8h.7M785.1 505.7h.7M790.4 457.3h.7M789.6 451.4h.7M777.7 477.4h.7M795.5 502.2h.7M772.2 503h.7M779.1 455.1h.7M776.6 496.1h.7M774.2 457.2h.7M796.2 507.5h.7M777 478.5h.7M780.8 501.4h.7M772.2 448.2h.7M780.7 469.6h.7M790.3 456.8h.7M795.4 445h.7M776.7 504.5h.7M785.4 444.5h.7M779.7 463.6h.7M774.4 464.5h.7M797.9 484.7h.7M769.6 493.5h.7M773.6 458.2h.7M791.4 488h.7M776.3 478.1h.7M788.6 478.9h.7M776.5 443.4h.7M771.4 470.7h.7M776.6 464.2h.7M770.1 488.9h.7M781.5 487.3h.7M782.1 467.3h.7M789.3 483.8h.7M796.5 453.3h.7M780.2 505.6h.7M780.9 504h.7M777.5 486.8h.7M790.9 466.1h.7M781.2 494.6h.7M782.3 487h.7M799.7 465.8h.7M780.1 487.9h.7M794.5 508.8h.7M799.5 446h.7M795.4 488.2h.7M770.5 478.4h.7M774.5 499h.7M789.7 471.4h.7M784.1 459.8h.7M799.6 454.2h.7M795.4 509.5h.7M771 449.4h.7M772.5 457.2h.7M774.3 483h.7M783.6 480.7h.7M770.3 477.5h.7M773.3 470.5h.7M785.6 472.4h.7M783 510.5h.7M800.3 467.2h.7M797.6 464.5h.7M774.3 473.9h.7M793.1 470.3h.7M774.7 478.2h.7M787.1 476.7h.7M788.5 494.9h.7M799.4 467.4h.7M776.9 488.9h.7M778.8 480.2h.7M772.8 507h.7M799.9 497.4h.7M775.7 488.4h.7M783.9 489.8h.7M784.8 490.1h.7M780.2 488.5h.7M772.4 503.7h.7M794.4 508.1h.7M775 469.2h.7M797.9 502.8h.7M771.1 477.7h.7M786.9 495.6h.7M776.7 448.6h.7M795.6 489.7h.7M774.2 478.4h.7M776.2 486.3h.7M799.5 508.9h.7M789.1 444.4h.7M793.9 472.8h.7M791.6 492.7h.7M790.9 447.3h.7M769.9 505.4h.7M788 450.5h.7M791.5 473.2h.7M777.7 496.2h.7M795.8 465.3h.7M784.2 492.5h.7M794.5 503.1h.7M770.4 482.2h.7M779.7 447.4h.7M772.9 493.6h.7M786.1 455.1h.7M770.7 454.9h.7M789.8 468.9h.7M787.2 477.7h.7M798.2 446.1h.7M770.2 488.2h.7M781 448h.7M771.3 510.8h.7M792.4 503.1h.7M779.8 478.4h.7M770.5 487.3h.7M776 468.6h.7M770.7 481.6h.7M799.1 482.5h.7M774.1 455.7h.7M796.2 473h.7M790.5 501.7h.7M783.9 495.3h.7M787.5 450.6h.7M769.1 492.7h.7M795.7 496.1h.7M771.8 502.3h.7M770.2 503.5h.7M779 457.3h.7M783.4 460.7h.7M785.8 475.9h.7M773.8 496.6h.7M781.9 497.9h.7M784.6 460.1h.7M797.6 486h.7M793.3 464h.7M769.2 468.2h.7M800.3 508.8h.7M782.1 510.3h.7M772.5 495h.7M775.8 497.1h.7M792.1 451.5h.7M788.8 501.6h.7M795.5 453h.7M792.3 477h.7M796.8 471.6h.7M788.4 450.5h.7M775.1 468.3h.7M798.1 443.9h.7M786.6 500.9h.7M791.9 475.7h.7M778.7 489h.7M776.1 474.8h.7M778.9 478.2h.7M797.4 497.2h.7M789.2 488.9h.7M779.2 469.3h.7M776.2 449.2h.7M782.5 459.9h.7M783.5 507.5h.7M774.2 443.5h.7M780.3 484h.7M771.3 474.4h.7M775.4 501.9h.7M795.4 473h.7M789 468.7h.7M784.5 448.2h.7M776.5 463.3h.7M785.4 481.4h.7M776 459.3h.7M769.5 453.9h.7M784.6 502h.7M780.7 478.5h.7M778.9 464.3h.7M796 486.4h.7M773 444.8h.7M777 491.5h.7M777.2 453h.7M791.9 507.4h.7M769.3 454h.7M787.9 504h.7M790.1 486.5h.7M771.8 463.2h.7M794.7 453.9h.7M789.6 469.5h.7M783.1 476.3h.7M798.2 455.2h.7M776 448h.7M787 492.8h.7M794.7 492.4h.7M783.5 490.2h.7M789.3 461.7h.7M794.5 464.7h.7M793.8 506.9h.7M787.2 459.8h.7M771.1 488.2h.7M770.3 490h.7M772.8 483.1h.7M776.5 496.2h.7M799.3 458.6h.7M794.7 488.4h.7M778 475.2h.7M778.1 510h.7M790 491.3h.7M783.6 460h.7M772.4 463.4h.7M780.9 443.6h.7M772.8 478.7h.7M769.6 448.5h.7M797.4 509.5h.7M786 482.8h.7M776.7 465.6h.7M792.5 491.7h.7M780.5 505.5h.7M784.6 493.4h.7M796 495.4h.7M787.2 496h.7M774 472.7h.7M789.7 464.5h.7M775.9 465.7h.7M770.1 487.8h.7M794.6 461.2h.7M790.6 487.1h.7M794.4 473.1h.7M776.4 462.9h.7M792.8 490h.7M798.2 506.8h.7M774.2 462.3h.7M790.9 449h.7M797.7 463.5h.7M737.7 511.9h.7M737.7 511.1h.7M750.8 516.2h.7M750.7 504h.7M744.6 502h.7M743.4 507.3h.7M742.2 496.1h.7M747.3 509.3h.7M742.4 492.6h.7M748.4 497.8h.7M746.6 501.5h.7M737.5 504.8h.7M738.5 493.7h.7M752.1 508.5h.7M739.6 500.2h.7M750.3 503.8h.7M749.1 496h.7M740.3 511.4h.7M738.2 485.5h.7M747.7 501.6h.7M746.9 499.9h.7M743.5 492.5h.7M752.4 497.2h.7M742.1 499.1h.7M741.4 495.2h.7M736.7 504.7h.7M751.3 492.7h.7M749.6 504.5h.7M747.5 502.9h.7M739.8 493.5h.7M753.9 507h.7M749.7 488.8h.7M737.8 505.5h.7M749.5 501.9h.7M744.6 502h.7M739 498h.7M745.4 520.9h.7M743.1 508h.7M745 509.2h.7M752.3 506h.7M752.3 494.2h.7M740.6 507.8h.7M748.8 493h.7M744.7 512.7h.7M742.4 497.2h.7M748.7 498.2h.7M746.3 511.5h.7M736.8 493h.7M734.9 502.6h.7M745.7 504.2h.7M749 498.6h.7M748.6 499.4h.7M741.2 500.6h.7M751.3 497h.7M748.9 495.7h.7M745.1 507.1h.7M758.7 491.8h.7M757.2 507.9h.7M740.1 510.2h.7M745.9 485.3h.7M739.6 509h.7M740.5 491h.7M749 503.1h.7M735.5 502.2h.7M753.4 492h.7M741.8 504.8h.7M741.5 486h.7M751.3 494.3h.7M756.1 499.8h.7M751.6 517.6h.7M742.9 500.5h.7M742.7 507.3h.7M745.8 497.9h.7M732.7 499.7h.7M750 500.3h.7M746.9 493.4h.7M738.6 508.3h.7M745.4 511.9h.7M737.9 515.3h.7M750.7 516h.7M732.3 499.9h.7M740.9 498.1h.7M755.5 505.7h.7M734 486.5h.7M745.9 507.9h.7M743.7 515.4h.7M738.6 512.3h.7M746.1 502h.7M747.2 512.9h.7M746.5 477.9h.7M750 499.7h.7M757.6 504.4h.7M749.8 503h.7M736.5 492h.7M743.6 496.6h.7M751 485.9h.7M743.6 519.4h.7M756.4 509.6h.7M749.5 501h.7M743.4 501.7h.7M742.7 510.3h.7M745.7 498.2h.7M752.1 503.8h.7M754.6 492.7h.7M748.2 493.8h.7M752 501.3h.7M747.8 497.4h.7M736.1 512.3h.7M742.1 510.8h.7M751.4 500.3h.7M742.8 508.6h.7M744.7 489.9h.7M748.3 499.7h.7M743.2 501.2h.7M753.5 500.7h.7M743.9 505.4h.7M727.3 492.9h.7M746.4 503.9h.7M753.2 507.3h.7M743.1 497.4h.7M756.9 499.7h.7M754.3 498.6h.7M749.9 489.7h.7M740 508h.7M740.3 486.1h.7M746.5 492.1h.7M742.8 506.6h.7M745.8 503h.7M748.5 506.4h.7M751.1 497.5h.7M736.1 497.5h.7M742.4 497.8h.7M748.1 505.1h.7M743.5 499.6h.7M751.9 515.7h.7M746.5 497.5h.7M738.5 492.3h.7M737.3 487.7h.7M740.4 503.3h.7M735.5 495.2h.7M744.5 491.9h.7M728.8 500.2h.7M745.4 512.7h.7M740.3 510.9h.7M746.7 501.5h.7M738.5 496.6h.7M757.5 499.2h.7M744.8 499.7h.7M743.8 495.2h.7M748.9 511.4h.7M744 497.3h.7M737.2 509h.7M752.7 490.2h.7M747.3 477.3h.7M752.3 500.7h.7M750.4 512.2h.7M743.9 496.4h.7M745.4 498.1h.7M744.7 489.9h.7M738.2 492.9h.7M753.5 504.3h.7M750.3 513.1h.7M738.4 491.4h.7M747.3 489.6h.7M750.5 511.3h.7M750.9 511.7h.7M758.4 496.4h.7M746 518.7h.7M748.3 498.7h.7M741.1 492.3h.7M742.5 505.3h.7M741.2 493h.7M746.8 492.8h.7M747 494.4h.7M735.3 502.8h.7M749.5 503.7h.7M752.7 496.9h.7M741.3 494.3h.7M751.6 507.6h.7M741.8 505h.7M742.9 494.7h.7M752.7 507.2h.7M742.2 513.8h.7M747.5 510.7h.7M746.4 484.4h.7M749.2 503.1h.7M749.4 502.6h.7M744.1 500.8h.7M749.5 498.7h.7M740.9 504.5h.7M745.6 488.3h.7M738.6 497.6h.7M752.1 497.4h.7M747.2 492.4h.7M742.6 509.7h.7M742.2 499.3h.7M737.8 501.5h.7M743.4 500.4h.7M747.2 507.1h.7M746 499.9h.7M748.1 494.7h.7M755.8 506.6h.7M753.2 498.8h.7M751.2 507.7h.7M747.4 487.4h.7M753.5 509.2h.7M740.8 499.4h.7M735.5 507.4h.7M738.5 493.6h.7M748 510.5h.7M747.4 504.9h.7M747.6 506.4h.7M751.5 491.5h.7M758 505.9h.7M738 502.9h.7M749 497.9h.7M747.1 500.1h.7M744.9 494.8h.7M743.9 507.5h.7M740.1 487.9h.7M746.7 493.5h.7M753.1 504.3h.7M741.8 507.4h.7M740.6 496.3h.7M742.6 498.1h.7M747.3 500.4h.7M741 496h.7M746.6 517.8h.7M742.9 502.8h.7M750.5 488.9h.7M747 487.5h.7M735.7 494.9h.7M741.9 496.6h.7M742.6 501.5h.7M743.7 497.8h.7M749.1 514.2h.7M739.6 500.6h.7M740.2 509.1h.7M736.4 493.3h.7M747 490.8h.7M746 513.2h.7M736.5 505.2h.7M746.8 498.6h.7M754 497.4h.7M734 513.2h.7M747.8 498.9h.7M743 511.1h.7M750.9 516h.7M745.5 507.7h.7M736.8 493.7h.7M743.7 493.1h.7M742.2 501.3h.7M744.3 493.1h.7M745.8 501h.7M749.3 505.7h.7M739.6 497.3h.7M750.6 482.2h.7M753.5 484.6h.7M751.4 493h.7M753.8 504.3h.7M746.3 501.5h.7M755.3 519.1h.7M736.8 506.7h.7M751.3 507.3h.7M745.4 503.7h.7M747.9 500h.7M751.9 497.3h.7M747.9 485.8h.7M743.3 492.2h.7M750.7 502.8h.7M746.7 525.7h.7M757.4 498h.7M752.2 499.2h.7M748.7 514.4h.7M737.7 500.1h.7M736.8 521.9h.7M745.5 495.9h.7M752.1 490h.7M741.4 501.5h.7M746.8 498.4h.7M745.9 486.8h.7M742.3 503.7h.7M739 508.6h.7M740.9 507.7h.7M745.2 497.3h.7M760 495.4h.7M746.2 494.8h.7M741.9 506.7h.7M745.5 510.6h.7M740.2 513h.7M741.2 498.2h.7M747.1 499.7h.7M741.5 496h.7M742.7 492.5h.7M750.6 496.2h.7M748.4 497h.7M751.4 494.7h.7M747.1 505.9h.7M747.1 505h.7M756 507.9h.7M736 504.5h.7M748.3 496h.7M747.5 489h.7M755.4 498.4h.7M745.6 495.7h.7M727.3 492.9h.7M740 503.5h.7M734.1 506.9h.7M739.9 500.1h.7M745.5 488.4h.7M747.4 498.5h.7M745.1 501.4h.7M746.7 513h.7M743.1 505.1h.7M752.5 509.1h.7M749.6 494.2h.7M743.4 501.3h.7M753.6 503.5h.7M753.7 494.3h.7M737.5 508.3h.7M741.1 499.8h.7M737.2 498.5h.7M751.5 497.5h.7M736.8 509.9h.7M738.7 498.4h.7M747.8 505.9h.7M745.8 499.9h.7M744 494.2h.7M753.2 507.8h.7M738.9 500.8h.7M743.6 495.7h.7M744.5 501.9h.7M746.7 514.7h.7M739.7 510.2h.7M747.6 500.6h.7M744.7 490.5h.7M752.3 502.3h.7M748.7 500.4h.7M749.5 499.3h.7M743.2 490.7h.7M745.7 511.9h.7M757.1 485.1h.7M744.9 512.3h.7M746.4 503.1h.7M743.6 502.3h.7M742.7 505.7h.7M742.9 499.7h.7M738.5 482.9h.7M739.8 513.1h.7M753.8 504.1h.7M751.4 507.3h.7M749.2 489.9h.7M751.1 503.6h.7M745.3 492.4h.7M750.9 504.3h.7M743.1 498.4h.7M742.7 505.1h.7M750.7 504.9h.7M740.5 488.4h.7M753.6 504.3h.7M746.6 499.2h.7M748.4 497.3h.7M743.2 493.7h.7M750.1 506.2h.7M740.7 493.9h.7M730.5 502.3h.7M740.2 499.4h.7M749.3 493.2h.7M737 486.9h.7M749.2 503.9h.7M737 498h.7M753.4 498.5h.7M744.8 486.7h.7M749.2 503.5h.7M752.7 498.7h.7M743.9 509.6h.7M750 509.1h.7M743.2 502.5h.7M740.4 505.1h.7M746 499h.7M749.1 493.8h.7M748.8 503.3h.7M752.5 499.9h.7M743 503.5h.7M751.5 494.3h.7M745.9 493.6h.7M744 503.9h.7M735.7 484.2h.7M750.2 500.8h.7M755.6 505.4h.7M784.9 493.5h.7M779 500.4h.7M780.1 496h.7M782.8 498.7h.7M776.5 499h.7M776.1 504h.7M788.3 496h.7M777.4 506.5h.7M777.6 496.5h.7M778 500.1h.7M777.6 499.9h.7M781.2 495.4h.7M777.6 495h.7M774 494.7h.7M780.3 490.5h.7M783 496.2h.7M775.9 485h.7M781.6 494.9h.7M777.5 501.8h.7M780.3 500.9h.7M776.5 502.3h.7M783.4 495.3h.7M777.4 496.3h.7M780.6 496.2h.7M776.1 506.6h.7M776 490.9h.7M780.8 496.8h.7M776.9 493.9h.7M777.9 494h.7M778 498.3h.7M779.5 499h.7M774.8 495.4h.7M781.4 496h.7M781.9 497.1h.7M775.6 500.1h.7M778 504.1h.7M780.3 502.4h.7M776 497.6h.7M782.5 499.5h.7M778 504h.7M772.7 500.4h.7M776.7 493.7h.7M773.4 494.8h.7M775.2 497.7h.7M778.1 499.7h.7M774.7 502.4h.7M778.1 498.8h.7M777.3 497.9h.7M773 497.4h.7M775 490.4h.7M776.7 506.6h.7M780.6 493.9h.7M773.8 507.7h.7M777.8 501.1h.7M771.7 497.3h.7M777.9 500.3h.7M773.1 497.7h.7M783 499.2h.7M782.9 497.8h.7M781.1 498.3h.7M778.4 498.4h.7M776.7 496h.7M765.9 496.7h.7M776.6 493.4h.7M776.3 493.9h.7M782.8 500.6h.7M774.9 504.3h.7M772 494.2h.7M778.6 495.2h.7M779.9 495.2h.7M772.9 494.4h.7M782.6 496.6h.7M774.2 496.4h.7M768.2 493.3h.7M775.4 498.7h.7M778.1 499.6h.7M784.7 501h.7M777.8 493.1h.7M777.4 503.3h.7M772.5 510.3h.7M770.8 491.1h.7M773.8 498.8h.7M769.6 499h.7M772.9 495.8h.7M777.8 493.2h.7M778.1 493.9h.7M781.3 494.8h.7M777.4 496.2h.7M782.9 493.9h.7M771 503.6h.7M777.2 506h.7M781.4 498.7h.7M768.6 496.4h.7M775.7 505.9h.7M770.8 505h.7M772.5 493.1h.7M776.8 496.5h.7M778.9 502.5h.7M781.1 497h.7M784.7 495.8h.7M778.4 502.5h.7M784.1 502.4h.7M781.4 503.6h.7M776.1 500h.7M775.4 497.7h.7M778.6 493.6h.7M782.2 491.6h.7M777.8 496.5h.7M774.5 496.9h.7M780.7 488.5h.7M775.3 498.5h.7M777.3 498.8h.7M778.2 497.5h.7M779.4 493.5h.7M777.2 490.2h.7M776.3 499.9h.7M785.1 497.2h.7M775.8 502.6h.7M773.6 493.7h.7M775.3 506.6h.7M775.3 491.2h.7M774.4 496.4h.7M779.6 495.4h.7M772.7 499.8h.7M778.4 493.9h.7M781.9 503.5h.7M772.9 496.9h.7M779.4 495.6h.7M779.1 494.9h.7M774.2 497.5h.7M775.4 493h.7M776.9 505.8h.7M776.5 495.2h.7M773.4 493.4h.7M774.9 492.4h.7M776.2 501.3h.7M774.4 488.4h.7M775.6 492.4h.7M774.3 503h.7M774.4 499.8h.7M783.2 497.1h.7M774 497.2h.7M778.3 492.9h.7M776.4 494.6h.7M774.4 497.9h.7M768.5 489.6h.7M776.6 498.3h.7M774.6 499.1h.7M777.5 502.7h.7M780.2 495.9h.7M778.4 493.2h.7M772 499.8h.7M774.9 498.2h.7M774.7 491.6h.7M780.4 493.6h.7M778.6 502.7h.7M776.8 498.9h.7M773.8 493.1h.7M781.1 496.4h.7M781.5 500.1h.7M780.1 498.3h.7M779.3 496.1h.7M776.5 502.6h.7M781.1 491.9h.7M778.5 498.6h.7M783.3 502.5h.7M781 495h.7M778.9 492.6h.7M777 495h.7M779.6 496h.7M773 496.5h.7M778.2 495.3h.7M776.1 485.9h.7M776.9 501.7h.7M771.9 486.8h.7M772.2 502.8h.7M777.8 504.6h.7M772.4 490.6h.7M776.1 493.5h.7M780 495.8h.7M777.3 490h.7M778.1 490.4h.7M766.7 491.5h.7M768.1 496.1h.7M779.8 500.7h.7M777.8 490.5h.7M773.8 490h.7M775 506.1h.7M765.1 490.9h.7M781.6 496.1h.7M773.1 492.8h.7M781.5 502.2h.7M776 496.7h.7M781.3 491.7h.7M776.2 506h.7M784.5 499.6h.7M786.7 509.9h.7M777.7 500.5h.7M783 498.6h.7M776.9 499.6h.7M771.2 498.4h.7M778.5 489.4h.7M781.3 494.8h.7M781.4 492.5h.7M783.6 490.4h.7M778.6 495.4h.7M776.2 495.2h.7M774.6 508.5h.7M776 498.6h.7M779.4 482.5h.7M762.8 489.3h.7M779.9 497.2h.7M768.8 491.2h.7M774.5 486.9h.7M777.9 498h.7M771 502.6h.7M778.2 498.7h.7M777.8 491.9h.7M773 490.2h.7M778 495h.7M782.1 497.5h.7M771 499.3h.7M773.4 497.5h.7M771 500.5h.7M780.5 489.9h.7M783.2 498.8h.7M777.9 501.6h.7M779.1 496.1h.7M780.4 497.7h.7M778.6 489h.7M773.3 500.6h.7M780.3 498.3h.7M780.5 494.7h.7M780.1 501.6h.7M776.3 499.7h.7M779.3 502.9h.7M785.2 493h.7M781.4 499.3h.7M774.1 493.6h.7M776.5 498h.7M776.7 498.8h.7M778.9 501.8h.7M773.4 497.1h.7M770.8 493.9h.7M778.5 497h.7M784.6 498.1h.7M776.3 501.7h.7M777.5 509.8h.7M787.2 496h.7M769.3 505.6h.7M783.9 506.9h.7M776.4 495h.7M776.2 499.2h.7M779.9 493.4h.7M780.4 496.2h.7M782.9 500.5h.7M772.6 494.2h.7M781.2 491.8h.7M778.8 492.6h.7M776.7 496.9h.7M776.8 497.6h.7M769.4 499.9h.7M780.9 497.3h.7M774.4 493.9h.7M779.3 488.1h.7M784 497.7h.7M788.6 501.7h.7M773.8 497.9h.7M775.1 503.8h.7M773.4 493.7h.7M771.7 500.9h.7M772 491.3h.7M783.7 489.3h.7M770.8 498.7h.7M778.5 498.9h.7M783 492.8h.7M783.2 499.7h.7M776.3 487.3h.7M774.9 502h.7M772 496.9h.7M777.6 499.9h.7M785.6 488.4h.7M775.3 494.9h.7M775 497.7h.7M779.7 490.2h.7M785 497.9h.7M782.6 489.4h.7M787.8 494.7h.7M775.3 500.8h.7M775.2 504.5h.7M773.9 493.3h.7M780.1 502.3h.7M774.7 495.4h.7M778.9 499.1h.7M775.4 494.1h.7M771.8 496.7h.7M773.3 492.9h.7M775.6 496.8h.7M783.3 503.3h.7M775.8 493.1h.7M777 502.2h.7M774.3 509.4h.7M777.1 495.6h.7M774.8 498.2h.7M771.7 498h.7M776 493.5h.7M778.8 502.9h.7M771.6 499.2h.7M772.9 490.5h.7M772.3 494.3h.7M777 497.3h.7M782.7 494h.7M775.2 495.4h.7M777.1 487.4h.7M779 501.1h.7M776.7 493.1h.7M779.2 493h.7M774.6 498.4h.7M781.2 500.5h.7M777.9 500.3h.7M781 503.7h.7M779.2 502.1h.7M779.8 493.9h.7M774.9 496.6h.7M781.8 488.7h.7M780.6 491.6h.7M779.1 500.5h.7M774.7 492.2h.7M779.3 498.7h.7M774.5 494.5h.7M775.1 493.2h.7M780 499h.7M785.8 497.4h.7M782.1 498.8h.7M774.6 495h.7M778.9 503.8h.7M780.5 493.6h.7M776.7 501.7h.7M777.9 494h.7M763.6 497.8h.7M776 502.4h.7M779.6 503.1h.7M777.9 494.8h.7M780.7 497.8h.7M774.3 498.5h.7M772.2 497h.7M775 503.3h.7M780.2 498.9h.7M782 499.5h.7M772.2 492.8h.7M775.2 494h.7M773.3 495.4h.7M777.1 502.3h.7M776 497.4h.7M779.7 499h.7M779 497.8h.7M775.4 500.5h.7M775.9 494.2h.7M775.4 494.8h.7M783.3 502h.7M773.4 475.5h.7M772.9 464h.7M780.5 458.4h.7M772.9 490.1h.7M779 470.4h.7M778.1 467.8h.7M775.5 472.4h.7M771.5 479.7h.7M767.6 465.1h.7M771.4 457.3h.7M768.9 480.5h.7M777.2 468.6h.7M770 467.3h.7M780.9 465h.7M773.3 474h.7M777.1 462.2h.7M768.1 468.3h.7M779.1 470.5h.7M770 459.9h.7M768.9 462.5h.7M774.4 470h.7M775.3 476.7h.7M776.8 460.3h.7M781.8 474.4h.7M769.5 465.8h.7M785.1 465.3h.7M779.3 466.2h.7M772.5 470.4h.7M776.5 482.2h.7M775.1 470.2h.7M783.8 481.4h.7M770.4 466.9h.7M774.6 465.3h.7M770.3 466.1h.7M772.8 468.4h.7M775.2 460.9h.7M769.6 464.7h.7M775.8 475.8h.7M773.3 473.1h.7M771.1 469.6h.7M767.3 469.8h.7M771.2 460.7h.7M778.8 468.7h.7M773.7 461.7h.7M781.6 481h.7M775.1 478.5h.7M773 465.2h.7M778 469.8h.7M776 469.1h.7M770.1 464h.7M771 474.7h.7M776.9 467.1h.7M769.8 471.1h.7M771.9 475h.7M772.7 464.7h.7M777.9 465.6h.7M768.4 469.2h.7M777.7 463.6h.7M771.7 467.4h.7M766 459.2h.7M779.7 459.4h.7M773.2 465.9h.7M781.6 463h.7M777.2 488.8h.7M773.7 469.3h.7M769 460.3h.7M772.3 460h.7M781.2 478.6h.7M770.3 464.6h.7M773.5 468.1h.7M782.3 489.7h.7M777.7 467.4h.7M777.2 474.9h.7M780.3 470.1h.7M778.5 466.3h.7M772 470h.7M778.9 461.3h.7M774.7 486h.7M772.9 462.2h.7M767.9 471.5h.7M778 471.6h.7M781.5 464.7h.7M773.6 469.2h.7M777 470.9h.7M775.9 475.2h.7M781.8 475.4h.7M778.5 472.4h.7M778.9 460.6h.7M771.3 455.9h.7M780.5 480.7h.7M775.3 479.9h.7M775.7 458.8h.7M777.5 468.6h.7M773.6 466.4h.7M773.5 470.2h.7M777.9 465.1h.7M773.3 465h.7M780 461.2h.7M769.7 471.9h.7M770.7 458.9h.7M776.4 475.9h.7M769.1 472.6h.7M777.6 470.2h.7M781.3 463.1h.7M777.9 465.8h.7M771.8 467.8h.7M772.3 470.9h.7M778.8 478h.7M770.8 469.2h.7M770.1 474.4h.7M775.2 469.6h.7M780.8 465.8h.7M773.2 476.6h.7M774.4 469.2h.7M773.7 463.7h.7M772.1 480.7h.7M774.9 471.7h.7M773.6 475.5h.7M767.8 466.3h.7M776.5 462.9h.7M773.8 475.1h.7M779 464.2h.7M775.4 475.8h.7M777.7 472.8h.7M772.7 465h.7M776.5 472.1h.7M780 473h.7M772 472.3h.7M777.6 475.9h.7M777.2 464.8h.7M776.5 472.7h.7M776.8 468.8h.7M775.7 467.3h.7M765.5 471.4h.7M775.9 474.7h.7M781.2 468.5h.7M777.5 464h.7M777 476h.7M776 475.2h.7M777.6 466.6h.7M776 469.2h.7M770 473.2h.7M769.9 462.4h.7M776.9 469h.7M773.7 473.1h.7M773.2 463.8h.7M771.7 469.3h.7M783.9 474.5h.7M770.1 482h.7M777.4 473.9h.7M773.3 476h.7M772.7 454.7h.7M772.1 452h.7M772.7 470.2h.7M776.6 474.9h.7M772 475h.7M772.6 461.7h.7M772.8 469h.7M777.6 470.7h.7M771.8 466h.7M772.7 468.7h.7M768.9 464.5h.7M773.7 474.1h.7M775.4 469.1h.7M777.7 463h.7M776.4 477.6h.7M771.7 444.5h.7M777.8 469.5h.7M770.3 460.9h.7M771.2 483.8h.7M775.9 471.1h.7M775.4 479.1h.7M779.3 475.2h.7M770.7 460.3h.7M773.9 467.6h.7M773.7 472.3h.7M774.2 464.7h.7M778 474.4h.7M775.7 469.7h.7M773.3 458h.7M779.7 476.2h.7M771.4 468.4h.7M776.4 456.3h.7M774.3 472.8h.7M771.5 463h.7M775.7 465.1h.7M777.6 473h.7M766.8 464.8h.7M774.7 468.5h.7M772.2 476.3h.7M767 471.8h.7M774.1 476.8h.7M773.2 460.8h.7M778 472.2h.7M774.7 464.6h.7M777.7 464.8h.7M768.3 473.8h.7M783.4 473.9h.7M776.6 488.5h.7M769.8 476.6h.7M770.1 470.6h.7M778.5 478.7h.7M771.3 467.7h.7M782.2 476.2h.7M769.8 471.6h.7M776.1 464.3h.7M777.5 468.2h.7M775.3 464.5h.7M777.8 472.7h.7M775.7 458.6h.7M776.6 467.6h.7M770.8 471.1h.7M775.1 466.2h.7M773.7 474.7h.7M779.5 464.1h.7M775.8 458.2h.7M773.9 472.9h.7M782.6 460.6h.7M771.4 467.1h.7M772.4 466.8h.7M774.7 466h.7M766.6 466.2h.7M774.1 475.3h.7M772.3 465h.7M782.4 465.7h.7M782.9 460.6h.7M778 469.5h.7M777.7 476.9h.7M771.8 467.6h.7M774.5 478.9h.7M776.2 461.7h.7M765.9 483.7h.7M775.1 469.1h.7M777.6 471.7h.7M770.5 473.7h.7M774.7 475.7h.7M775.2 484.8h.7M775 478.7h.7M776.3 463.2h.7M778.9 459.2h.7M771.8 465.8h.7M774.3 471.9h.7M770.4 460.5h.7M767.2 462.6h.7M768.8 483.2h.7M774.3 470.8h.7M777 482.1h.7M776.8 466.3h.7M775.4 472.5h.7M772.7 456.9h.7M781.5 460.9h.7M769 475h.7M774.8 476.1h.7M771.5 463.3h.7M774.4 467.9h.7M781.3 468.3h.7M775.7 457.9h.7M778.8 459.5h.7M775.8 481.7h.7M768.8 474.6h.7M777.3 478.7h.7M772.8 460.7h.7M768.8 472.9h.7M776.7 479.4h.7M776.8 468.5h.7M774.4 465.9h.7M774.1 466h.7M777 480.6h.7M777.9 459.6h.7M777.4 451.2h.7M770.4 488.9h.7M773.8 467.4h.7M776.4 463.3h.7M773.5 456.9h.7M770.3 461.4h.7M771.3 474h.7M772.9 470.1h.7M780.2 478.2h.7M771 467.7h.7M768.5 472.8h.7M774.1 465.8h.7M778.2 483.1h.7M781.7 473.3h.7M768.9 466.2h.7M775.6 464.9h.7M774 472.2h.7M775.3 456h.7M778.4 469.9h.7M774.3 468h.7M772.8 461h.7M772.6 478.1h.7M774.4 474.5h.7M776 462.9h.7M776.8 464.9h.7M773.2 470.6h.7M778.7 464.1h.7M781.4 470.3h.7M775.4 463.7h.7M775.4 460h.7M771.9 458.3h.7M770.7 462h.7M764.6 472.9h.7M774.2 446.3h.7M760.2 483.5h.7M770.4 453.5h.7M776.7 476.7h.7M778.1 460.7h.7M775.5 474.9h.7M778.5 468.3h.7M773.5 477.2h.7M772.4 470.6h.7M779.2 467.5h.7M776.1 466h.7M778.1 470.7h.7M773.3 465h.7M777.4 475.3h.7M774.7 472.6h.7M772.8 459.7h.7M768.7 477h.7M771.1 469.2h.7M771.6 453.7h.7M777.4 456.7h.7M764.2 463.8h.7M781.6 463h.7M774.6 476.4h.7M777.8 477.7h.7M776.5 471.5h.7M780.3 467.5h.7M779 462.3h.7M774 477.3h.7M774.4 464.4h.7M777.3 467h.7M775.7 481.5h.7M779.3 476.5h.7M781 456.1h.7M779.2 466.6h.7M772.6 460.7h.7M780 463.1h.7M776.2 469.6h.7M779.1 462.5h.7M772.9 466.4h.7M775.7 470.5h.7M776.3 473.7h.7M775 474.9h.7M770.9 468h.7M770.6 457.2h.7M771.1 471.8h.7M772.8 462.7h.7M780.9 465.2h.7M772.6 461.6h.7M782.9 462.3h.7M780.6 487.1h.7M781 470.8h.7M772.5 475.1h.7M775.8 459h.7M772.3 479.3h.7M778.8 457.5h.7M773.7 477.4h.7M773.8 469.5h.7M780.8 469.3h.7M777.2 474.2h.7M779.8 451.8h.7M775.6 466.5h.7M775.7 476.5h.7M771.6 479.3h.7M770.7 469.9h.7M773.2 473.9h.7M777 468h.7M779.4 479.4h.7M771.2 465.3h.7M773.1 451.5h.7M781.4 467.9h.7M771.8 480h.7M779.1 468.1h.7M779.2 467.4h.7M774.2 476.4h.7M775.1 480.4h.7M779.4 478.6h.7M770.4 463.1h.7M776.3 457.6h.7M776.3 472.4h.7M777.4 478.4h.7M771.6 477.7h.7M776.4 470.8h.7M771.1 474.1h.7M774.3 471.4h.7M772.3 465.8h.7M773.2 461.5h.7M777.3 471.3h.7M778 463.1h.7" stroke="#2a3ce4" stroke-width=".7" fill="none" opacity=".9"/>
<ellipse cx="760.2" cy="484.7" rx="24.5" ry="3.4" transform="rotate(-47.2 760.2 484.7)" fill="url(#blu2)"/>
<ellipse cx="720.6" cy="532.4" rx="9" ry="1.6" transform="rotate(-55.2 720.6 532.4)" fill="url(#blu)"/>
<ellipse cx="717.1" cy="537.4" rx="3.5" ry="1.4" transform="rotate(-55.2 717.1 537.4)" fill="url(#jet)"/>
<ellipse cx="777.3" cy="497" rx="6.6" ry="6.6" fill="url(#blu)"/>
<ellipse cx="774.9" cy="468.9" rx="5.6" ry="10.5" transform="rotate(12 774.9 468.9)" fill="url(#blu)"/>
<ellipse cx="745.6" cy="500.5" rx="11.5" ry="6.4" transform="rotate(-68 745.6 500.5)" fill="url(#jet)"/>
<polygon points="773.7,459.5 779.6,463 781.2,471.2 778.4,479.4 764.4,488.8 753.8,507.6 749.1,513.4 743.2,512.3 739.7,505.2 742.1,495.8 752.6,486.5 764.4,470" fill="none" stroke="#333" stroke-width="0.6" stroke-linejoin="round"/>
</g>
<text x="716.8" y="437" font-family="'Liberation Sans',Arial,sans-serif" font-size="4.2" font-weight="normal" text-anchor="start" fill="#333">FL2-A, FL2-H subset</text>
<text x="716.8" y="444" font-family="'Liberation Sans',Arial,sans-serif" font-size="4.2" font-weight="normal" text-anchor="start" fill="#333">57.9%</text>
<path d="M735 540.4L735 542.4" stroke="#555" stroke-width="0.5" fill="none"/>
<text x="735" y="550.4" font-family="'Liberation Sans',Arial,sans-serif" font-size="4.3" font-weight="normal" text-anchor="middle" fill="#444">100K</text>
<path d="M756.1 540.4L756.1 542.4" stroke="#555" stroke-width="0.5" fill="none"/>
<text x="756.1" y="550.4" font-family="'Liberation Sans',Arial,sans-serif" font-size="4.3" font-weight="normal" text-anchor="middle" fill="#444">200K</text>
<path d="M776.6 540.4L776.6 542.4" stroke="#555" stroke-width="0.5" fill="none"/>
<text x="776.6" y="550.4" font-family="'Liberation Sans',Arial,sans-serif" font-size="4.3" font-weight="normal" text-anchor="middle" fill="#444">300K</text>
<path d="M797.2 540.4L797.2 542.4" stroke="#555" stroke-width="0.5" fill="none"/>
<text x="797.2" y="550.4" font-family="'Liberation Sans',Arial,sans-serif" font-size="4.3" font-weight="normal" text-anchor="middle" fill="#444">400K</text>
<path d="M718.1 540.4L718.1 541.5" stroke="#555" stroke-width="0.4" fill="none"/>
<path d="M722.3 540.4L722.3 541.5" stroke="#555" stroke-width="0.4" fill="none"/>
<path d="M726.6 540.4L726.6 541.5" stroke="#555" stroke-width="0.4" fill="none"/>
<path d="M730.8 540.4L730.8 541.5" stroke="#555" stroke-width="0.4" fill="none"/>
<path d="M735 540.4L735 541.5" stroke="#555" stroke-width="0.4" fill="none"/>
<path d="M739.2 540.4L739.2 541.5" stroke="#555" stroke-width="0.4" fill="none"/>
<path d="M743.4 540.4L743.4 541.5" stroke="#555" stroke-width="0.4" fill="none"/>
<path d="M747.7 540.4L747.7 541.5" stroke="#555" stroke-width="0.4" fill="none"/>
<path d="M751.9 540.4L751.9 541.5" stroke="#555" stroke-width="0.4" fill="none"/>
<path d="M756.1 540.4L756.1 541.5" stroke="#555" stroke-width="0.4" fill="none"/>
<path d="M760.3 540.4L760.3 541.5" stroke="#555" stroke-width="0.4" fill="none"/>
<path d="M764.5 540.4L764.5 541.5" stroke="#555" stroke-width="0.4" fill="none"/>
<path d="M768.8 540.4L768.8 541.5" stroke="#555" stroke-width="0.4" fill="none"/>
<path d="M773 540.4L773 541.5" stroke="#555" stroke-width="0.4" fill="none"/>
<path d="M777.2 540.4L777.2 541.5" stroke="#555" stroke-width="0.4" fill="none"/>
<path d="M781.4 540.4L781.4 541.5" stroke="#555" stroke-width="0.4" fill="none"/>
<path d="M785.6 540.4L785.6 541.5" stroke="#555" stroke-width="0.4" fill="none"/>
<path d="M789.9 540.4L789.9 541.5" stroke="#555" stroke-width="0.4" fill="none"/>
<path d="M794.1 540.4L794.1 541.5" stroke="#555" stroke-width="0.4" fill="none"/>
<path d="M798.3 540.4L798.3 541.5" stroke="#555" stroke-width="0.4" fill="none"/>
<path d="M712.6 441.2L714.6 441.2" stroke="#555" stroke-width="0.5" fill="none"/>
<text x="711.4" y="442.7" font-family="'Liberation Sans',Arial,sans-serif" font-size="4.3" font-weight="normal" text-anchor="end" fill="#444">300K</text>
<path d="M712.6 474.3L714.6 474.3" stroke="#555" stroke-width="0.5" fill="none"/>
<text x="711.4" y="475.8" font-family="'Liberation Sans',Arial,sans-serif" font-size="4.3" font-weight="normal" text-anchor="end" fill="#444">200K</text>
<path d="M712.6 507.6L714.6 507.6" stroke="#555" stroke-width="0.5" fill="none"/>
<text x="711.4" y="509.1" font-family="'Liberation Sans',Arial,sans-serif" font-size="4.3" font-weight="normal" text-anchor="end" fill="#444">100K</text>
<path d="M713.5 434.6L714.6 434.6" stroke="#555" stroke-width="0.4" fill="none"/>
<path d="M713.5 441.2L714.6 441.2" stroke="#555" stroke-width="0.4" fill="none"/>
<path d="M713.5 447.8L714.6 447.8" stroke="#555" stroke-width="0.4" fill="none"/>
<path d="M713.5 454.4L714.6 454.4" stroke="#555" stroke-width="0.4" fill="none"/>
<path d="M713.5 461.1L714.6 461.1" stroke="#555" stroke-width="0.4" fill="none"/>
<path d="M713.5 467.7L714.6 467.7" stroke="#555" stroke-width="0.4" fill="none"/>
<path d="M713.5 474.3L714.6 474.3" stroke="#555" stroke-width="0.4" fill="none"/>
<path d="M713.5 480.9L714.6 480.9" stroke="#555" stroke-width="0.4" fill="none"/>
<path d="M713.5 487.5L714.6 487.5" stroke="#555" stroke-width="0.4" fill="none"/>
<path d="M713.5 494.2L714.6 494.2" stroke="#555" stroke-width="0.4" fill="none"/>
<path d="M713.5 500.8L714.6 500.8" stroke="#555" stroke-width="0.4" fill="none"/>
<path d="M713.5 507.4L714.6 507.4" stroke="#555" stroke-width="0.4" fill="none"/>
<path d="M713.5 514L714.6 514" stroke="#555" stroke-width="0.4" fill="none"/>
<path d="M713.5 520.6L714.6 520.6" stroke="#555" stroke-width="0.4" fill="none"/>
<path d="M713.5 527.3L714.6 527.3" stroke="#555" stroke-width="0.4" fill="none"/>
<path d="M713.5 533.9L714.6 533.9" stroke="#555" stroke-width="0.4" fill="none"/>
<text x="695.5" y="492.9" font-family="'Liberation Sans',Arial,sans-serif" font-size="4.2" font-weight="normal" text-anchor="middle" fill="#444" transform="rotate(-90 695.5 492.9)">FL2-H: FL2-H</text>
<text x="758" y="561.4" font-family="'Liberation Sans',Arial,sans-serif" font-size="4.2" font-weight="normal" text-anchor="middle" fill="#444">FL2-A: FL2-A</text>
<rect x="327.3" y="569.6" width="87.2" height="112.2" fill="#fff" stroke="#444" stroke-width="0.8"/>
<clipPath id="hc327"><rect x="327.3" y="569.6" width="87.2" height="112.2"/></clipPath><g clip-path="url(#hc327)">
<path d="M327.3 680.6L327.3 680.6L328.1 680.6L329 680.6L329.8 680.6L330.7 680.6L331.5 680.6L332.4 680.6L333.2 680.6L334.1 680.6L334.9 680.6L335.8 680.6L336.6 680.6L337.5 680.6L338.3 680.6L339.2 680.6L340 680.6L340.8 680.6L341.7 680.6L342.5 680.6L343.4 680.6L344.2 680.6L345.1 680.6L345.9 680.6L346.8 680.6L347.6 680.6L348.5 680.6L349.3 680.6L350.2 680.6L350.2 680.6L350.5 680.6L350.9 680.6L351 680.6L351.2 680.6L351.5 680.6L351.9 680.6L351.9 680.6L352.2 680.6L352.5 680.6L352.7 680.6L352.9 680.6L353.2 680.6L353.5 680.6L353.5 680.6L353.9 680.2L354.2 679.8L354.4 679.4L354.5 679L354.9 677.8L355.2 675.7L355.2 675.4L355.5 672.6L355.9 668L356.1 664L356.2 661.5L356.5 653L356.9 642.4L356.9 640.1L357.2 629.9L357.5 616.3L357.8 606L357.9 602.4L358.2 589.5L358.5 579.1L358.6 576.8L358.9 572.3L359.2 569.9L359.5 571.5L359.5 572.3L359.9 579.1L360.2 589.4L360.3 593.7L360.5 602.2L360.9 616L361.2 628.2L361.2 629.6L361.5 642L361.9 652.5L362 656.4L362.2 660.9L362.5 667.3L362.9 671.7L362.9 671.8L363.2 674.9L363.5 676.9L363.7 677.6L363.9 678.1L364.2 678.8L364.5 679.2L364.6 679.2L364.9 679.4L365.2 679.5L365.4 679.5L365.5 679.5L365.9 679.5L366.2 679.5L366.2 679.5L366.5 679.5L366.9 679.5L367.1 679.5L367.2 679.6L367.5 679.6L367.9 679.6L367.9 679.6L368.2 679.6L368.8 679.6L369.6 679.6L370.5 679.6L371.3 679.6L372.2 679.7L373 679.7L373.9 679.7L374.7 679.7L375.6 679.8L376.4 679.8L377.2 679.8L378.1 679.8L378.9 679.7L379.8 679.7L380.6 679.5L381.5 679.3L382.3 679L383.2 678.6L384 678.1L384.9 677.5L385.7 676.9L386.6 676.3L387.4 676L388.3 675.8L389.1 675.9L389.9 676.2L390.8 676.7L391.6 677.3L392.5 677.9L393.3 678.6L394.2 679.1L395 679.6L395.9 679.9L396.7 680.2L397.6 680.6L398.4 680.6L399.3 680.6L400.1 680.6L401 680.6L401.8 680.6L402.6 680.6L403.5 680.6L404.3 680.6L405.2 680.6L406 680.6L406.9 680.6L407.7 680.6L408.6 680.6L409.4 680.6L410.3 680.6L411.1 680.6L412 680.6L412.8 680.6L413.7 680.6L414.5 680.6L414.5 680.6Z" fill="#eee" stroke="#e010d0" stroke-width="1.1" opacity="1"/>
<path d="M327.3 680.6L327.3 680.6L328.1 680.6L329 680.6L329.8 680.6L330.7 680.6L331.5 680.6L332.4 680.6L333.2 680.6L334.1 680.6L334.9 680.6L335.8 680.6L336.6 680.6L337.5 680.6L338.3 680.6L339.2 680.6L340 680.6L340.8 680.6L341.7 680.6L342.5 680.6L343.4 680.6L344.2 680.6L345.1 680.6L345.9 680.6L346.8 680.6L347.6 680.6L348.5 680.6L349.3 680.6L350.2 680.6L350.2 680.6L350.5 680.6L350.9 680.6L351 680.6L351.2 680.6L351.5 680.6L351.9 680.6L351.9 680.6L352.2 680.6L352.5 680.6L352.7 680.6L352.9 680.6L353.2 680.6L353.5 680.6L353.5 680.6L353.9 680.6L354.2 680.6L354.4 680.6L354.5 680.6L354.9 680.6L355.2 680.6L355.2 680.6L355.5 680.6L355.9 680.6L356.1 680.6L356.2 680.6L356.5 680.6L356.9 680.6L356.9 680.6L357.2 680.6L357.5 680.6L357.8 680.6L357.9 680.6L358.2 680.6L358.5 680.6L358.6 680.6L358.9 680.6L359.2 680.6L359.5 680.6L359.5 680.6L359.9 680.5L360.2 680.5L360.3 680.4L360.5 680.4L360.9 680.3L361.2 680.1L361.2 680.1L361.5 680L361.9 679.9L362 679.8L362.2 679.7L362.5 679.6L362.9 679.5L362.9 679.5L363.2 679.4L363.5 679.3L363.7 679.3L363.9 679.3L364.2 679.2L364.5 679.2L364.6 679.2L364.9 679.1L365.2 679.1L365.4 679.1L365.5 679.1L365.9 679.1L366.2 679.1L366.2 679.1L366.5 679.1L366.9 679.1L367.1 679.1L367.2 679.1L367.5 679.1L367.9 679.1L367.9 679.1L368.2 679.1L368.8 679.2L369.6 679.2L370.5 679.2L371.3 679.2L372.2 679.3L373 679.3L373.9 679.3L374.7 679.4L375.6 679.4L376.4 679.4L377.2 679.5L378.1 679.5L378.9 679.5L379.8 679.6L380.6 679.6L381.5 679.6L382.3 679.6L383.2 679.7L384 679.7L384.9 679.7L385.7 679.8L386.6 679.8L387.4 680L388.3 680.1L389.1 680.3L389.9 680.5L390.8 680.6L391.6 680.6L392.5 680.6L393.3 680.6L394.2 680.6L395 680.6L395.9 680.6L396.7 680.6L397.6 680.6L398.4 680.6L399.3 680.6L400.1 680.6L401 680.6L401.8 680.6L402.6 680.6L403.5 680.6L404.3 680.6L405.2 680.6L406 680.6L406.9 680.6L407.7 680.6L408.6 680.6L409.4 680.6L410.3 680.6L411.1 680.6L412 680.6L412.8 680.6L413.7 680.6L414.5 680.6L414.5 680.6Z" fill="#e8e070" stroke="#a09020" stroke-width="0.3" opacity="1"/>
<path d="M327.3 680.6L327.3 680.6L328.1 680.6L329 680.6L329.8 680.6L330.7 680.6L331.5 680.6L332.4 680.6L333.2 680.6L334.1 680.6L334.9 680.6L335.8 680.6L336.6 680.6L337.5 680.6L338.3 680.6L339.2 680.6L340 680.6L340.8 680.6L341.7 680.6L342.5 680.6L343.4 680.6L344.2 680.6L345.1 680.6L345.9 680.6L346.8 680.6L347.6 680.6L348.5 680.6L349.3 680.6L350.2 680.6L350.2 680.6L350.5 680.6L350.9 680.6L351 680.6L351.2 680.6L351.5 680.6L351.9 680.6L351.9 680.6L352.2 680.6L352.5 680.6L352.7 680.6L352.9 680.6L353.2 680.5L353.5 680.4L353.5 680.4L353.9 680.2L354.2 679.8L354.4 679.4L354.5 679L354.9 677.8L355.2 675.7L355.2 675.4L355.5 672.6L355.9 668L356.1 664L356.2 661.5L356.5 653L356.9 642.4L356.9 640.1L357.2 629.9L357.5 616.3L357.8 606L357.9 602.4L358.2 589.5L358.5 579.1L358.6 576.8L358.9 572.3L359.2 569.9L359.5 571.5L359.5 572.3L359.9 579.1L360.2 589.5L360.3 593.9L360.5 602.4L360.9 616.3L361.2 628.5L361.2 629.9L361.5 642.4L361.9 653L362 656.9L362.2 661.5L362.5 668L362.9 672.5L362.9 672.6L363.2 675.7L363.5 677.8L363.7 678.5L363.9 679L364.2 679.8L364.5 680.2L364.6 680.2L364.9 680.4L365.2 680.5L365.4 680.5L365.5 680.6L365.9 680.6L366.2 680.6L366.2 680.6L366.5 680.6L366.9 680.6L367.1 680.6L367.2 680.6L367.5 680.6L367.9 680.6L367.9 680.6L368.2 680.6L368.8 680.6L369.6 680.6L370.5 680.6L371.3 680.6L372.2 680.6L373 680.6L373.9 680.6L374.7 680.6L375.6 680.6L376.4 680.6L377.2 680.6L378.1 680.6L378.9 680.6L379.8 680.6L380.6 680.6L381.5 680.6L382.3 680.6L383.2 680.6L384 680.6L384.9 680.6L385.7 680.6L386.6 680.6L387.4 680.6L388.3 680.6L389.1 680.6L389.9 680.6L390.8 680.6L391.6 680.6L392.5 680.6L393.3 680.6L394.2 680.6L395 680.6L395.9 680.6L396.7 680.6L397.6 680.6L398.4 680.6L399.3 680.6L400.1 680.6L401 680.6L401.8 680.6L402.6 680.6L403.5 680.6L404.3 680.6L405.2 680.6L406 680.6L406.9 680.6L407.7 680.6L408.6 680.6L409.4 680.6L410.3 680.6L411.1 680.6L412 680.6L412.8 680.6L413.7 680.6L414.5 680.6L414.5 680.6Z" fill="#90e888" stroke="#30a030" stroke-width="0.4" opacity="1"/>
<path d="M327.3 680.6L327.3 680.6L328.1 680.6L329 680.6L329.8 680.6L330.7 680.6L331.5 680.6L332.4 680.6L333.2 680.6L334.1 680.6L334.9 680.6L335.8 680.6L336.6 680.6L337.5 680.6L338.3 680.6L339.2 680.6L340 680.6L340.8 680.6L341.7 680.6L342.5 680.6L343.4 680.6L344.2 680.6L345.1 680.6L345.9 680.6L346.8 680.6L347.6 680.6L348.5 680.6L349.3 680.6L350.2 680.6L350.2 680.6L350.5 680.6L350.9 680.6L351 680.6L351.2 680.6L351.5 680.6L351.9 680.6L351.9 680.6L352.2 680.6L352.5 680.6L352.7 680.6L352.9 680.6L353.2 680.6L353.5 680.6L353.5 680.6L353.9 680.6L354.2 680.6L354.4 680.6L354.5 680.6L354.9 680.6L355.2 680.6L355.2 680.6L355.5 680.6L355.9 680.6L356.1 680.6L356.2 680.6L356.5 680.6L356.9 680.6L356.9 680.6L357.2 680.6L357.5 680.6L357.8 680.6L357.9 680.6L358.2 680.6L358.5 680.6L358.6 680.6L358.9 680.6L359.2 680.6L359.5 680.6L359.5 680.6L359.9 680.6L360.2 680.6L360.3 680.6L360.5 680.6L360.9 680.6L361.2 680.6L361.2 680.6L361.5 680.6L361.9 680.6L362 680.6L362.2 680.6L362.5 680.6L362.9 680.6L362.9 680.6L363.2 680.6L363.5 680.6L363.7 680.6L363.9 680.6L364.2 680.6L364.5 680.6L364.6 680.6L364.9 680.6L365.2 680.6L365.4 680.6L365.5 680.6L365.9 680.6L366.2 680.6L366.2 680.6L366.5 680.6L366.9 680.6L367.1 680.6L367.2 680.6L367.5 680.6L367.9 680.6L367.9 680.6L368.2 680.6L368.8 680.6L369.6 680.6L370.5 680.6L371.3 680.6L372.2 680.6L373 680.6L373.9 680.6L374.7 680.6L375.6 680.6L376.4 680.6L377.2 680.6L378.1 680.5L378.9 680.5L379.8 680.4L380.6 680.3L381.5 680L382.3 679.7L383.2 679.3L384 678.7L384.9 678.1L385.7 677.5L386.6 676.9L387.4 676.4L388.3 676.2L389.1 676.1L389.9 676.3L390.8 676.7L391.6 677.3L392.5 677.9L393.3 678.6L394.2 679.1L395 679.6L395.9 679.9L396.7 680.2L397.6 680.4L398.4 680.5L399.3 680.5L400.1 680.6L401 680.6L401.8 680.6L402.6 680.6L403.5 680.6L404.3 680.6L405.2 680.6L406 680.6L406.9 680.6L407.7 680.6L408.6 680.6L409.4 680.6L410.3 680.6L411.1 680.6L412 680.6L412.8 680.6L413.7 680.6L414.5 680.6L414.5 680.6Z" fill="#80e8f8" stroke="#2040e0" stroke-width="0.5" opacity="1"/>
<path d="M327.3 680.3L328.1 680.3L329 680.3L329.8 680.3L330.7 680.3L331.5 680.3L332.4 680.3L333.2 680.3L334.1 680.3L334.9 680.3L335.8 680.3L336.6 680.3L337.5 680.3L338.3 680.3L339.2 680.3L340 680.3L340.8 680.3L341.7 680.3L342.5 680.3L343.4 680.3L344.2 680.3L345.1 680.3L345.9 680.3L346.8 680.3L347.6 680.3L348.5 680.3L349.3 680.3L350.2 680.3L350.2 680.3L350.5 680.3L350.9 680.3L351 680.3L351.2 680.3L351.5 680.3L351.9 680.3L351.9 680.3L352.2 680.3L352.5 680.3L352.7 680.3L352.9 680.3L353.2 680.2L353.5 680.1L353.5 680.1L353.9 679.9L354.2 679.5L354.4 679.1L354.5 678.7L354.9 677.5L355.2 675.4L355.2 675.1L355.5 672.3L355.9 667.7L356.1 663.7L356.2 661.2L356.5 652.7L356.9 642.1L356.9 639.8L357.2 629.6L357.5 616L357.8 605.7L357.9 602.1L358.2 589.2L358.5 578.8L358.6 576.5L358.9 572L359.2 569.6L359.5 571.2L359.5 572L359.9 578.8L360.2 589.1L360.3 593.4L360.5 601.9L360.9 615.7L361.2 627.9L361.2 629.3L361.5 641.7L361.9 652.2L362 656.1L362.2 660.6L362.5 667L362.9 671.4L362.9 671.5L363.2 674.6L363.5 676.6L363.7 677.3L363.9 677.8L364.2 678.5L364.5 678.9L364.6 678.9L364.9 679.1L365.2 679.2L365.4 679.2L365.5 679.2L365.9 679.2L366.2 679.2L366.2 679.2L366.5 679.2L366.9 679.2L367.1 679.2L367.2 679.3L367.5 679.3L367.9 679.3L367.9 679.3L368.2 679.3L368.8 679.3L369.6 679.3L370.5 679.3L371.3 679.3L372.2 679.4L373 679.4L373.9 679.4L374.7 679.4L375.6 679.5L376.4 679.5L377.2 679.5L378.1 679.5L378.9 679.4L379.8 679.4L380.6 679.2L381.5 679L382.3 678.7L383.2 678.3L384 677.8L384.9 677.2L385.7 676.6L386.6 676L387.4 675.7L388.3 675.5L389.1 675.6L389.9 675.9L390.8 676.4L391.6 677L392.5 677.6L393.3 678.3L394.2 678.8L395 679.3L395.9 679.6L396.7 679.9L397.6 680.1L398.4 680.2L399.3 680.2L400.1 680.3L401 680.3L401.8 680.3L402.6 680.3L403.5 680.3L404.3 680.3L405.2 680.3L406 680.3L406.9 680.3L407.7 680.3L408.6 680.3L409.4 680.3L410.3 680.3L411.1 680.3L412 680.3L412.8 680.3L413.7 680.3L414.5 680.3" fill="none" stroke="#222" stroke-width="0.55"/>
<path d="M327.3 680.9L414.5 680.9" stroke="#222" stroke-width="1.0" fill="none"/>
<path d="M327.3 681.6L414.5 681.6" stroke="#30c0c0" stroke-width="0.5" fill="none"/>
</g>
<path d="M347.3 681.8L347.3 683.8" stroke="#555" stroke-width="0.5" fill="none"/>
<text x="347.3" y="692.4" font-family="'Liberation Sans',Arial,sans-serif" font-size="4.3" font-weight="normal" text-anchor="middle" fill="#444">100K</text>
<path d="M367.4 681.8L367.4 683.8" stroke="#555" stroke-width="0.5" fill="none"/>
<text x="367.4" y="692.4" font-family="'Liberation Sans',Arial,sans-serif" font-size="4.3" font-weight="normal" text-anchor="middle" fill="#444">200K</text>
<path d="M387.6 681.8L387.6 683.8" stroke="#555" stroke-width="0.5" fill="none"/>
<text x="387.6" y="692.4" font-family="'Liberation Sans',Arial,sans-serif" font-size="4.3" font-weight="normal" text-anchor="middle" fill="#444">300K</text>
<path d="M407.7 681.8L407.7 683.8" stroke="#555" stroke-width="0.5" fill="none"/>
<text x="407.7" y="692.4" font-family="'Liberation Sans',Arial,sans-serif" font-size="4.3" font-weight="normal" text-anchor="middle" fill="#444">400K</text>
<path d="M331.2 681.8L331.2 682.9" stroke="#555" stroke-width="0.4" fill="none"/>
<path d="M335.2 681.8L335.2 682.9" stroke="#555" stroke-width="0.4" fill="none"/>
<path d="M339.3 681.8L339.3 682.9" stroke="#555" stroke-width="0.4" fill="none"/>
<path d="M343.3 681.8L343.3 682.9" stroke="#555" stroke-width="0.4" fill="none"/>
<path d="M347.3 681.8L347.3 682.9" stroke="#555" stroke-width="0.4" fill="none"/>
<path d="M351.3 681.8L351.3 682.9" stroke="#555" stroke-width="0.4" fill="none"/>
<path d="M355.3 681.8L355.3 682.9" stroke="#555" stroke-width="0.4" fill="none"/>
<path d="M359.4 681.8L359.4 682.9" stroke="#555" stroke-width="0.4" fill="none"/>
<path d="M363.4 681.8L363.4 682.9" stroke="#555" stroke-width="0.4" fill="none"/>
<path d="M367.4 681.8L367.4 682.9" stroke="#555" stroke-width="0.4" fill="none"/>
<path d="M371.4 681.8L371.4 682.9" stroke="#555" stroke-width="0.4" fill="none"/>
<path d="M375.4 681.8L375.4 682.9" stroke="#555" stroke-width="0.4" fill="none"/>
<path d="M379.5 681.8L379.5 682.9" stroke="#555" stroke-width="0.4" fill="none"/>
<path d="M383.5 681.8L383.5 682.9" stroke="#555" stroke-width="0.4" fill="none"/>
<path d="M387.5 681.8L387.5 682.9" stroke="#555" stroke-width="0.4" fill="none"/>
<path d="M391.5 681.8L391.5 682.9" stroke="#555" stroke-width="0.4" fill="none"/>
<path d="M395.5 681.8L395.5 682.9" stroke="#555" stroke-width="0.4" fill="none"/>
<path d="M399.6 681.8L399.6 682.9" stroke="#555" stroke-width="0.4" fill="none"/>
<path d="M403.6 681.8L403.6 682.9" stroke="#555" stroke-width="0.4" fill="none"/>
<path d="M407.6 681.8L407.6 682.9" stroke="#555" stroke-width="0.4" fill="none"/>
<path d="M411.6 681.8L411.6 682.9" stroke="#555" stroke-width="0.4" fill="none"/>
<path d="M325.3 573L327.3 573" stroke="#555" stroke-width="0.5" fill="none"/>
<text x="324.1" y="574.5" font-family="'Liberation Sans',Arial,sans-serif" font-size="4.3" font-weight="normal" text-anchor="end" fill="#444">1500</text>
<path d="M325.3 609.2L327.3 609.2" stroke="#555" stroke-width="0.5" fill="none"/>
<text x="324.1" y="610.7" font-family="'Liberation Sans',Arial,sans-serif" font-size="4.3" font-weight="normal" text-anchor="end" fill="#444">1000</text>
<path d="M325.3 645.6L327.3 645.6" stroke="#555" stroke-width="0.5" fill="none"/>
<text x="324.1" y="647.1" font-family="'Liberation Sans',Arial,sans-serif" font-size="4.3" font-weight="normal" text-anchor="end" fill="#444">500</text>
<path d="M325.3 680.2L327.3 680.2" stroke="#555" stroke-width="0.5" fill="none"/>
<text x="324.1" y="681.7" font-family="'Liberation Sans',Arial,sans-serif" font-size="4.3" font-weight="normal" text-anchor="end" fill="#444">0</text>
<path d="M326.2 573L327.3 573" stroke="#555" stroke-width="0.4" fill="none"/>
<path d="M326.2 580.2L327.3 580.2" stroke="#555" stroke-width="0.4" fill="none"/>
<path d="M326.2 587.5L327.3 587.5" stroke="#555" stroke-width="0.4" fill="none"/>
<path d="M326.2 594.7L327.3 594.7" stroke="#555" stroke-width="0.4" fill="none"/>
<path d="M326.2 602L327.3 602" stroke="#555" stroke-width="0.4" fill="none"/>
<path d="M326.2 609.2L327.3 609.2" stroke="#555" stroke-width="0.4" fill="none"/>
<path d="M326.2 616.4L327.3 616.4" stroke="#555" stroke-width="0.4" fill="none"/>
<path d="M326.2 623.7L327.3 623.7" stroke="#555" stroke-width="0.4" fill="none"/>
<path d="M326.2 630.9L327.3 630.9" stroke="#555" stroke-width="0.4" fill="none"/>
<path d="M326.2 638.2L327.3 638.2" stroke="#555" stroke-width="0.4" fill="none"/>
<path d="M326.2 645.4L327.3 645.4" stroke="#555" stroke-width="0.4" fill="none"/>
<path d="M326.2 652.6L327.3 652.6" stroke="#555" stroke-width="0.4" fill="none"/>
<path d="M326.2 659.9L327.3 659.9" stroke="#555" stroke-width="0.4" fill="none"/>
<path d="M326.2 667.1L327.3 667.1" stroke="#555" stroke-width="0.4" fill="none"/>
<path d="M326.2 674.4L327.3 674.4" stroke="#555" stroke-width="0.4" fill="none"/>
<path d="M326.2 681.6L327.3 681.6" stroke="#555" stroke-width="0.4" fill="none"/>
<text x="307.5" y="626.7" font-family="'Liberation Sans',Arial,sans-serif" font-size="4.2" font-weight="normal" text-anchor="middle" fill="#444" transform="rotate(-90 307.5 626.7)">Count</text>
<text x="371" y="702.5" font-family="'Liberation Sans',Arial,sans-serif" font-size="4.2" font-weight="normal" text-anchor="middle" fill="#444">FL2-A</text>
<rect x="453.4" y="569.6" width="88.1" height="110.4" fill="#fff" stroke="#444" stroke-width="0.8"/>
<clipPath id="hc453"><rect x="453.4" y="569.6" width="88.1" height="110.4"/></clipPath><g clip-path="url(#hc453)">
<path d="M453.4 678.8L453.4 678.8L454.2 678.8L455.1 678.8L455.9 678.8L456.8 678.8L457.6 678.8L458.5 678.8L459.3 678.8L460.2 678.8L461 678.8L461.9 678.8L462.7 678.8L463.6 678.8L464.4 678.8L465.3 678.8L466.1 678.8L467 678.8L467.8 678.8L468.6 678.8L469.5 678.8L470.3 678.8L471.2 678.8L472 678.8L472.9 678.8L473.7 678.8L474.6 678.8L475.4 678.8L476.3 678.8L476.3 678.8L476.6 678.8L477 678.8L477.1 678.8L477.3 678.8L477.6 678.8L478 678.8L478 678.8L478.3 678.8L478.6 678.8L478.8 678.8L479 678.8L479.3 678.8L479.6 678.4L479.7 678.4L480 678L480.3 677.4L480.5 676.8L480.6 676.3L481 674.6L481.3 672L481.4 671.4L481.6 668.2L482 662.9L482.2 658.1L482.3 655.8L482.6 647L483 636.3L483 633.5L483.3 624.3L483.6 611.5L483.9 601.4L484 598.7L484.3 587.2L484.6 578L484.7 575.6L485 572L485.3 569.9L485.6 571.5L485.6 572L486 577.9L486.3 587L486.4 591.5L486.6 598.4L487 611L487.3 623.1L487.3 623.6L487.6 635.5L488 646L488.1 650.5L488.3 654.7L488.6 661.5L489 666.7L489 666.8L489.3 670.3L489.6 672.8L489.8 673.9L490 674.5L490.3 675.5L490.6 676L490.7 676.1L491 676.4L491.3 676.6L491.5 676.6L491.6 676.7L492 676.7L492.3 676.7L492.4 676.7L492.6 676.7L493 676.7L493.2 676.8L493.3 676.8L493.6 676.8L494 676.8L494.1 676.8L494.3 676.8L494.9 676.8L495.8 676.9L496.6 676.9L497.4 677L498.3 677L499.1 677L500 677.1L500.8 677.1L501.7 677.2L502.5 677.2L503.4 677.2L504.2 677.2L505.1 677.2L505.9 677.1L506.8 677L507.6 676.7L508.5 676.4L509.3 675.9L510.2 675.3L511 674.7L511.9 674L512.7 673.4L513.5 673.2L514.4 673.2L515.2 673.4L516.1 674L516.9 674.7L517.8 675.3L518.6 676L519.5 676.7L520.3 677.3L521.2 677.8L522 678.2L522.9 678.4L523.7 678.8L524.6 678.8L525.4 678.8L526.3 678.8L527.1 678.8L527.9 678.8L528.8 678.8L529.6 678.8L530.5 678.8L531.3 678.8L532.2 678.8L533 678.8L533.9 678.8L534.7 678.8L535.6 678.8L536.4 678.8L537.3 678.8L538.1 678.8L539 678.8L539.8 678.8L540.7 678.8L541.5 678.8L541.5 678.8Z" fill="#eee" stroke="#e010d0" stroke-width="1.1" opacity="1"/>
<path d="M453.4 678.8L453.4 678.8L454.2 678.8L455.1 678.8L455.9 678.8L456.8 678.8L457.6 678.8L458.5 678.8L459.3 678.8L460.2 678.8L461 678.8L461.9 678.8L462.7 678.8L463.6 678.8L464.4 678.8L465.3 678.8L466.1 678.8L467 678.8L467.8 678.8L468.6 678.8L469.5 678.8L470.3 678.8L471.2 678.8L472 678.8L472.9 678.8L473.7 678.8L474.6 678.8L475.4 678.8L476.3 678.8L476.3 678.8L476.6 678.8L477 678.8L477.1 678.8L477.3 678.8L477.6 678.8L478 678.8L478 678.8L478.3 678.8L478.6 678.8L478.8 678.8L479 678.8L479.3 678.8L479.6 678.8L479.7 678.8L480 678.8L480.3 678.8L480.5 678.8L480.6 678.8L481 678.8L481.3 678.8L481.4 678.8L481.6 678.8L482 678.8L482.2 678.8L482.3 678.8L482.6 678.8L483 678.8L483 678.8L483.3 678.8L483.6 678.8L483.9 678.8L484 678.8L484.3 678.8L484.6 678.8L484.7 678.8L485 678.8L485.3 678.8L485.6 678.8L485.6 678.8L486 678.7L486.3 678.5L486.4 678.5L486.6 678.3L487 678.1L487.3 677.9L487.3 677.9L487.6 677.6L488 677.4L488.1 677.2L488.3 677.1L488.6 676.9L489 676.7L489 676.7L489.3 676.5L489.6 676.3L489.8 676.2L490 676.2L490.3 676.1L490.6 676L490.7 676L491 675.9L491.3 675.9L491.5 675.9L491.6 675.9L492 675.9L492.3 675.9L492.4 675.9L492.6 675.9L493 675.9L493.2 675.9L493.3 675.9L493.6 675.9L494 675.9L494.1 675.9L494.3 676L494.9 676L495.8 676.1L496.6 676.1L497.4 676.2L498.3 676.2L499.1 676.3L500 676.3L500.8 676.4L501.7 676.5L502.5 676.5L503.4 676.6L504.2 676.7L505.1 676.7L505.9 676.8L506.8 676.8L507.6 676.9L508.5 677L509.3 677L510.2 677.1L511 677.1L511.9 677.2L512.7 677.3L513.5 677.6L514.4 677.9L515.2 678.2L516.1 678.5L516.9 678.8L517.8 678.8L518.6 678.8L519.5 678.8L520.3 678.8L521.2 678.8L522 678.8L522.9 678.8L523.7 678.8L524.6 678.8L525.4 678.8L526.3 678.8L527.1 678.8L527.9 678.8L528.8 678.8L529.6 678.8L530.5 678.8L531.3 678.8L532.2 678.8L533 678.8L533.9 678.8L534.7 678.8L535.6 678.8L536.4 678.8L537.3 678.8L538.1 678.8L539 678.8L539.8 678.8L540.7 678.8L541.5 678.8L541.5 678.8Z" fill="#e8e070" stroke="#a09020" stroke-width="0.3" opacity="1"/>
<path d="M453.4 678.8L453.4 678.8L454.2 678.8L455.1 678.8L455.9 678.8L456.8 678.8L457.6 678.8L458.5 678.8L459.3 678.8L460.2 678.8L461 678.8L461.9 678.8L462.7 678.8L463.6 678.8L464.4 678.8L465.3 678.8L466.1 678.8L467 678.8L467.8 678.8L468.6 678.8L469.5 678.8L470.3 678.8L471.2 678.8L472 678.8L472.9 678.8L473.7 678.8L474.6 678.8L475.4 678.8L476.3 678.8L476.3 678.8L476.6 678.8L477 678.8L477.1 678.8L477.3 678.8L477.6 678.8L478 678.8L478 678.8L478.3 678.8L478.6 678.8L478.8 678.7L479 678.7L479.3 678.6L479.6 678.4L479.7 678.4L480 678L480.3 677.4L480.5 676.8L480.6 676.3L481 674.6L481.3 672L481.4 671.4L481.6 668.2L482 662.9L482.2 658.1L482.3 655.8L482.6 647L483 636.3L483 633.5L483.3 624.3L483.6 611.5L483.9 601.4L484 598.7L484.3 587.2L484.6 578L484.7 575.6L485 572L485.3 569.9L485.6 571.5L485.6 572L486 578L486.3 587.2L486.4 591.7L486.6 598.7L487 611.5L487.3 623.7L487.3 624.3L487.6 636.3L488 647L488.1 651.6L488.3 655.8L488.6 662.9L489 668.2L489 668.3L489.3 672L489.6 674.6L489.8 675.7L490 676.3L490.3 677.4L490.6 678L490.7 678.1L491 678.4L491.3 678.6L491.5 678.7L491.6 678.7L492 678.8L492.3 678.8L492.4 678.8L492.6 678.8L493 678.8L493.2 678.8L493.3 678.8L493.6 678.8L494 678.8L494.1 678.8L494.3 678.8L494.9 678.8L495.8 678.8L496.6 678.8L497.4 678.8L498.3 678.8L499.1 678.8L500 678.8L500.8 678.8L501.7 678.8L502.5 678.8L503.4 678.8L504.2 678.8L505.1 678.8L505.9 678.8L506.8 678.8L507.6 678.8L508.5 678.8L509.3 678.8L510.2 678.8L511 678.8L511.9 678.8L512.7 678.8L513.5 678.8L514.4 678.8L515.2 678.8L516.1 678.8L516.9 678.8L517.8 678.8L518.6 678.8L519.5 678.8L520.3 678.8L521.2 678.8L522 678.8L522.9 678.8L523.7 678.8L524.6 678.8L525.4 678.8L526.3 678.8L527.1 678.8L527.9 678.8L528.8 678.8L529.6 678.8L530.5 678.8L531.3 678.8L532.2 678.8L533 678.8L533.9 678.8L534.7 678.8L535.6 678.8L536.4 678.8L537.3 678.8L538.1 678.8L539 678.8L539.8 678.8L540.7 678.8L541.5 678.8L541.5 678.8Z" fill="#90e888" stroke="#30a030" stroke-width="0.4" opacity="1"/>
<path d="M453.4 678.8L453.4 678.8L454.2 678.8L455.1 678.8L455.9 678.8L456.8 678.8L457.6 678.8L458.5 678.8L459.3 678.8L460.2 678.8L461 678.8L461.9 678.8L462.7 678.8L463.6 678.8L464.4 678.8L465.3 678.8L466.1 678.8L467 678.8L467.8 678.8L468.6 678.8L469.5 678.8L470.3 678.8L471.2 678.8L472 678.8L472.9 678.8L473.7 678.8L474.6 678.8L475.4 678.8L476.3 678.8L476.3 678.8L476.6 678.8L477 678.8L477.1 678.8L477.3 678.8L477.6 678.8L478 678.8L478 678.8L478.3 678.8L478.6 678.8L478.8 678.8L479 678.8L479.3 678.8L479.6 678.8L479.7 678.8L480 678.8L480.3 678.8L480.5 678.8L480.6 678.8L481 678.8L481.3 678.8L481.4 678.8L481.6 678.8L482 678.8L482.2 678.8L482.3 678.8L482.6 678.8L483 678.8L483 678.8L483.3 678.8L483.6 678.8L483.9 678.8L484 678.8L484.3 678.8L484.6 678.8L484.7 678.8L485 678.8L485.3 678.8L485.6 678.8L485.6 678.8L486 678.8L486.3 678.8L486.4 678.8L486.6 678.8L487 678.8L487.3 678.8L487.3 678.8L487.6 678.8L488 678.8L488.1 678.8L488.3 678.8L488.6 678.8L489 678.8L489 678.8L489.3 678.8L489.6 678.8L489.8 678.8L490 678.8L490.3 678.8L490.6 678.8L490.7 678.8L491 678.8L491.3 678.8L491.5 678.8L491.6 678.8L492 678.8L492.3 678.8L492.4 678.8L492.6 678.8L493 678.8L493.2 678.8L493.3 678.8L493.6 678.8L494 678.8L494.1 678.8L494.3 678.8L494.9 678.8L495.8 678.8L496.6 678.8L497.4 678.8L498.3 678.8L499.1 678.8L500 678.8L500.8 678.8L501.7 678.8L502.5 678.8L503.4 678.8L504.2 678.7L505.1 678.7L505.9 678.5L506.8 678.4L507.6 678.1L508.5 677.7L509.3 677.2L510.2 676.5L511 675.8L511.9 675.1L512.7 674.5L513.5 674.1L514.4 673.8L515.2 673.9L516.1 674.2L516.9 674.7L517.8 675.3L518.6 676L519.5 676.7L520.3 677.3L521.2 677.8L522 678.2L522.9 678.4L523.7 678.6L524.6 678.7L525.4 678.7L526.3 678.8L527.1 678.8L527.9 678.8L528.8 678.8L529.6 678.8L530.5 678.8L531.3 678.8L532.2 678.8L533 678.8L533.9 678.8L534.7 678.8L535.6 678.8L536.4 678.8L537.3 678.8L538.1 678.8L539 678.8L539.8 678.8L540.7 678.8L541.5 678.8L541.5 678.8Z" fill="#80e8f8" stroke="#2040e0" stroke-width="0.5" opacity="1"/>
<path d="M453.4 678.5L454.2 678.5L455.1 678.5L455.9 678.5L456.8 678.5L457.6 678.5L458.5 678.5L459.3 678.5L460.2 678.5L461 678.5L461.9 678.5L462.7 678.5L463.6 678.5L464.4 678.5L465.3 678.5L466.1 678.5L467 678.5L467.8 678.5L468.6 678.5L469.5 678.5L470.3 678.5L471.2 678.5L472 678.5L472.9 678.5L473.7 678.5L474.6 678.5L475.4 678.5L476.3 678.5L476.3 678.5L476.6 678.5L477 678.5L477.1 678.5L477.3 678.5L477.6 678.5L478 678.5L478 678.5L478.3 678.5L478.6 678.5L478.8 678.4L479 678.4L479.3 678.3L479.6 678.1L479.7 678.1L480 677.7L480.3 677.1L480.5 676.5L480.6 676L481 674.3L481.3 671.7L481.4 671.1L481.6 667.9L482 662.6L482.2 657.8L482.3 655.5L482.6 646.7L483 636L483 633.2L483.3 624L483.6 611.2L483.9 601.1L484 598.4L484.3 586.9L484.6 577.7L484.7 575.3L485 571.7L485.3 569.6L485.6 571.2L485.6 571.7L486 577.6L486.3 586.7L486.4 591.2L486.6 598.1L487 610.7L487.3 622.8L487.3 623.3L487.6 635.2L488 645.7L488.1 650.2L488.3 654.4L488.6 661.2L489 666.4L489 666.5L489.3 670L489.6 672.5L489.8 673.6L490 674.2L490.3 675.2L490.6 675.7L490.7 675.8L491 676.1L491.3 676.3L491.5 676.3L491.6 676.4L492 676.4L492.3 676.4L492.4 676.4L492.6 676.4L493 676.4L493.2 676.5L493.3 676.5L493.6 676.5L494 676.5L494.1 676.5L494.3 676.5L494.9 676.5L495.8 676.6L496.6 676.6L497.4 676.7L498.3 676.7L499.1 676.7L500 676.8L500.8 676.8L501.7 676.9L502.5 676.9L503.4 676.9L504.2 676.9L505.1 676.9L505.9 676.8L506.8 676.7L507.6 676.4L508.5 676.1L509.3 675.6L510.2 675L511 674.4L511.9 673.7L512.7 673.1L513.5 672.9L514.4 672.9L515.2 673.1L516.1 673.7L516.9 674.4L517.8 675L518.6 675.7L519.5 676.4L520.3 677L521.2 677.5L522 677.9L522.9 678.1L523.7 678.3L524.6 678.4L525.4 678.4L526.3 678.5L527.1 678.5L527.9 678.5L528.8 678.5L529.6 678.5L530.5 678.5L531.3 678.5L532.2 678.5L533 678.5L533.9 678.5L534.7 678.5L535.6 678.5L536.4 678.5L537.3 678.5L538.1 678.5L539 678.5L539.8 678.5L540.7 678.5L541.5 678.5" fill="none" stroke="#222" stroke-width="0.55"/>
<path d="M453.4 679.1L541.5 679.1" stroke="#222" stroke-width="1.0" fill="none"/>
<path d="M453.4 679.8L541.5 679.8" stroke="#30c0c0" stroke-width="0.5" fill="none"/>
</g>
<path d="M472.8 680L472.8 682" stroke="#555" stroke-width="0.5" fill="none"/>
<text x="472.8" y="690.6" font-family="'Liberation Sans',Arial,sans-serif" font-size="4.3" font-weight="normal" text-anchor="middle" fill="#444">100K</text>
<path d="M493.3 680L493.3 682" stroke="#555" stroke-width="0.5" fill="none"/>
<text x="493.3" y="690.6" font-family="'Liberation Sans',Arial,sans-serif" font-size="4.3" font-weight="normal" text-anchor="middle" fill="#444">200K</text>
<path d="M513.8 680L513.8 682" stroke="#555" stroke-width="0.5" fill="none"/>
<text x="513.8" y="690.6" font-family="'Liberation Sans',Arial,sans-serif" font-size="4.3" font-weight="normal" text-anchor="middle" fill="#444">300K</text>
<path d="M534.3 680L534.3 682" stroke="#555" stroke-width="0.5" fill="none"/>
<text x="534.3" y="690.6" font-family="'Liberation Sans',Arial,sans-serif" font-size="4.3" font-weight="normal" text-anchor="middle" fill="#444">400K</text>
<path d="M456.4 680L456.4 681.1" stroke="#555" stroke-width="0.4" fill="none"/>
<path d="M460.5 680L460.5 681.1" stroke="#555" stroke-width="0.4" fill="none"/>
<path d="M464.6 680L464.6 681.1" stroke="#555" stroke-width="0.4" fill="none"/>
<path d="M468.7 680L468.7 681.1" stroke="#555" stroke-width="0.4" fill="none"/>
<path d="M472.8 680L472.8 681.1" stroke="#555" stroke-width="0.4" fill="none"/>
<path d="M476.9 680L476.9 681.1" stroke="#555" stroke-width="0.4" fill="none"/>
<path d="M481 680L481 681.1" stroke="#555" stroke-width="0.4" fill="none"/>
<path d="M485.1 680L485.1 681.1" stroke="#555" stroke-width="0.4" fill="none"/>
<path d="M489.2 680L489.2 681.1" stroke="#555" stroke-width="0.4" fill="none"/>
<path d="M493.3 680L493.3 681.1" stroke="#555" stroke-width="0.4" fill="none"/>
<path d="M497.4 680L497.4 681.1" stroke="#555" stroke-width="0.4" fill="none"/>
<path d="M501.5 680L501.5 681.1" stroke="#555" stroke-width="0.4" fill="none"/>
<path d="M505.6 680L505.6 681.1" stroke="#555" stroke-width="0.4" fill="none"/>
<path d="M509.7 680L509.7 681.1" stroke="#555" stroke-width="0.4" fill="none"/>
<path d="M513.8 680L513.8 681.1" stroke="#555" stroke-width="0.4" fill="none"/>
<path d="M517.9 680L517.9 681.1" stroke="#555" stroke-width="0.4" fill="none"/>
<path d="M522 680L522 681.1" stroke="#555" stroke-width="0.4" fill="none"/>
<path d="M526.1 680L526.1 681.1" stroke="#555" stroke-width="0.4" fill="none"/>
<path d="M530.2 680L530.2 681.1" stroke="#555" stroke-width="0.4" fill="none"/>
<path d="M534.3 680L534.3 681.1" stroke="#555" stroke-width="0.4" fill="none"/>
<path d="M538.4 680L538.4 681.1" stroke="#555" stroke-width="0.4" fill="none"/>
<path d="M451.4 580.5L453.4 580.5" stroke="#555" stroke-width="0.5" fill="none"/>
<text x="450.2" y="582" font-family="'Liberation Sans',Arial,sans-serif" font-size="4.3" font-weight="normal" text-anchor="end" fill="#444">1200</text>
<path d="M451.4 605L453.4 605" stroke="#555" stroke-width="0.5" fill="none"/>
<text x="450.2" y="606.5" font-family="'Liberation Sans',Arial,sans-serif" font-size="4.3" font-weight="normal" text-anchor="end" fill="#444">900</text>
<path d="M451.4 630L453.4 630" stroke="#555" stroke-width="0.5" fill="none"/>
<text x="450.2" y="631.5" font-family="'Liberation Sans',Arial,sans-serif" font-size="4.3" font-weight="normal" text-anchor="end" fill="#444">600</text>
<path d="M451.4 655L453.4 655" stroke="#555" stroke-width="0.5" fill="none"/>
<text x="450.2" y="656.5" font-family="'Liberation Sans',Arial,sans-serif" font-size="4.3" font-weight="normal" text-anchor="end" fill="#444">300</text>
<path d="M451.4 678.4L453.4 678.4" stroke="#555" stroke-width="0.5" fill="none"/>
<text x="450.2" y="679.9" font-family="'Liberation Sans',Arial,sans-serif" font-size="4.3" font-weight="normal" text-anchor="end" fill="#444">0</text>
<path d="M452.3 575.6L453.4 575.6" stroke="#555" stroke-width="0.4" fill="none"/>
<path d="M452.3 580.5L453.4 580.5" stroke="#555" stroke-width="0.4" fill="none"/>
<path d="M452.3 585.4L453.4 585.4" stroke="#555" stroke-width="0.4" fill="none"/>
<path d="M452.3 590.3L453.4 590.3" stroke="#555" stroke-width="0.4" fill="none"/>
<path d="M452.3 595.2L453.4 595.2" stroke="#555" stroke-width="0.4" fill="none"/>
<path d="M452.3 600.1L453.4 600.1" stroke="#555" stroke-width="0.4" fill="none"/>
<path d="M452.3 605L453.4 605" stroke="#555" stroke-width="0.4" fill="none"/>
<path d="M452.3 609.9L453.4 609.9" stroke="#555" stroke-width="0.4" fill="none"/>
<path d="M452.3 614.8L453.4 614.8" stroke="#555" stroke-width="0.4" fill="none"/>
<path d="M452.3 619.7L453.4 619.7" stroke="#555" stroke-width="0.4" fill="none"/>
<path d="M452.3 624.6L453.4 624.6" stroke="#555" stroke-width="0.4" fill="none"/>
<path d="M452.3 629.5L453.4 629.5" stroke="#555" stroke-width="0.4" fill="none"/>
<path d="M452.3 634.4L453.4 634.4" stroke="#555" stroke-width="0.4" fill="none"/>
<path d="M452.3 639.3L453.4 639.3" stroke="#555" stroke-width="0.4" fill="none"/>
<path d="M452.3 644.2L453.4 644.2" stroke="#555" stroke-width="0.4" fill="none"/>
<path d="M452.3 649.1L453.4 649.1" stroke="#555" stroke-width="0.4" fill="none"/>
<path d="M452.3 654L453.4 654" stroke="#555" stroke-width="0.4" fill="none"/>
<path d="M452.3 658.9L453.4 658.9" stroke="#555" stroke-width="0.4" fill="none"/>
<path d="M452.3 663.8L453.4 663.8" stroke="#555" stroke-width="0.4" fill="none"/>
<path d="M452.3 668.7L453.4 668.7" stroke="#555" stroke-width="0.4" fill="none"/>
<path d="M452.3 673.6L453.4 673.6" stroke="#555" stroke-width="0.4" fill="none"/>
<path d="M452.3 678.5L453.4 678.5" stroke="#555" stroke-width="0.4" fill="none"/>
<text x="434" y="625.8" font-family="'Liberation Sans',Arial,sans-serif" font-size="4.2" font-weight="normal" text-anchor="middle" fill="#444" transform="rotate(-90 434 625.8)">Count</text>
<text x="497.6" y="700.4" font-family="'Liberation Sans',Arial,sans-serif" font-size="4.2" font-weight="normal" text-anchor="middle" fill="#444">FL2-A</text>
<rect x="588.2" y="570.9" width="90.6" height="110.9" fill="#fff" stroke="#444" stroke-width="0.8"/>
<clipPath id="hc588"><rect x="588.2" y="570.9" width="90.6" height="110.9"/></clipPath><g clip-path="url(#hc588)">
<path d="M588.2 680.6L588.2 680.6L589 680.6L589.9 680.6L590.7 680.6L591.6 680.6L592.4 680.6L593.3 680.6L594.1 680.6L595 680.6L595.8 680.6L596.7 680.6L597.5 680.6L598.4 680.6L599.2 680.6L600.1 680.6L600.9 680.6L601.7 680.6L602.6 680.6L603.4 680.6L604.3 680.6L605.1 680.6L606 680.6L606.8 680.6L607.7 680.6L608.5 680.6L609.4 680.6L610.2 680.6L611.1 680.6L611.6 680.6L611.9 680.6L611.9 680.6L612.3 680.6L612.6 680.6L612.8 680.6L612.9 680.6L613.3 680.6L613.6 680.6L613.6 680.6L613.9 680.6L614.3 680.6L614.4 680.3L614.6 680.2L614.9 679.8L615.3 679.2L615.3 679.2L615.6 678.3L615.9 676.8L616.1 675.5L616.3 674.6L616.6 671.3L616.9 666.9L617 666L617.3 660.9L617.6 653.3L617.8 647L617.9 644.1L618.3 633.4L618.6 621.6L618.7 618.6L618.9 609.3L619.3 597.4L619.5 588.9L619.6 586.8L619.9 578.5L620.3 573.1L620.4 572L620.6 571.2L620.9 573L621.2 577.4L621.3 578.3L621.6 586.5L621.9 596.9L622.1 601.5L622.3 608.5L622.6 620.4L622.9 631.3L622.9 631.9L623.3 642.2L623.6 651.1L623.8 654.9L623.9 658.4L624.3 664.1L624.6 668.3L624.6 668.4L624.9 671.3L625.3 673.4L625.5 674.2L625.6 674.8L625.9 675.6L626.3 676.1L626.3 676.2L626.6 676.4L626.9 676.6L627.1 676.6L627.3 676.7L627.6 676.7L627.9 676.7L628 676.8L628.3 676.8L628.6 676.8L628.8 676.8L628.9 676.8L629.3 676.9L629.6 676.9L629.7 676.9L630.5 677L631.4 677.1L632.2 677.1L633.1 677.2L633.9 677.3L634.8 677.4L635.6 677.4L636.5 677.5L637.3 677.6L638.2 677.6L639 677.7L639.9 677.6L640.7 677.5L641.5 677.3L642.4 676.9L643.2 676.2L644.1 675.3L644.9 674.2L645.8 672.8L646.6 671.3L647.5 670L648.3 669.2L649.2 668.8L650 669L650.9 669.8L651.7 671.1L652.6 672.4L653.4 673.9L654.2 675.4L655.1 676.8L655.9 678L656.8 678.9L657.6 679.5L658.5 680L659.3 680.2L660.2 680.6L661 680.6L661.9 680.6L662.7 680.6L663.6 680.6L664.4 680.6L665.3 680.6L666.1 680.6L666.9 680.6L667.8 680.6L668.6 680.6L669.5 680.6L670.3 680.6L671.2 680.6L672 680.6L672.9 680.6L673.7 680.6L674.6 680.6L675.4 680.6L676.3 680.6L677.1 680.6L678 680.6L678.8 680.6L678.8 680.6Z" fill="#eee" stroke="#e010d0" stroke-width="1.1" opacity="1"/>
<path d="M588.2 680.6L588.2 680.6L589 680.6L589.9 680.6L590.7 680.6L591.6 680.6L592.4 680.6L593.3 680.6L594.1 680.6L595 680.6L595.8 680.6L596.7 680.6L597.5 680.6L598.4 680.6L599.2 680.6L600.1 680.6L600.9 680.6L601.7 680.6L602.6 680.6L603.4 680.6L604.3 680.6L605.1 680.6L606 680.6L606.8 680.6L607.7 680.6L608.5 680.6L609.4 680.6L610.2 680.6L611.1 680.6L611.6 680.6L611.9 680.6L611.9 680.6L612.3 680.6L612.6 680.6L612.8 680.6L612.9 680.6L613.3 680.6L613.6 680.6L613.6 680.6L613.9 680.6L614.3 680.6L614.4 680.6L614.6 680.6L614.9 680.6L615.3 680.6L615.3 680.6L615.6 680.6L615.9 680.6L616.1 680.6L616.3 680.6L616.6 680.6L616.9 680.6L617 680.6L617.3 680.6L617.6 680.6L617.8 680.6L617.9 680.6L618.3 680.6L618.6 680.6L618.7 680.6L618.9 680.6L619.3 680.6L619.5 680.6L619.6 680.6L619.9 680.6L620.3 680.6L620.4 680.6L620.6 680.6L620.9 680.6L621.2 680.4L621.3 680.4L621.6 680.1L621.9 679.8L622.1 679.6L622.3 679.4L622.6 678.9L622.9 678.4L622.9 678.4L623.3 677.9L623.6 677.5L623.8 677.3L623.9 677L624.3 676.6L624.6 676.3L624.6 676.3L624.9 676L625.3 675.7L625.5 675.6L625.6 675.6L625.9 675.4L626.3 675.3L626.3 675.3L626.6 675.2L626.9 675.2L627.1 675.1L627.3 675.2L627.6 675.1L627.9 675.1L628 675.2L628.3 675.2L628.6 675.2L628.8 675.2L628.9 675.2L629.3 675.3L629.6 675.3L629.7 675.4L630.5 675.4L631.4 675.5L632.2 675.6L633.1 675.8L633.9 675.9L634.8 676L635.6 676.1L636.5 676.2L637.3 676.3L638.2 676.4L639 676.5L639.9 676.7L640.7 676.8L641.5 676.9L642.4 677L643.2 677.1L644.1 677.2L644.9 677.3L645.8 677.5L646.6 677.6L647.5 677.7L648.3 678.3L649.2 678.9L650 679.5L650.9 680.1L651.7 680.6L652.6 680.6L653.4 680.6L654.2 680.6L655.1 680.6L655.9 680.6L656.8 680.6L657.6 680.6L658.5 680.6L659.3 680.6L660.2 680.6L661 680.6L661.9 680.6L662.7 680.6L663.6 680.6L664.4 680.6L665.3 680.6L666.1 680.6L666.9 680.6L667.8 680.6L668.6 680.6L669.5 680.6L670.3 680.6L671.2 680.6L672 680.6L672.9 680.6L673.7 680.6L674.6 680.6L675.4 680.6L676.3 680.6L677.1 680.6L678 680.6L678.8 680.6L678.8 680.6Z" fill="#e8e070" stroke="#a09020" stroke-width="0.3" opacity="1"/>
<path d="M588.2 680.6L588.2 680.6L589 680.6L589.9 680.6L590.7 680.6L591.6 680.6L592.4 680.6L593.3 680.6L594.1 680.6L595 680.6L595.8 680.6L596.7 680.6L597.5 680.6L598.4 680.6L599.2 680.6L600.1 680.6L600.9 680.6L601.7 680.6L602.6 680.6L603.4 680.6L604.3 680.6L605.1 680.6L606 680.6L606.8 680.6L607.7 680.6L608.5 680.6L609.4 680.6L610.2 680.6L611.1 680.6L611.6 680.6L611.9 680.6L611.9 680.6L612.3 680.6L612.6 680.6L612.8 680.6L612.9 680.6L613.3 680.6L613.6 680.5L613.6 680.5L613.9 680.5L614.3 680.4L614.4 680.3L614.6 680.2L614.9 679.8L615.3 679.2L615.3 679.2L615.6 678.3L615.9 676.8L616.1 675.5L616.3 674.6L616.6 671.3L616.9 666.9L617 666L617.3 660.9L617.6 653.3L617.8 647L617.9 644.1L618.3 633.4L618.6 621.6L618.7 618.6L618.9 609.3L619.3 597.4L619.5 588.9L619.6 586.8L619.9 578.5L620.3 573.1L620.4 572L620.6 571.2L620.9 573.1L621.2 577.5L621.3 578.5L621.6 586.8L621.9 597.4L622.1 602.2L622.3 609.3L622.6 621.6L622.9 632.8L622.9 633.4L623.3 644.1L623.6 653.3L623.8 657.2L623.9 660.9L624.3 666.9L624.6 671.3L624.6 671.4L624.9 674.6L625.3 676.8L625.5 677.7L625.6 678.3L625.9 679.2L626.3 679.8L626.3 679.9L626.6 680.2L626.9 680.4L627.1 680.5L627.3 680.5L627.6 680.5L627.9 680.6L628 680.6L628.3 680.6L628.6 680.6L628.8 680.6L628.9 680.6L629.3 680.6L629.6 680.6L629.7 680.6L630.5 680.6L631.4 680.6L632.2 680.6L633.1 680.6L633.9 680.6L634.8 680.6L635.6 680.6L636.5 680.6L637.3 680.6L638.2 680.6L639 680.6L639.9 680.6L640.7 680.6L641.5 680.6L642.4 680.6L643.2 680.6L644.1 680.6L644.9 680.6L645.8 680.6L646.6 680.6L647.5 680.6L648.3 680.6L649.2 680.6L650 680.6L650.9 680.6L651.7 680.6L652.6 680.6L653.4 680.6L654.2 680.6L655.1 680.6L655.9 680.6L656.8 680.6L657.6 680.6L658.5 680.6L659.3 680.6L660.2 680.6L661 680.6L661.9 680.6L662.7 680.6L663.6 680.6L664.4 680.6L665.3 680.6L666.1 680.6L666.9 680.6L667.8 680.6L668.6 680.6L669.5 680.6L670.3 680.6L671.2 680.6L672 680.6L672.9 680.6L673.7 680.6L674.6 680.6L675.4 680.6L676.3 680.6L677.1 680.6L678 680.6L678.8 680.6L678.8 680.6Z" fill="#90e888" stroke="#30a030" stroke-width="0.4" opacity="1"/>
<path d="M588.2 680.6L588.2 680.6L589 680.6L589.9 680.6L590.7 680.6L591.6 680.6L592.4 680.6L593.3 680.6L594.1 680.6L595 680.6L595.8 680.6L596.7 680.6L597.5 680.6L598.4 680.6L599.2 680.6L600.1 680.6L600.9 680.6L601.7 680.6L602.6 680.6L603.4 680.6L604.3 680.6L605.1 680.6L606 680.6L606.8 680.6L607.7 680.6L608.5 680.6L609.4 680.6L610.2 680.6L611.1 680.6L611.6 680.6L611.9 680.6L611.9 680.6L612.3 680.6L612.6 680.6L612.8 680.6L612.9 680.6L613.3 680.6L613.6 680.6L613.6 680.6L613.9 680.6L614.3 680.6L614.4 680.6L614.6 680.6L614.9 680.6L615.3 680.6L615.3 680.6L615.6 680.6L615.9 680.6L616.1 680.6L616.3 680.6L616.6 680.6L616.9 680.6L617 680.6L617.3 680.6L617.6 680.6L617.8 680.6L617.9 680.6L618.3 680.6L618.6 680.6L618.7 680.6L618.9 680.6L619.3 680.6L619.5 680.6L619.6 680.6L619.9 680.6L620.3 680.6L620.4 680.6L620.6 680.6L620.9 680.6L621.2 680.6L621.3 680.6L621.6 680.6L621.9 680.6L622.1 680.6L622.3 680.6L622.6 680.6L622.9 680.6L622.9 680.6L623.3 680.6L623.6 680.6L623.8 680.6L623.9 680.6L624.3 680.6L624.6 680.6L624.6 680.6L624.9 680.6L625.3 680.6L625.5 680.6L625.6 680.6L625.9 680.6L626.3 680.6L626.3 680.6L626.6 680.6L626.9 680.6L627.1 680.6L627.3 680.6L627.6 680.6L627.9 680.6L628 680.6L628.3 680.6L628.6 680.6L628.8 680.6L628.9 680.6L629.3 680.6L629.6 680.6L629.7 680.6L630.5 680.6L631.4 680.6L632.2 680.6L633.1 680.6L633.9 680.6L634.8 680.6L635.6 680.6L636.5 680.6L637.3 680.6L638.2 680.5L639 680.5L639.9 680.4L640.7 680.2L641.5 679.9L642.4 679.4L643.2 678.7L644.1 677.7L644.9 676.4L645.8 675L646.6 673.5L647.5 672L648.3 670.8L649.2 670L650 669.8L650.9 670.2L651.7 671.1L652.6 672.4L653.4 673.9L654.2 675.4L655.1 676.8L655.9 678L656.8 678.9L657.6 679.5L658.5 680L659.3 680.2L660.2 680.4L661 680.5L661.9 680.6L662.7 680.6L663.6 680.6L664.4 680.6L665.3 680.6L666.1 680.6L666.9 680.6L667.8 680.6L668.6 680.6L669.5 680.6L670.3 680.6L671.2 680.6L672 680.6L672.9 680.6L673.7 680.6L674.6 680.6L675.4 680.6L676.3 680.6L677.1 680.6L678 680.6L678.8 680.6L678.8 680.6Z" fill="#80e8f8" stroke="#2040e0" stroke-width="0.5" opacity="1"/>
<path d="M588.2 680.3L589 680.3L589.9 680.3L590.7 680.3L591.6 680.3L592.4 680.3L593.3 680.3L594.1 680.3L595 680.3L595.8 680.3L596.7 680.3L597.5 680.3L598.4 680.3L599.2 680.3L600.1 680.3L600.9 680.3L601.7 680.3L602.6 680.3L603.4 680.3L604.3 680.3L605.1 680.3L606 680.3L606.8 680.3L607.7 680.3L608.5 680.3L609.4 680.3L610.2 680.3L611.1 680.3L611.6 680.3L611.9 680.3L611.9 680.3L612.3 680.3L612.6 680.3L612.8 680.3L612.9 680.3L613.3 680.3L613.6 680.2L613.6 680.2L613.9 680.2L614.3 680.1L614.4 680L614.6 679.9L614.9 679.5L615.3 678.9L615.3 678.9L615.6 678L615.9 676.5L616.1 675.2L616.3 674.3L616.6 671L616.9 666.6L617 665.7L617.3 660.6L617.6 653L617.8 646.7L617.9 643.8L618.3 633.1L618.6 621.3L618.7 618.3L618.9 609L619.3 597.1L619.5 588.6L619.6 586.5L619.9 578.2L620.3 572.8L620.4 571.7L620.6 570.9L620.9 572.7L621.2 577.1L621.3 578L621.6 586.2L621.9 596.6L622.1 601.2L622.3 608.2L622.6 620.1L622.9 631L622.9 631.6L623.3 641.9L623.6 650.8L623.8 654.6L623.9 658.1L624.3 663.8L624.6 668L624.6 668.1L624.9 671L625.3 673.1L625.5 673.9L625.6 674.5L625.9 675.3L626.3 675.8L626.3 675.9L626.6 676.1L626.9 676.3L627.1 676.3L627.3 676.4L627.6 676.4L627.9 676.4L628 676.5L628.3 676.5L628.6 676.5L628.8 676.5L628.9 676.5L629.3 676.6L629.6 676.6L629.7 676.6L630.5 676.7L631.4 676.8L632.2 676.8L633.1 676.9L633.9 677L634.8 677.1L635.6 677.1L636.5 677.2L637.3 677.3L638.2 677.3L639 677.4L639.9 677.3L640.7 677.2L641.5 677L642.4 676.6L643.2 675.9L644.1 675L644.9 673.9L645.8 672.5L646.6 671L647.5 669.7L648.3 668.9L649.2 668.5L650 668.7L650.9 669.5L651.7 670.8L652.6 672.1L653.4 673.6L654.2 675.1L655.1 676.5L655.9 677.7L656.8 678.6L657.6 679.2L658.5 679.7L659.3 679.9L660.2 680.1L661 680.2L661.9 680.3L662.7 680.3L663.6 680.3L664.4 680.3L665.3 680.3L666.1 680.3L666.9 680.3L667.8 680.3L668.6 680.3L669.5 680.3L670.3 680.3L671.2 680.3L672 680.3L672.9 680.3L673.7 680.3L674.6 680.3L675.4 680.3L676.3 680.3L677.1 680.3L678 680.3L678.8 680.3" fill="none" stroke="#222" stroke-width="0.55"/>
<path d="M588.2 680.9L678.8 680.9" stroke="#222" stroke-width="1.0" fill="none"/>
<path d="M588.2 681.6L678.8 681.6" stroke="#30c0c0" stroke-width="0.5" fill="none"/>
</g>
<path d="M609.6 681.8L609.6 683.8" stroke="#555" stroke-width="0.5" fill="none"/>
<text x="609.6" y="692.4" font-family="'Liberation Sans',Arial,sans-serif" font-size="4.3" font-weight="normal" text-anchor="middle" fill="#444">100K</text>
<path d="M631.7 681.8L631.7 683.8" stroke="#555" stroke-width="0.5" fill="none"/>
<text x="631.7" y="692.4" font-family="'Liberation Sans',Arial,sans-serif" font-size="4.3" font-weight="normal" text-anchor="middle" fill="#444">200K</text>
<path d="M653.3 681.8L653.3 683.8" stroke="#555" stroke-width="0.5" fill="none"/>
<text x="653.3" y="692.4" font-family="'Liberation Sans',Arial,sans-serif" font-size="4.3" font-weight="normal" text-anchor="middle" fill="#444">300K</text>
<path d="M675.4 681.8L675.4 683.8" stroke="#555" stroke-width="0.5" fill="none"/>
<text x="675.4" y="692.4" font-family="'Liberation Sans',Arial,sans-serif" font-size="4.3" font-weight="normal" text-anchor="middle" fill="#444">400K</text>
<path d="M591.9 681.8L591.9 682.9" stroke="#555" stroke-width="0.4" fill="none"/>
<path d="M596.3 681.8L596.3 682.9" stroke="#555" stroke-width="0.4" fill="none"/>
<path d="M600.8 681.8L600.8 682.9" stroke="#555" stroke-width="0.4" fill="none"/>
<path d="M605.2 681.8L605.2 682.9" stroke="#555" stroke-width="0.4" fill="none"/>
<path d="M609.6 681.8L609.6 682.9" stroke="#555" stroke-width="0.4" fill="none"/>
<path d="M614 681.8L614 682.9" stroke="#555" stroke-width="0.4" fill="none"/>
<path d="M618.4 681.8L618.4 682.9" stroke="#555" stroke-width="0.4" fill="none"/>
<path d="M622.9 681.8L622.9 682.9" stroke="#555" stroke-width="0.4" fill="none"/>
<path d="M627.3 681.8L627.3 682.9" stroke="#555" stroke-width="0.4" fill="none"/>
<path d="M631.7 681.8L631.7 682.9" stroke="#555" stroke-width="0.4" fill="none"/>
<path d="M636.1 681.8L636.1 682.9" stroke="#555" stroke-width="0.4" fill="none"/>
<path d="M640.5 681.8L640.5 682.9" stroke="#555" stroke-width="0.4" fill="none"/>
<path d="M645 681.8L645 682.9" stroke="#555" stroke-width="0.4" fill="none"/>
<path d="M649.4 681.8L649.4 682.9" stroke="#555" stroke-width="0.4" fill="none"/>
<path d="M653.8 681.8L653.8 682.9" stroke="#555" stroke-width="0.4" fill="none"/>
<path d="M658.2 681.8L658.2 682.9" stroke="#555" stroke-width="0.4" fill="none"/>
<path d="M662.6 681.8L662.6 682.9" stroke="#555" stroke-width="0.4" fill="none"/>
<path d="M667.1 681.8L667.1 682.9" stroke="#555" stroke-width="0.4" fill="none"/>
<path d="M671.5 681.8L671.5 682.9" stroke="#555" stroke-width="0.4" fill="none"/>
<path d="M675.9 681.8L675.9 682.9" stroke="#555" stroke-width="0.4" fill="none"/>
<path d="M586.2 583.4L588.2 583.4" stroke="#555" stroke-width="0.5" fill="none"/>
<text x="585" y="584.9" font-family="'Liberation Sans',Arial,sans-serif" font-size="4.3" font-weight="normal" text-anchor="end" fill="#444">800</text>
<path d="M586.2 608.3L588.2 608.3" stroke="#555" stroke-width="0.5" fill="none"/>
<text x="585" y="609.8" font-family="'Liberation Sans',Arial,sans-serif" font-size="4.3" font-weight="normal" text-anchor="end" fill="#444">600</text>
<path d="M586.2 632.8L588.2 632.8" stroke="#555" stroke-width="0.5" fill="none"/>
<text x="585" y="634.3" font-family="'Liberation Sans',Arial,sans-serif" font-size="4.3" font-weight="normal" text-anchor="end" fill="#444">400</text>
<path d="M586.2 657.4L588.2 657.4" stroke="#555" stroke-width="0.5" fill="none"/>
<text x="585" y="658.9" font-family="'Liberation Sans',Arial,sans-serif" font-size="4.3" font-weight="normal" text-anchor="end" fill="#444">200</text>
<path d="M586.2 680.2L588.2 680.2" stroke="#555" stroke-width="0.5" fill="none"/>
<text x="585" y="681.7" font-family="'Liberation Sans',Arial,sans-serif" font-size="4.3" font-weight="normal" text-anchor="end" fill="#444">0</text>
<path d="M587.1 578.4L588.2 578.4" stroke="#555" stroke-width="0.4" fill="none"/>
<path d="M587.1 583.4L588.2 583.4" stroke="#555" stroke-width="0.4" fill="none"/>
<path d="M587.1 588.4L588.2 588.4" stroke="#555" stroke-width="0.4" fill="none"/>
<path d="M587.1 593.4L588.2 593.4" stroke="#555" stroke-width="0.4" fill="none"/>
<path d="M587.1 598.3L588.2 598.3" stroke="#555" stroke-width="0.4" fill="none"/>
<path d="M587.1 603.3L588.2 603.3" stroke="#555" stroke-width="0.4" fill="none"/>
<path d="M587.1 608.3L588.2 608.3" stroke="#555" stroke-width="0.4" fill="none"/>
<path d="M587.1 613.3L588.2 613.3" stroke="#555" stroke-width="0.4" fill="none"/>
<path d="M587.1 618.3L588.2 618.3" stroke="#555" stroke-width="0.4" fill="none"/>
<path d="M587.1 623.2L588.2 623.2" stroke="#555" stroke-width="0.4" fill="none"/>
<path d="M587.1 628.2L588.2 628.2" stroke="#555" stroke-width="0.4" fill="none"/>
<path d="M587.1 633.2L588.2 633.2" stroke="#555" stroke-width="0.4" fill="none"/>
<path d="M587.1 638.2L588.2 638.2" stroke="#555" stroke-width="0.4" fill="none"/>
<path d="M587.1 643.2L588.2 643.2" stroke="#555" stroke-width="0.4" fill="none"/>
<path d="M587.1 648.1L588.2 648.1" stroke="#555" stroke-width="0.4" fill="none"/>
<path d="M587.1 653.1L588.2 653.1" stroke="#555" stroke-width="0.4" fill="none"/>
<path d="M587.1 658.1L588.2 658.1" stroke="#555" stroke-width="0.4" fill="none"/>
<path d="M587.1 663.1L588.2 663.1" stroke="#555" stroke-width="0.4" fill="none"/>
<path d="M587.1 668.1L588.2 668.1" stroke="#555" stroke-width="0.4" fill="none"/>
<path d="M587.1 673L588.2 673" stroke="#555" stroke-width="0.4" fill="none"/>
<path d="M587.1 678L588.2 678" stroke="#555" stroke-width="0.4" fill="none"/>
<text x="570.5" y="627.3" font-family="'Liberation Sans',Arial,sans-serif" font-size="4.2" font-weight="normal" text-anchor="middle" fill="#444" transform="rotate(-90 570.5 627.3)">Count</text>
<text x="633.5" y="703" font-family="'Liberation Sans',Arial,sans-serif" font-size="4.2" font-weight="normal" text-anchor="middle" fill="#444">FL2-A</text>
<rect x="714.5" y="573.2" width="90.4" height="111.3" fill="#fff" stroke="#444" stroke-width="0.8"/>
<clipPath id="hc714"><rect x="714.5" y="573.2" width="90.4" height="111.3"/></clipPath><g clip-path="url(#hc714)">
<path d="M714.5 683.3L714.5 683.3L715.3 683.3L716.2 683.3L717 683.3L717.9 683.3L718.7 683.3L719.6 683.3L720.4 683.3L721.3 683.3L722.1 683.3L722.9 683.3L723.8 683.3L724.6 683.3L725.5 683.3L726.3 683.3L727.2 683.3L728 683.3L728.9 683.3L729.7 683.3L730.6 683.3L731.4 683.3L732.2 683.3L733.1 683.3L733.9 683.3L734.8 683.3L735.6 683.3L736.5 683.3L737.3 683.3L737.8 683.3L738.1 683.3L738.2 683.3L738.5 683.3L738.8 683.3L739 683.3L739.1 683.3L739.5 683.3L739.8 683.3L739.8 683.3L740.1 682.9L740.5 682.6L740.7 682.3L740.8 682.1L741.1 681.3L741.5 680.2L741.5 679.9L741.8 678.5L742.1 676.1L742.4 673.7L742.5 672.8L742.8 668.4L743.1 662.8L743.2 661.1L743.5 655.9L743.8 647.7L744.1 640L744.1 638.2L744.5 627.7L744.8 616.7L744.9 612.9L745.1 605.7L745.5 595.4L745.8 587.4L745.8 586.4L746.1 579.4L746.5 575L746.6 574L746.8 573.5L747.1 575L747.4 579L747.5 579.3L747.8 586.1L748.1 594.8L748.3 599.6L748.5 604.9L748.8 615.6L749.1 626.3L749.1 626.5L749.5 636.4L749.8 645.6L750 650.2L750.1 653.6L750.5 660.3L750.8 665.6L750.8 666.1L751.1 669.8L751.5 672.9L751.7 674.4L751.8 675.2L752.1 676.8L752.5 677.9L752.5 678L752.8 678.6L753.1 679.1L753.4 679.3L753.5 679.4L753.8 679.5L754.1 679.6L754.2 679.7L754.5 679.7L754.8 679.8L755.1 679.8L755.1 679.8L755.5 679.8L755.8 679.9L755.9 679.9L756.7 680L757.6 680L758.4 680.1L759.3 680.2L760.1 680.2L761 680.3L761.8 680.4L762.7 680.4L763.5 680.5L764.3 680.5L765.2 680.6L766 680.5L766.9 680.4L767.7 680.1L768.6 679.7L769.4 679L770.3 677.9L771.1 676.6L772 674.9L772.8 673.1L773.6 671.2L774.5 669.7L775.3 668.8L776.2 668.7L777 669.2L777.9 670.4L778.7 672.2L779.6 674L780.4 676L781.2 677.8L782.1 679.4L782.9 680.7L783.8 681.6L784.6 682.3L785.5 682.7L786.3 683L787.2 683.3L788 683.3L788.8 683.3L789.7 683.3L790.5 683.3L791.4 683.3L792.2 683.3L793.1 683.3L793.9 683.3L794.8 683.3L795.6 683.3L796.5 683.3L797.3 683.3L798.1 683.3L799 683.3L799.8 683.3L800.7 683.3L801.5 683.3L802.4 683.3L803.2 683.3L804.1 683.3L804.9 683.3L804.9 683.3Z" fill="#eee" stroke="#e010d0" stroke-width="1.1" opacity="1"/>
<path d="M714.5 683.3L714.5 683.3L715.3 683.3L716.2 683.3L717 683.3L717.9 683.3L718.7 683.3L719.6 683.3L720.4 683.3L721.3 683.3L722.1 683.3L722.9 683.3L723.8 683.3L724.6 683.3L725.5 683.3L726.3 683.3L727.2 683.3L728 683.3L728.9 683.3L729.7 683.3L730.6 683.3L731.4 683.3L732.2 683.3L733.1 683.3L733.9 683.3L734.8 683.3L735.6 683.3L736.5 683.3L737.3 683.3L737.8 683.3L738.1 683.3L738.2 683.3L738.5 683.3L738.8 683.3L739 683.3L739.1 683.3L739.5 683.3L739.8 683.3L739.8 683.3L740.1 683.3L740.5 683.3L740.7 683.3L740.8 683.3L741.1 683.3L741.5 683.3L741.5 683.3L741.8 683.3L742.1 683.3L742.4 683.3L742.5 683.3L742.8 683.3L743.1 683.3L743.2 683.3L743.5 683.3L743.8 683.3L744.1 683.3L744.1 683.3L744.5 683.3L744.8 683.3L744.9 683.3L745.1 683.3L745.5 683.3L745.8 683.3L745.8 683.3L746.1 683.3L746.5 683.3L746.6 683.3L746.8 683.3L747.1 683.3L747.4 683.1L747.5 683.1L747.8 682.8L748.1 682.5L748.3 682.3L748.5 682.1L748.8 681.7L749.1 681.3L749.1 681.3L749.5 680.8L749.8 680.4L750 680.2L750.1 680L750.5 679.6L750.8 679.3L750.8 679.3L751.1 679L751.5 678.8L751.7 678.7L751.8 678.6L752.1 678.5L752.5 678.4L752.5 678.4L752.8 678.3L753.1 678.3L753.4 678.3L753.5 678.3L753.8 678.3L754.1 678.2L754.2 678.3L754.5 678.3L754.8 678.3L755.1 678.3L755.1 678.3L755.5 678.4L755.8 678.4L755.9 678.5L756.7 678.5L757.6 678.6L758.4 678.7L759.3 678.8L760.1 678.9L761 679L761.8 679.1L762.7 679.2L763.5 679.3L764.3 679.4L765.2 679.5L766 679.6L766.9 679.7L767.7 679.8L768.6 679.9L769.4 680.1L770.3 680.2L771.1 680.3L772 680.4L772.8 680.5L773.6 680.6L774.5 680.7L775.3 681.2L776.2 681.8L777 682.3L777.9 682.8L778.7 683.3L779.6 683.3L780.4 683.3L781.2 683.3L782.1 683.3L782.9 683.3L783.8 683.3L784.6 683.3L785.5 683.3L786.3 683.3L787.2 683.3L788 683.3L788.8 683.3L789.7 683.3L790.5 683.3L791.4 683.3L792.2 683.3L793.1 683.3L793.9 683.3L794.8 683.3L795.6 683.3L796.5 683.3L797.3 683.3L798.1 683.3L799 683.3L799.8 683.3L800.7 683.3L801.5 683.3L802.4 683.3L803.2 683.3L804.1 683.3L804.9 683.3L804.9 683.3Z" fill="#e8e070" stroke="#a09020" stroke-width="0.3" opacity="1"/>
<path d="M714.5 683.3L714.5 683.3L715.3 683.3L716.2 683.3L717 683.3L717.9 683.3L718.7 683.3L719.6 683.3L720.4 683.3L721.3 683.3L722.1 683.3L722.9 683.3L723.8 683.3L724.6 683.3L725.5 683.3L726.3 683.3L727.2 683.3L728 683.3L728.9 683.3L729.7 683.3L730.6 683.3L731.4 683.3L732.2 683.3L733.1 683.3L733.9 683.3L734.8 683.3L735.6 683.3L736.5 683.3L737.3 683.3L737.8 683.3L738.1 683.3L738.2 683.3L738.5 683.3L738.8 683.3L739 683.2L739.1 683.2L739.5 683.2L739.8 683.1L739.8 683L740.1 682.9L740.5 682.6L740.7 682.3L740.8 682.1L741.1 681.3L741.5 680.2L741.5 679.9L741.8 678.5L742.1 676.1L742.4 673.7L742.5 672.8L742.8 668.4L743.1 662.8L743.2 661.1L743.5 655.9L743.8 647.7L744.1 640L744.1 638.2L744.5 627.7L744.8 616.7L744.9 612.9L745.1 605.7L745.5 595.4L745.8 587.4L745.8 586.4L746.1 579.4L746.5 575L746.6 574L746.8 573.5L747.1 575L747.4 579.1L747.5 579.4L747.8 586.4L748.1 595.4L748.3 600.2L748.5 605.7L748.8 616.7L749.1 627.7L749.1 627.9L749.5 638.2L749.8 647.7L750 652.4L750.1 655.9L750.5 662.8L750.8 668.4L750.8 668.9L751.1 672.8L751.5 676.1L751.7 677.7L751.8 678.5L752.1 680.2L752.5 681.3L752.5 681.5L752.8 682.1L753.1 682.6L753.4 682.8L753.5 682.9L753.8 683.1L754.1 683.2L754.2 683.2L754.5 683.2L754.8 683.3L755.1 683.3L755.1 683.3L755.5 683.3L755.8 683.3L755.9 683.3L756.7 683.3L757.6 683.3L758.4 683.3L759.3 683.3L760.1 683.3L761 683.3L761.8 683.3L762.7 683.3L763.5 683.3L764.3 683.3L765.2 683.3L766 683.3L766.9 683.3L767.7 683.3L768.6 683.3L769.4 683.3L770.3 683.3L771.1 683.3L772 683.3L772.8 683.3L773.6 683.3L774.5 683.3L775.3 683.3L776.2 683.3L777 683.3L777.9 683.3L778.7 683.3L779.6 683.3L780.4 683.3L781.2 683.3L782.1 683.3L782.9 683.3L783.8 683.3L784.6 683.3L785.5 683.3L786.3 683.3L787.2 683.3L788 683.3L788.8 683.3L789.7 683.3L790.5 683.3L791.4 683.3L792.2 683.3L793.1 683.3L793.9 683.3L794.8 683.3L795.6 683.3L796.5 683.3L797.3 683.3L798.1 683.3L799 683.3L799.8 683.3L800.7 683.3L801.5 683.3L802.4 683.3L803.2 683.3L804.1 683.3L804.9 683.3L804.9 683.3Z" fill="#90e888" stroke="#30a030" stroke-width="0.4" opacity="1"/>
<path d="M714.5 683.3L714.5 683.3L715.3 683.3L716.2 683.3L717 683.3L717.9 683.3L718.7 683.3L719.6 683.3L720.4 683.3L721.3 683.3L722.1 683.3L722.9 683.3L723.8 683.3L724.6 683.3L725.5 683.3L726.3 683.3L727.2 683.3L728 683.3L728.9 683.3L729.7 683.3L730.6 683.3L731.4 683.3L732.2 683.3L733.1 683.3L733.9 683.3L734.8 683.3L735.6 683.3L736.5 683.3L737.3 683.3L737.8 683.3L738.1 683.3L738.2 683.3L738.5 683.3L738.8 683.3L739 683.3L739.1 683.3L739.5 683.3L739.8 683.3L739.8 683.3L740.1 683.3L740.5 683.3L740.7 683.3L740.8 683.3L741.1 683.3L741.5 683.3L741.5 683.3L741.8 683.3L742.1 683.3L742.4 683.3L742.5 683.3L742.8 683.3L743.1 683.3L743.2 683.3L743.5 683.3L743.8 683.3L744.1 683.3L744.1 683.3L744.5 683.3L744.8 683.3L744.9 683.3L745.1 683.3L745.5 683.3L745.8 683.3L745.8 683.3L746.1 683.3L746.5 683.3L746.6 683.3L746.8 683.3L747.1 683.3L747.4 683.3L747.5 683.3L747.8 683.3L748.1 683.3L748.3 683.3L748.5 683.3L748.8 683.3L749.1 683.3L749.1 683.3L749.5 683.3L749.8 683.3L750 683.3L750.1 683.3L750.5 683.3L750.8 683.3L750.8 683.3L751.1 683.3L751.5 683.3L751.7 683.3L751.8 683.3L752.1 683.3L752.5 683.3L752.5 683.3L752.8 683.3L753.1 683.3L753.4 683.3L753.5 683.3L753.8 683.3L754.1 683.3L754.2 683.3L754.5 683.3L754.8 683.3L755.1 683.3L755.1 683.3L755.5 683.3L755.8 683.3L755.9 683.3L756.7 683.3L757.6 683.3L758.4 683.3L759.3 683.3L760.1 683.3L761 683.3L761.8 683.3L762.7 683.3L763.5 683.3L764.3 683.2L765.2 683.2L766 683.1L766.9 682.9L767.7 682.6L768.6 682L769.4 681.2L770.3 680.1L771.1 678.7L772 677L772.8 675.1L773.6 673.2L774.5 671.5L775.3 670.3L776.2 669.7L777 669.9L777.9 670.8L778.7 672.2L779.6 674L780.4 676L781.2 677.8L782.1 679.4L782.9 680.7L783.8 681.6L784.6 682.3L785.5 682.7L786.3 683L787.2 683.1L788 683.2L788.8 683.3L789.7 683.3L790.5 683.3L791.4 683.3L792.2 683.3L793.1 683.3L793.9 683.3L794.8 683.3L795.6 683.3L796.5 683.3L797.3 683.3L798.1 683.3L799 683.3L799.8 683.3L800.7 683.3L801.5 683.3L802.4 683.3L803.2 683.3L804.1 683.3L804.9 683.3L804.9 683.3Z" fill="#80e8f8" stroke="#2040e0" stroke-width="0.5" opacity="1"/>
<path d="M714.5 683L715.3 683L716.2 683L717 683L717.9 683L718.7 683L719.6 683L720.4 683L721.3 683L722.1 683L722.9 683L723.8 683L724.6 683L725.5 683L726.3 683L727.2 683L728 683L728.9 683L729.7 683L730.6 683L731.4 683L732.2 683L733.1 683L733.9 683L734.8 683L735.6 683L736.5 683L737.3 683L737.8 683L738.1 683L738.2 683L738.5 683L738.8 683L739 682.9L739.1 682.9L739.5 682.9L739.8 682.8L739.8 682.7L740.1 682.6L740.5 682.3L740.7 682L740.8 681.8L741.1 681L741.5 679.9L741.5 679.6L741.8 678.2L742.1 675.8L742.4 673.4L742.5 672.5L742.8 668.1L743.1 662.5L743.2 660.8L743.5 655.6L743.8 647.4L744.1 639.7L744.1 637.9L744.5 627.4L744.8 616.4L744.9 612.6L745.1 605.4L745.5 595.1L745.8 587.1L745.8 586.1L746.1 579.1L746.5 574.7L746.6 573.7L746.8 573.2L747.1 574.7L747.4 578.7L747.5 579L747.8 585.8L748.1 594.5L748.3 599.3L748.5 604.6L748.8 615.3L749.1 626L749.1 626.2L749.5 636.1L749.8 645.3L750 649.9L750.1 653.3L750.5 660L750.8 665.3L750.8 665.8L751.1 669.5L751.5 672.6L751.7 674.1L751.8 674.9L752.1 676.5L752.5 677.6L752.5 677.7L752.8 678.3L753.1 678.8L753.4 679L753.5 679.1L753.8 679.2L754.1 679.3L754.2 679.4L754.5 679.4L754.8 679.5L755.1 679.5L755.1 679.5L755.5 679.5L755.8 679.6L755.9 679.6L756.7 679.7L757.6 679.7L758.4 679.8L759.3 679.9L760.1 679.9L761 680L761.8 680.1L762.7 680.1L763.5 680.2L764.3 680.2L765.2 680.3L766 680.2L766.9 680.1L767.7 679.8L768.6 679.4L769.4 678.7L770.3 677.6L771.1 676.3L772 674.6L772.8 672.8L773.6 670.9L774.5 669.4L775.3 668.5L776.2 668.4L777 668.9L777.9 670.1L778.7 671.9L779.6 673.7L780.4 675.7L781.2 677.5L782.1 679.1L782.9 680.4L783.8 681.3L784.6 682L785.5 682.4L786.3 682.7L787.2 682.8L788 682.9L788.8 683L789.7 683L790.5 683L791.4 683L792.2 683L793.1 683L793.9 683L794.8 683L795.6 683L796.5 683L797.3 683L798.1 683L799 683L799.8 683L800.7 683L801.5 683L802.4 683L803.2 683L804.1 683L804.9 683" fill="none" stroke="#222" stroke-width="0.55"/>
<path d="M714.5 683.6L804.9 683.6" stroke="#222" stroke-width="1.0" fill="none"/>
<path d="M714.5 684.3L804.9 684.3" stroke="#30c0c0" stroke-width="0.5" fill="none"/>
</g>
<path d="M735.4 684.5L735.4 686.5" stroke="#555" stroke-width="0.5" fill="none"/>
<text x="735.4" y="695.1" font-family="'Liberation Sans',Arial,sans-serif" font-size="4.3" font-weight="normal" text-anchor="middle" fill="#444">100K</text>
<path d="M757.7 684.5L757.7 686.5" stroke="#555" stroke-width="0.5" fill="none"/>
<text x="757.7" y="695.1" font-family="'Liberation Sans',Arial,sans-serif" font-size="4.3" font-weight="normal" text-anchor="middle" fill="#444">200K</text>
<path d="M779.4 684.5L779.4 686.5" stroke="#555" stroke-width="0.5" fill="none"/>
<text x="779.4" y="695.1" font-family="'Liberation Sans',Arial,sans-serif" font-size="4.3" font-weight="normal" text-anchor="middle" fill="#444">300K</text>
<path d="M801.4 684.5L801.4 686.5" stroke="#555" stroke-width="0.5" fill="none"/>
<text x="801.4" y="695.1" font-family="'Liberation Sans',Arial,sans-serif" font-size="4.3" font-weight="normal" text-anchor="middle" fill="#444">400K</text>
<path d="M717.6 684.5L717.6 685.6" stroke="#555" stroke-width="0.4" fill="none"/>
<path d="M722 684.5L722 685.6" stroke="#555" stroke-width="0.4" fill="none"/>
<path d="M726.5 684.5L726.5 685.6" stroke="#555" stroke-width="0.4" fill="none"/>
<path d="M730.9 684.5L730.9 685.6" stroke="#555" stroke-width="0.4" fill="none"/>
<path d="M735.4 684.5L735.4 685.6" stroke="#555" stroke-width="0.4" fill="none"/>
<path d="M739.9 684.5L739.9 685.6" stroke="#555" stroke-width="0.4" fill="none"/>
<path d="M744.3 684.5L744.3 685.6" stroke="#555" stroke-width="0.4" fill="none"/>
<path d="M748.8 684.5L748.8 685.6" stroke="#555" stroke-width="0.4" fill="none"/>
<path d="M753.2 684.5L753.2 685.6" stroke="#555" stroke-width="0.4" fill="none"/>
<path d="M757.7 684.5L757.7 685.6" stroke="#555" stroke-width="0.4" fill="none"/>
<path d="M762.2 684.5L762.2 685.6" stroke="#555" stroke-width="0.4" fill="none"/>
<path d="M766.6 684.5L766.6 685.6" stroke="#555" stroke-width="0.4" fill="none"/>
<path d="M771.1 684.5L771.1 685.6" stroke="#555" stroke-width="0.4" fill="none"/>
<path d="M775.5 684.5L775.5 685.6" stroke="#555" stroke-width="0.4" fill="none"/>
<path d="M780 684.5L780 685.6" stroke="#555" stroke-width="0.4" fill="none"/>
<path d="M784.5 684.5L784.5 685.6" stroke="#555" stroke-width="0.4" fill="none"/>
<path d="M788.9 684.5L788.9 685.6" stroke="#555" stroke-width="0.4" fill="none"/>
<path d="M793.4 684.5L793.4 685.6" stroke="#555" stroke-width="0.4" fill="none"/>
<path d="M797.8 684.5L797.8 685.6" stroke="#555" stroke-width="0.4" fill="none"/>
<path d="M802.3 684.5L802.3 685.6" stroke="#555" stroke-width="0.4" fill="none"/>
<path d="M712.5 579.8L714.5 579.8" stroke="#555" stroke-width="0.5" fill="none"/>
<text x="711.3" y="581.3" font-family="'Liberation Sans',Arial,sans-serif" font-size="4.3" font-weight="normal" text-anchor="end" fill="#444">800</text>
<path d="M712.5 606.2L714.5 606.2" stroke="#555" stroke-width="0.5" fill="none"/>
<text x="711.3" y="607.7" font-family="'Liberation Sans',Arial,sans-serif" font-size="4.3" font-weight="normal" text-anchor="end" fill="#444">600</text>
<path d="M712.5 632.4L714.5 632.4" stroke="#555" stroke-width="0.5" fill="none"/>
<text x="711.3" y="633.9" font-family="'Liberation Sans',Arial,sans-serif" font-size="4.3" font-weight="normal" text-anchor="end" fill="#444">400</text>
<path d="M712.5 658.6L714.5 658.6" stroke="#555" stroke-width="0.5" fill="none"/>
<text x="711.3" y="660.1" font-family="'Liberation Sans',Arial,sans-serif" font-size="4.3" font-weight="normal" text-anchor="end" fill="#444">200</text>
<path d="M712.5 682.9L714.5 682.9" stroke="#555" stroke-width="0.5" fill="none"/>
<text x="711.3" y="684.4" font-family="'Liberation Sans',Arial,sans-serif" font-size="4.3" font-weight="normal" text-anchor="end" fill="#444">0</text>
<path d="M713.4 574.5L714.5 574.5" stroke="#555" stroke-width="0.4" fill="none"/>
<path d="M713.4 579.8L714.5 579.8" stroke="#555" stroke-width="0.4" fill="none"/>
<path d="M713.4 585.1L714.5 585.1" stroke="#555" stroke-width="0.4" fill="none"/>
<path d="M713.4 590.4L714.5 590.4" stroke="#555" stroke-width="0.4" fill="none"/>
<path d="M713.4 595.6L714.5 595.6" stroke="#555" stroke-width="0.4" fill="none"/>
<path d="M713.4 600.9L714.5 600.9" stroke="#555" stroke-width="0.4" fill="none"/>
<path d="M713.4 606.2L714.5 606.2" stroke="#555" stroke-width="0.4" fill="none"/>
<path d="M713.4 611.5L714.5 611.5" stroke="#555" stroke-width="0.4" fill="none"/>
<path d="M713.4 616.8L714.5 616.8" stroke="#555" stroke-width="0.4" fill="none"/>
<path d="M713.4 622L714.5 622" stroke="#555" stroke-width="0.4" fill="none"/>
<path d="M713.4 627.3L714.5 627.3" stroke="#555" stroke-width="0.4" fill="none"/>
<path d="M713.4 632.6L714.5 632.6" stroke="#555" stroke-width="0.4" fill="none"/>
<path d="M713.4 637.9L714.5 637.9" stroke="#555" stroke-width="0.4" fill="none"/>
<path d="M713.4 643.2L714.5 643.2" stroke="#555" stroke-width="0.4" fill="none"/>
<path d="M713.4 648.4L714.5 648.4" stroke="#555" stroke-width="0.4" fill="none"/>
<path d="M713.4 653.7L714.5 653.7" stroke="#555" stroke-width="0.4" fill="none"/>
<path d="M713.4 659L714.5 659" stroke="#555" stroke-width="0.4" fill="none"/>
<path d="M713.4 664.3L714.5 664.3" stroke="#555" stroke-width="0.4" fill="none"/>
<path d="M713.4 669.6L714.5 669.6" stroke="#555" stroke-width="0.4" fill="none"/>
<path d="M713.4 674.8L714.5 674.8" stroke="#555" stroke-width="0.4" fill="none"/>
<path d="M713.4 680.1L714.5 680.1" stroke="#555" stroke-width="0.4" fill="none"/>
<text x="697.5" y="629.9" font-family="'Liberation Sans',Arial,sans-serif" font-size="4.2" font-weight="normal" text-anchor="middle" fill="#444" transform="rotate(-90 697.5 629.9)">Count</text>
<text x="759.6" y="705.4" font-family="'Liberation Sans',Arial,sans-serif" font-size="4.2" font-weight="normal" text-anchor="middle" fill="#444">FL2-A</text>
<rect x="550.5" y="707.5" width="1" height="1" fill="#888"/>
</svg></body></html>
